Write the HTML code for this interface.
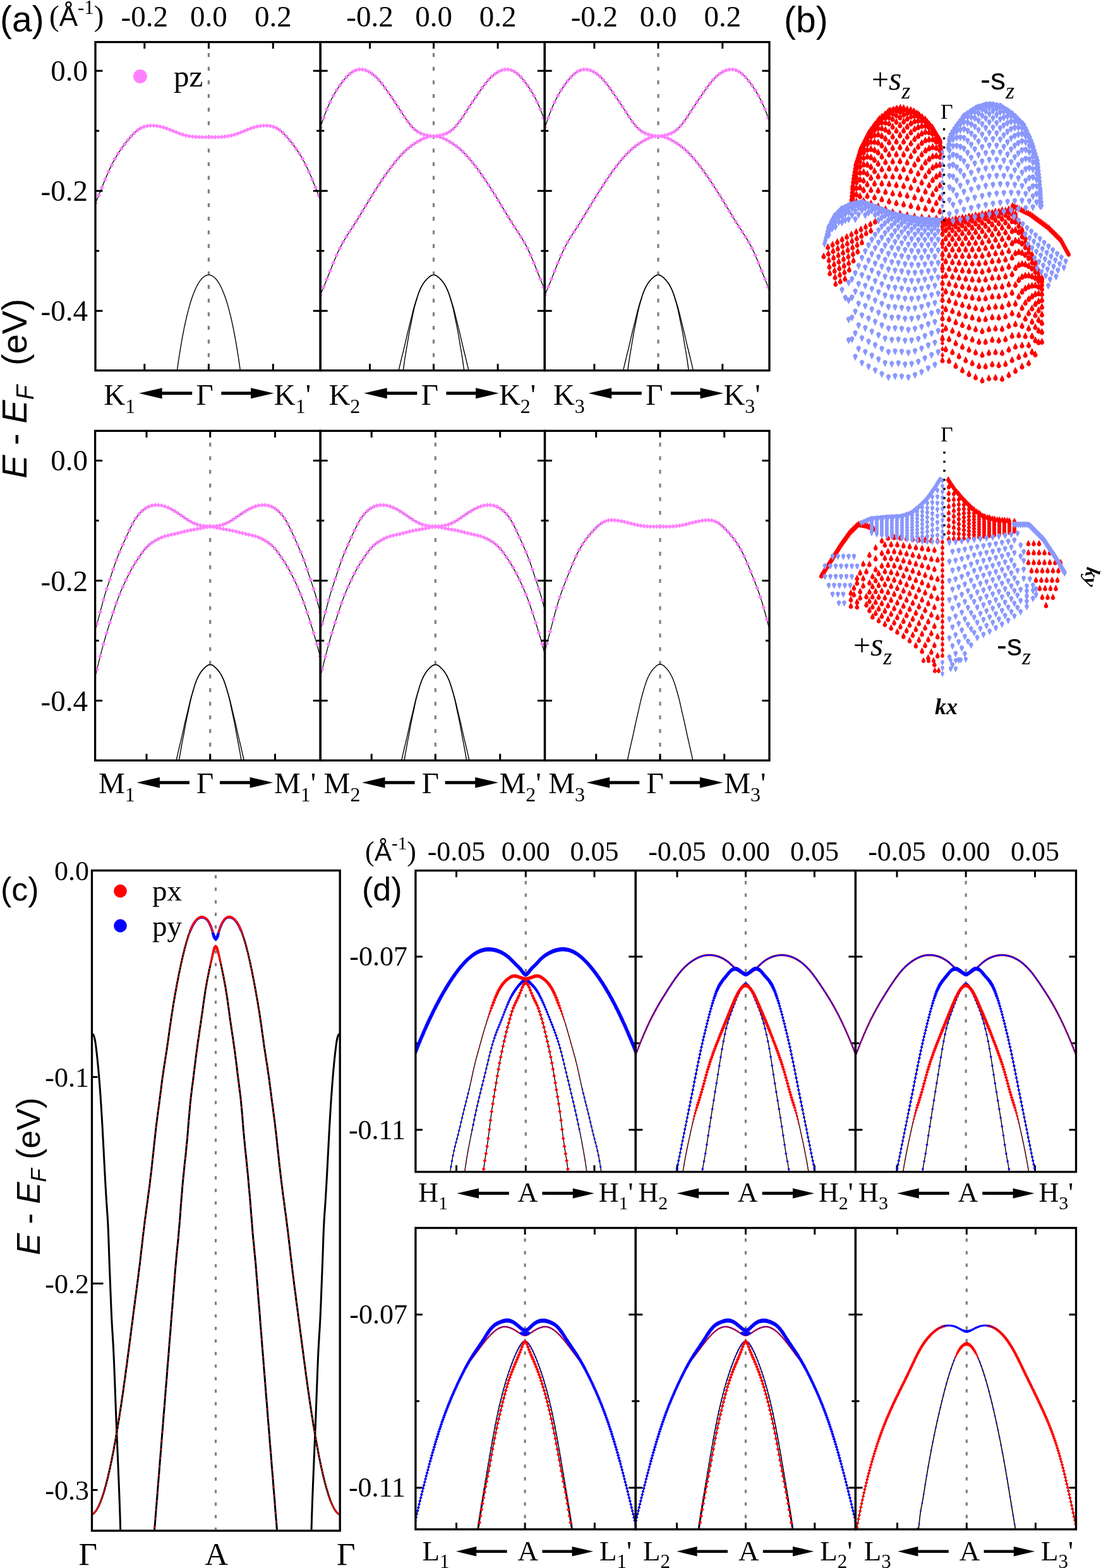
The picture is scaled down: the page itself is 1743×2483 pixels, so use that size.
<!DOCTYPE html><html><head><meta charset="utf-8"><title>Band structure figure</title><style>html,body{margin:0;padding:0;background:#fff;}svg{display:block;}</style></head><body><svg xmlns="http://www.w3.org/2000/svg" width="1743" height="2483" viewBox="0 0 1743 2483"><defs><clipPath id="aT0"><rect x="151" y="66.6" width="356.2" height="520.1"/></clipPath><clipPath id="aT1"><rect x="507.2" y="66.6" width="355.1" height="520.1"/></clipPath><clipPath id="aT2"><rect x="862.3" y="66.6" width="355.7" height="520.1"/></clipPath><clipPath id="aB0"><rect x="150.6" y="682.3" width="356.6" height="521.9"/></clipPath><clipPath id="aB1"><rect x="507.2" y="682.3" width="355.3" height="521.9"/></clipPath><clipPath id="aB2"><rect x="862.5" y="682.3" width="355.5" height="521.9"/></clipPath><clipPath id="cc"><rect x="145.5" y="1378.5" width="392.7" height="1045.5"/></clipPath><clipPath id="dT0"><rect x="657.9" y="1378.6" width="348.4" height="477.1"/></clipPath><clipPath id="dT1"><rect x="1006.3" y="1378.6" width="348.1" height="477.1"/></clipPath><clipPath id="dT2"><rect x="1354.4" y="1378.6" width="349.1" height="477.1"/></clipPath><clipPath id="dB0"><rect x="657.9" y="1944.5" width="348.4" height="477.3"/></clipPath><clipPath id="dB1"><rect x="1006.3" y="1944.5" width="348.1" height="477.3"/></clipPath><clipPath id="dB2"><rect x="1354.4" y="1944.5" width="349.1" height="477.3"/></clipPath><marker id="m0" markerUnits="userSpaceOnUse" viewBox="-3.6 -3.6 7.2 7.2" markerWidth="7.2" markerHeight="7.2" refX="0" refY="0" overflow="visible"><path d="M0,-3.6L3.6,0L0,3.6L-3.6,0z" fill="#ff80ff"/></marker><marker id="m1" markerUnits="userSpaceOnUse" viewBox="-1.6 -1.6 3.2 3.2" markerWidth="3.2" markerHeight="3.2" refX="0" refY="0" overflow="visible"><path d="M0,-1.6L1.6,0L0,1.6L-1.6,0z" fill="#ff0000"/></marker><marker id="m2" markerUnits="userSpaceOnUse" viewBox="-2.4 -2.4 4.8 4.8" markerWidth="4.8" markerHeight="4.8" refX="0" refY="0" overflow="visible"><path d="M0,-2.4L2.4,0L0,2.4L-2.4,0z" fill="#0000ff"/></marker><marker id="m3" markerUnits="userSpaceOnUse" viewBox="-2.0 -2.0 4.0 4.0" markerWidth="4.0" markerHeight="4.0" refX="0" refY="0" overflow="visible"><path d="M0,-2.0L2.0,0L0,2.0L-2.0,0z" fill="#ff0000"/></marker><marker id="m4" markerUnits="userSpaceOnUse" viewBox="-1.8 -1.8 3.6 3.6" markerWidth="3.6" markerHeight="3.6" refX="0" refY="0" overflow="visible"><path d="M0,-1.8L1.8,0L0,1.8L-1.8,0z" fill="#ff0000"/></marker><marker id="m5" markerUnits="userSpaceOnUse" viewBox="-2.2 -2.2 4.4 4.4" markerWidth="4.4" markerHeight="4.4" refX="0" refY="0" overflow="visible"><path d="M0,-2.2L2.2,0L0,2.2L-2.2,0z" fill="#ff0000"/></marker><marker id="m6" markerUnits="userSpaceOnUse" viewBox="-2.4 -2.4 4.8 4.8" markerWidth="4.8" markerHeight="4.8" refX="0" refY="0" overflow="visible"><path d="M0,-2.4L2.4,0L0,2.4L-2.4,0z" fill="#ff0000"/></marker><marker id="m7" markerUnits="userSpaceOnUse" viewBox="-2.6 -2.6 5.2 5.2" markerWidth="5.2" markerHeight="5.2" refX="0" refY="0" overflow="visible"><path d="M0,-2.6L2.6,0L0,2.6L-2.6,0z" fill="#ff0000"/></marker><marker id="m8" markerUnits="userSpaceOnUse" viewBox="-2.8 -2.8 5.6 5.6" markerWidth="5.6" markerHeight="5.6" refX="0" refY="0" overflow="visible"><path d="M0,-2.8L2.8,0L0,2.8L-2.8,0z" fill="#ff0000"/></marker><marker id="m9" markerUnits="userSpaceOnUse" viewBox="-3.0 -3.0 6.0 6.0" markerWidth="6.0" markerHeight="6.0" refX="0" refY="0" overflow="visible"><path d="M0,-3.0L3.0,0L0,3.0L-3.0,0z" fill="#ff0000"/></marker><marker id="m10" markerUnits="userSpaceOnUse" viewBox="-3.0 -3.0 6.0 6.0" markerWidth="6.0" markerHeight="6.0" refX="0" refY="0" overflow="visible"><path d="M0,-3.0L3.0,0L0,3.0L-3.0,0z" fill="#0000ff"/></marker><marker id="m11" markerUnits="userSpaceOnUse" viewBox="-0.8 -0.8 1.6 1.6" markerWidth="1.6" markerHeight="1.6" refX="0" refY="0" overflow="visible"><path d="M0,-0.8L0.8,0L0,0.8L-0.8,0z" fill="#0000ff"/></marker><marker id="m12" markerUnits="userSpaceOnUse" viewBox="-1.8 -1.8 3.6 3.6" markerWidth="3.6" markerHeight="3.6" refX="0" refY="0" overflow="visible"><path d="M0,-1.8L1.8,0L0,1.8L-1.8,0z" fill="#0000ff"/></marker><marker id="m13" markerUnits="userSpaceOnUse" viewBox="-2.2 -2.2 4.4 4.4" markerWidth="4.4" markerHeight="4.4" refX="0" refY="0" overflow="visible"><path d="M0,-2.2L2.2,0L0,2.2L-2.2,0z" fill="#0000ff"/></marker><marker id="m14" markerUnits="userSpaceOnUse" viewBox="-2.6 -2.6 5.2 5.2" markerWidth="5.2" markerHeight="5.2" refX="0" refY="0" overflow="visible"><path d="M0,-2.6L2.6,0L0,2.6L-2.6,0z" fill="#0000ff"/></marker><marker id="m15" markerUnits="userSpaceOnUse" viewBox="-2.8 -2.8 5.6 5.6" markerWidth="5.6" markerHeight="5.6" refX="0" refY="0" overflow="visible"><path d="M0,-2.8L2.8,0L0,2.8L-2.8,0z" fill="#0000ff"/></marker><marker id="m16" markerUnits="userSpaceOnUse" viewBox="-3.2 -3.2 6.4 6.4" markerWidth="6.4" markerHeight="6.4" refX="0" refY="0" overflow="visible"><path d="M0,-3.2L3.2,0L0,3.2L-3.2,0z" fill="#0000ff"/></marker><marker id="m17" markerUnits="userSpaceOnUse" viewBox="-1.2 -1.2 2.4 2.4" markerWidth="2.4" markerHeight="2.4" refX="0" refY="0" overflow="visible"><path d="M0,-1.2L1.2,0L0,1.2L-1.2,0z" fill="#ff0000"/></marker><marker id="m18" markerUnits="userSpaceOnUse" viewBox="-0.6 -0.6 1.2 1.2" markerWidth="1.2" markerHeight="1.2" refX="0" refY="0" overflow="visible"><path d="M0,-0.6L0.6,0L0,0.6L-0.6,0z" fill="#ff0000"/></marker><marker id="m19" markerUnits="userSpaceOnUse" viewBox="-0.2 -0.2 0.4 0.4" markerWidth="0.4" markerHeight="0.4" refX="0" refY="0" overflow="visible"><path d="M0,-0.2L0.2,0L0,0.2L-0.2,0z" fill="#ff0000"/></marker><marker id="m20" markerUnits="userSpaceOnUse" viewBox="-0.4 -0.4 0.8 0.8" markerWidth="0.8" markerHeight="0.8" refX="0" refY="0" overflow="visible"><path d="M0,-0.4L0.4,0L0,0.4L-0.4,0z" fill="#ff0000"/></marker><marker id="m21" markerUnits="userSpaceOnUse" viewBox="-1.0 -1.0 2.0 2.0" markerWidth="2.0" markerHeight="2.0" refX="0" refY="0" overflow="visible"><path d="M0,-1.0L1.0,0L0,1.0L-1.0,0z" fill="#ff0000"/></marker><marker id="m22" markerUnits="userSpaceOnUse" viewBox="-1.4 -1.4 2.8 2.8" markerWidth="2.8" markerHeight="2.8" refX="0" refY="0" overflow="visible"><path d="M0,-1.4L1.4,0L0,1.4L-1.4,0z" fill="#ff0000"/></marker><marker id="m23" markerUnits="userSpaceOnUse" viewBox="-3.2 -3.2 6.4 6.4" markerWidth="6.4" markerHeight="6.4" refX="0" refY="0" overflow="visible"><path d="M0,-3.2L3.2,0L0,3.2L-3.2,0z" fill="#ff0000"/></marker><marker id="m24" markerUnits="userSpaceOnUse" viewBox="-2.0 -2.0 4.0 4.0" markerWidth="4.0" markerHeight="4.0" refX="0" refY="0" overflow="visible"><path d="M0,-2.0L2.0,0L0,2.0L-2.0,0z" fill="#0000ff"/></marker><marker id="m25" markerUnits="userSpaceOnUse" viewBox="-1.4 -1.4 2.8 2.8" markerWidth="2.8" markerHeight="2.8" refX="0" refY="0" overflow="visible"><path d="M0,-1.4L1.4,0L0,1.4L-1.4,0z" fill="#0000ff"/></marker><marker id="m26" markerUnits="userSpaceOnUse" viewBox="-0.4 -0.4 0.8 0.8" markerWidth="0.8" markerHeight="0.8" refX="0" refY="0" overflow="visible"><path d="M0,-0.4L0.4,0L0,0.4L-0.4,0z" fill="#0000ff"/></marker><marker id="m27" markerUnits="userSpaceOnUse" viewBox="-3.6 -3.6 7.2 7.2" markerWidth="7.2" markerHeight="7.2" refX="0" refY="0" overflow="visible"><path d="M0,-3.6L3.6,0L0,3.6L-3.6,0z" fill="#0000ff"/></marker><marker id="m28" markerUnits="userSpaceOnUse" viewBox="-3.4 -3.4 6.8 6.8" markerWidth="6.8" markerHeight="6.8" refX="0" refY="0" overflow="visible"><path d="M0,-3.4L3.4,0L0,3.4L-3.4,0z" fill="#0000ff"/></marker><marker id="m29" markerUnits="userSpaceOnUse" viewBox="-1.6 -1.6 3.2 3.2" markerWidth="3.2" markerHeight="3.2" refX="0" refY="0" overflow="visible"><path d="M0,-1.6L1.6,0L0,1.6L-1.6,0z" fill="#0000ff"/></marker><marker id="m30" markerUnits="userSpaceOnUse" viewBox="-0.8 -0.8 1.6 1.6" markerWidth="1.6" markerHeight="1.6" refX="0" refY="0" overflow="visible"><path d="M0,-0.8L0.8,0L0,0.8L-0.8,0z" fill="#ff0000"/></marker><marker id="m31" markerUnits="userSpaceOnUse" viewBox="-0.2 -0.2 0.4 0.4" markerWidth="0.4" markerHeight="0.4" refX="0" refY="0" overflow="visible"><path d="M0,-0.2L0.2,0L0,0.2L-0.2,0z" fill="#0000ff"/></marker><marker id="m32" markerUnits="userSpaceOnUse" viewBox="-0.6 -0.6 1.2 1.2" markerWidth="1.2" markerHeight="1.2" refX="0" refY="0" overflow="visible"><path d="M0,-0.6L0.6,0L0,0.6L-0.6,0z" fill="#0000ff"/></marker><marker id="m33" markerUnits="userSpaceOnUse" viewBox="-1.0 -1.0 2.0 2.0" markerWidth="2.0" markerHeight="2.0" refX="0" refY="0" overflow="visible"><path d="M0,-1.0L1.0,0L0,1.0L-1.0,0z" fill="#0000ff"/></marker><marker id="m34" markerUnits="userSpaceOnUse" viewBox="-1.2 -1.2 2.4 2.4" markerWidth="2.4" markerHeight="2.4" refX="0" refY="0" overflow="visible"><path d="M0,-1.2L1.2,0L0,1.2L-1.2,0z" fill="#0000ff"/></marker></defs><rect width="1743" height="2483" fill="#fff"/><line x1="330.4" y1="84.1" x2="330.4" y2="584.7" stroke="#808080" stroke-width="3.2" stroke-dasharray="6.2 15.4"/>
<line x1="686.5" y1="84.1" x2="686.5" y2="584.7" stroke="#808080" stroke-width="3.2" stroke-dasharray="6.2 15.4"/>
<line x1="1042" y1="84.1" x2="1042" y2="584.7" stroke="#808080" stroke-width="3.2" stroke-dasharray="6.2 15.4"/>
<line x1="151" y1="112.2" x2="162.5" y2="112.2" stroke="#000" stroke-width="3" />
<line x1="151" y1="207.2" x2="157" y2="207.2" stroke="#000" stroke-width="3" />
<line x1="151" y1="302.3" x2="162.5" y2="302.3" stroke="#000" stroke-width="3" />
<line x1="151" y1="397.3" x2="157" y2="397.3" stroke="#000" stroke-width="3" />
<line x1="151" y1="492.3" x2="162.5" y2="492.3" stroke="#000" stroke-width="3" />
<line x1="495.7" y1="112.2" x2="518.7" y2="112.2" stroke="#000" stroke-width="3" />
<line x1="501.2" y1="207.2" x2="513.2" y2="207.2" stroke="#000" stroke-width="3" />
<line x1="495.7" y1="302.3" x2="518.7" y2="302.3" stroke="#000" stroke-width="3" />
<line x1="501.2" y1="397.3" x2="513.2" y2="397.3" stroke="#000" stroke-width="3" />
<line x1="495.7" y1="492.3" x2="518.7" y2="492.3" stroke="#000" stroke-width="3" />
<line x1="850.8" y1="112.2" x2="873.8" y2="112.2" stroke="#000" stroke-width="3" />
<line x1="856.3" y1="207.2" x2="868.3" y2="207.2" stroke="#000" stroke-width="3" />
<line x1="850.8" y1="302.3" x2="873.8" y2="302.3" stroke="#000" stroke-width="3" />
<line x1="856.3" y1="397.3" x2="868.3" y2="397.3" stroke="#000" stroke-width="3" />
<line x1="850.8" y1="492.3" x2="873.8" y2="492.3" stroke="#000" stroke-width="3" />
<line x1="1206.5" y1="112.2" x2="1218" y2="112.2" stroke="#000" stroke-width="3" />
<line x1="1212" y1="207.2" x2="1218" y2="207.2" stroke="#000" stroke-width="3" />
<line x1="1206.5" y1="302.3" x2="1218" y2="302.3" stroke="#000" stroke-width="3" />
<line x1="1212" y1="397.3" x2="1218" y2="397.3" stroke="#000" stroke-width="3" />
<line x1="1206.5" y1="492.3" x2="1218" y2="492.3" stroke="#000" stroke-width="3" />
<line x1="228.8" y1="66.6" x2="228.8" y2="77.1" stroke="#000" stroke-width="3" />
<line x1="330.4" y1="66.6" x2="330.4" y2="77.1" stroke="#000" stroke-width="3" />
<line x1="432.3" y1="66.6" x2="432.3" y2="77.1" stroke="#000" stroke-width="3" />
<line x1="228.8" y1="576.2" x2="228.8" y2="586.7" stroke="#000" stroke-width="3" />
<line x1="330.4" y1="576.2" x2="330.4" y2="586.7" stroke="#000" stroke-width="3" />
<line x1="432.3" y1="576.2" x2="432.3" y2="586.7" stroke="#000" stroke-width="3" />
<line x1="585.5" y1="66.6" x2="585.5" y2="77.1" stroke="#000" stroke-width="3" />
<line x1="686.5" y1="66.6" x2="686.5" y2="77.1" stroke="#000" stroke-width="3" />
<line x1="788.1" y1="66.6" x2="788.1" y2="77.1" stroke="#000" stroke-width="3" />
<line x1="585.5" y1="576.2" x2="585.5" y2="586.7" stroke="#000" stroke-width="3" />
<line x1="686.5" y1="576.2" x2="686.5" y2="586.7" stroke="#000" stroke-width="3" />
<line x1="788.1" y1="576.2" x2="788.1" y2="586.7" stroke="#000" stroke-width="3" />
<line x1="940.9" y1="66.6" x2="940.9" y2="77.1" stroke="#000" stroke-width="3" />
<line x1="1042" y1="66.6" x2="1042" y2="77.1" stroke="#000" stroke-width="3" />
<line x1="1143.8" y1="66.6" x2="1143.8" y2="77.1" stroke="#000" stroke-width="3" />
<line x1="940.9" y1="576.2" x2="940.9" y2="586.7" stroke="#000" stroke-width="3" />
<line x1="1042" y1="576.2" x2="1042" y2="586.7" stroke="#000" stroke-width="3" />
<line x1="1143.8" y1="576.2" x2="1143.8" y2="586.7" stroke="#000" stroke-width="3" />
<line x1="332.7" y1="700.9" x2="332.7" y2="1202.2" stroke="#808080" stroke-width="3.2" stroke-dasharray="6.2 15.4"/>
<line x1="689.3" y1="700.9" x2="689.3" y2="1202.2" stroke="#808080" stroke-width="3.2" stroke-dasharray="6.2 15.4"/>
<line x1="1045" y1="700.9" x2="1045" y2="1202.2" stroke="#808080" stroke-width="3.2" stroke-dasharray="6.2 15.4"/>
<line x1="150.6" y1="729.4" x2="162.1" y2="729.4" stroke="#000" stroke-width="3" />
<line x1="150.6" y1="824.4" x2="156.6" y2="824.4" stroke="#000" stroke-width="3" />
<line x1="150.6" y1="919.5" x2="162.1" y2="919.5" stroke="#000" stroke-width="3" />
<line x1="150.6" y1="1014.5" x2="156.6" y2="1014.5" stroke="#000" stroke-width="3" />
<line x1="150.6" y1="1109.5" x2="162.1" y2="1109.5" stroke="#000" stroke-width="3" />
<line x1="495.7" y1="729.4" x2="518.7" y2="729.4" stroke="#000" stroke-width="3" />
<line x1="501.2" y1="824.4" x2="513.2" y2="824.4" stroke="#000" stroke-width="3" />
<line x1="495.7" y1="919.5" x2="518.7" y2="919.5" stroke="#000" stroke-width="3" />
<line x1="501.2" y1="1014.5" x2="513.2" y2="1014.5" stroke="#000" stroke-width="3" />
<line x1="495.7" y1="1109.5" x2="518.7" y2="1109.5" stroke="#000" stroke-width="3" />
<line x1="851" y1="729.4" x2="874" y2="729.4" stroke="#000" stroke-width="3" />
<line x1="856.5" y1="824.4" x2="868.5" y2="824.4" stroke="#000" stroke-width="3" />
<line x1="851" y1="919.5" x2="874" y2="919.5" stroke="#000" stroke-width="3" />
<line x1="856.5" y1="1014.5" x2="868.5" y2="1014.5" stroke="#000" stroke-width="3" />
<line x1="851" y1="1109.5" x2="874" y2="1109.5" stroke="#000" stroke-width="3" />
<line x1="1206.5" y1="729.4" x2="1218" y2="729.4" stroke="#000" stroke-width="3" />
<line x1="1212" y1="824.4" x2="1218" y2="824.4" stroke="#000" stroke-width="3" />
<line x1="1206.5" y1="919.5" x2="1218" y2="919.5" stroke="#000" stroke-width="3" />
<line x1="1212" y1="1014.5" x2="1218" y2="1014.5" stroke="#000" stroke-width="3" />
<line x1="1206.5" y1="1109.5" x2="1218" y2="1109.5" stroke="#000" stroke-width="3" />
<line x1="232" y1="682.3" x2="232" y2="692.8" stroke="#000" stroke-width="3" />
<line x1="332.7" y1="682.3" x2="332.7" y2="692.8" stroke="#000" stroke-width="3" />
<line x1="435.5" y1="682.3" x2="435.5" y2="692.8" stroke="#000" stroke-width="3" />
<line x1="232" y1="1193.7" x2="232" y2="1204.2" stroke="#000" stroke-width="3" />
<line x1="332.7" y1="1193.7" x2="332.7" y2="1204.2" stroke="#000" stroke-width="3" />
<line x1="435.5" y1="1193.7" x2="435.5" y2="1204.2" stroke="#000" stroke-width="3" />
<line x1="588.2" y1="682.3" x2="588.2" y2="692.8" stroke="#000" stroke-width="3" />
<line x1="689.3" y1="682.3" x2="689.3" y2="692.8" stroke="#000" stroke-width="3" />
<line x1="791.7" y1="682.3" x2="791.7" y2="692.8" stroke="#000" stroke-width="3" />
<line x1="588.2" y1="1193.7" x2="588.2" y2="1204.2" stroke="#000" stroke-width="3" />
<line x1="689.3" y1="1193.7" x2="689.3" y2="1204.2" stroke="#000" stroke-width="3" />
<line x1="791.7" y1="1193.7" x2="791.7" y2="1204.2" stroke="#000" stroke-width="3" />
<line x1="943.7" y1="682.3" x2="943.7" y2="692.8" stroke="#000" stroke-width="3" />
<line x1="1045" y1="682.3" x2="1045" y2="692.8" stroke="#000" stroke-width="3" />
<line x1="1146.7" y1="682.3" x2="1146.7" y2="692.8" stroke="#000" stroke-width="3" />
<line x1="943.7" y1="1193.7" x2="943.7" y2="1204.2" stroke="#000" stroke-width="3" />
<line x1="1045" y1="1193.7" x2="1045" y2="1204.2" stroke="#000" stroke-width="3" />
<line x1="1146.7" y1="1193.7" x2="1146.7" y2="1204.2" stroke="#000" stroke-width="3" />
<path d="M149.0,327.6l1.5-4.1 1.5-3.8 1.5-3.7 1.5-3.6 1.5-3.5 1.5-3.7 1.5-3.7 1.5-3.7 1.5-3.7 1.5-3.8 1.5-3.7 1.5-3.6 1.5-3.6 1.5-3.5 1.5-3.4 1.5-3.4 1.5-3.2 1.5-3.1 1.5-3 1.5-2.9 1.5-2.8 1.5-2.6 1.5-2.6 1.5-2.5 1.5-2.5 1.5-2.3 1.5-2.3 1.5-2.3 1.5-2.1 1.5-2.1 1.5-2.1 1.5-2 1.5-1.9 1.5-1.9 1.5-1.9 1.5-1.8 1.5-1.8 1.5-1.7 1.5-1.7 1.5-1.6 1.5-1.6 1.5-1.5 1.5-1.4 1.5-1.4 1.5-1.3 1.5-1.2 1.5-1 1.5-1 1.5-0.9 1.5-0.8 1.5-0.7 1.5-0.6 1.5-0.5 1.5-0.4 1.5-0.4 1.5-0.2 1.5-0.3 1.5-0.1 1.5-0.1 1.5-0.1 1.5,0 1.5,0 1.5,0.1 1.5,0.1 1.5,0.1 1.5,0.2 1.5,0.2 1.5,0.2 1.5,0.3 1.5,0.3 1.5,0.4 1.5,0.4 1.5,0.4 1.5,0.5 1.5,0.5 1.5,0.5 1.5,0.5 1.5,0.6 1.5,0.5 1.5,0.6 1.5,0.6 1.5,0.6 1.5,0.6 1.5,0.7 1.5,0.6 1.5,0.6 1.5,0.6 1.5,0.6 1.5,0.6 1.5,0.6 1.5,0.5 1.5,0.5 1.5,0.5 1.5,0.5 1.5,0.4 1.5,0.4 1.5,0.4 1.5,0.3 1.5,0.3 1.5,0.3 1.5,0.3 1.5,0.2 1.5,0.2 1.5,0.1 1.5,0.2 1.5,0.1 1.5,0.1 1.5,0.1 1.5,0.1 1.5,0.1 1.5,0 1.5,0.1 1.5,0 1.5,0.1 1.5,0 1.5,0 1.5,0 1.5,0 1.5,0 1.5,0 1.5,0 1.5,0 1.5,0 1.5,0 1.5,0 1.5,0 1.5,0 1.5,0 1.5-0.1 1.5,0 1.5-0.1 1.5,0 1.5-0.1 1.5-0.1 1.5-0.1 1.5-0.1 1.5-0.1 1.5-0.2 1.5-0.2 1.5-0.2 1.5-0.2 1.5-0.2 1.5-0.3 1.5-0.3 1.5-0.4 1.5-0.3 1.5-0.4 1.5-0.5 1.5-0.4 1.5-0.5 1.5-0.6 1.5-0.5 1.5-0.6 1.5-0.6 1.5-0.6 1.5-0.6 1.5-0.6 1.5-0.6 1.5-0.6 1.5-0.6 1.5-0.7 1.5-0.6 1.5-0.5 1.5-0.6 1.5-0.6 1.5-0.5 1.5-0.5 1.5-0.5 1.5-0.4 1.5-0.5 1.5-0.4 1.5-0.3 1.5-0.3 1.5-0.3 1.5-0.2 1.5-0.2 1.5-0.2 1.5-0.1 1.5-0.1 1.5-0.1 1.5,0 1.5,0 1.5,0.1 1.5,0.1 1.5,0.2 1.5,0.2 1.5,0.3 1.5,0.3 1.5,0.5 1.5,0.5 1.5,0.6 1.5,0.7 1.5,0.8 1.5,0.9 1.5,1 1.5,1.1 1.5,1.2 1.5,1.3 1.5,1.3 1.5,1.5 1.5,1.5 1.5,1.6 1.5,1.6 1.5,1.7 1.5,1.7 1.5,1.8 1.5,1.8 1.5,1.9 1.5,1.9 1.5,2 1.5,2 1.5,2 1.5,2.2 1.5,2.1 1.5,2.3 1.5,2.3 1.5,2.3 1.5,2.5 1.5,2.5 1.5,2.6 1.5,2.7 1.5,2.8 1.5,2.9 1.5,3 1.5,3.1 1.5,3.3 1.5,3.3 1.5,3.4 1.5,3.5 1.5,3.6 1.5,3.7 1.5,3.7 1.5,3.8 1.5,3.7 1.5,3.7 1.5,3.7 1.5,3.6 1.5,3.6 1.5,3.6 1.5,3.7" fill="none" stroke="#000" stroke-width="1.3" stroke-linejoin="round" clip-path="url(#aT0)"/>
<path d="M146.1,336.3l5.1-14.6 5.1-12.4 5.1-12.6 5.2-12.7 5.1-11.9 5.1-10.9 5.1-9.6 5.1-8.5 5.2-7.7 5.1-7.1 5.1-6.4 5.1-5.9 5.1-5.3 5.2-4.5 5.1-3.3 5.1-2.2 5.1-1.3 5.1-0.5 5.2,0.1 5.1,0.4 5.1,1 5.1,1.3 5.1,1.7 5.2,1.9 5.1,2.1 5.1,2.1 5.1,2 5.1,1.7 5.2,1.4 5.1,1 5.1,0.7 5.1,0.5 5.1,0.2 5.2,0.2 5.1,0 5.1,0 5.1,0 5.1,0 5.2-0.2 5.1-0.2 5.1-0.5 5.1-0.7 5.1-1 5.2-1.4 5.1-1.7 5.1-2 5.1-2.1 5.1-2.1 5.2-1.9 5.1-1.7 5.1-1.3 5.1-1 5.1-0.4 5.2-0.1 5.1,0.5 5.1,1.3 5.1,2.2 5.1,3.3 5.2,4.5 5.1,5.3 5.1,5.9 5.1,6.4 5.1,7.1 5.2,7.7 5.1,8.5 5.1,9.6 5.1,10.9 5.1,11.9 5.2,12.7 5.1,12.6 5.1,12.4" fill="none" stroke="none" marker-start="url(#m0)" marker-mid="url(#m0)" marker-end="url(#m0)" clip-path="url(#aT0)"/>
<path d="M505.2,208.1l1.5-4.7 1.5-4.6 1.5-4.5 1.5-4.3 1.5-4.3 1.5-4.1 1.5-3.9 1.5-3.8 1.5-3.7 1.5-3.4 1.5-3.4 1.5-3.2 1.5-3 1.5-2.9 1.5-2.8 1.5-2.7 1.5-2.5 1.5-2.4 1.5-2.4 1.5-2.2 1.5-2.2 1.5-2.2 1.5-2 1.5-2.1 1.5-1.9 1.5-1.9 1.5-1.9 1.5-1.7 1.5-1.7 1.5-1.6 1.5-1.4 1.5-1.4 1.5-1.2 1.5-1.1 1.5-1 1.5-0.9 1.5-0.8 1.5-0.6 1.5-0.6 1.5-0.5 1.5-0.3 1.5-0.2 1.5-0.2 1.5,0 1.5,0 1.5,0.2 1.5,0.3 1.5,0.3 1.5,0.5 1.5,0.5 1.5,0.7 1.5,0.7 1.5,0.8 1.5,0.9 1.5,1 1.5,1 1.5,1.2 1.5,1.2 1.5,1.3 1.5,1.4 1.5,1.5 1.5,1.6 1.5,1.6 1.5,1.7 1.5,1.8 1.5,1.9 1.5,1.9 1.5,2 1.5,2 1.5,2.1 1.5,2.1 1.5,2.1 1.5,2.2 1.5,2.2 1.5,2.1 1.5,2.2 1.5,2.3 1.5,2.2 1.5,2.2 1.5,2.2 1.5,2.3 1.5,2.2 1.5,2.3 1.5,2.3 1.5,2.3 1.5,2.3 1.5,2.3 1.5,2.3 1.5,2.3 1.5,2.3 1.5,2.2 1.5,2.2 1.5,2.2 1.5,2.1 1.5,1.9 1.5,1.9 1.5,1.8 1.5,1.7 1.5,1.6 1.5,1.4 1.5,1.4 1.5,1.2 1.5,1.1 1.5,1.1 1.5,0.9 1.5,0.8 1.5,0.8 1.5,0.6 1.5,0.6 1.5,0.6 1.5,0.4 1.5,0.4 1.5,0.4 1.5,0.3 1.5,0.4 1.5,0.2 1.5,0.3 1.5,0.2 1.5,0.2 1.5,0.1 1.5,0 1.5,0 1.5-0.2 1.5-0.1 1.5-0.3 1.5-0.2 1.5-0.3 1.5-0.4 1.5-0.3 1.5-0.4 1.5-0.4 1.5-0.5 1.5-0.5 1.5-0.6 1.5-0.7 1.5-0.8 1.5-0.8 1.5-1 1.5-1.1 1.5-1.1 1.5-1.3 1.5-1.4 1.5-1.4 1.5-1.6 1.5-1.7 1.5-1.9 1.5-1.9 1.5-2 1.5-2.1 1.5-2.2 1.5-2.2 1.5-2.2 1.5-2.3 1.5-2.3 1.5-2.3 1.5-2.4 1.5-2.3 1.5-2.2 1.5-2.3 1.5-2.3 1.5-2.2 1.5-2.3 1.5-2.2 1.5-2.2 1.5-2.2 1.5-2.2 1.5-2.2 1.5-2.2 1.5-2.2 1.5-2.2 1.5-2.1 1.5-2.1 1.5-2.1 1.5-2 1.5-1.9 1.5-1.9 1.5-1.9 1.5-1.7 1.5-1.7 1.5-1.7 1.5-1.5 1.5-1.4 1.5-1.4 1.5-1.3 1.5-1.2 1.5-1.2 1.5-1 1.5-1 1.5-0.8 1.5-0.8 1.5-0.7 1.5-0.6 1.5-0.6 1.5-0.4 1.5-0.3 1.5-0.2 1.5-0.2 1.5,0 1.5,0 1.5,0.2 1.5,0.3 1.5,0.4 1.5,0.4 1.5,0.6 1.5,0.7 1.5,0.8 1.5,0.9 1.5,1.1 1.5,1.1 1.5,1.3 1.5,1.4 1.5,1.5 1.5,1.5 1.5,1.7 1.5,1.8 1.5,1.9 1.5,1.9 1.5,2 1.5,2 1.5,2.1 1.5,2.1 1.5,2.3 1.5,2.2 1.5,2.4 1.5,2.5 1.5,2.5 1.5,2.7 1.5,2.8 1.5,3 1.5,3.1 1.5,3.2 1.5,3.4 1.5,3.5 1.5,3.7 1.5,3.8 1.5,4 1.5,4.2 1.5,4.2 1.5,4.4" fill="none" stroke="#000" stroke-width="1.3" stroke-linejoin="round" clip-path="url(#aT1)"/>
<path d="M502.2,217.8l5.1-16.3 5.1-15 5.1-13.5 5.2-11.6 5.1-10 5.1-8.6 5.1-7.6 5.1-6.9 5.2-6.1 5.1-5 5.1-3.7 5.1-2.4 5.1-1.1 5.2,0.1 5.1,1.2 5.1,2.3 5.1,3.3 5.1,4.2 5.2,5.2 5.1,6.1 5.1,6.9 5.1,7.2 5.1,7.5 5.2,7.6 5.1,7.7 5.1,7.9 5.1,7.8 5.1,7.4 5.2,6.6 5.1,5.3 5.1,4 5.1,2.8 5.1,1.9 5.2,1.3 5.1,1 5.1,0.4 5.1-0.4 5.1-1 5.2-1.3 5.1-1.9 5.1-2.8 5.1-4 5.1-5.3 5.2-6.6 5.1-7.4 5.1-7.8 5.1-7.9 5.1-7.7 5.2-7.6 5.1-7.5 5.1-7.2 5.1-6.9 5.1-6.1 5.2-5.2 5.1-4.2 5.1-3.3 5.1-2.3 5.1-1.2 5.2-0.1 5.1,1.1 5.1,2.4 5.1,3.7 5.1,5 5.2,6.1 5.1,6.9 5.1,7.6 5.1,8.6 5.1,10 5.2,11.6 5.1,13.5 5.1,15" fill="none" stroke="none" marker-start="url(#m0)" marker-mid="url(#m0)" marker-end="url(#m0)" clip-path="url(#aT1)"/>
<path d="M505.2,472.0l1.5-3.7 1.5-3.7 1.5-3.6 1.5-3.6 1.5-3.5 1.5-3.6 1.5-3.7 1.5-3.8 1.5-3.7 1.5-3.8 1.5-3.8 1.5-3.8 1.5-3.8 1.5-3.8 1.5-3.7 1.5-3.6 1.5-3.6 1.5-3.5 1.5-3.4 1.5-3.3 1.5-3.1 1.5-3.1 1.5-2.9 1.5-2.9 1.5-2.7 1.5-2.6 1.5-2.5 1.5-2.5 1.5-2.4 1.5-2.4 1.5-2.3 1.5-2.3 1.5-2.3 1.5-2.3 1.5-2.3 1.5-2.3 1.5-2.4 1.5-2.3 1.5-2.4 1.5-2.5 1.5-2.4 1.5-2.5 1.5-2.4 1.5-2.5 1.5-2.5 1.5-2.5 1.5-2.5 1.5-2.4 1.5-2.5 1.5-2.5 1.5-2.5 1.5-2.4 1.5-2.5 1.5-2.4 1.5-2.4 1.5-2.4 1.5-2.5 1.5-2.3 1.5-2.4 1.5-2.4 1.5-2.3 1.5-2.4 1.5-2.3 1.5-2.3 1.5-2.2 1.5-2.3 1.5-2.2 1.5-2.2 1.5-2.2 1.5-2.1 1.5-2.2 1.5-2.1 1.5-2.1 1.5-2 1.5-2 1.5-2 1.5-2 1.5-1.9 1.5-1.9 1.5-1.9 1.5-1.9 1.5-1.8 1.5-1.7 1.5-1.8 1.5-1.6 1.5-1.7 1.5-1.6 1.5-1.6 1.5-1.5 1.5-1.5 1.5-1.4 1.5-1.4 1.5-1.3 1.5-1.3 1.5-1.3 1.5-1.2 1.5-1.1 1.5-1.1 1.5-1.1 1.5-1 1.5-1 1.5-1 1.5-0.9 1.5-0.9 1.5-0.9 1.5-0.8 1.5-0.9 1.5-0.8 1.5-0.7 1.5-0.8 1.5-0.6 1.5-0.7 1.5-0.5 1.5-0.5 1.5-0.4 1.5-0.3 1.5-0.3 1.5-0.2 1.5-0.1 1.5-0.1 1.5,0 1.5,0 1.5,0.1 1.5,0.2 1.5,0.2 1.5,0.2 1.5,0.4 1.5,0.4 1.5,0.5 1.5,0.6 1.5,0.6 1.5,0.7 1.5,0.8 1.5,0.8 1.5,0.8 1.5,0.8 1.5,0.9 1.5,0.8 1.5,1 1.5,0.9 1.5,1 1.5,1 1.5,1 1.5,1.1 1.5,1.1 1.5,1.1 1.5,1.2 1.5,1.3 1.5,1.3 1.5,1.4 1.5,1.4 1.5,1.4 1.5,1.5 1.5,1.5 1.5,1.6 1.5,1.6 1.5,1.7 1.5,1.7 1.5,1.7 1.5,1.8 1.5,1.8 1.5,1.9 1.5,1.9 1.5,1.9 1.5,1.9 1.5,2 1.5,2 1.5,2 1.5,2.1 1.5,2.1 1.5,2.1 1.5,2.1 1.5,2.2 1.5,2.2 1.5,2.2 1.5,2.2 1.5,2.3 1.5,2.3 1.5,2.3 1.5,2.3 1.5,2.3 1.5,2.3 1.5,2.4 1.5,2.4 1.5,2.4 1.5,2.4 1.5,2.4 1.5,2.4 1.5,2.5 1.5,2.4 1.5,2.5 1.5,2.5 1.5,2.4 1.5,2.5 1.5,2.5 1.5,2.5 1.5,2.5 1.5,2.5 1.5,2.4 1.5,2.5 1.5,2.4 1.5,2.5 1.5,2.4 1.5,2.4 1.5,2.4 1.5,2.3 1.5,2.3 1.5,2.3 1.5,2.3 1.5,2.3 1.5,2.3 1.5,2.3 1.5,2.4 1.5,2.4 1.5,2.5 1.5,2.6 1.5,2.6 1.5,2.8 1.5,2.8 1.5,3 1.5,3.1 1.5,3.2 1.5,3.3 1.5,3.5 1.5,3.5 1.5,3.6 1.5,3.6 1.5,3.7 1.5,3.8 1.5,3.8 1.5,3.8 1.5,3.8 1.5,3.8 1.5,3.7 1.5,3.8 1.5,3.6 1.5,3.6 1.5,3.6 1.5,3.6" fill="none" stroke="#000" stroke-width="1.3" stroke-linejoin="round" clip-path="url(#aT1)"/>
<path d="M502.2,480.1l5.1-13.3 5.1-12.3 5.1-12.5 5.2-13 5.1-12.8 5.1-12.1 5.1-10.9 5.1-9.7 5.2-8.5 5.1-8 5.1-7.8 5.1-8.1 5.1-8.3 5.2-8.5 5.1-8.5 5.1-8.4 5.1-8.3 5.1-8.1 5.2-8 5.1-7.7 5.1-7.5 5.1-7.2 5.1-6.9 5.2-6.5 5.1-6.2 5.1-5.7 5.1-5.2 5.1-4.7 5.2-4.1 5.1-3.6 5.1-3.2 5.1-2.9 5.1-2.6 5.2-1.9 5.1-1.1 5.1-0.3 5.1,0.3 5.1,1.1 5.2,1.9 5.1,2.6 5.1,2.9 5.1,3.2 5.1,3.6 5.2,4.1 5.1,4.7 5.1,5.2 5.1,5.7 5.1,6.2 5.2,6.5 5.1,6.9 5.1,7.2 5.1,7.5 5.1,7.7 5.2,8 5.1,8.1 5.1,8.3 5.1,8.4 5.1,8.5 5.2,8.5 5.1,8.3 5.1,8.1 5.1,7.8 5.1,8 5.2,8.5 5.1,9.7 5.1,10.9 5.1,12.1 5.1,12.8 5.2,13 5.1,12.5 5.1,12.3" fill="none" stroke="none" marker-start="url(#m0)" marker-mid="url(#m0)" marker-end="url(#m0)" clip-path="url(#aT1)"/>
<path d="M860.3,209.3l1.5-4.7 1.5-4.6 1.5-4.5 1.5-4.4 1.5-4.2 1.5-4.2 1.5-4 1.5-3.8 1.5-3.7 1.5-3.5 1.5-3.4 1.5-3.2 1.5-3.1 1.5-3 1.5-2.8 1.5-2.7 1.5-2.5 1.5-2.5 1.5-2.4 1.5-2.2 1.5-2.3 1.5-2.1 1.5-2.1 1.5-2 1.5-2 1.5-1.9 1.5-1.9 1.5-1.8 1.5-1.7 1.5-1.5 1.5-1.5 1.5-1.4 1.5-1.3 1.5-1.1 1.5-1.1 1.5-0.9 1.5-0.8 1.5-0.7 1.5-0.6 1.5-0.4 1.5-0.4 1.5-0.3 1.5-0.2 1.5,0 1.5,0 1.5,0.2 1.5,0.2 1.5,0.3 1.5,0.4 1.5,0.6 1.5,0.6 1.5,0.7 1.5,0.8 1.5,0.8 1.5,1 1.5,1 1.5,1.2 1.5,1.2 1.5,1.3 1.5,1.4 1.5,1.4 1.5,1.5 1.5,1.7 1.5,1.7 1.5,1.7 1.5,1.9 1.5,1.9 1.5,1.9 1.5,2 1.5,2.1 1.5,2.1 1.5,2.1 1.5,2.2 1.5,2.2 1.5,2.2 1.5,2.2 1.5,2.2 1.5,2.2 1.5,2.2 1.5,2.2 1.5,2.3 1.5,2.2 1.5,2.3 1.5,2.3 1.5,2.2 1.5,2.3 1.5,2.4 1.5,2.3 1.5,2.3 1.5,2.3 1.5,2.2 1.5,2.2 1.5,2.2 1.5,2.1 1.5,2 1.5,1.9 1.5,1.9 1.5,1.7 1.5,1.6 1.5,1.4 1.5,1.4 1.5,1.3 1.5,1.1 1.5,1.1 1.5,1 1.5,0.8 1.5,0.8 1.5,0.7 1.5,0.6 1.5,0.5 1.5,0.5 1.5,0.4 1.5,0.4 1.5,0.3 1.5,0.4 1.5,0.3 1.5,0.2 1.5,0.3 1.5,0.1 1.5,0.2 1.5,0 1.5,0 1.5-0.1 1.5-0.2 1.5-0.2 1.5-0.3 1.5-0.2 1.5-0.4 1.5-0.3 1.5-0.4 1.5-0.4 1.5-0.4 1.5-0.6 1.5-0.6 1.5-0.6 1.5-0.8 1.5-0.8 1.5-0.9 1.5-1.1 1.5-1.1 1.5-1.2 1.5-1.4 1.5-1.4 1.5-1.6 1.5-1.7 1.5-1.8 1.5-1.9 1.5-1.9 1.5-2.1 1.5-2.2 1.5-2.2 1.5-2.2 1.5-2.3 1.5-2.3 1.5-2.3 1.5-2.3 1.5-2.3 1.5-2.3 1.5-2.3 1.5-2.3 1.5-2.2 1.5-2.3 1.5-2.2 1.5-2.2 1.5-2.2 1.5-2.3 1.5-2.2 1.5-2.1 1.5-2.2 1.5-2.2 1.5-2.1 1.5-2.1 1.5-2.1 1.5-2 1.5-2 1.5-1.9 1.5-1.9 1.5-1.8 1.5-1.7 1.5-1.6 1.5-1.6 1.5-1.5 1.5-1.4 1.5-1.3 1.5-1.2 1.5-1.2 1.5-1 1.5-1 1.5-0.9 1.5-0.8 1.5-0.7 1.5-0.7 1.5-0.5 1.5-0.5 1.5-0.3 1.5-0.3 1.5-0.2 1.5,0 1.5,0 1.5,0.2 1.5,0.2 1.5,0.3 1.5,0.5 1.5,0.6 1.5,0.6 1.5,0.8 1.5,0.9 1.5,1 1.5,1.1 1.5,1.2 1.5,1.4 1.5,1.4 1.5,1.6 1.5,1.7 1.5,1.7 1.5,1.9 1.5,1.9 1.5,1.9 1.5,2.1 1.5,2 1.5,2.2 1.5,2.2 1.5,2.2 1.5,2.4 1.5,2.4 1.5,2.5 1.5,2.7 1.5,2.8 1.5,2.9 1.5,3 1.5,3.2 1.5,3.4 1.5,3.4 1.5,3.7 1.5,3.8 1.5,3.9 1.5,4.1 1.5,4.3 1.5,4.3" fill="none" stroke="#000" stroke-width="1.3" stroke-linejoin="round" clip-path="url(#aT2)"/>
<path d="M857.7,217.8l5.1-16.3 5.1-15 5.1-13.5 5.2-11.6 5.1-10 5.1-8.6 5.1-7.6 5.1-6.9 5.2-6.1 5.1-5 5.1-3.7 5.1-2.4 5.1-1.1 5.2,0.1 5.1,1.2 5.1,2.3 5.1,3.3 5.1,4.2 5.2,5.2 5.1,6.1 5.1,6.9 5.1,7.2 5.1,7.5 5.2,7.6 5.1,7.7 5.1,7.9 5.1,7.8 5.1,7.4 5.2,6.6 5.1,5.3 5.1,4 5.1,2.8 5.1,1.9 5.2,1.3 5.1,1 5.1,0.4 5.1-0.4 5.1-1 5.2-1.3 5.1-1.9 5.1-2.8 5.1-4 5.1-5.3 5.2-6.6 5.1-7.4 5.1-7.8 5.1-7.9 5.1-7.7 5.2-7.6 5.1-7.5 5.1-7.2 5.1-6.9 5.1-6.1 5.2-5.2 5.1-4.2 5.1-3.3 5.1-2.3 5.1-1.2 5.2-0.1 5.1,1.1 5.1,2.4 5.1,3.7 5.1,5 5.2,6.1 5.1,6.9 5.1,7.6 5.1,8.6 5.1,10 5.2,11.6 5.1,13.5 5.1,15" fill="none" stroke="none" marker-start="url(#m0)" marker-mid="url(#m0)" marker-end="url(#m0)" clip-path="url(#aT2)"/>
<path d="M860.3,473.1l1.5-3.8 1.5-3.7 1.5-3.6 1.5-3.6 1.5-3.6 1.5-3.6 1.5-3.6 1.5-3.8 1.5-3.7 1.5-3.8 1.5-3.8 1.5-3.8 1.5-3.8 1.5-3.8 1.5-3.7 1.5-3.6 1.5-3.6 1.5-3.5 1.5-3.5 1.5-3.3 1.5-3.2 1.5-3.1 1.5-3 1.5-2.8 1.5-2.8 1.5-2.6 1.5-2.6 1.5-2.5 1.5-2.4 1.5-2.4 1.5-2.3 1.5-2.3 1.5-2.3 1.5-2.3 1.5-2.3 1.5-2.3 1.5-2.3 1.5-2.4 1.5-2.4 1.5-2.4 1.5-2.5 1.5-2.4 1.5-2.5 1.5-2.4 1.5-2.5 1.5-2.5 1.5-2.5 1.5-2.5 1.5-2.5 1.5-2.4 1.5-2.5 1.5-2.5 1.5-2.4 1.5-2.5 1.5-2.4 1.5-2.4 1.5-2.4 1.5-2.4 1.5-2.4 1.5-2.4 1.5-2.3 1.5-2.3 1.5-2.3 1.5-2.3 1.5-2.3 1.5-2.3 1.5-2.2 1.5-2.2 1.5-2.2 1.5-2.2 1.5-2.1 1.5-2.1 1.5-2.1 1.5-2.1 1.5-2 1.5-2 1.5-2 1.5-1.9 1.5-1.9 1.5-1.9 1.5-1.9 1.5-1.8 1.5-1.8 1.5-1.7 1.5-1.7 1.5-1.7 1.5-1.6 1.5-1.6 1.5-1.5 1.5-1.5 1.5-1.4 1.5-1.4 1.5-1.4 1.5-1.3 1.5-1.3 1.5-1.2 1.5-1.1 1.5-1.1 1.5-1.1 1.5-1 1.5-1 1.5-1 1.5-0.9 1.5-1 1.5-0.8 1.5-0.9 1.5-0.8 1.5-0.8 1.5-0.8 1.5-0.8 1.5-0.7 1.5-0.6 1.5-0.6 1.5-0.5 1.5-0.4 1.5-0.4 1.5-0.2 1.5-0.2 1.5-0.2 1.5-0.1 1.5,0 1.5,0 1.5,0.1 1.5,0.1 1.5,0.2 1.5,0.3 1.5,0.3 1.5,0.4 1.5,0.5 1.5,0.5 1.5,0.7 1.5,0.6 1.5,0.8 1.5,0.7 1.5,0.8 1.5,0.9 1.5,0.8 1.5,0.9 1.5,0.9 1.5,0.9 1.5,1 1.5,1 1.5,1 1.5,1.1 1.5,1.1 1.5,1.1 1.5,1.2 1.5,1.3 1.5,1.3 1.5,1.3 1.5,1.4 1.5,1.4 1.5,1.5 1.5,1.5 1.5,1.6 1.5,1.6 1.5,1.7 1.5,1.6 1.5,1.8 1.5,1.7 1.5,1.8 1.5,1.9 1.5,1.9 1.5,1.9 1.5,1.9 1.5,2 1.5,2 1.5,2 1.5,2 1.5,2.1 1.5,2.1 1.5,2.2 1.5,2.1 1.5,2.2 1.5,2.2 1.5,2.2 1.5,2.3 1.5,2.2 1.5,2.3 1.5,2.3 1.5,2.4 1.5,2.3 1.5,2.4 1.5,2.4 1.5,2.3 1.5,2.5 1.5,2.4 1.5,2.4 1.5,2.4 1.5,2.5 1.5,2.4 1.5,2.5 1.5,2.5 1.5,2.5 1.5,2.4 1.5,2.5 1.5,2.5 1.5,2.5 1.5,2.5 1.5,2.4 1.5,2.5 1.5,2.4 1.5,2.5 1.5,2.4 1.5,2.3 1.5,2.4 1.5,2.3 1.5,2.3 1.5,2.3 1.5,2.3 1.5,2.3 1.5,2.3 1.5,2.4 1.5,2.4 1.5,2.5 1.5,2.5 1.5,2.6 1.5,2.7 1.5,2.9 1.5,2.9 1.5,3.1 1.5,3.1 1.5,3.3 1.5,3.4 1.5,3.5 1.5,3.6 1.5,3.6 1.5,3.7 1.5,3.8 1.5,3.8 1.5,3.8 1.5,3.8 1.5,3.8 1.5,3.7 1.5,3.8 1.5,3.7 1.5,3.6 1.5,3.5 1.5,3.6" fill="none" stroke="#000" stroke-width="1.3" stroke-linejoin="round" clip-path="url(#aT2)"/>
<path d="M857.7,480.1l5.1-13.3 5.1-12.3 5.1-12.5 5.2-13 5.1-12.8 5.1-12.1 5.1-10.9 5.1-9.7 5.2-8.5 5.1-8 5.1-7.8 5.1-8.1 5.1-8.3 5.2-8.5 5.1-8.5 5.1-8.4 5.1-8.3 5.1-8.1 5.2-8 5.1-7.7 5.1-7.5 5.1-7.2 5.1-6.9 5.2-6.5 5.1-6.2 5.1-5.7 5.1-5.2 5.1-4.7 5.2-4.1 5.1-3.6 5.1-3.2 5.1-2.9 5.1-2.6 5.2-1.9 5.1-1.1 5.1-0.3 5.1,0.3 5.1,1.1 5.2,1.9 5.1,2.6 5.1,2.9 5.1,3.2 5.1,3.6 5.2,4.1 5.1,4.7 5.1,5.2 5.1,5.7 5.1,6.2 5.2,6.5 5.1,6.9 5.1,7.2 5.1,7.5 5.1,7.7 5.2,8 5.1,8.1 5.1,8.3 5.1,8.4 5.1,8.5 5.2,8.5 5.1,8.3 5.1,8.1 5.1,7.8 5.1,8 5.2,8.5 5.1,9.7 5.1,10.9 5.1,12.1 5.1,12.8 5.2,13 5.1,12.5 5.1,12.3" fill="none" stroke="none" marker-start="url(#m0)" marker-mid="url(#m0)" marker-end="url(#m0)" clip-path="url(#aT2)"/>
<path d="M276.4,617.7l1-8.1 1-7.9 1-7.6 1-7.4 1-7.1 1-6.9 1-6.7 1-6.5 1-6.2 1-6 1-5.8 1-5.6 1-5.4 1-5.2 1-5.1 1-4.8 1-4.6 1-4.5 1-4.3 1-4.2 1-3.9 1-3.8 1-3.7 1-3.5 1-3.4 1-3.2 1-3 1-3 1-2.7 1-2.7 1-2.5 1-2.4 1-2.3 1-2.2 1-2 1-1.9 1-1.8 1-1.7 1-1.6 1-1.4 1-1.4 1-1.2 1-1.2 1-1 1-0.9 1-0.9 1-0.7 1-0.7 1-0.5 1-0.4 1-0.4 1-0.2 1-0.2 1,0 1,0 1,0.2 1,0.2 1,0.4 1,0.4 1,0.5 1,0.7 1,0.7 1,0.9 1,0.9 1,1 1,1.2 1,1.2 1,1.4 1,1.4 1,1.6 1,1.7 1,1.8 1,1.9 1,2 1,2.2 1,2.3 1,2.4 1,2.5 1,2.7 1,2.7 1,3 1,3 1,3.2 1,3.4 1,3.5 1,3.7 1,3.8 1,3.9 1,4.2 1,4.3 1,4.5 1,4.6 1,4.8 1,5.1 1,5.2 1,5.4 1,5.6 1,5.8 1,6 1,6.2 1,6.5 1,6.7 1,6.9 1,7.1 1,7.4 1,7.6 1,7.9 1,8.1" fill="none" stroke="#000" stroke-width="1.4" stroke-linejoin="round" clip-path="url(#aT0)"/>
<path d="M626.7,606.1l1-4.4 1-4.4 1-4.4 1-4.3 1-4.4 1-4.3 1-4.2 1-4.2 1-4.2 1-4.1 1-4 1-4 1-4.1 1-4.1 1-4.3 1-4.4 1-4.5 1-4.3 1-4.2 1-4.1 1-3.9 1-4 1-4 1-4.1 1-4.1 1-4.2 1-4 1-3.7 1-3.5 1-3.4 1-3.3 1-3.2 1-3.1 1-3.1 1-3 1-2.7 1-2.6 1-2.3 1-2.1 1-2 1-1.9 1-1.7 1-1.7 1-1.5 1-1.4 1-1.3 1-1.2 1-1 1-1.1 1-1 1-0.9 1-0.9 1-0.9 1-0.8 1-0.7 1-0.5 1-0.5 1-0.3 1-0.2 1,0 1,0.1 1,0.2 1,0.4 1,0.4 1,0.7 1,0.7 1,0.8 1,0.9 1,0.9 1,1 1,1 1,1 1,1.1 1,1.3 1,1.3 1,1.4 1,1.6 1,1.6 1,1.8 1,1.9 1,2.1 1,2.2 1,2.4 1,2.6 1,2.8 1,3 1,3.1 1,3.2 1,3.2 1,3.3 1,3.4 1,3.6 1,3.9 1,4 1,4.2 1,4.1 1,4.1 1,4 1,3.9 1,4 1,4.1 1,4.2 1,4.4 1,4.5 1,4.3 1,4.3 1,4.1 1,4 1,4 1,4.1 1,4.1 1,4.2 1,4.2 1,4.3 1,4.3 1,4.3 1,4.4 1,4.4 1,4.4" fill="none" stroke="#000" stroke-width="1.4" stroke-linejoin="round" clip-path="url(#aT1)"/>
<path d="M636.0,606.1l0.5-4.4 0.5-4.4 0.5-4.4 0.6-4.3 0.5-4.4 0.6-4.3 0.6-4.2 0.6-4.2 0.6-4.2 0.7-4.1 0.7-4 0.6-4 0.7-4.1 0.7-4.1 0.7-4.3 0.8-4.4 0.7-4.5 0.7-4.3 0.8-4.2 0.8-4.1 0.8-3.9 0.8-4 0.8-4 0.8-4.1 0.9-4.1 0.8-4.2 0.9-4 0.8-3.7 0.9-3.5 0.9-3.4 0.9-3.3 1-3.2 0.9-3.1 0.9-3.1 1-3 0.9-2.7 1-2.6 0.9-2.3 1-2.1 1-2 1-1.9 0.9-1.7 1-1.7 1-1.5 1-1.4 1-1.3 1-1.2 1-1 1-1.1 1-1 1-0.9 1-0.9 1-0.9 1-0.8 1-0.7 1-0.5 1-0.5 1-0.3 1-0.2 1,0 1,0.1 1,0.2 1,0.4 1,0.4 1,0.7 1,0.7 1,0.8 1,0.9 1,0.9 1,1 1,1 0.9,1 1,1.1 1,1.3 1,1.3 1,1.4 1,1.6 1,1.6 1,1.8 0.9,1.9 1,2.1 1,2.2 0.9,2.4 1,2.6 0.9,2.8 1,3 0.9,3.1 0.9,3.2 1,3.2 0.9,3.3 0.9,3.4 0.9,3.6 0.8,3.9 0.9,4 0.8,4.2 0.8,4.1 0.9,4.1 0.8,4 0.8,3.9 0.8,4 0.8,4.1 0.7,4.2 0.8,4.4 0.7,4.5 0.7,4.3 0.7,4.3 0.7,4.1 0.7,4 0.7,4 0.6,4.1 0.7,4.1 0.6,4.2 0.6,4.2 0.6,4.3 0.6,4.3 0.5,4.3 0.6,4.4 0.5,4.4 0.5,4.4" fill="none" stroke="#000" stroke-width="1.4" stroke-linejoin="round" clip-path="url(#aT1)"/>
<path d="M982.2,606.1l1-4.4 1-4.4 1-4.4 1-4.3 1-4.4 1-4.3 1-4.2 1-4.2 1-4.2 1-4.1 1-4 1-4 1-4.1 1-4.1 1-4.3 1-4.4 1-4.5 1-4.3 1-4.2 1-4.1 1-3.9 1-4 1-4 1-4.1 1-4.1 1-4.2 1-4 1-3.7 1-3.5 1-3.4 1-3.3 1-3.2 1-3.1 1-3.1 1-3 1-2.7 1-2.6 1-2.3 1-2.1 1-2 1-1.9 1-1.7 1-1.7 1-1.5 1-1.4 1-1.3 1-1.2 1-1 1-1.1 1-1 1-0.9 1-0.9 1-0.9 1-0.8 1-0.7 1-0.5 1-0.5 1-0.3 1-0.2 1,0 1,0.1 1,0.2 1,0.4 1,0.4 1,0.7 1,0.7 1,0.8 1,0.9 1,0.9 1,1 1,1 1,1 1,1.1 1,1.3 1,1.3 1,1.4 1,1.6 1,1.6 1,1.8 1,1.9 1,2.1 1,2.2 1,2.4 1,2.6 1,2.8 1,3 1,3.1 1,3.2 1,3.2 1,3.3 1,3.4 1,3.6 1,3.9 1,4 1,4.2 1,4.1 1,4.1 1,4 1,3.9 1,4 1,4.1 1,4.2 1,4.4 1,4.5 1,4.3 1,4.3 1,4.1 1,4 1,4 1,4.1 1,4.1 1,4.2 1,4.2 1,4.3 1,4.3 1,4.3 1,4.4 1,4.4 1,4.4" fill="none" stroke="#000" stroke-width="1.4" stroke-linejoin="round" clip-path="url(#aT2)"/>
<path d="M991.5,606.1l0.5-4.4 0.5-4.4 0.5-4.4 0.6-4.3 0.5-4.4 0.6-4.3 0.6-4.2 0.6-4.2 0.6-4.2 0.7-4.1 0.7-4 0.6-4 0.7-4.1 0.7-4.1 0.7-4.3 0.8-4.4 0.7-4.5 0.7-4.3 0.8-4.2 0.8-4.1 0.8-3.9 0.8-4 0.8-4 0.8-4.1 0.9-4.1 0.8-4.2 0.9-4 0.8-3.7 0.9-3.5 0.9-3.4 0.9-3.3 1-3.2 0.9-3.1 0.9-3.1 1-3 0.9-2.7 1-2.6 0.9-2.3 1-2.1 1-2 1-1.9 0.9-1.7 1-1.7 1-1.5 1-1.4 1-1.3 1-1.2 1-1 1-1.1 1-1 1-0.9 1-0.9 1-0.9 1-0.8 1-0.7 1-0.5 1-0.5 1-0.3 1-0.2 1,0 1,0.1 1,0.2 1,0.4 1,0.4 1,0.7 1,0.7 1,0.8 1,0.9 1,0.9 1,1 1,1 0.9,1 1,1.1 1,1.3 1,1.3 1,1.4 1,1.6 1,1.6 1,1.8 0.9,1.9 1,2.1 1,2.2 0.9,2.4 1,2.6 0.9,2.8 1,3 0.9,3.1 0.9,3.2 1,3.2 0.9,3.3 0.9,3.4 0.9,3.6 0.8,3.9 0.9,4 0.8,4.2 0.8,4.1 0.9,4.1 0.8,4 0.8,3.9 0.8,4 0.8,4.1 0.7,4.2 0.8,4.4 0.7,4.5 0.7,4.3 0.7,4.3 0.7,4.1 0.7,4 0.7,4 0.6,4.1 0.7,4.1 0.6,4.2 0.6,4.2 0.6,4.3 0.6,4.3 0.5,4.3 0.6,4.4 0.5,4.4 0.5,4.4" fill="none" stroke="#000" stroke-width="1.4" stroke-linejoin="round" clip-path="url(#aT2)"/>
<path d="M148.6,1004.8l1.5-5.4 1.5-5.2 1.5-5.1 1.5-5.2 1.5-5.3 1.5-5.4 1.5-5.7 1.5-5.7 1.5-5.7 1.5-5.6 1.5-5.3 1.5-5.1 1.5-4.9 1.5-4.6 1.5-4.6 1.5-4.5 1.5-4.5 1.5-4.6 1.5-4.6 1.5-4.6 1.5-4.5 1.5-4.4 1.5-4.3 1.5-4.1 1.5-3.8 1.5-3.8 1.5-3.6 1.5-3.6 1.5-3.4 1.5-3.5 1.5-3.4 1.5-3.3 1.5-3.3 1.5-3.3 1.5-3.3 1.5-3.3 1.5-3.2 1.5-3.2 1.5-3.1 1.5-2.9 1.5-2.9 1.5-2.7 1.5-2.6 1.5-2.3 1.5-2.2 1.5-2.1 1.5-1.9 1.5-1.7 1.5-1.6 1.5-1.5 1.5-1.4 1.5-1.2 1.5-1.2 1.5-1.1 1.5-0.9 1.5-0.9 1.5-0.8 1.5-0.6 1.5-0.6 1.5-0.5 1.5-0.5 1.5-0.3 1.5-0.3 1.5-0.2 1.5-0.1 1.5-0.1 1.5,0 1.5,0.1 1.5,0.1 1.5,0.2 1.5,0.2 1.5,0.3 1.5,0.4 1.5,0.4 1.5,0.5 1.5,0.5 1.5,0.6 1.5,0.6 1.5,0.6 1.5,0.7 1.5,0.8 1.5,0.8 1.5,0.8 1.5,0.9 1.5,0.9 1.5,0.9 1.5,1 1.5,0.9 1.5,1 1.5,1 1.5,1.1 1.5,1 1.5,1 1.5,1 1.5,1.1 1.5,1 1.5,1 1.5,1 1.5,0.9 1.5,1 1.5,0.9 1.5,0.9 1.5,0.8 1.5,0.8 1.5,0.8 1.5,0.7 1.5,0.6 1.5,0.6 1.5,0.6 1.5,0.5 1.5,0.4 1.5,0.3 1.5,0.3 1.5,0.3 1.5,0.2 1.5,0.2 1.5,0.1 1.5,0.1 1.5,0.2 1.5,0.1 1.5,0.1 1.5,0.2 1.5,0.2 1.5,0.2 1.5,0.2 1.5,0.3 1.5,0.2 1.5,0.3 1.5,0.3 1.5,0.3 1.5,0.4 1.5,0.3 1.5,0.3 1.5,0.3 1.5,0.3 1.5,0.3 1.5,0.3 1.5,0.3 1.5,0.2 1.5,0.3 1.5,0.2 1.5,0.3 1.5,0.3 1.5,0.2 1.5,0.3 1.5,0.3 1.5,0.3 1.5,0.4 1.5,0.3 1.5,0.4 1.5,0.3 1.5,0.4 1.5,0.4 1.5,0.4 1.5,0.4 1.5,0.4 1.5,0.4 1.5,0.4 1.5,0.3 1.5,0.4 1.5,0.3 1.5,0.3 1.5,0.4 1.5,0.3 1.5,0.3 1.5,0.3 1.5,0.4 1.5,0.3 1.5,0.4 1.5,0.4 1.5,0.5 1.5,0.5 1.5,0.5 1.5,0.6 1.5,0.7 1.5,0.6 1.5,0.8 1.5,0.7 1.5,0.8 1.5,0.9 1.5,0.9 1.5,0.9 1.5,1 1.5,1 1.5,1 1.5,1.1 1.5,1.3 1.5,1.3 1.5,1.4 1.5,1.5 1.5,1.7 1.5,1.8 1.5,1.8 1.5,2 1.5,2.1 1.5,2.1 1.5,2.1 1.5,2.2 1.5,2.3 1.5,2.2 1.5,2.3 1.5,2.4 1.5,2.4 1.5,2.5 1.5,2.6 1.5,2.7 1.5,2.7 1.5,2.9 1.5,2.9 1.5,3 1.5,3.1 1.5,3.1 1.5,3.2 1.5,3.3 1.5,3.3 1.5,3.4 1.5,3.5 1.5,3.6 1.5,3.8 1.5,3.9 1.5,4 1.5,4.2 1.5,4.3 1.5,4.5 1.5,4.5 1.5,4.6 1.5,4.7 1.5,4.7 1.5,4.7 1.5,4.8 1.5,4.8 1.5,5 1.5,5 1.5,5.2 1.5,5.3 1.5,5.5 1.5,5.6 1.5,5.7 1.5,5.8 1.5,5.9" fill="none" stroke="#000" stroke-width="1.3" stroke-linejoin="round" clip-path="url(#aB0)"/>
<path d="M148.4,1005.6l5.1-17.9 5.1-18.4 5.1-19.3 5.2-17.2 5.1-15.4 5.1-15.7 5.1-14.7 5.1-12.9 5.2-11.8 5.1-11.4 5.1-11.1 5.1-10.3 5.1-8.7 5.2-6.7 5.1-5.2 5.1-3.8 5.1-2.8 5.1-1.7 5.2-0.8 5.1,0 5.1,0.7 5.1,1.4 5.1,1.9 5.2,2.5 5.1,3 5.1,3.2 5.1,3.5 5.1,3.5 5.2,3.4 5.1,3.1 5.1,2.6 5.1,2.1 5.1,1.4 5.2,0.7 5.1,0.5 5.1,0.5 5.1,0.8 5.1,1 5.2,1.1 5.1,1 5.1,0.9 5.1,0.9 5.1,1 5.2,1.2 5.1,1.3 5.1,1.3 5.1,1.3 5.1,1.1 5.2,1.1 5.1,1.4 5.1,1.8 5.1,2.3 5.1,2.9 5.2,3.2 5.1,4 5.1,5.2 5.1,6.5 5.1,7.3 5.2,7.7 5.1,8.4 5.1,9.3 5.1,10.4 5.1,11 5.2,12.1 5.1,13.5 5.1,15.1 5.1,16 5.1,16.5 5.2,17.7 5.1,19.3 5.1,20.4" fill="none" stroke="none" marker-start="url(#m0)" marker-mid="url(#m0)" marker-end="url(#m0)" clip-path="url(#aB0)"/>
<path d="M148.6,1079.5l1.5-5.9 1.5-6.1 1.5-6 1.5-6.1 1.5-6 1.5-6 1.5-5.8 1.5-5.8 1.5-5.6 1.5-5.5 1.5-5.4 1.5-5.3 1.5-5.1 1.5-5 1.5-4.8 1.5-4.8 1.5-4.8 1.5-4.7 1.5-4.7 1.5-4.6 1.5-4.6 1.5-4.5 1.5-4.4 1.5-4.3 1.5-4.1 1.5-3.9 1.5-3.8 1.5-3.7 1.5-3.6 1.5-3.4 1.5-3.4 1.5-3.3 1.5-3.2 1.5-3.2 1.5-3.1 1.5-3 1.5-3 1.5-2.9 1.5-2.8 1.5-2.7 1.5-2.6 1.5-2.5 1.5-2.5 1.5-2.4 1.5-2.3 1.5-2.3 1.5-2.2 1.5-2.2 1.5-2.2 1.5-2.2 1.5-2 1.5-2 1.5-2 1.5-1.8 1.5-1.7 1.5-1.6 1.5-1.5 1.5-1.4 1.5-1.2 1.5-1.2 1.5-1.1 1.5-1 1.5-1 1.5-0.9 1.5-0.9 1.5-0.9 1.5-0.8 1.5-0.8 1.5-0.7 1.5-0.7 1.5-0.7 1.5-0.6 1.5-0.6 1.5-0.5 1.5-0.5 1.5-0.4 1.5-0.4 1.5-0.4 1.5-0.3 1.5-0.4 1.5-0.3 1.5-0.3 1.5-0.3 1.5-0.3 1.5-0.4 1.5-0.3 1.5-0.4 1.5-0.3 1.5-0.4 1.5-0.4 1.5-0.4 1.5-0.4 1.5-0.4 1.5-0.4 1.5-0.4 1.5-0.3 1.5-0.4 1.5-0.3 1.5-0.3 1.5-0.3 1.5-0.3 1.5-0.3 1.5-0.3 1.5-0.2 1.5-0.3 1.5-0.3 1.5-0.2 1.5-0.3 1.5-0.3 1.5-0.2 1.5-0.3 1.5-0.3 1.5-0.4 1.5-0.3 1.5-0.3 1.5-0.3 1.5-0.3 1.5-0.3 1.5-0.3 1.5-0.3 1.5-0.2 1.5-0.3 1.5-0.1 1.5-0.2 1.5-0.2 1.5-0.1 1.5-0.1 1.5-0.1 1.5-0.2 1.5-0.1 1.5-0.2 1.5-0.3 1.5-0.2 1.5-0.3 1.5-0.4 1.5-0.5 1.5-0.5 1.5-0.6 1.5-0.6 1.5-0.7 1.5-0.7 1.5-0.8 1.5-0.8 1.5-0.9 1.5-0.9 1.5-0.9 1.5-1 1.5-1 1.5-1 1.5-1 1.5-1 1.5-1 1.5-1 1.5-1.1 1.5-1 1.5-1 1.5-1 1.5-1 1.5-0.9 1.5-1 1.5-0.9 1.5-0.9 1.5-0.8 1.5-0.8 1.5-0.8 1.5-0.7 1.5-0.7 1.5-0.7 1.5-0.5 1.5-0.6 1.5-0.5 1.5-0.4 1.5-0.4 1.5-0.3 1.5-0.3 1.5-0.2 1.5-0.2 1.5-0.1 1.5,0 1.5,0 1.5,0.1 1.5,0.2 1.5,0.2 1.5,0.4 1.5,0.3 1.5,0.5 1.5,0.6 1.5,0.6 1.5,0.7 1.5,0.9 1.5,0.9 1.5,1 1.5,1.1 1.5,1.2 1.5,1.3 1.5,1.5 1.5,1.5 1.5,1.7 1.5,1.8 1.5,2 1.5,2.1 1.5,2.3 1.5,2.5 1.5,2.6 1.5,2.8 1.5,2.9 1.5,3.1 1.5,3.1 1.5,3.2 1.5,3.2 1.5,3.3 1.5,3.3 1.5,3.3 1.5,3.4 1.5,3.4 1.5,3.4 1.5,3.4 1.5,3.5 1.5,3.6 1.5,3.7 1.5,3.8 1.5,4 1.5,4.1 1.5,4.4 1.5,4.5 1.5,4.6 1.5,4.6 1.5,4.6 1.5,4.5 1.5,4.5 1.5,4.5 1.5,4.6 1.5,4.8 1.5,4.9 1.5,5.3 1.5,5.5 1.5,5.6 1.5,5.8 1.5,5.6 1.5,5.6" fill="none" stroke="#000" stroke-width="1.3" stroke-linejoin="round" clip-path="url(#aB0)"/>
<path d="M148.4,1080.4l5.1-20.6 5.1-20.4 5.1-19.3 5.2-17.7 5.1-16.5 5.1-16 5.1-15.1 5.1-13.5 5.2-12.1 5.1-11 5.1-10.4 5.1-9.3 5.1-8.4 5.2-7.7 5.1-7.3 5.1-6.5 5.1-5.2 5.1-4 5.2-3.2 5.1-2.9 5.1-2.3 5.1-1.8 5.1-1.4 5.2-1.1 5.1-1.1 5.1-1.3 5.1-1.3 5.1-1.3 5.2-1.2 5.1-1 5.1-0.9 5.1-0.9 5.1-1 5.2-1.1 5.1-1 5.1-0.8 5.1-0.5 5.1-0.5 5.2-0.7 5.1-1.4 5.1-2.1 5.1-2.6 5.1-3.1 5.2-3.4 5.1-3.5 5.1-3.5 5.1-3.2 5.1-3 5.2-2.5 5.1-1.9 5.1-1.4 5.1-0.7 5.1,0 5.2,0.8 5.1,1.7 5.1,2.8 5.1,3.8 5.1,5.2 5.2,6.7 5.1,8.7 5.1,10.3 5.1,11.1 5.1,11.4 5.2,11.8 5.1,12.9 5.1,14.7 5.1,15.7 5.1,15.4 5.2,17.2 5.1,19.3 5.1,18.4" fill="none" stroke="none" marker-start="url(#m0)" marker-mid="url(#m0)" marker-end="url(#m0)" clip-path="url(#aB0)"/>
<path d="M505.2,1004.8l1.5-5.4 1.5-5.2 1.5-5.1 1.5-5.2 1.5-5.3 1.5-5.4 1.5-5.7 1.5-5.7 1.5-5.7 1.5-5.6 1.5-5.3 1.5-5.1 1.5-4.9 1.5-4.6 1.5-4.6 1.5-4.5 1.5-4.5 1.5-4.6 1.5-4.6 1.5-4.6 1.5-4.5 1.5-4.4 1.5-4.3 1.5-4.1 1.5-3.8 1.5-3.8 1.5-3.6 1.5-3.6 1.5-3.4 1.5-3.5 1.5-3.4 1.5-3.3 1.5-3.3 1.5-3.3 1.5-3.3 1.5-3.3 1.5-3.2 1.5-3.2 1.5-3.1 1.5-2.9 1.5-2.9 1.5-2.7 1.5-2.6 1.5-2.3 1.5-2.2 1.5-2.1 1.5-1.9 1.5-1.7 1.5-1.6 1.5-1.5 1.5-1.4 1.5-1.2 1.5-1.2 1.5-1.1 1.5-0.9 1.5-0.9 1.5-0.8 1.5-0.6 1.5-0.6 1.5-0.5 1.5-0.5 1.5-0.3 1.5-0.3 1.5-0.2 1.5-0.1 1.5-0.1 1.5,0 1.5,0.1 1.5,0.1 1.5,0.2 1.5,0.2 1.5,0.3 1.5,0.4 1.5,0.4 1.5,0.5 1.5,0.5 1.5,0.6 1.5,0.6 1.5,0.6 1.5,0.7 1.5,0.8 1.5,0.8 1.5,0.8 1.5,0.9 1.5,0.9 1.5,0.9 1.5,1 1.5,0.9 1.5,1 1.5,1 1.5,1.1 1.5,1 1.5,1 1.5,1 1.5,1.1 1.5,1 1.5,1 1.5,1 1.5,0.9 1.5,1 1.5,0.9 1.5,0.9 1.5,0.8 1.5,0.8 1.5,0.8 1.5,0.7 1.5,0.6 1.5,0.6 1.5,0.6 1.5,0.5 1.5,0.4 1.5,0.3 1.5,0.3 1.5,0.3 1.5,0.2 1.5,0.2 1.5,0.1 1.5,0.1 1.5,0.2 1.5,0.1 1.5,0.1 1.5,0.2 1.5,0.2 1.5,0.2 1.5,0.2 1.5,0.3 1.5,0.2 1.5,0.3 1.5,0.3 1.5,0.3 1.5,0.4 1.5,0.3 1.5,0.3 1.5,0.3 1.5,0.3 1.5,0.3 1.5,0.3 1.5,0.3 1.5,0.2 1.5,0.3 1.5,0.2 1.5,0.3 1.5,0.3 1.5,0.2 1.5,0.3 1.5,0.3 1.5,0.3 1.5,0.4 1.5,0.3 1.5,0.4 1.5,0.3 1.5,0.4 1.5,0.4 1.5,0.4 1.5,0.4 1.5,0.4 1.5,0.4 1.5,0.4 1.5,0.3 1.5,0.4 1.5,0.3 1.5,0.3 1.5,0.4 1.5,0.3 1.5,0.3 1.5,0.3 1.5,0.4 1.5,0.3 1.5,0.4 1.5,0.4 1.5,0.5 1.5,0.5 1.5,0.5 1.5,0.6 1.5,0.7 1.5,0.6 1.5,0.8 1.5,0.7 1.5,0.8 1.5,0.9 1.5,0.9 1.5,0.9 1.5,1 1.5,1 1.5,1 1.5,1.1 1.5,1.3 1.5,1.3 1.5,1.4 1.5,1.5 1.5,1.7 1.5,1.8 1.5,1.8 1.5,2 1.5,2.1 1.5,2.1 1.5,2.1 1.5,2.2 1.5,2.3 1.5,2.2 1.5,2.3 1.5,2.4 1.5,2.4 1.5,2.5 1.5,2.6 1.5,2.7 1.5,2.7 1.5,2.9 1.5,2.9 1.5,3 1.5,3.1 1.5,3.1 1.5,3.2 1.5,3.3 1.5,3.3 1.5,3.4 1.5,3.5 1.5,3.6 1.5,3.8 1.5,3.9 1.5,4 1.5,4.2 1.5,4.3 1.5,4.5 1.5,4.5 1.5,4.6 1.5,4.7 1.5,4.7 1.5,4.7 1.5,4.8 1.5,4.8 1.5,5 1.5,5 1.5,5.2 1.5,5.3 1.5,5.5 1.5,5.6 1.5,5.7 1.5,5.8" fill="none" stroke="#000" stroke-width="1.3" stroke-linejoin="round" clip-path="url(#aB1)"/>
<path d="M505.0,1005.6l5.1-17.9 5.1-18.4 5.1-19.3 5.2-17.2 5.1-15.4 5.1-15.7 5.1-14.7 5.1-12.9 5.2-11.8 5.1-11.4 5.1-11.1 5.1-10.3 5.1-8.7 5.2-6.7 5.1-5.2 5.1-3.8 5.1-2.8 5.1-1.7 5.2-0.8 5.1,0 5.1,0.7 5.1,1.4 5.1,1.9 5.2,2.5 5.1,3 5.1,3.2 5.1,3.5 5.1,3.5 5.2,3.4 5.1,3.1 5.1,2.6 5.1,2.1 5.1,1.4 5.2,0.7 5.1,0.5 5.1,0.5 5.1,0.8 5.1,1 5.2,1.1 5.1,1 5.1,0.9 5.1,0.9 5.1,1 5.2,1.2 5.1,1.3 5.1,1.3 5.1,1.3 5.1,1.1 5.2,1.1 5.1,1.4 5.1,1.8 5.1,2.3 5.1,2.9 5.2,3.2 5.1,4 5.1,5.2 5.1,6.5 5.1,7.3 5.2,7.7 5.1,8.4 5.1,9.3 5.1,10.4 5.1,11 5.2,12.1 5.1,13.5 5.1,15.1 5.1,16 5.1,16.5 5.2,17.7 5.1,19.3" fill="none" stroke="none" marker-start="url(#m0)" marker-mid="url(#m0)" marker-end="url(#m0)" clip-path="url(#aB1)"/>
<path d="M505.2,1079.5l1.5-5.9 1.5-6.1 1.5-6 1.5-6.1 1.5-6 1.5-6 1.5-5.8 1.5-5.8 1.5-5.6 1.5-5.5 1.5-5.4 1.5-5.3 1.5-5.1 1.5-5 1.5-4.8 1.5-4.8 1.5-4.8 1.5-4.7 1.5-4.7 1.5-4.6 1.5-4.6 1.5-4.5 1.5-4.4 1.5-4.3 1.5-4.1 1.5-3.9 1.5-3.8 1.5-3.7 1.5-3.6 1.5-3.4 1.5-3.4 1.5-3.3 1.5-3.2 1.5-3.2 1.5-3.1 1.5-3 1.5-3 1.5-2.9 1.5-2.8 1.5-2.7 1.5-2.6 1.5-2.5 1.5-2.5 1.5-2.4 1.5-2.3 1.5-2.3 1.5-2.2 1.5-2.2 1.5-2.2 1.5-2.2 1.5-2 1.5-2 1.5-2 1.5-1.8 1.5-1.7 1.5-1.6 1.5-1.5 1.5-1.4 1.5-1.2 1.5-1.2 1.5-1.1 1.5-1 1.5-1 1.5-0.9 1.5-0.9 1.5-0.9 1.5-0.8 1.5-0.8 1.5-0.7 1.5-0.7 1.5-0.7 1.5-0.6 1.5-0.6 1.5-0.5 1.5-0.5 1.5-0.4 1.5-0.4 1.5-0.4 1.5-0.3 1.5-0.4 1.5-0.3 1.5-0.3 1.5-0.3 1.5-0.3 1.5-0.4 1.5-0.3 1.5-0.4 1.5-0.3 1.5-0.4 1.5-0.4 1.5-0.4 1.5-0.4 1.5-0.4 1.5-0.4 1.5-0.4 1.5-0.3 1.5-0.4 1.5-0.3 1.5-0.3 1.5-0.3 1.5-0.3 1.5-0.3 1.5-0.3 1.5-0.2 1.5-0.3 1.5-0.3 1.5-0.2 1.5-0.3 1.5-0.3 1.5-0.2 1.5-0.3 1.5-0.3 1.5-0.4 1.5-0.3 1.5-0.3 1.5-0.3 1.5-0.3 1.5-0.3 1.5-0.3 1.5-0.3 1.5-0.2 1.5-0.3 1.5-0.1 1.5-0.2 1.5-0.2 1.5-0.1 1.5-0.1 1.5-0.1 1.5-0.2 1.5-0.1 1.5-0.2 1.5-0.3 1.5-0.2 1.5-0.3 1.5-0.4 1.5-0.5 1.5-0.5 1.5-0.6 1.5-0.6 1.5-0.7 1.5-0.7 1.5-0.8 1.5-0.8 1.5-0.9 1.5-0.9 1.5-0.9 1.5-1 1.5-1 1.5-1 1.5-1 1.5-1 1.5-1 1.5-1 1.5-1.1 1.5-1 1.5-1 1.5-1 1.5-1 1.5-0.9 1.5-1 1.5-0.9 1.5-0.9 1.5-0.8 1.5-0.8 1.5-0.8 1.5-0.7 1.5-0.7 1.5-0.7 1.5-0.5 1.5-0.6 1.5-0.5 1.5-0.4 1.5-0.4 1.5-0.3 1.5-0.3 1.5-0.2 1.5-0.2 1.5-0.1 1.5,0 1.5,0 1.5,0.1 1.5,0.2 1.5,0.2 1.5,0.4 1.5,0.3 1.5,0.5 1.5,0.6 1.5,0.6 1.5,0.7 1.5,0.9 1.5,0.9 1.5,1 1.5,1.1 1.5,1.2 1.5,1.3 1.5,1.5 1.5,1.5 1.5,1.7 1.5,1.8 1.5,2 1.5,2.1 1.5,2.3 1.5,2.5 1.5,2.6 1.5,2.8 1.5,2.9 1.5,3.1 1.5,3.1 1.5,3.2 1.5,3.2 1.5,3.3 1.5,3.3 1.5,3.3 1.5,3.4 1.5,3.4 1.5,3.4 1.5,3.4 1.5,3.5 1.5,3.6 1.5,3.7 1.5,3.8 1.5,4 1.5,4.1 1.5,4.4 1.5,4.5 1.5,4.6 1.5,4.6 1.5,4.6 1.5,4.5 1.5,4.5 1.5,4.5 1.5,4.6 1.5,4.8 1.5,4.9 1.5,5.3 1.5,5.5 1.5,5.6 1.5,5.8 1.5,5.6" fill="none" stroke="#000" stroke-width="1.3" stroke-linejoin="round" clip-path="url(#aB1)"/>
<path d="M505.0,1080.4l5.1-20.6 5.1-20.4 5.1-19.3 5.2-17.7 5.1-16.5 5.1-16 5.1-15.1 5.1-13.5 5.2-12.1 5.1-11 5.1-10.4 5.1-9.3 5.1-8.4 5.2-7.7 5.1-7.3 5.1-6.5 5.1-5.2 5.1-4 5.2-3.2 5.1-2.9 5.1-2.3 5.1-1.8 5.1-1.4 5.2-1.1 5.1-1.1 5.1-1.3 5.1-1.3 5.1-1.3 5.2-1.2 5.1-1 5.1-0.9 5.1-0.9 5.1-1 5.2-1.1 5.1-1 5.1-0.8 5.1-0.5 5.1-0.5 5.2-0.7 5.1-1.4 5.1-2.1 5.1-2.6 5.1-3.1 5.2-3.4 5.1-3.5 5.1-3.5 5.1-3.2 5.1-3 5.2-2.5 5.1-1.9 5.1-1.4 5.1-0.7 5.1,0 5.2,0.8 5.1,1.7 5.1,2.8 5.1,3.8 5.1,5.2 5.2,6.7 5.1,8.7 5.1,10.3 5.1,11.1 5.1,11.4 5.2,11.8 5.1,12.9 5.1,14.7 5.1,15.7 5.1,15.4 5.2,17.2 5.1,19.3" fill="none" stroke="none" marker-start="url(#m0)" marker-mid="url(#m0)" marker-end="url(#m0)" clip-path="url(#aB1)"/>
<path d="M860.5,1039.5l1.5-6 1.5-5.8 1.5-5.7 1.5-5.5 1.5-5.5 1.5-5.5 1.5-5.5 1.5-5.6 1.5-5.7 1.5-5.8 1.5-5.7 1.5-5.7 1.5-5.5 1.5-5.3 1.5-5 1.5-4.8 1.5-4.7 1.5-4.4 1.5-4.3 1.5-4.2 1.5-4 1.5-3.9 1.5-3.9 1.5-3.8 1.5-3.7 1.5-3.8 1.5-3.7 1.5-3.7 1.5-3.7 1.5-3.7 1.5-3.6 1.5-3.5 1.5-3.4 1.5-3.3 1.5-3.2 1.5-3 1.5-2.9 1.5-2.7 1.5-2.6 1.5-2.5 1.5-2.4 1.5-2.3 1.5-2.2 1.5-2.1 1.5-2.1 1.5-1.9 1.5-1.9 1.5-1.9 1.5-1.7 1.5-1.8 1.5-1.6 1.5-1.7 1.5-1.6 1.5-1.6 1.5-1.5 1.5-1.5 1.5-1.4 1.5-1.4 1.5-1.2 1.5-1.2 1.5-1.1 1.5-0.9 1.5-0.8 1.5-0.8 1.5-0.6 1.5-0.5 1.5-0.4 1.5-0.4 1.5-0.2 1.5-0.2 1.5-0.1 1.5-0.1 1.5,0 1.5,0.1 1.5,0.1 1.5,0.1 1.5,0.1 1.5,0.2 1.5,0.3 1.5,0.2 1.5,0.3 1.5,0.3 1.5,0.3 1.5,0.3 1.5,0.4 1.5,0.3 1.5,0.4 1.5,0.4 1.5,0.3 1.5,0.4 1.5,0.4 1.5,0.4 1.5,0.4 1.5,0.3 1.5,0.4 1.5,0.4 1.5,0.3 1.5,0.4 1.5,0.3 1.5,0.3 1.5,0.3 1.5,0.3 1.5,0.2 1.5,0.2 1.5,0.3 1.5,0.1 1.5,0.2 1.5,0.1 1.5,0.2 1.5,0 1.5,0.1 1.5,0.1 1.5,0 1.5,0 1.5,0 1.5,0.1 1.5,0 1.5-0.1 1.5,0 1.5,0 1.5,0 1.5,0 1.5,0 1.5,0 1.5,0 1.5,0 1.5,0 1.5,0 1.5,0.1 1.5,0 1.5-0.1 1.5,0 1.5,0 1.5,0 1.5-0.1 1.5-0.1 1.5,0 1.5-0.2 1.5-0.1 1.5-0.2 1.5-0.1 1.5-0.3 1.5-0.2 1.5-0.2 1.5-0.3 1.5-0.3 1.5-0.3 1.5-0.3 1.5-0.4 1.5-0.3 1.5-0.4 1.5-0.4 1.5-0.3 1.5-0.4 1.5-0.4 1.5-0.4 1.5-0.4 1.5-0.3 1.5-0.4 1.5-0.4 1.5-0.3 1.5-0.4 1.5-0.3 1.5-0.3 1.5-0.3 1.5-0.3 1.5-0.2 1.5-0.3 1.5-0.2 1.5-0.1 1.5-0.1 1.5-0.1 1.5-0.1 1.5,0 1.5,0.1 1.5,0.1 1.5,0.2 1.5,0.2 1.5,0.4 1.5,0.4 1.5,0.5 1.5,0.6 1.5,0.8 1.5,0.8 1.5,0.9 1.5,1.1 1.5,1.2 1.5,1.2 1.5,1.4 1.5,1.4 1.5,1.5 1.5,1.5 1.5,1.6 1.5,1.6 1.5,1.7 1.5,1.6 1.5,1.8 1.5,1.7 1.5,1.9 1.5,1.9 1.5,1.9 1.5,2.1 1.5,2.1 1.5,2.2 1.5,2.3 1.5,2.4 1.5,2.5 1.5,2.6 1.5,2.7 1.5,2.9 1.5,3 1.5,3.2 1.5,3.3 1.5,3.4 1.5,3.5 1.5,3.6 1.5,3.7 1.5,3.7 1.5,3.7 1.5,3.7 1.5,3.8 1.5,3.7 1.5,3.8 1.5,3.9 1.5,3.9 1.5,4 1.5,4.2 1.5,4.3 1.5,4.4 1.5,4.7 1.5,4.8 1.5,5 1.5,5.3 1.5,5.5 1.5,5.7 1.5,5.7 1.5,5.8 1.5,5.7 1.5,5.6" fill="none" stroke="#000" stroke-width="1.3" stroke-linejoin="round" clip-path="url(#aB2)"/>
<path d="M860.7,1038.8l5.1-19.7 5.1-18.8 5.1-19.5 5.2-18.9 5.1-16.5 5.1-14.5 5.1-13.2 5.1-12.8 5.2-12.5 5.1-11.6 5.1-10.1 5.1-8.6 5.1-7.4 5.2-6.6 5.1-5.9 5.1-5.4 5.1-4.8 5.1-3.9 5.2-2.6 5.1-1.4 5.1-0.5 5.1,0.2 5.1,0.6 5.2,0.9 5.1,1.1 5.1,1.3 5.1,1.3 5.1,1.3 5.2,1.1 5.1,1 5.1,0.7 5.1,0.5 5.1,0.2 5.2,0.1 5.1-0.1 5.1,0 5.1,0 5.1,0.1 5.2-0.1 5.1-0.2 5.1-0.5 5.1-0.7 5.1-1 5.2-1.1 5.1-1.3 5.1-1.3 5.1-1.3 5.1-1.1 5.2-0.9 5.1-0.6 5.1-0.2 5.1,0.5 5.1,1.4 5.2,2.6 5.1,3.9 5.1,4.8 5.1,5.4 5.1,5.9 5.2,6.6 5.1,7.4 5.1,8.6 5.1,10.1 5.1,11.6 5.2,12.5 5.1,12.8 5.1,13.2 5.1,14.5 5.1,16.5 5.2,18.9 5.1,19.5" fill="none" stroke="none" marker-start="url(#m0)" marker-mid="url(#m0)" marker-end="url(#m0)" clip-path="url(#aB2)"/>
<path d="M274.8,1223.6l1-4.5 1-4.6 1-4.5 1-4.5 1-4.5 1-4.4 1-4.4 1-4.4 1-4.3 1-4.2 1-4.2 1-4.2 1-4.2 1-4.3 1-4.6 1-4.5 1-4.6 1-4.5 1-4.2 1-4.1 1-4.1 1-4.1 1-4.2 1-4.4 1-4.2 1-4.2 1-3.9 1-3.7 1-3.5 1-3.4 1-3.3 1-3.3 1-3.2 1-3 1-2.8 1-2.6 1-2.4 1-2.1 1-2.1 1-1.9 1-1.7 1-1.7 1-1.5 1-1.4 1-1.3 1-1.1 1-1.1 1-1.1 1-1 1-0.9 1-0.9 1-0.9 1-0.7 1-0.6 1-0.5 1-0.4 1-0.1 1-0.1 1,0.1 1,0.2 1,0.4 1,0.5 1,0.6 1,0.8 1,0.9 1,0.9 1,1 1,1 1,1 1,1.1 1,1.2 1,1.3 1,1.4 1,1.6 1,1.7 1,1.7 1,2 1,2 1,2.2 1,2.5 1,2.6 1,2.9 1,3.1 1,3.2 1,3.3 1,3.3 1,3.4 1,3.5 1,3.7 1,4 1,4.2 1,4.3 1,4.3 1,4.2 1,4.1 1,4.1 1,4.1 1,4.3 1,4.5 1,4.6 1,4.6 1,4.4 1,4.4 1,4.2 1,4.1 1,4.2 1,4.3 1,4.3 1,4.3 1,4.5 1,4.4 1,4.5 1,4.5 1,4.6 1,4.5" fill="none" stroke="#000" stroke-width="1.4" stroke-linejoin="round" clip-path="url(#aB0)"/>
<path d="M280.4,1223.6l0.6-4.5 0.7-4.6 0.8-4.5 0.7-4.5 0.7-4.5 0.8-4.4 0.7-4.4 0.8-4.4 0.8-4.3 0.7-4.2 0.8-4.2 0.8-4.2 0.9-4.2 0.8-4.3 0.8-4.6 0.8-4.5 0.9-4.6 0.8-4.5 0.9-4.2 0.8-4.1 0.9-4.1 0.9-4.1 0.9-4.2 0.9-4.4 0.9-4.2 0.9-4.2 0.9-3.9 1-3.7 0.9-3.5 1-3.4 0.9-3.3 1-3.3 0.9-3.2 1-3 1-2.8 0.9-2.6 1-2.4 1-2.1 1-2.1 1-1.9 1-1.7 0.9-1.7 1-1.5 1-1.4 1-1.3 1-1.1 1-1.1 1-1.1 1-1 1-0.9 1-0.9 1-0.9 1-0.7 1-0.6 1-0.5 1-0.4 1-0.1 1-0.1 1,0.1 1,0.2 1,0.4 1,0.5 1,0.6 1,0.8 1,0.9 1,0.9 1,1 1,1 1,1 1,1.1 1,1.2 1,1.3 1,1.4 1,1.6 1,1.7 1,1.7 0.9,2 1,2 1,2.2 1,2.5 1,2.6 0.9,2.9 1,3.1 1,3.2 0.9,3.3 1,3.3 0.9,3.4 0.9,3.5 1,3.7 0.9,4 0.9,4.2 0.9,4.3 0.9,4.3 0.9,4.2 0.9,4.1 0.8,4.1 0.9,4.1 0.9,4.3 0.8,4.5 0.9,4.6 0.8,4.6 0.8,4.4 0.8,4.4 0.8,4.2 0.8,4.1 0.8,4.2 0.8,4.3 0.8,4.3 0.8,4.3 0.7,4.5 0.8,4.4 0.7,4.5 0.7,4.5 0.7,4.6 0.7,4.5" fill="none" stroke="#000" stroke-width="1.4" stroke-linejoin="round" clip-path="url(#aB0)"/>
<path d="M631.4,1223.6l1-4.5 1-4.6 1-4.5 1-4.5 1-4.5 1-4.4 1-4.4 1-4.4 1-4.3 1-4.2 1-4.2 1-4.2 1-4.2 1-4.3 1-4.6 1-4.5 1-4.6 1-4.5 1-4.2 1-4.1 1-4.1 1-4.1 1-4.2 1-4.4 1-4.2 1-4.2 1-3.9 1-3.7 1-3.5 1-3.4 1-3.3 1-3.3 1-3.2 1-3 1-2.8 1-2.6 1-2.4 1-2.1 1-2.1 1-1.9 1-1.7 1-1.7 1-1.5 1-1.4 1-1.3 1-1.1 1-1.1 1-1.1 1-1 1-0.9 1-0.9 1-0.9 1-0.7 1-0.6 1-0.5 1-0.4 1-0.1 1-0.1 1,0.1 1,0.2 1,0.4 1,0.5 1,0.6 1,0.8 1,0.9 1,0.9 1,1 1,1 1,1 1,1.1 1,1.2 1,1.3 1,1.4 1,1.6 1,1.7 1,1.7 1,2 1,2 1,2.2 1,2.5 1,2.6 1,2.9 1,3.1 1,3.2 1,3.3 1,3.3 1,3.4 1,3.5 1,3.7 1,4 1,4.2 1,4.3 1,4.3 1,4.2 1,4.1 1,4.1 1,4.1 1,4.3 1,4.5 1,4.6 1,4.6 1,4.4 1,4.4 1,4.2 1,4.1 1,4.2 1,4.3 1,4.3 1,4.3 1,4.5 1,4.4 1,4.5 1,4.5 1,4.6 1,4.5" fill="none" stroke="#000" stroke-width="1.4" stroke-linejoin="round" clip-path="url(#aB1)"/>
<path d="M637.0,1223.6l0.6-4.5 0.7-4.6 0.8-4.5 0.7-4.5 0.7-4.5 0.8-4.4 0.7-4.4 0.8-4.4 0.8-4.3 0.7-4.2 0.8-4.2 0.8-4.2 0.9-4.2 0.8-4.3 0.8-4.6 0.8-4.5 0.9-4.6 0.8-4.5 0.9-4.2 0.8-4.1 0.9-4.1 0.9-4.1 0.9-4.2 0.9-4.4 0.9-4.2 0.9-4.2 0.9-3.9 1-3.7 0.9-3.5 1-3.4 0.9-3.3 1-3.3 0.9-3.2 1-3 1-2.8 0.9-2.6 1-2.4 1-2.1 1-2.1 1-1.9 1-1.7 0.9-1.7 1-1.5 1-1.4 1-1.3 1-1.1 1-1.1 1-1.1 1-1 1-0.9 1-0.9 1-0.9 1-0.7 1-0.6 1-0.5 1-0.4 1-0.1 1-0.1 1,0.1 1,0.2 1,0.4 1,0.5 1,0.6 1,0.8 1,0.9 1,0.9 1,1 1,1 1,1 1,1.1 1,1.2 1,1.3 1,1.4 1,1.6 1,1.7 1,1.7 0.9,2 1,2 1,2.2 1,2.5 1,2.6 0.9,2.9 1,3.1 1,3.2 0.9,3.3 1,3.3 0.9,3.4 0.9,3.5 1,3.7 0.9,4 0.9,4.2 0.9,4.3 0.9,4.3 0.9,4.2 0.9,4.1 0.8,4.1 0.9,4.1 0.9,4.3 0.8,4.5 0.9,4.6 0.8,4.6 0.8,4.4 0.8,4.4 0.8,4.2 0.8,4.1 0.8,4.2 0.8,4.3 0.8,4.3 0.8,4.3 0.7,4.5 0.8,4.4 0.7,4.5 0.7,4.5 0.7,4.6 0.7,4.5" fill="none" stroke="#000" stroke-width="1.4" stroke-linejoin="round" clip-path="url(#aB1)"/>
<path d="M989.1,1223.7l1-4.7 1-4.7 1-4.7 1-4.7 1-4.7 1-4.6 1-4.6 1-4.5 1-4.4 1-4.4 1-4.3 1-4.4 1-4.4 1-4.6 1-4.7 1-4.8 1-4.7 1-4.5 1-4.3 1-4.2 1-4.3 1-4.3 1-4.5 1-4.5 1-4.3 1-4.2 1-3.8 1-3.6 1-3.5 1-3.5 1-3.4 1-3.3 1-3.1 1-2.9 1-2.6 1-2.4 1-2.3 1-2 1-1.9 1-1.8 1-1.7 1-1.5 1-1.4 1-1.3 1-1.1 1-1.1 1-1.1 1-1 1-1 1-0.9 1-0.8 1-0.6 1-0.5 1-0.4 1-0.2 1-0.1 1,0.1 1,0.2 1,0.4 1,0.5 1,0.7 1,0.8 1,1 1,0.9 1,1 1,1.1 1,1.1 1,1.2 1,1.3 1,1.4 1,1.5 1,1.7 1,1.8 1,1.9 1,2.1 1,2.2 1,2.5 1,2.6 1,2.9 1,3.2 1,3.3 1,3.4 1,3.5 1,3.5 1,3.6 1,3.9 1,4.1 1,4.4 1,4.5 1,4.5 1,4.3 1,4.2 1,4.3 1,4.3 1,4.5 1,4.7 1,4.8 1,4.7 1,4.6 1,4.4 1,4.4 1,4.3 1,4.4 1,4.4 1,4.5 1,4.6 1,4.6 1,4.7 1,4.7 1,4.7 1,4.7" fill="none" stroke="#000" stroke-width="1.4" stroke-linejoin="round" clip-path="url(#aB2)"/>
<rect x="151" y="66.6" width="356.2" height="520.1" fill="none" stroke="#000" stroke-width="3.3"/>
<rect x="150.6" y="682.3" width="356.6" height="521.9" fill="none" stroke="#000" stroke-width="3.3"/>
<rect x="507.2" y="66.6" width="355.1" height="520.1" fill="none" stroke="#000" stroke-width="3.3"/>
<rect x="507.2" y="682.3" width="355.3" height="521.9" fill="none" stroke="#000" stroke-width="3.3"/>
<rect x="862.3" y="66.6" width="355.7" height="520.1" fill="none" stroke="#000" stroke-width="3.3"/>
<rect x="862.5" y="682.3" width="355.5" height="521.9" fill="none" stroke="#000" stroke-width="3.3"/>
<circle cx="221.9" cy="121" r="10.9" fill="#ff80ff"/>
<text x="275" y="137" font-size="49" font-family="'Liberation Serif','Times New Roman',serif" text-anchor="start" >pz</text>
<text x="228.8" y="42.3" font-size="47" font-family="'Liberation Serif','Times New Roman',serif" text-anchor="middle" >-0.2</text>
<text x="330.4" y="42.3" font-size="47" font-family="'Liberation Serif','Times New Roman',serif" text-anchor="middle" >0.0</text>
<text x="432.3" y="42.3" font-size="47" font-family="'Liberation Serif','Times New Roman',serif" text-anchor="middle" >0.2</text>
<text x="585.5" y="42.3" font-size="47" font-family="'Liberation Serif','Times New Roman',serif" text-anchor="middle" >-0.2</text>
<text x="686.5" y="42.3" font-size="47" font-family="'Liberation Serif','Times New Roman',serif" text-anchor="middle" >0.0</text>
<text x="788.1" y="42.3" font-size="47" font-family="'Liberation Serif','Times New Roman',serif" text-anchor="middle" >0.2</text>
<text x="940.9" y="42.3" font-size="47" font-family="'Liberation Serif','Times New Roman',serif" text-anchor="middle" >-0.2</text>
<text x="1042" y="42.3" font-size="47" font-family="'Liberation Serif','Times New Roman',serif" text-anchor="middle" >0.0</text>
<text x="1143.8" y="42.3" font-size="47" font-family="'Liberation Serif','Times New Roman',serif" text-anchor="middle" >0.2</text>
<text x="139" y="128.2" font-size="47" font-family="'Liberation Serif','Times New Roman',serif" text-anchor="end" >0.0</text>
<text x="139" y="318.3" font-size="47" font-family="'Liberation Serif','Times New Roman',serif" text-anchor="end" >-0.2</text>
<text x="139" y="508.3" font-size="47" font-family="'Liberation Serif','Times New Roman',serif" text-anchor="end" >-0.4</text>
<text x="139" y="745.4" font-size="47" font-family="'Liberation Serif','Times New Roman',serif" text-anchor="end" >0.0</text>
<text x="139" y="935.5" font-size="47" font-family="'Liberation Serif','Times New Roman',serif" text-anchor="end" >-0.2</text>
<text x="139" y="1125.5" font-size="47" font-family="'Liberation Serif','Times New Roman',serif" text-anchor="end" >-0.4</text>
<line x1="341.5" y1="1385.7" x2="341.5" y2="2422" stroke="#808080" stroke-width="3.2" stroke-dasharray="5.2 14.67"/>
<path d="M145.5,1637.4l0.5-0.1 0.5,0.1 0.5,0.3 0.5,0.5 0.5,0.7 0.5,1.1 0.5,1.4 0.5,1.7 0.5,2.2 0.5,2.6 0.5,3.1 0.5,3.4 0.5,3.7 0.5,4.1 0.5,4.3 0.5,4.5 0.5,4.7 0.5,4.8 0.5,5.1 0.5,5.3 0.5,5.5 0.5,5.8 0.5,6 0.5,6.2 0.5,6.5 0.5,6.7 0.5,7.1 0.5,7.3 0.5,7.5 0.5,7.9 0.5,8.2 0.5,8.5 0.5,8.8 0.5,9.1 0.5,9.3 0.5,9.5 0.5,9.5 0.5,9.7 0.5,9.6 0.5,9.5 0.5,9.4 0.5,9.3 0.5,9 0.5,8.7 0.5,8.4 0.5,7.9 0.5,7.5 0.5,7.1 0.5,7.1 0.5,7.9 0.5,9.3 0.5,11.3 0.5,13.6 0.5,14.7 0.5,14.4 0.5,13.4 0.5,12.8 0.5,12.6 0.5,12.8 0.5,12.8 0.5,12.4 0.5,11.5 0.5,10 0.5,8.8 0.5,8.1 0.5,7.9 0.5,8.3 0.5,9.1 0.5,10.3 0.5,11.4 0.5,12.3 0.5,13 0.5,13.3 0.5,13.6 0.5,13.5 0.5,13.1 0.5,12.9 0.5,12.4 0.5,12.3 0.5,12 0.5,12 0.5,12 0.5,12 0.5,12.2 0.5,12.4 0.5,12.7 0.5,13 0.5,13.6 0.5,14.7 0.5,16.7 0.5,19.4 0.5,23 0.5,27.4" fill="none" stroke="#000" stroke-width="3.0" stroke-linejoin="round" clip-path="url(#cc)"/>
<path d="M491.2,2519.0l0.5-32.6 0.5-27.4 0.5-23 0.5-19.4 0.5-16.7 0.5-14.7 0.5-13.6 0.5-13 0.5-12.7 0.5-12.4 0.5-12.2 0.5-12 0.5-12 0.5-12 0.5-12 0.5-12.3 0.5-12.4 0.5-12.9 0.5-13.1 0.5-13.5 0.5-13.6 0.5-13.3 0.5-13 0.5-12.3 0.5-11.4 0.5-10.3 0.5-9.1 0.5-8.3 0.5-7.9 0.5-8.1 0.5-8.8 0.5-10 0.5-11.5 0.5-12.4 0.5-12.8 0.5-12.8 0.5-12.6 0.5-12.8 0.5-13.4 0.5-14.4 0.5-14.7 0.5-13.6 0.5-11.3 0.5-9.3 0.5-7.9 0.5-7.1 0.5-7.1 0.5-7.5 0.5-7.9 0.5-8.4 0.5-8.7 0.5-9 0.5-9.3 0.5-9.4 0.5-9.5 0.5-9.6 0.5-9.7 0.5-9.5 0.5-9.5 0.5-9.3 0.5-9.1 0.5-8.8 0.5-8.5 0.5-8.2 0.5-7.9 0.5-7.5 0.5-7.3 0.5-7.1 0.5-6.7 0.5-6.5 0.5-6.2 0.5-6 0.5-5.8 0.5-5.5 0.5-5.3 0.5-5.1 0.5-4.8 0.5-4.7 0.5-4.5 0.5-4.3 0.5-4.1 0.5-3.7 0.5-3.4 0.5-3.1 0.5-2.6 0.5-2.2 0.5-1.7 0.5-1.4 0.5-1.1 0.5-0.7 0.5-0.5 0.5-0.3 0.5-0.1 0.5,0.1" fill="none" stroke="#000" stroke-width="3.0" stroke-linejoin="round" clip-path="url(#cc)"/>
<path d="M141.5,2398.5l0.7,0.2 0.8,0 0.8,0 0.7-0.1 0.7-0.2 0.8-0.3 0.8-0.4 0.7-0.5 0.7-0.6 0.8-0.7 0.8-0.8 0.7-0.8 0.7-1 0.8-1 0.8-1.1 0.7-1.2 0.7-1.3 0.8-1.4 0.8-1.5 0.7-1.5 0.7-1.7 0.8-1.7 0.8-1.8 0.7-1.9 0.7-2 0.8-2 0.8-2.1 0.7-2.3 0.7-2.3 0.8-2.3 0.8-2.5 0.7-2.5 0.7-2.6 0.8-2.7 0.8-2.8 0.7-2.8 0.7-3 0.8-3 0.8-3 0.7-3.2 0.7-3.2 0.8-3.3 0.8-3.4 0.7-3.4 0.7-3.5 0.8-3.6 0.8-3.7 0.7-3.7 0.7-3.8 0.8-3.9 0.8-3.9 0.7-4 0.7-4.1 0.8-4.1 0.8-4.2 0.7-4.3 0.7-4.4 0.8-4.4 0.8-4.4 0.7-4.6 0.7-4.6 0.8-4.6 0.8-4.8 0.7-4.8 0.7-4.8 0.8-4.9 0.8-5 0.7-5 0.7-5.1 0.8-5.2 0.8-5.2 0.7-5.2 0.7-5.4 0.8-5.4 0.8-5.4 0.7-5.5 0.7-5.5 0.8-5.6 0.8-5.6 0.7-5.7 0.7-5.7 0.8-5.7 0.8-5.8 0.7-5.7 0.7-5.8 0.8-5.8 0.8-5.9 0.7-5.8 0.7-5.8 0.8-5.9 0.8-5.8 0.7-5.8 0.7-5.8 0.8-5.8 0.8-5.8 0.7-5.7 0.7-5.8 0.8-5.7 0.8-5.7 0.7-5.7 0.7-5.7 0.8-5.8 0.8-5.8 0.7-5.9 0.7-6 0.8-6.1 0.8-6.2 0.7-6.4 0.7-6.5 0.8-6.6 0.8-6.7 0.7-6.6 0.7-6.5 0.8-6.4 0.8-6.2 0.7-6.1 0.7-5.8 0.8-5.8 0.8-5.7 0.7-5.6 0.7-5.5 0.8-5.6 0.8-5.5 0.7-5.6 0.7-5.7 0.8-5.7 0.8-5.9 0.7-6.1 0.7-6.2 0.8-6.4 0.8-6.5 0.7-6.7 0.7-6.8 0.8-7 0.8-7 0.7-7.1 0.7-7.1 0.8-7 0.8-6.9 0.7-6.7 0.7-6.4 0.8-6.1 0.8-5.9 0.7-5.7 0.7-5.7 0.8-5.6 0.8-5.6 0.7-5.6 0.7-5.8 0.8-5.9 0.8-5.9 0.7-5.9 0.7-5.8 0.8-5.7 0.8-5.5 0.7-5.2 0.7-5 0.8-5 0.8-4.8 0.7-4.7 0.7-4.8 0.8-4.8 0.8-4.9 0.7-5 0.7-5.2 0.8-5.2 0.8-5.4 0.7-5.4 0.7-5.4 0.8-5.3 0.8-5.3 0.7-5.2 0.7-5.1 0.8-5 0.8-4.8 0.7-4.8 0.7-4.6 0.8-4.5 0.8-4.5 0.7-4.3 0.7-4.3 0.8-4.2 0.8-4.1 0.7-4.1 0.7-4 0.8-3.9 0.8-3.9 0.7-3.8 0.7-3.8 0.8-3.7 0.8-3.6 0.7-3.6 0.7-3.5 0.8-3.5 0.8-3.3 0.7-3.4 0.7-3.2 0.8-3.2 0.8-3.1 0.7-3 0.7-2.9 0.8-2.9 0.8-2.8 0.7-2.7 0.7-2.6 0.8-2.5 0.8-2.5 0.7-2.3 0.7-2.3 0.8-2.2 0.8-2 0.7-2 0.7-1.9 0.8-1.8 0.8-1.8 0.7-1.6 0.7-1.5 0.8-1.5 0.8-1.4 0.7-1.3 0.7-1.2 0.8-1.1 0.8-1.1 0.7-1 0.7-0.9 0.8-0.8 0.8-0.8 0.7-0.6 0.7-0.6 0.8-0.6 0.8-0.4 0.7-0.4 0.7-0.4 0.8-0.2 0.8-0.2 0.7-0.1 0.7-0.1 0.8,0 0.8,0.1 0.7,0.1 0.7,0.2 0.8,0.3 0.8,0.3 0.7,0.4 0.7,0.4 0.8,0.5 0.8,0.7 0.7,0.7 0.7,0.8 0.8,1 0.8,1 0.7,1.2 0.7,1.4 0.8,1.5 0.8,1.6 0.7,1.8 0.7,2 0.8,2.1 0.8,2.4 0.7,2.5 0.7,2.5 0.8,2.4 0.8,2.2 0.7,1.9 0.7,1.4 0.8,0.8 0.8,0.2 0.7-0.6 0.7-1.3 0.8-1.7 0.8-2.1 0.7-2.3 0.7-2.5 0.8-2.5 0.8-2.4 0.7-2.2 0.7-2 0.8-1.8 0.8-1.7 0.7-1.5 0.7-1.4 0.8-1.3 0.8-1.1 0.7-1.1 0.7-0.9 0.8-0.9 0.8-0.7 0.7-0.6 0.7-0.6 0.8-0.4 0.8-0.4 0.7-0.2 0.7-0.2 0.8-0.1 0.8-0.1 0.7,0 0.7,0.1 0.8,0.2 0.8,0.2 0.7,0.3 0.7,0.3 0.8,0.4 0.8,0.5 0.7,0.5 0.7,0.6 0.8,0.6 0.8,0.8 0.7,0.8 0.7,0.9 0.8,0.9 0.8,1.1 0.7,1.1 0.7,1.2 0.8,1.2 0.8,1.4 0.7,1.4 0.7,1.5 0.8,1.6 0.8,1.7 0.7,1.8 0.7,1.8 0.8,1.9 0.8,2.1 0.7,2.1 0.7,2.2 0.8,2.3 0.8,2.4 0.7,2.5 0.7,2.6 0.8,2.6 0.8,2.8 0.7,2.8 0.7,2.9 0.8,3 0.8,3 0.7,3.2 0.7,3.2 0.8,3.3 0.8,3.4 0.7,3.4 0.7,3.5 0.8,3.6 0.8,3.6 0.7,3.7 0.7,3.8 0.8,3.9 0.8,3.9 0.7,3.9 0.7,4 0.8,4.1 0.8,4.1 0.7,4.2 0.7,4.3 0.8,4.3 0.8,4.4 0.7,4.4 0.7,4.6 0.8,4.6 0.8,4.8 0.7,4.8 0.7,5 0.8,5.2 0.8,5.2 0.7,5.4 0.7,5.4 0.8,5.4 0.8,5.4 0.7,5.3 0.7,5.3 0.8,5.1 0.8,4.9 0.7,4.8 0.7,4.8 0.8,4.8 0.8,4.8 0.7,4.8 0.7,5 0.8,5.2 0.8,5.4 0.7,5.6 0.7,5.7 0.8,5.9 0.8,5.9 0.7,5.9 0.7,5.8 0.8,5.8 0.8,5.6 0.7,5.6 0.7,5.6 0.8,5.7 0.8,5.8 0.7,6.1 0.7,6.3 0.8,6.6 0.8,6.8 0.7,7 0.7,7.1 0.8,7.1 0.8,7 0.7,6.9 0.7,6.9 0.8,6.7 0.8,6.5 0.7,6.5 0.7,6.2 0.8,6.2 0.8,5.9 0.7,5.9 0.7,5.7 0.8,5.7 0.8,5.7 0.7,5.6 0.7,5.6 0.8,5.6 0.8,5.6 0.7,5.8 0.7,5.8 0.8,5.9 0.8,6.1 0.7,6.2 0.7,6.4 0.8,6.4 0.8,6.5 0.7,6.5 0.7,6.5 0.8,6.4 0.8,6.3 0.7,6.2 0.7,6.2 0.8,6.1 0.8,6 0.7,6 0.7,5.9 0.8,5.8 0.8,5.8 0.7,5.8 0.7,5.8 0.8,5.7 0.8,5.7 0.7,5.7 0.7,5.7 0.8,5.7 0.8,5.7 0.7,5.7 0.7,5.7 0.8,5.8 0.8,5.7 0.7,5.8 0.7,5.7 0.8,5.8 0.8,5.7 0.7,5.8 0.7,5.7 0.8,5.7 0.8,5.6 0.7,5.6 0.7,5.6 0.8,5.6 0.8,5.5 0.7,5.4 0.7,5.4 0.8,5.3 0.8,5.2 0.7,5.2 0.7,5.1 0.8,5.1 0.8,5 0.7,5 0.7,4.9 0.8,4.8 0.8,4.7 0.7,4.7 0.7,4.7 0.8,4.5 0.8,4.5 0.7,4.5 0.7,4.3 0.8,4.3 0.8,4.3 0.7,4.1 0.7,4.1 0.8,4 0.8,4 0.7,3.9 0.7,3.8 0.8,3.8 0.8,3.6 0.7,3.6 0.7,3.6 0.8,3.4 0.8,3.4 0.7,3.3 0.7,3.3 0.8,3.2 0.8,3 0.7,3.1 0.7,2.9 0.8,2.9 0.8,2.8 0.7,2.7 0.7,2.6 0.8,2.5 0.8,2.5 0.7,2.4 0.7,2.3 0.8,2.3 0.8,2.1 0.7,2.1 0.7,2 0.8,1.9 0.8,1.8 0.7,1.8 0.7,1.6 0.8,1.6 0.8,1.5 0.7,1.4 0.7,1.4 0.8,1.2 0.8,1.1 0.7,1.1 0.7,1 0.8,0.9 0.8,0.8 0.7,0.7 0.7,0.6 0.8,0.6 0.8,0.4 0.7,0.4 0.7,0.2 0.8,0.2 0.8,0.1 0.7,0 0.7-0.1" fill="none" stroke="#000" stroke-width="3.0" stroke-linejoin="round" clip-path="url(#cc)"/>
<path d="M141.5,2398.5l1.1,0.2 1.1,0 1.1-0.2 1.1-0.4 1.1-0.6 1.1-0.8 1.1-1 1.1-1.2 1.1-1.4 1.1-1.5 1.1-1.8 1.1-2 1.1-2.1 1.1-2.3 1.1-2.5 1.1-2.7 1.1-2.8 1.1-3.1 1.1-3.2 1.1-3.3 1.1-3.6 1.1-3.7 1.1-3.9 1.1-4.1 1.1-4.2 1.1-4.4 1.1-4.5 1.1-4.7 1.1-4.9 1.1-5 1.1-5.2 1.1-5.3 1.1-5.5 1.1-5.7 1.1-5.7 1.1-6 1.1-6 1.1-6.3 1.1-6.3 1.1-6.5 1.1-6.7 1.1-6.8 1.1-6.9 1.1-7 1.1-7.2 1.1-7.3 1.1-7.5 1.1-7.5 1.1-7.7 1.1-7.9 1.1-7.9 1.1-8.1 1.1-8.1 1.1-8.3 1.1-8.3 1.1-8.4 1.1-8.4 1.1-8.5 1.1-8.6 1.1-8.5 1.1-8.5 1.1-8.6 1.1-8.5 1.1-8.5 1.1-8.5 1.1-8.4 1.1-8.4 1.1-8.4 1.1-8.4 1.1-8.5 1.1-8.6 1.1-8.9 1.1-9.1 1.1-9.4 1.1-9.6 1.1-9.8 1.1-9.6 1.1-9.3 1.1-9 1.1-8.6 1.1-8.3 1.1-8.2 1.1-8.2 1.1-8.1 1.1-8.3 1.1-8.4 1.1-8.7 1.1-9.1 1.1-9.4 1.1-9.8 1.1-10 1.1-10.3 1.1-10.4 1.1-10.4 1.1-10.1 1.1-9.5 1.1-9 1.1-8.5 1.1-8.3 1.1-8.2 1.1-8.3 1.1-8.5 1.1-8.7 1.1-8.6 1.1-8.4 1.1-7.9 1.1-7.5 1.1-7.2 1.1-7 1.1-7 1.1-7.1 1.1-7.4 1.1-7.6 1.1-7.9 1.1-7.9 1.1-7.9 1.1-7.7 1.1-7.5 1.1-7.2 1.1-7 1.1-6.7 1.1-6.6 1.1-6.3 1.1-6.2 1.1-6.1 1.1-5.9 1.1-5.7 1.1-5.7 1.1-5.5 1.1-5.4 1.1-5.3 1.1-5.1 1.1-5 1.1-4.8 1.1-4.7 1.1-4.5 1.1-4.3 1.1-4.2 1.1-4 1.1-3.9 1.1-3.6 1.1-3.4 1.1-3.3 1.1-3 1.1-2.9 1.1-2.7 1.1-2.4 1.1-2.3 1.1-2.2 1.1-1.9 1.1-1.7 1.1-1.6 1.1-1.5 1.1-1.2 1.1-1.1 1.1-0.9 1.1-0.8 1.1-0.6 1.1-0.5 1.1-0.3 1.1-0.2 1.1-0.1 1.1,0.1 1.1,0.2 1.1,0.4 1.1,0.4 1.1,0.7 1.1,0.8 1.1,1 1.1,1.2 1.1,1.5 1.1,1.8 1.1,2 1.1,2.4 1.1,2.8 1.1,3.1 1.1,3.6 1.1,3.6 1.1,3.5 1.1,2.9 1.1,1.9 1.1,0.5 1.1-1.1 1.1-2.2 1.1-3.2 1.1-3.5 1.1-3.7 1.1-3.3 1.1-2.9 1.1-2.6 1.1-2.3 1.1-2 1.1-1.7 1.1-1.5 1.1-1.3 1.1-1 1.1-0.8 1.1-0.7 1.1-0.4 1.1-0.3 1.1-0.1 1.1,0.1 1.1,0.1 1.1,0.3 1.1,0.5 1.1,0.5 1.1,0.8 1.1,0.8 1.1,1 1.1,1.2 1.1,1.3 1.1,1.5 1.1,1.6 1.1,1.9 1.1,1.9 1.1,2.2 1.1,2.3 1.1,2.6 1.1,2.7 1.1,2.9 1.1,3.1 1.1,3.3 1.1,3.5 1.1,3.7 1.1,3.8 1.1,4.1 1.1,4.2 1.1,4.4 1.1,4.6 1.1,4.7 1.1,4.9 1.1,5 1.1,5.2 1.1,5.4 1.1,5.4 1.1,5.7 1.1,5.7 1.1,5.9 1.1,6 1.1,6.1 1.1,6.3 1.1,6.4 1.1,6.5 1.1,6.8 1.1,7 1.1,7.2 1.1,7.5 1.1,7.8 1.1,8 1.1,7.9 1.1,7.8 1.1,7.6 1.1,7.3 1.1,7.1 1.1,7 1.1,7 1.1,7.3 1.1,7.6 1.1,8.1 1.1,8.5 1.1,8.6 1.1,8.7 1.1,8.4 1.1,8.3 1.1,8.2 1.1,8.3 1.1,8.7 1.1,9.2 1.1,9.8 1.1,10.2 1.1,10.4 1.1,10.3 1.1,10.2 1.1,9.9 1.1,9.6 1.1,9.3 1.1,9 1.1,8.6 1.1,8.5 1.1,8.3 1.1,8.2 1.1,8.2 1.1,8.3 1.1,8.5 1.1,8.6 1.1,9 1.1,9.2 1.1,9.5 1.1,9.6 1.1,9.4 1.1,9.4 1.1,9.1 1.1,9 1.1,8.8 1.1,8.7 1.1,8.6 1.1,8.5 1.1,8.4 1.1,8.4 1.1,8.4 1.1,8.3 1.1,8.4 1.1,8.4 1.1,8.4 1.1,8.4 1.1,8.5 1.1,8.4 1.1,8.4 1.1,8.4 1.1,8.3 1.1,8.3 1.1,8.2 1.1,8 1.1,8 1.1,7.8 1.1,7.7 1.1,7.5 1.1,7.4 1.1,7.3 1.1,7.2 1.1,7 1.1,6.9 1.1,6.7 1.1,6.6 1.1,6.5 1.1,6.3 1.1,6.2 1.1,6 1.1,5.9 1.1,5.7 1.1,5.6 1.1,5.4 1.1,5.3 1.1,5.1 1.1,4.9 1.1,4.8 1.1,4.7 1.1,4.5 1.1,4.3 1.1,4.1 1.1,4 1.1,3.8 1.1,3.7 1.1,3.5 1.1,3.3 1.1,3.1 1.1,3 1.1,2.8 1.1,2.6 1.1,2.4 1.1,2.2 1.1,2.1 1.1,1.9 1.1,1.7 1.1,1.5 1.1,1.3 1.1,1.1 1.1,1 1.1,0.7 1.1,0.6 1.1,0.3 1.1,0.2 1.1-0.1" fill="none" stroke="none" marker-start="url(#m1)" marker-mid="url(#m1)" marker-end="url(#m1)" clip-path="url(#cc)"/>
<path d="M141.5,3855.0l0.7-12.4 0.8-12.4 0.8-12.3 0.7-12.3 0.7-12.2 0.8-12.2 0.8-12.2 0.7-12.1 0.7-12.1 0.8-12 0.8-12 0.7-11.9 0.7-12 0.8-11.8 0.8-11.9 0.7-11.8 0.7-11.7 0.8-11.7 0.8-11.7 0.7-11.7 0.7-11.6 0.8-11.6 0.8-11.5 0.7-11.5 0.7-11.5 0.8-11.4 0.8-11.4 0.7-11.4 0.7-11.3 0.8-11.3 0.8-11.3 0.7-11.2 0.7-11.2 0.8-11.2 0.8-11.1 0.7-11.1 0.7-11.1 0.8-11 0.8-11 0.7-11 0.7-10.9 0.8-10.9 0.8-10.9 0.7-10.9 0.7-10.8 0.8-10.8 0.8-10.8 0.7-10.7 0.7-10.7 0.8-10.7 0.8-10.6 0.7-10.6 0.7-10.6 0.8-10.6 0.8-10.6 0.7-10.5 0.7-10.5 0.8-10.4 0.8-10.5 0.7-10.4 0.7-10.4 0.8-10.3 0.8-10.4 0.7-10.3 0.7-10.3 0.8-10.2 0.8-10.3 0.7-10.2 0.7-10.2 0.8-10.2 0.8-10.1 0.7-10.2 0.7-10.1 0.8-10.1 0.8-10 0.7-10.1 0.7-10 0.8-10 0.8-10 0.7-10 0.7-9.9 0.8-10 0.8-9.9 0.7-9.9 0.7-9.9 0.8-9.8 0.8-9.9 0.7-9.8 0.7-9.8 0.8-9.8 0.8-9.8 0.7-9.7 0.7-9.8 0.8-9.7 0.8-9.7 0.7-9.7 0.7-9.7 0.8-9.7 0.8-9.6 0.7-9.7 0.7-9.6 0.8-9.6 0.8-9.6 0.7-9.6 0.7-9.6 0.8-9.5 0.8-9.6 0.7-9.5 0.7-9.6 0.8-9.5 0.8-9.5 0.7-9.5 0.7-9.5 0.8-9.5 0.8-9.5 0.7-9.4 0.7-9.5 0.8-9.4 0.8-9.5 0.7-9.4 0.7-9.4 0.8-9.5 0.8-9.4 0.7-9.4 0.7-9.4 0.8-9.4 0.8-9.4 0.7-9.3 0.7-9.4 0.8-9.4 0.8-9.4 0.7-9.3 0.7-9.4 0.8-9.3 0.8-9.4 0.7-9.3 0.7-9.4 0.8-9.3 0.8-9.4 0.7-9.3 0.7-9.3 0.8-9.4 0.8-9.3 0.7-9.3 0.7-9.4 0.8-9.3 0.8-9.3 0.7-9.4 0.7-9.3 0.8-9.4 0.8-9.3 0.7-9.3 0.7-9.4 0.8-9.3 0.8-9.4 0.7-9.3 0.7-9.4 0.8-9.3 0.8-9.4 0.7-9.3 0.7-9.4 0.8-9.4 0.8-9.4 0.7-9.3 0.7-9.4 0.8-9.4 0.8-9.4 0.7-9.4 0.7-9.4 0.8-9.4 0.8-9.5 0.7-9.4 0.7-9.4 0.8-9.5 0.8-9.5 0.7-9.4 0.7-9.5 0.8-9.5 0.8-9.5 0.7-9.5 0.7-9.3 0.8-9 0.8-8.6 0.7-8.1 0.7-7.6 0.8-7.4 0.8-7.5 0.7-8 0.7-8.6 0.8-9.1 0.8-9.5 0.7-9.7 0.7-9.7 0.8-9.7 0.8-9.5 0.7-9.1 0.7-8.5 0.8-8 0.8-7.6 0.7-7.2 0.7-7.1 0.8-7 0.8-7 0.7-7.3 0.7-7.5 0.8-7.8 0.8-8.2 0.7-8.7 0.7-9.2 0.8-9.3 0.8-9.1 0.7-8.7 0.7-7.8 0.8-7.2 0.8-6.5 0.7-6.2 0.7-5.8 0.8-5.8 0.8-5.8 0.7-6 0.7-6 0.8-6.1 0.8-6.1 0.7-6.1 0.7-5.9 0.8-5.8 0.8-5.6 0.7-5.5 0.7-5.3 0.8-5.3 0.8-5.1 0.7-5.1 0.7-5.1 0.8-5.1 0.8-5.1 0.7-5.1 0.7-5.1 0.8-5.3 0.8-5.3 0.7-5.5 0.7-5.4 0.8-5.4 0.8-5.2 0.7-4.9 0.7-4.8 0.8-4.5 0.8-4.3 0.7-4.2 0.7-4 0.8-3.8 0.8-3.8 0.7-3.6 0.7-3.5 0.8-3.5 0.8-3.5 0.7-3.4 0.7-3.3 0.8-3.4 0.8-3.4 0.7-3.4 0.7-3.3 0.8-3 0.8-2.6 0.7-2.2 0.7-1.6 0.8-0.8 0.8,0 0.7,0.8 0.7,1.5 0.8,2.1 0.8,2.4 0.7,2.7 0.7,2.9 0.8,3.1 0.8,3.2 0.7,3.4 0.7,3.4 0.8,3.5 0.8,3.6 0.7,3.5 0.7,3.6 0.8,3.7 0.8,3.8 0.7,3.8 0.7,4 0.8,4 0.8,4.3 0.7,4.4 0.7,4.6 0.8,4.8 0.8,5 0.7,5.2 0.7,5.3 0.8,5.5 0.8,5.5 0.7,5.6 0.7,5.4 0.8,5.4 0.8,5.2 0.7,5.1 0.7,5 0.8,5 0.8,5 0.7,5 0.7,5.2 0.8,5.3 0.8,5.4 0.7,5.7 0.7,5.8 0.8,6.1 0.8,6.2 0.7,6.2 0.7,6.1 0.8,6.1 0.8,5.9 0.7,5.7 0.7,5.8 0.8,6 0.8,6.4 0.7,6.9 0.7,7.7 0.8,8.4 0.8,9.1 0.7,9.4 0.7,9.2 0.8,8.7 0.8,8.2 0.7,7.6 0.7,7.4 0.8,7.1 0.8,7.2 0.7,7.3 0.7,7.5 0.8,7.7 0.8,7.8 0.7,8.1 0.7,8.4 0.8,8.5 0.8,8.8 0.7,9.1 0.7,9.4 0.8,9.6 0.8,9.7 0.7,9.4 0.7,9.1 0.8,8.3 0.8,7.8 0.7,7.5 0.7,7.5 0.8,7.9 0.8,8.4 0.7,9 0.7,9.2 0.8,9.5 0.8,9.4 0.7,9.5 0.7,9.4 0.8,9.3 0.8,9.4 0.7,9.4 0.7,9.4 0.8,9.4 0.8,9.5 0.7,9.5 0.7,9.4 0.8,9.5 0.8,9.4 0.7,9.5 0.7,9.4 0.8,9.4 0.8,9.4 0.7,9.4 0.7,9.4 0.8,9.3 0.8,9.4 0.7,9.3 0.7,9.4 0.8,9.3 0.8,9.3 0.7,9.4 0.7,9.3 0.8,9.3 0.8,9.3 0.7,9.4 0.7,9.3 0.8,9.3 0.8,9.3 0.7,9.3 0.7,9.4 0.8,9.3 0.8,9.3 0.7,9.4 0.7,9.3 0.8,9.4 0.8,9.3 0.7,9.4 0.7,9.4 0.8,9.4 0.8,9.4 0.7,9.4 0.7,9.4 0.8,9.4 0.8,9.5 0.7,9.4 0.7,9.5 0.8,9.5 0.8,9.5 0.7,9.6 0.7,9.5 0.8,9.6 0.8,9.6 0.7,9.6 0.7,9.6 0.8,9.7 0.8,9.6 0.7,9.7 0.7,9.8 0.8,9.7 0.8,9.8 0.7,9.8 0.7,9.8 0.8,9.9 0.8,9.9 0.7,9.9 0.7,10 0.8,10 0.8,10 0.7,10 0.7,10.1 0.8,10.2 0.8,10.1 0.7,10.2 0.7,10.2 0.8,10.3 0.8,10.3 0.7,10.4 0.7,10.4 0.8,10.4 0.8,10.5 0.7,10.5 0.7,10.6 0.8,10.6 0.8,10.6 0.7,10.7 0.7,10.8 0.8,10.8 0.8,10.8 0.7,10.9 0.7,10.9 0.8,11 0.8,11.1 0.7,11.1 0.7,11.1 0.8,11.2 0.8,11.3 0.7,11.3 0.7,11.4 0.8,11.4 0.8,11.5 0.7,11.5 0.7,11.6 0.8,11.7 0.8,11.7 0.7,11.8 0.7,11.9 0.8,11.9 0.8,12 0.7,12 0.7,12.1 0.8,12.2 0.8,12.2 0.7,12.3 0.7,12.4 0.8,12.5 0.8,12.5 0.7,12.6 0.7,12.7 0.8,12.7 0.8,12.8 0.7,12.9 0.7,13 0.8,13 0.8,13.1 0.7,13.2 0.7,13.3 0.8,13.3 0.8,13.5 0.7,13.5 0.7,13.6 0.8,13.6 0.8,13.8 0.7,13.8 0.7,14 0.8,14 0.8,14.1 0.7,14.2 0.7,14.2 0.8,14.4 0.8,14.5 0.7,14.5 0.7,14.6 0.8,14.8 0.8,14.8 0.7,14.9 0.7,15 0.8,15.1 0.8,15.2 0.7,15.3 0.7,15.4 0.8,15.5 0.8,15.6 0.7,15.7 0.7,15.8 0.8,15.8 0.8,16 0.7,16.1 0.7,16.2 0.8,16.3 0.8,16.5 0.7,16.5 0.7,16.6 0.8,16.7 0.8,16.9 0.7,16.9 0.7,17.1 0.8,17.1 0.8,17.3 0.7,17.4 0.7,17.5 0.8,17.6 0.8,17.8 0.7,17.8 0.7,18" fill="none" stroke="#000" stroke-width="3.0" stroke-linejoin="round" clip-path="url(#cc)"/>
<path d="M141.5,3855.0l1.1-18.2 1.1-18.1 1.1-18 1.1-17.9 1.1-17.8 1.1-17.7 1.1-17.7 1.1-17.6 1.1-17.4 1.1-17.4 1.1-17.3 1.1-17.3 1.1-17.1 1.1-17.1 1.1-17 1.1-16.9 1.1-16.8 1.1-16.8 1.1-16.7 1.1-16.6 1.1-16.5 1.1-16.5 1.1-16.4 1.1-16.3 1.1-16.3 1.1-16.2 1.1-16.1 1.1-16.1 1.1-15.9 1.1-16 1.1-15.8 1.1-15.8 1.1-15.8 1.1-15.7 1.1-15.6 1.1-15.5 1.1-15.5 1.1-15.5 1.1-15.4 1.1-15.3 1.1-15.3 1.1-15.2 1.1-15.2 1.1-15.1 1.1-15 1.1-15.1 1.1-14.9 1.1-14.9 1.1-14.9 1.1-14.8 1.1-14.8 1.1-14.8 1.1-14.7 1.1-14.6 1.1-14.6 1.1-14.6 1.1-14.5 1.1-14.5 1.1-14.5 1.1-14.4 1.1-14.4 1.1-14.3 1.1-14.3 1.1-14.3 1.1-14.2 1.1-14.3 1.1-14.1 1.1-14.2 1.1-14.1 1.1-14.1 1.1-14.1 1.1-14 1.1-14 1.1-14 1.1-14 1.1-14 1.1-13.9 1.1-13.9 1.1-13.9 1.1-13.8 1.1-13.9 1.1-13.8 1.1-13.9 1.1-13.8 1.1-13.7 1.1-13.8 1.1-13.8 1.1-13.7 1.1-13.8 1.1-13.7 1.1-13.7 1.1-13.8 1.1-13.7 1.1-13.7 1.1-13.7 1.1-13.7 1.1-13.7 1.1-13.7 1.1-13.6 1.1-13.7 1.1-13.7 1.1-13.7 1.1-13.7 1.1-13.7 1.1-13.7 1.1-13.7 1.1-13.7 1.1-13.8 1.1-13.7 1.1-13.7 1.1-13.8 1.1-13.7 1.1-13.8 1.1-13.8 1.1-13.8 1.1-13.8 1.1-13.8 1.1-13.9 1.1-13.8 1.1-13.9 1.1-14 1.1-13.9 1.1-13.8 1.1-13.4 1.1-12.6 1.1-11.4 1.1-10.9 1.1-11.3 1.1-12.6 1.1-13.6 1.1-14.2 1.1-14.3 1.1-13.9 1.1-13.1 1.1-11.9 1.1-11 1.1-10.4 1.1-10.3 1.1-10.5 1.1-11 1.1-11.8 1.1-12.8 1.1-13.6 1.1-13.4 1.1-12.2 1.1-10.6 1.1-9.3 1.1-8.7 1.1-8.5 1.1-8.7 1.1-8.9 1.1-8.9 1.1-8.9 1.1-8.5 1.1-8.3 1.1-7.9 1.1-7.7 1.1-7.5 1.1-7.4 1.1-7.5 1.1-7.5 1.1-7.6 1.1-7.8 1.1-8 1.1-7.9 1.1-7.5 1.1-7 1.1-6.6 1.1-6.2 1.1-5.9 1.1-5.5 1.1-5.3 1.1-5.2 1.1-5 1.1-5 1.1-5 1.1-5 1.1-4.8 1.1-4.3 1.1-3.3 1.1-2.1 1.1-0.4 1.1,1.4 1.1,2.8 1.1,3.6 1.1,4.1 1.1,4.5 1.1,4.9 1.1,5 1.1,5.2 1.1,5.2 1.1,5.3 1.1,5.5 1.1,5.7 1.1,5.9 1.1,6.3 1.1,6.7 1.1,7 1.1,7.6 1.1,7.9 1.1,8 1.1,8.1 1.1,8 1.1,7.6 1.1,7.4 1.1,7.4 1.1,7.3 1.1,7.5 1.1,7.8 1.1,8.3 1.1,8.7 1.1,9 1.1,9 1.1,9 1.1,8.6 1.1,8.5 1.1,8.8 1.1,9.7 1.1,11.2 1.1,12.8 1.1,13.7 1.1,13.3 1.1,12.1 1.1,11.1 1.1,10.5 1.1,10.6 1.1,10.9 1.1,11.3 1.1,11.7 1.1,12.3 1.1,12.8 1.1,13.3 1.1,13.9 1.1,14.2 1.1,13.6 1.1,12.4 1.1,11.2 1.1,11 1.1,11.8 1.1,13 1.1,13.6 1.1,13.9 1.1,13.8 1.1,13.8 1.1,13.7 1.1,13.8 1.1,13.8 1.1,13.9 1.1,13.9 1.1,13.9 1.1,13.8 1.1,13.8 1.1,13.8 1.1,13.8 1.1,13.7 1.1,13.7 1.1,13.7 1.1,13.7 1.1,13.7 1.1,13.7 1.1,13.7 1.1,13.6 1.1,13.7 1.1,13.7 1.1,13.7 1.1,13.6 1.1,13.7 1.1,13.7 1.1,13.8 1.1,13.7 1.1,13.8 1.1,13.7 1.1,13.8 1.1,13.9 1.1,13.8 1.1,13.9 1.1,14 1.1,13.9 1.1,14 1.1,14.1 1.1,14.1 1.1,14.1 1.1,14.2 1.1,14.2 1.1,14.3 1.1,14.4 1.1,14.4 1.1,14.5 1.1,14.5 1.1,14.6 1.1,14.7 1.1,14.7 1.1,14.9 1.1,14.9 1.1,14.9 1.1,15.1 1.1,15.1 1.1,15.3 1.1,15.3 1.1,15.4 1.1,15.5 1.1,15.6 1.1,15.7 1.1,15.8 1.1,15.9 1.1,16 1.1,16.2 1.1,16.2 1.1,16.4 1.1,16.4 1.1,16.6 1.1,16.7 1.1,16.8 1.1,17 1.1,17.1 1.1,17.2 1.1,17.4 1.1,17.5 1.1,17.6 1.1,17.8 1.1,17.9 1.1,18 1.1,18.2 1.1,18.4 1.1,18.5 1.1,18.7 1.1,18.8 1.1,19 1.1,19.2 1.1,19.3 1.1,19.5 1.1,19.7 1.1,19.8 1.1,20 1.1,20.2 1.1,20.4 1.1,20.5 1.1,20.8 1.1,20.9 1.1,21.1 1.1,21.4 1.1,21.5 1.1,21.7 1.1,21.9 1.1,22.1 1.1,22.3 1.1,22.6 1.1,22.7 1.1,23 1.1,23.1 1.1,23.4 1.1,23.6 1.1,23.9 1.1,24 1.1,24.3 1.1,24.6 1.1,24.7 1.1,25 1.1,25.2 1.1,25.5 1.1,25.7 1.1,26 1.1,26.2" fill="none" stroke="none" marker-start="url(#m1)" marker-mid="url(#m1)" marker-end="url(#m1)" clip-path="url(#cc)"/>
<path d="M301.5,1473.3l0.8-1.9 0.8-1.8 0.8-1.7 0.8-1.6 0.8-1.5 0.8-1.4 0.8-1.4 0.8-1.2 0.8-1.1 0.8-1.1 0.8-0.9 0.8-0.9 0.8-0.8 0.8-0.7 0.8-0.6 0.8-0.6 0.8-0.4 0.8-0.4 0.8-0.3 0.8-0.2 0.8-0.2 0.8-0.1 0.8,0 0.8,0.1 0.8,0.1 0.8,0.2 0.8,0.3 0.8,0.4 0.8,0.4 0.8,0.5 0.8,0.6 0.8,0.7 0.8,0.8 0.8,1 0.8,1.1 0.8,1.2 0.8,1.4 0.8,1.6 0.8,1.7 0.8,1.9 0.8,2.1 0.8,2.3 0.8,2.6 0.8,2.6 0.8,2.7 0.8,2.5 0.8,2.2 0.8,1.8 0.8,1.2 0.8,0.4 0.8-0.4 0.8-1.2 0.8-1.7 0.8-2.2 0.8-2.5 0.8-2.7 0.8-2.6 0.8-2.5 0.8-2.3 0.8-2.1 0.8-1.9 0.8-1.7 0.8-1.6 0.8-1.4 0.8-1.3 0.8-1.1 0.8-1.1 0.8-0.9 0.8-0.8 0.8-0.6 0.8-0.6 0.8-0.5 0.8-0.3 0.8-0.3 0.8-0.2 0.8-0.1 0.8,0 0.8,0.1 0.8,0.1 0.8,0.2 0.8,0.3 0.8,0.3 0.8,0.4 0.8,0.5 0.8,0.6 0.8,0.6 0.8,0.7 0.8,0.8 0.8,0.9 0.8,1 0.8,1 0.8,1.2 0.8,1.2 0.8,1.3 0.8,1.4 0.8,1.5 0.8,1.6 0.8,1.7 0.8,1.8 0.8,1.9" fill="none" stroke="none" marker-start="url(#m2)" marker-mid="url(#m2)" marker-end="url(#m2)" clip-path="url(#cc)"/>
<path d="M301.5,1472.8l0.8-1.9 0.8-1.8 0.8-1.7 0.8-1.6 0.8-1.5 0.8-1.4 0.8-1.4 0.8-1.2 0.8-1.1 0.8-1.1 0.8-0.9 0.8-0.9 0.8-0.8 0.8-0.7 0.8-0.6 0.8-0.6 0.8-0.4 0.8-0.4 0.8-0.3 0.8-0.2 0.8-0.2 0.8-0.1 0.8,0 0.8,0.1 0.8,0.1 0.8,0.2 0.8,0.3 0.8,0.4 0.8,0.4 0.8,0.5 0.8,0.6 0.8,0.7 0.8,0.8 0.8,1 0.8,1.1 0.8,1.2 0.8,1.4 0.8,1.6 0.8,1.7 0.8,1.9 0.8,2.1 0.8,2.3 0.8,2.6 0.8,2.6 0.8,2.7 0.8,2.5 0.8,2.2 0.8,1.8 0.8,1.2 0.8,0.4 0.8-0.4 0.8-1.2 0.8-1.7 0.8-2.2 0.8-2.5 0.8-2.7 0.8-2.6 0.8-2.5 0.8-2.3 0.8-2.1 0.8-1.9 0.8-1.7 0.8-1.6 0.8-1.4 0.8-1.3 0.8-1.1 0.8-1.1 0.8-0.9 0.8-0.8 0.8-0.6 0.8-0.6 0.8-0.5 0.8-0.3 0.8-0.3 0.8-0.2 0.8-0.1 0.8,0 0.8,0.1 0.8,0.1 0.8,0.2 0.8,0.3 0.8,0.3 0.8,0.4 0.8,0.5 0.8,0.6 0.8,0.6 0.8,0.7 0.8,0.8 0.8,0.9 0.8,1 0.8,1 0.8,1.2 0.8,1.2 0.8,1.3 0.8,1.4 0.8,1.5 0.8,1.6 0.8,1.7 0.8,1.8 0.8,1.9" fill="none" stroke="none" marker-start="url(#m3)" marker-mid="url(#m3)" marker-end="url(#m3)" clip-path="url(#cc)"/>
<path d="M333.5,1526.0l0,0" fill="none" stroke="none" marker-start="url(#m4)" marker-mid="url(#m4)" marker-end="url(#m4)" clip-path="url(#cc)"/>
<path d="M334.2,1522.9l0.7-3.2" fill="none" stroke="none" marker-start="url(#m3)" marker-mid="url(#m3)" marker-end="url(#m3)" clip-path="url(#cc)"/>
<path d="M335.6,1516.6l0.7-3.2" fill="none" stroke="none" marker-start="url(#m5)" marker-mid="url(#m5)" marker-end="url(#m5)" clip-path="url(#cc)"/>
<path d="M337.0,1510.3l0.7-2.9" fill="none" stroke="none" marker-start="url(#m6)" marker-mid="url(#m6)" marker-end="url(#m6)" clip-path="url(#cc)"/>
<path d="M338.4,1504.7l0.7-2.2" fill="none" stroke="none" marker-start="url(#m7)" marker-mid="url(#m7)" marker-end="url(#m7)" clip-path="url(#cc)"/>
<path d="M339.8,1500.7l0.7-1.3" fill="none" stroke="none" marker-start="url(#m8)" marker-mid="url(#m8)" marker-end="url(#m8)" clip-path="url(#cc)"/>
<path d="M341.2,1498.9l0.7,0.2" fill="none" stroke="none" marker-start="url(#m9)" marker-mid="url(#m9)" marker-end="url(#m9)" clip-path="url(#cc)"/>
<path d="M342.6,1500.0l0.7,1.4" fill="none" stroke="none" marker-start="url(#m8)" marker-mid="url(#m8)" marker-end="url(#m8)" clip-path="url(#cc)"/>
<path d="M344.0,1503.4l0.7,2.2" fill="none" stroke="none" marker-start="url(#m7)" marker-mid="url(#m7)" marker-end="url(#m7)" clip-path="url(#cc)"/>
<path d="M345.4,1508.1l0.7,2.7" fill="none" stroke="none" marker-start="url(#m6)" marker-mid="url(#m6)" marker-end="url(#m6)" clip-path="url(#cc)"/>
<path d="M346.8,1513.6l0.7,3" fill="none" stroke="none" marker-start="url(#m5)" marker-mid="url(#m5)" marker-end="url(#m5)" clip-path="url(#cc)"/>
<path d="M348.2,1519.7l0,0" fill="none" stroke="none" marker-start="url(#m3)" marker-mid="url(#m3)" marker-end="url(#m3)" clip-path="url(#cc)"/>
<path d="M348.9,1522.9l0,0" fill="none" stroke="none" marker-start="url(#m4)" marker-mid="url(#m4)" marker-end="url(#m4)" clip-path="url(#cc)"/>
<path d="M337.5,1478.8l0.7,2.2 0.7,2 0.7,1.7 0.7,1.3 0.7,0.7 0.7,0.2 0.7-0.5 0.7-1.1 0.7-1.5 0.7-1.9 0.7-2.1" fill="none" stroke="none" marker-start="url(#m10)" marker-mid="url(#m10)" marker-end="url(#m10)" clip-path="url(#cc)"/>
<rect x="145.5" y="1378.5" width="392.7" height="1045.5" fill="none" stroke="#000" stroke-width="3.3"/>
<line x1="145.5" y1="1705.5" x2="154.5" y2="1705.5" stroke="#000" stroke-width="3" />
<line x1="145.5" y1="2032.5" x2="163.5" y2="2032.5" stroke="#000" stroke-width="3" />
<line x1="145.5" y1="2359.5" x2="154.5" y2="2359.5" stroke="#000" stroke-width="3" />
<circle cx="190.5" cy="1411" r="10.4" fill="#ff0000"/>
<circle cx="190.5" cy="1466" r="10.4" fill="#0000ff"/>
<text x="241" y="1426" font-size="47" font-family="'Liberation Serif','Times New Roman',serif" text-anchor="start" >px</text>
<text x="241" y="1482" font-size="47" font-family="'Liberation Serif','Times New Roman',serif" text-anchor="start" >py</text>
<text x="141" y="1393.5" font-size="44" font-family="'Liberation Serif','Times New Roman',serif" text-anchor="end" >0.0</text>
<text x="141" y="1720.5" font-size="44" font-family="'Liberation Serif','Times New Roman',serif" text-anchor="end" >-0.1</text>
<text x="141" y="2047.5" font-size="44" font-family="'Liberation Serif','Times New Roman',serif" text-anchor="end" >-0.2</text>
<text x="141" y="2374.5" font-size="44" font-family="'Liberation Serif','Times New Roman',serif" text-anchor="end" >-0.3</text>
<line x1="832.3" y1="1394.9" x2="832.3" y2="1853.7" stroke="#808080" stroke-width="3.2" stroke-dasharray="5.5 14.4"/>
<line x1="1180.5" y1="1394.9" x2="1180.5" y2="1853.7" stroke="#808080" stroke-width="3.2" stroke-dasharray="5.5 14.4"/>
<line x1="1529.1" y1="1394.9" x2="1529.1" y2="1853.7" stroke="#808080" stroke-width="3.2" stroke-dasharray="5.5 14.4"/>
<line x1="657.9" y1="1514.9" x2="668.9" y2="1514.9" stroke="#000" stroke-width="3" />
<line x1="657.9" y1="1652" x2="663.9" y2="1652" stroke="#000" stroke-width="3" />
<line x1="657.9" y1="1789.1" x2="668.9" y2="1789.1" stroke="#000" stroke-width="3" />
<line x1="995.3" y1="1514.9" x2="1017.3" y2="1514.9" stroke="#000" stroke-width="3" />
<line x1="1000.3" y1="1652" x2="1012.3" y2="1652" stroke="#000" stroke-width="3" />
<line x1="995.3" y1="1789.1" x2="1017.3" y2="1789.1" stroke="#000" stroke-width="3" />
<line x1="1343.4" y1="1514.9" x2="1365.4" y2="1514.9" stroke="#000" stroke-width="3" />
<line x1="1348.4" y1="1652" x2="1360.4" y2="1652" stroke="#000" stroke-width="3" />
<line x1="1343.4" y1="1789.1" x2="1365.4" y2="1789.1" stroke="#000" stroke-width="3" />
<line x1="1692.5" y1="1514.9" x2="1703.5" y2="1514.9" stroke="#000" stroke-width="3" />
<line x1="1697.5" y1="1652" x2="1703.5" y2="1652" stroke="#000" stroke-width="3" />
<line x1="1692.5" y1="1789.1" x2="1703.5" y2="1789.1" stroke="#000" stroke-width="3" />
<line x1="722.5" y1="1378.6" x2="722.5" y2="1389.1" stroke="#000" stroke-width="3" />
<line x1="832.3" y1="1378.6" x2="832.3" y2="1389.1" stroke="#000" stroke-width="3" />
<line x1="941" y1="1378.6" x2="941" y2="1389.1" stroke="#000" stroke-width="3" />
<line x1="722.5" y1="1845.2" x2="722.5" y2="1855.7" stroke="#000" stroke-width="3" />
<line x1="832.3" y1="1845.2" x2="832.3" y2="1855.7" stroke="#000" stroke-width="3" />
<line x1="941" y1="1845.2" x2="941" y2="1855.7" stroke="#000" stroke-width="3" />
<line x1="1072" y1="1378.6" x2="1072" y2="1389.1" stroke="#000" stroke-width="3" />
<line x1="1180.5" y1="1378.6" x2="1180.5" y2="1389.1" stroke="#000" stroke-width="3" />
<line x1="1289.4" y1="1378.6" x2="1289.4" y2="1389.1" stroke="#000" stroke-width="3" />
<line x1="1072" y1="1845.2" x2="1072" y2="1855.7" stroke="#000" stroke-width="3" />
<line x1="1180.5" y1="1845.2" x2="1180.5" y2="1855.7" stroke="#000" stroke-width="3" />
<line x1="1289.4" y1="1845.2" x2="1289.4" y2="1855.7" stroke="#000" stroke-width="3" />
<line x1="1420" y1="1378.6" x2="1420" y2="1389.1" stroke="#000" stroke-width="3" />
<line x1="1529.1" y1="1378.6" x2="1529.1" y2="1389.1" stroke="#000" stroke-width="3" />
<line x1="1638.5" y1="1378.6" x2="1638.5" y2="1389.1" stroke="#000" stroke-width="3" />
<line x1="1420" y1="1845.2" x2="1420" y2="1855.7" stroke="#000" stroke-width="3" />
<line x1="1529.1" y1="1845.2" x2="1529.1" y2="1855.7" stroke="#000" stroke-width="3" />
<line x1="1638.5" y1="1845.2" x2="1638.5" y2="1855.7" stroke="#000" stroke-width="3" />
<line x1="831.1" y1="1961" x2="831.1" y2="2419.8" stroke="#808080" stroke-width="3.2" stroke-dasharray="5.5 14.4"/>
<line x1="1180.5" y1="1961" x2="1180.5" y2="2419.8" stroke="#808080" stroke-width="3.2" stroke-dasharray="5.5 14.4"/>
<line x1="1530.3" y1="1961" x2="1530.3" y2="2419.8" stroke="#808080" stroke-width="3.2" stroke-dasharray="5.5 14.4"/>
<line x1="657.9" y1="2081.7" x2="668.9" y2="2081.7" stroke="#000" stroke-width="3" />
<line x1="657.9" y1="2218.8" x2="663.9" y2="2218.8" stroke="#000" stroke-width="3" />
<line x1="657.9" y1="2355.9" x2="668.9" y2="2355.9" stroke="#000" stroke-width="3" />
<line x1="995.3" y1="2081.7" x2="1017.3" y2="2081.7" stroke="#000" stroke-width="3" />
<line x1="1000.3" y1="2218.8" x2="1012.3" y2="2218.8" stroke="#000" stroke-width="3" />
<line x1="995.3" y1="2355.9" x2="1017.3" y2="2355.9" stroke="#000" stroke-width="3" />
<line x1="1343.4" y1="2081.7" x2="1365.4" y2="2081.7" stroke="#000" stroke-width="3" />
<line x1="1348.4" y1="2218.8" x2="1360.4" y2="2218.8" stroke="#000" stroke-width="3" />
<line x1="1343.4" y1="2355.9" x2="1365.4" y2="2355.9" stroke="#000" stroke-width="3" />
<line x1="1692.5" y1="2081.7" x2="1703.5" y2="2081.7" stroke="#000" stroke-width="3" />
<line x1="1697.5" y1="2218.8" x2="1703.5" y2="2218.8" stroke="#000" stroke-width="3" />
<line x1="1692.5" y1="2355.9" x2="1703.5" y2="2355.9" stroke="#000" stroke-width="3" />
<line x1="722.5" y1="1944.5" x2="722.5" y2="1955" stroke="#000" stroke-width="3" />
<line x1="831.1" y1="1944.5" x2="831.1" y2="1955" stroke="#000" stroke-width="3" />
<line x1="941.4" y1="1944.5" x2="941.4" y2="1955" stroke="#000" stroke-width="3" />
<line x1="722.5" y1="2411.3" x2="722.5" y2="2421.8" stroke="#000" stroke-width="3" />
<line x1="831.1" y1="2411.3" x2="831.1" y2="2421.8" stroke="#000" stroke-width="3" />
<line x1="941.4" y1="2411.3" x2="941.4" y2="2421.8" stroke="#000" stroke-width="3" />
<line x1="1071.5" y1="1944.5" x2="1071.5" y2="1955" stroke="#000" stroke-width="3" />
<line x1="1180.5" y1="1944.5" x2="1180.5" y2="1955" stroke="#000" stroke-width="3" />
<line x1="1289.8" y1="1944.5" x2="1289.8" y2="1955" stroke="#000" stroke-width="3" />
<line x1="1071.5" y1="2411.3" x2="1071.5" y2="2421.8" stroke="#000" stroke-width="3" />
<line x1="1180.5" y1="2411.3" x2="1180.5" y2="2421.8" stroke="#000" stroke-width="3" />
<line x1="1289.8" y1="2411.3" x2="1289.8" y2="2421.8" stroke="#000" stroke-width="3" />
<line x1="1420.5" y1="1944.5" x2="1420.5" y2="1955" stroke="#000" stroke-width="3" />
<line x1="1530.3" y1="1944.5" x2="1530.3" y2="1955" stroke="#000" stroke-width="3" />
<line x1="1639.4" y1="1944.5" x2="1639.4" y2="1955" stroke="#000" stroke-width="3" />
<line x1="1420.5" y1="2411.3" x2="1420.5" y2="2421.8" stroke="#000" stroke-width="3" />
<line x1="1530.3" y1="2411.3" x2="1530.3" y2="2421.8" stroke="#000" stroke-width="3" />
<line x1="1639.4" y1="2411.3" x2="1639.4" y2="2421.8" stroke="#000" stroke-width="3" />
<path d="M735.4,1857.3l1.5-10.3 1.5-9.8 1.5-9.1 1.5-8.4 1.5-7.9 1.5-7.5 1.5-7.5 1.5-7.4 1.5-7.5 1.5-7.3 1.5-7.2 1.5-6.9 1.5-6.8 1.5-6.5 1.5-6.4 1.5-6.2 1.5-6.1 1.5-6.1 1.5-6 1.5-6 1.5-6 1.5-6.1 1.5-6.2 1.5-6.3 1.5-6.3 1.5-6.2 1.5-6 1.5-5.7 1.5-5.5 1.5-5.1 1.5-4.8 1.5-4.6 1.5-4.2 1.5-4 1.5-3.8 1.5-3.7 1.5-3.6 1.5-3.6 1.5-3.7 1.5-3.9 1.5-3.8 1.5-3.9 1.5-3.9 1.5-3.8 1.5-3.7 1.5-3.5 1.5-3.3 1.5-3.2 1.5-2.9 1.5-2.8 1.5-2.6 1.5-2.4 1.5-2.3 1.5-2.2 1.5-2.1 1.5-1.9 1.5-1.8 1.5-1.7 1.5-1.6 1.5-1.6 1.5-1.5 1.5-1.3 1.5-1.1 1.5-0.7 1.5,0 1.5,0.6 1.5,1.1 1.5,1.4 1.5,1.4 1.5,1.5 1.5,1.5 1.5,1.5 1.5,1.7 1.5,1.8 1.5,2 1.5,2.2 1.5,2.3 1.5,2.6 1.5,2.7 1.5,2.9 1.5,3.1 1.5,3.2 1.5,3.3 1.5,3.4 1.5,3.5 1.5,3.6 1.5,3.6 1.5,3.7 1.5,3.8 1.5,3.7 1.5,3.8 1.5,3.8 1.5,3.8 1.5,3.9 1.5,4 1.5,4.1 1.5,4.3 1.5,4.4 1.5,4.7 1.5,4.9 1.5,5.2 1.5,5.5 1.5,5.9 1.5,6 1.5,6.2 1.5,6.3 1.5,6.2 1.5,6.2 1.5,6.2 1.5,6.2 1.5,6.2 1.5,6.2 1.5,6.3 1.5,6.3 1.5,6.3 1.5,6.5 1.5,6.6 1.5,6.7 1.5,6.8 1.5,7 1.5,7.2 1.5,7.3 1.5,7.6 1.5,7.8 1.5,8.2 1.5,8.5 1.5,9 1.5,9.5 1.5,10" fill="none" stroke="#000" stroke-width="1.4" stroke-linejoin="round" clip-path="url(#dT0)"/>
<path d="M745.9,1796.8l0,0" fill="none" stroke="none" marker-start="url(#m11)" marker-mid="url(#m11)" marker-end="url(#m11)" clip-path="url(#dT0)"/>
<path d="M747.5,1788.9l0,0" fill="none" stroke="none" marker-start="url(#m12)" marker-mid="url(#m12)" marker-end="url(#m12)" clip-path="url(#dT0)"/>
<path d="M749.1,1781.0l1.6-7.8 1.6-7.7 1.6-7.3 1.6-7.1 1.6-6.9 1.6-6.7 1.6-6.6 1.6-6.4 1.6-6.5 1.6-6.4 1.6-6.4 1.6-6.5 1.6-6.6 1.6-6.7 1.6-6.7 1.6-6.6 1.6-6.4 1.6-6 1.6-5.7 1.6-5.3" fill="none" stroke="none" marker-start="url(#m13)" marker-mid="url(#m13)" marker-end="url(#m13)" clip-path="url(#dT0)"/>
<path d="M782.7,1643.7l1.6-4.7 1.6-4.3 1.6-4.1 1.6-4 1.6-3.8 1.6-3.9 1.6-3.9 1.6-4.1 1.6-4.2 1.6-4.1 1.6-4.1 1.6-4" fill="none" stroke="none" marker-start="url(#m2)" marker-mid="url(#m2)" marker-end="url(#m2)" clip-path="url(#dT0)"/>
<path d="M803.5,1590.6l1.6-3.7 1.6-3.4 1.6-3.3 1.6-3" fill="none" stroke="none" marker-start="url(#m14)" marker-mid="url(#m14)" marker-end="url(#m14)" clip-path="url(#dT0)"/>
<path d="M811.5,1574.4l1.6-2.7 1.6-2.4 1.6-2.4 1.6-2.2 1.6-2" fill="none" stroke="none" marker-start="url(#m15)" marker-mid="url(#m15)" marker-end="url(#m15)" clip-path="url(#dT0)"/>
<path d="M821.1,1560.8l1.6-1.8 1.6-1.8 1.6-1.6" fill="none" stroke="none" marker-start="url(#m10)" marker-mid="url(#m10)" marker-end="url(#m10)" clip-path="url(#dT0)"/>
<path d="M827.5,1554.1l1.6-1.4 1.6-0.9 1.6-0.4 1.6,0.5 1.6,1 1.6,1.4" fill="none" stroke="none" marker-start="url(#m16)" marker-mid="url(#m16)" marker-end="url(#m16)" clip-path="url(#dT0)"/>
<path d="M838.7,1555.8l1.6,1.6 1.6,1.6 1.6,1.7" fill="none" stroke="none" marker-start="url(#m10)" marker-mid="url(#m10)" marker-end="url(#m10)" clip-path="url(#dT0)"/>
<path d="M845.1,1562.5l1.6,1.9 1.6,2.2 1.6,2.3 1.6,2.6 1.6,2.8" fill="none" stroke="none" marker-start="url(#m15)" marker-mid="url(#m15)" marker-end="url(#m15)" clip-path="url(#dT0)"/>
<path d="M854.7,1577.4l1.6,3.1 1.6,3.4 1.6,3.5 1.6,3.6" fill="none" stroke="none" marker-start="url(#m14)" marker-mid="url(#m14)" marker-end="url(#m14)" clip-path="url(#dT0)"/>
<path d="M862.7,1594.7l1.6,3.8 1.6,3.9 1.6,4 1.6,4 1.6,4 1.6,4 1.6,4.1 1.6,4.1 1.6,4.2 1.6,4.3 1.6,4.5 1.6,4.6" fill="none" stroke="none" marker-start="url(#m2)" marker-mid="url(#m2)" marker-end="url(#m2)" clip-path="url(#dT0)"/>
<path d="M883.5,1649.2l1.6,5.1 1.6,5.5 1.6,5.9 1.6,6.2 1.6,6.4 1.6,6.6 1.6,6.7 1.6,6.7 1.6,6.6 1.6,6.6 1.6,6.6 1.6,6.6 1.6,6.7 1.6,6.7 1.6,6.7 1.6,6.9 1.6,7 1.6,7.1 1.6,7.3 1.6,7.5" fill="none" stroke="none" marker-start="url(#m13)" marker-mid="url(#m13)" marker-end="url(#m13)" clip-path="url(#dT0)"/>
<path d="M917.1,1788.2l0,0" fill="none" stroke="none" marker-start="url(#m12)" marker-mid="url(#m12)" marker-end="url(#m12)" clip-path="url(#dT0)"/>
<path d="M918.7,1796.1l0,0" fill="none" stroke="none" marker-start="url(#m11)" marker-mid="url(#m11)" marker-end="url(#m11)" clip-path="url(#dT0)"/>
<path d="M734.7,1862.4l1.6-11.4 1.6-10.6 1.6-9.9 1.6-9.1 1.6-8.5" fill="none" stroke="none" marker-start="url(#m17)" marker-mid="url(#m17)" marker-end="url(#m17)" clip-path="url(#dT0)"/>
<path d="M744.3,1804.7l0,0" fill="none" stroke="none" marker-start="url(#m18)" marker-mid="url(#m18)" marker-end="url(#m18)" clip-path="url(#dT0)"/>
<path d="M745.9,1796.8l0,0" fill="none" stroke="none" marker-start="url(#m19)" marker-mid="url(#m19)" marker-end="url(#m19)" clip-path="url(#dT0)"/>
<path d="M918.7,1796.1l0,0" fill="none" stroke="none" marker-start="url(#m19)" marker-mid="url(#m19)" marker-end="url(#m19)" clip-path="url(#dT0)"/>
<path d="M920.3,1804.3l0,0" fill="none" stroke="none" marker-start="url(#m18)" marker-mid="url(#m18)" marker-end="url(#m18)" clip-path="url(#dT0)"/>
<path d="M921.9,1812.7l1.6,8.8 1.6,9.3 1.6,9.9 1.6,10.4 1.6,11.2" fill="none" stroke="none" marker-start="url(#m17)" marker-mid="url(#m17)" marker-end="url(#m17)" clip-path="url(#dT0)"/>
<path d="M765.4,1853.7l1.5-11.6 1.5-9.7 1.5-9.3 1.5-9.8 1.5-10.6 1.5-11.6 1.5-12.2 1.5-11.9 1.5-11 1.5-10 1.5-9.3 1.5-9.2 1.5-9.1 1.5-9.2 1.5-8.9 1.5-8.7 1.5-8.2 1.5-7.8 1.5-7.5 1.5-7.2 1.5-6.8 1.5-6.6 1.5-6.3 1.5-6.1 1.5-5.9 1.5-5.8 1.5-5.7 1.5-5.4 1.5-5.1 1.5-4.9 1.5-4.4 1.5-3.9 1.5-3.5 1.5-3.1 1.5-3 1.5-3 1.5-3.2 1.5-3.3 1.5-3.8 1.5-3.8 1.5-3.8 1.5-3.2 1.5-2.5 1.5-1.5 1.5-0.1 1.5,1.2 1.5,2.3 1.5,3.1 1.5,3.7 1.5,3.8 1.5,3.8 1.5,3.5 1.5,3.2 1.5,3 1.5,3 1.5,3.2 1.5,3.4 1.5,3.8 1.5,4.2 1.5,4.7 1.5,5 1.5,5.4 1.5,5.6 1.5,5.8 1.5,6 1.5,6.2 1.5,6.3 1.5,6.6 1.5,6.8 1.5,7 1.5,7.2 1.5,7.7 1.5,8 1.5,8.6 1.5,9 1.5,9.2 1.5,9.3 1.5,9.1 1.5,9.3 1.5,9.8 1.5,10.7 1.5,11.8 1.5,12.1 1.5,11.8 1.5,10.8 1.5,10 1.5,9.3 1.5,9.5 1.5,11.2" fill="none" stroke="#000" stroke-width="1.4" stroke-linejoin="round" clip-path="url(#dT0)"/>
<path d="M765.7,1851.2l1.8-13.2 1.8-11.2 1.8-11.5 1.8-12.6 1.8-14 1.8-14.6 1.8-13.9 1.8-12.3 1.8-11.2 1.8-11 1.8-11 1.8-10.9 1.8-10.5 1.8-9.9 1.8-9.4 1.8-8.8 1.8-8.4 1.8-8 1.8-7.6 1.8-7.3 1.8-7.1 1.8-6.8 1.8-6.6 1.8-6.2 1.8-5.8 1.8-5.1 1.8-4.4 1.8-3.9 1.8-3.6 1.8-3.6 1.8-3.9 1.8-4.3 1.8-4.6 1.8-4.5 1.8-3.8 1.8-2.6 1.8-1 1.8,1 1.8,2.6 1.8,3.8 1.8,4.5 1.8,4.6 1.8,4.3 1.8,3.9 1.8,3.6 1.8,3.7 1.8,3.9 1.8,4.4 1.8,5 1.8,5.7 1.8,6.1 1.8,6.6 1.8,6.9 1.8,7.2 1.8,7.4 1.8,7.8 1.8,8 1.8,8.3 1.8,8.6 1.8,9.3 1.8,9.8 1.8,10.6 1.8,11 1.8,11.1 1.8,11 1.8,11.2 1.8,12.3 1.8,13.7 1.8,14.6 1.8,14.1 1.8,12.6 1.8,11.6 1.8,11.2 1.8,13.1" fill="none" stroke="none" marker-start="url(#m9)" marker-mid="url(#m9)" marker-end="url(#m9)" clip-path="url(#dT0)"/>
<path d="M711.4,1864.4l1.5-10.2 1.5-9.4 1.5-8.6 1.5-7.9 1.5-6.9 1.5-6.3 1.5-5.9 1.5-5.6 1.5-5.8 1.5-6 1.5-6.2 1.5-6.4 1.5-6.4 1.5-6.3 1.5-6.2 1.5-6.1 1.5-5.9 1.5-5.9 1.5-6 1.5-6.1 1.5-6.2 1.5-6.5 1.5-6.7 1.5-6.9 1.5-6.9 1.5-6.7 1.5-6.3 1.5-5.9 1.5-5.5 1.5-5.4 1.5-5.4 1.5-5.5 1.5-5.4 1.5-5.4 1.5-5.3 1.5-5.2 1.5-5.1 1.5-4.9 1.5-4.9 1.5-4.7 1.5-4.6 1.5-4.5 1.5-4.3 1.5-4.3 1.5-4.2 1.5-4 1.5-4 1.5-3.8 1.5-3.6 1.5-3.4 1.5-3.3 1.5-2.9 1.5-2.8 1.5-2.5 1.5-2.3 1.5-2.1 1.5-1.9 1.5-1.7 1.5-1.6 1.5-1.4 1.5-1.2 1.5-1.2 1.5-1.1 1.5-1 1.5-0.8 1.5-0.7 1.5-0.5 1.5-0.2 1.5-0.1 1.5,0.2 1.5,0.3 1.5,0.4 1.5,0.5 1.5,0.5 1.5,0.6 1.5,0.6 1.5,0.5 1.5,0.5 1.5,0.3 1.5,0.2 1.5,0 1.5-0.1 1.5-0.3 1.5-0.5 1.5-0.5 1.5-0.5 1.5-0.6 1.5-0.6 1.5-0.5 1.5-0.5 1.5-0.3 1.5-0.2 1.5,0 1.5,0.3 1.5,0.4 1.5,0.6 1.5,0.8 1.5,1 1.5,1.1 1.5,1.1 1.5,1.3 1.5,1.4 1.5,1.5 1.5,1.6 1.5,1.9 1.5,2 1.5,2.3 1.5,2.4 1.5,2.7 1.5,3 1.5,3.2 1.5,3.4 1.5,3.7 1.5,3.8 1.5,4 1.5,4 1.5,4.1 1.5,4.1 1.5,4.2 1.5,4.4 1.5,4.6 1.5,4.7 1.5,4.9 1.5,5 1.5,5.1 1.5,5.2 1.5,5.3 1.5,5.4 1.5,5.4 1.5,5.4 1.5,5.3 1.5,5.4 1.5,5.5 1.5,5.9 1.5,6.2 1.5,6.7 1.5,6.9 1.5,6.9 1.5,6.7 1.5,6.5 1.5,6.3 1.5,6.1 1.5,6 1.5,5.9 1.5,6 1.5,6 1.5,6.1 1.5,6.3 1.5,6.4 1.5,6.4 1.5,6.3 1.5,6 1.5,5.8 1.5,5.7 1.5,5.8 1.5,6.1 1.5,6.9 1.5,7.6 1.5,8.5 1.5,9.3 1.5,10" fill="none" stroke="#000" stroke-width="1.4" stroke-linejoin="round" clip-path="url(#dT0)"/>
<path d="M741.1,1731.6l0,0" fill="none" stroke="none" marker-start="url(#m19)" marker-mid="url(#m19)" marker-end="url(#m19)" clip-path="url(#dT0)"/>
<path d="M742.7,1724.9l0,0" fill="none" stroke="none" marker-start="url(#m20)" marker-mid="url(#m20)" marker-end="url(#m20)" clip-path="url(#dT0)"/>
<path d="M744.3,1718.1l0,0" fill="none" stroke="none" marker-start="url(#m18)" marker-mid="url(#m18)" marker-end="url(#m18)" clip-path="url(#dT0)"/>
<path d="M745.9,1710.9l0,0" fill="none" stroke="none" marker-start="url(#m21)" marker-mid="url(#m21)" marker-end="url(#m21)" clip-path="url(#dT0)"/>
<path d="M747.5,1703.6l1.6-7.4 1.6-7.1 1.6-6.6 1.6-6.2 1.6-5.8 1.6-5.7 1.6-5.8 1.6-5.8 1.6-5.8 1.6-5.7 1.6-5.6 1.6-5.4 1.6-5.3 1.6-5.2" fill="none" stroke="none" marker-start="url(#m17)" marker-mid="url(#m17)" marker-end="url(#m17)" clip-path="url(#dT0)"/>
<path d="M771.5,1615.2l0,0" fill="none" stroke="none" marker-start="url(#m22)" marker-mid="url(#m22)" marker-end="url(#m22)" clip-path="url(#dT0)"/>
<path d="M773.1,1610.3l0,0" fill="none" stroke="none" marker-start="url(#m1)" marker-mid="url(#m1)" marker-end="url(#m1)" clip-path="url(#dT0)"/>
<path d="M774.7,1605.5l0,0" fill="none" stroke="none" marker-start="url(#m3)" marker-mid="url(#m3)" marker-end="url(#m3)" clip-path="url(#dT0)"/>
<path d="M776.3,1600.9l0,0" fill="none" stroke="none" marker-start="url(#m5)" marker-mid="url(#m5)" marker-end="url(#m5)" clip-path="url(#dT0)"/>
<path d="M777.9,1596.4l0,0" fill="none" stroke="none" marker-start="url(#m7)" marker-mid="url(#m7)" marker-end="url(#m7)" clip-path="url(#dT0)"/>
<path d="M779.5,1592.0l0,0" fill="none" stroke="none" marker-start="url(#m8)" marker-mid="url(#m8)" marker-end="url(#m8)" clip-path="url(#dT0)"/>
<path d="M781.1,1587.7l0,0" fill="none" stroke="none" marker-start="url(#m9)" marker-mid="url(#m9)" marker-end="url(#m9)" clip-path="url(#dT0)"/>
<path d="M782.7,1583.6l1.6-4 1.6-3.7 1.6-3.5 1.6-3.3 1.6-2.9 1.6-2.8 1.6-2.4 1.6-2.3 1.6-2 1.6-1.7 1.6-1.7 1.6-1.4 1.6-1.3 1.6-1.2 1.6-1.1 1.6-1 1.6-0.8 1.6-0.6 1.6-0.3 1.6-0.1 1.6,0.2 1.6,0.3 1.6,0.4 1.6,0.6 1.6,0.6 1.6,0.6 1.6,0.6 1.6,0.5 1.6,0.5 1.6,0.2 1.6,0.2 1.6-0.2 1.6-0.2 1.6-0.5 1.6-0.5 1.6-0.6 1.6-0.6 1.6-0.6 1.6-0.6 1.6-0.4 1.6-0.3 1.6-0.2 1.6,0.1 1.6,0.3 1.6,0.6 1.6,0.8 1.6,1 1.6,1.1 1.6,1.2 1.6,1.3 1.6,1.5 1.6,1.6 1.6,1.8 1.6,1.9 1.6,2.2 1.6,2.5 1.6,2.7 1.6,3 1.6,3.2 1.6,3.6 1.6,3.8 1.6,4" fill="none" stroke="none" marker-start="url(#m23)" marker-mid="url(#m23)" marker-end="url(#m23)" clip-path="url(#dT0)"/>
<path d="M883.5,1587.9l0,0" fill="none" stroke="none" marker-start="url(#m9)" marker-mid="url(#m9)" marker-end="url(#m9)" clip-path="url(#dT0)"/>
<path d="M885.1,1592.2l0,0" fill="none" stroke="none" marker-start="url(#m8)" marker-mid="url(#m8)" marker-end="url(#m8)" clip-path="url(#dT0)"/>
<path d="M886.7,1596.5l0,0" fill="none" stroke="none" marker-start="url(#m7)" marker-mid="url(#m7)" marker-end="url(#m7)" clip-path="url(#dT0)"/>
<path d="M888.3,1600.9l0,0" fill="none" stroke="none" marker-start="url(#m5)" marker-mid="url(#m5)" marker-end="url(#m5)" clip-path="url(#dT0)"/>
<path d="M889.9,1605.4l0,0" fill="none" stroke="none" marker-start="url(#m3)" marker-mid="url(#m3)" marker-end="url(#m3)" clip-path="url(#dT0)"/>
<path d="M891.5,1610.1l0,0" fill="none" stroke="none" marker-start="url(#m1)" marker-mid="url(#m1)" marker-end="url(#m1)" clip-path="url(#dT0)"/>
<path d="M893.1,1615.0l0,0" fill="none" stroke="none" marker-start="url(#m22)" marker-mid="url(#m22)" marker-end="url(#m22)" clip-path="url(#dT0)"/>
<path d="M894.7,1620.1l1.6,5.2 1.6,5.4 1.6,5.5 1.6,5.6 1.6,5.7 1.6,5.7 1.6,5.8 1.6,5.7 1.6,5.7 1.6,5.9 1.6,6.2 1.6,6.6 1.6,7.1 1.6,7.4" fill="none" stroke="none" marker-start="url(#m17)" marker-mid="url(#m17)" marker-end="url(#m17)" clip-path="url(#dT0)"/>
<path d="M918.7,1710.9l0,0" fill="none" stroke="none" marker-start="url(#m21)" marker-mid="url(#m21)" marker-end="url(#m21)" clip-path="url(#dT0)"/>
<path d="M920.3,1718.1l0,0" fill="none" stroke="none" marker-start="url(#m18)" marker-mid="url(#m18)" marker-end="url(#m18)" clip-path="url(#dT0)"/>
<path d="M921.9,1724.9l0,0" fill="none" stroke="none" marker-start="url(#m20)" marker-mid="url(#m20)" marker-end="url(#m20)" clip-path="url(#dT0)"/>
<path d="M923.5,1731.6l0,0" fill="none" stroke="none" marker-start="url(#m19)" marker-mid="url(#m19)" marker-end="url(#m19)" clip-path="url(#dT0)"/>
<path d="M712.3,1858.2l1.6-10.4 1.6-9.4 1.6-8.6 1.6-7.6 1.6-6.7 1.6-6.3 1.6-6 1.6-6.2 1.6-6.4 1.6-6.7 1.6-6.8 1.6-6.8 1.6-6.7 1.6-6.6 1.6-6.3 1.6-6.3 1.6-6.4" fill="none" stroke="none" marker-start="url(#m24)" marker-mid="url(#m24)" marker-end="url(#m24)" clip-path="url(#dT0)"/>
<path d="M741.1,1731.6l0,0" fill="none" stroke="none" marker-start="url(#m12)" marker-mid="url(#m12)" marker-end="url(#m12)" clip-path="url(#dT0)"/>
<path d="M742.7,1724.9l0,0" fill="none" stroke="none" marker-start="url(#m25)" marker-mid="url(#m25)" marker-end="url(#m25)" clip-path="url(#dT0)"/>
<path d="M744.3,1718.1l0,0" fill="none" stroke="none" marker-start="url(#m11)" marker-mid="url(#m11)" marker-end="url(#m11)" clip-path="url(#dT0)"/>
<path d="M745.9,1710.9l0,0" fill="none" stroke="none" marker-start="url(#m26)" marker-mid="url(#m26)" marker-end="url(#m26)" clip-path="url(#dT0)"/>
<path d="M918.7,1710.9l0,0" fill="none" stroke="none" marker-start="url(#m26)" marker-mid="url(#m26)" marker-end="url(#m26)" clip-path="url(#dT0)"/>
<path d="M920.3,1718.1l0,0" fill="none" stroke="none" marker-start="url(#m11)" marker-mid="url(#m11)" marker-end="url(#m11)" clip-path="url(#dT0)"/>
<path d="M921.9,1724.9l0,0" fill="none" stroke="none" marker-start="url(#m25)" marker-mid="url(#m25)" marker-end="url(#m25)" clip-path="url(#dT0)"/>
<path d="M923.5,1731.6l0,0" fill="none" stroke="none" marker-start="url(#m12)" marker-mid="url(#m12)" marker-end="url(#m12)" clip-path="url(#dT0)"/>
<path d="M925.1,1738.0l1.6,6.4 1.6,6.3 1.6,6.3 1.6,6.6 1.6,6.7 1.6,6.8 1.6,6.8 1.6,6.7 1.6,6.4 1.6,6.2 1.6,6 1.6,6.3 1.6,6.7 1.6,7.6 1.6,8.6 1.6,9.4 1.6,10.4" fill="none" stroke="none" marker-start="url(#m24)" marker-mid="url(#m24)" marker-end="url(#m24)" clip-path="url(#dT0)"/>
<path d="M655.9,1670.8l1.5-3.8 1.5-3.8 1.5-3.8 1.5-3.7 1.5-3.7 1.5-3.6 1.5-3.6 1.5-3.6 1.5-3.5 1.5-3.5 1.5-3.4 1.5-3.4 1.5-3.3 1.5-3.3 1.5-3.3 1.5-3.2 1.5-3.2 1.5-3.1 1.5-3.1 1.5-3 1.5-3.1 1.5-2.9 1.5-3 1.5-2.8 1.5-2.9 1.5-2.8 1.5-2.8 1.5-2.7 1.5-2.7 1.5-2.6 1.5-2.6 1.5-2.6 1.5-2.5 1.5-2.5 1.5-2.5 1.5-2.4 1.5-2.4 1.5-2.3 1.5-2.3 1.5-2.2 1.5-2.2 1.5-2.2 1.5-2.1 1.5-2.1 1.5-2 1.5-2 1.5-1.9 1.5-1.9 1.5-1.8 1.5-1.8 1.5-1.7 1.5-1.7 1.5-1.6 1.5-1.6 1.5-1.5 1.5-1.5 1.5-1.4 1.5-1.3 1.5-1.3 1.5-1.2 1.5-1.2 1.5-1.1 1.5-1 1.5-1 1.5-0.9 1.5-0.9 1.5-0.8 1.5-0.7 1.5-0.7 1.5-0.5 1.5-0.6 1.5-0.4 1.5-0.4 1.5-0.3 1.5-0.3 1.5-0.2 1.5-0.1 1.5-0.1 1.5,0 1.5,0.1 1.5,0.1 1.5,0.1 1.5,0.2 1.5,0.3 1.5,0.4 1.5,0.3 1.5,0.5 1.5,0.5 1.5,0.5 1.5,0.6 1.5,0.7 1.5,0.7 1.5,0.8 1.5,0.9 1.5,0.9 1.5,1 1.5,1 1.5,1.2 1.5,1.2 1.5,1.3 1.5,1.3 1.5,1.5 1.5,1.5 1.5,1.5 1.5,1.6 1.5,1.5 1.5,1.5 1.5,1.5 1.5,1.4 1.5,1.5 1.5,1.5 1.5,1.7 1.5,1.9 1.5,2.1 1.5,2 1.5,1.7 1.5,1 1.5,0.1 1.5-0.9 1.5-1.6 1.5-2 1.5-2.1 1.5-1.9 1.5-1.6 1.5-1.5 1.5-1.5 1.5-1.4 1.5-1.5 1.5-1.5 1.5-1.6 1.5-1.6 1.5-1.7 1.5-1.5 1.5-1.5 1.5-1.4 1.5-1.3 1.5-1.1 1.5-1.1 1.5-1 1.5-0.9 1.5-0.9 1.5-0.8 1.5-0.8 1.5-0.8 1.5-0.6 1.5-0.7 1.5-0.6 1.5-0.5 1.5-0.5 1.5-0.4 1.5-0.4 1.5-0.3 1.5-0.2 1.5-0.2 1.5-0.2 1.5-0.1 1.5,0 1.5,0.1 1.5,0.1 1.5,0.1 1.5,0.3 1.5,0.3 1.5,0.4 1.5,0.4 1.5,0.5 1.5,0.6 1.5,0.6 1.5,0.8 1.5,0.7 1.5,0.9 1.5,0.9 1.5,1 1.5,1.1 1.5,1.1 1.5,1.2 1.5,1.2 1.5,1.3 1.5,1.4 1.5,1.4 1.5,1.4 1.5,1.6 1.5,1.5 1.5,1.7 1.5,1.6 1.5,1.8 1.5,1.7 1.5,1.8 1.5,1.9 1.5,1.9 1.5,2 1.5,1.9 1.5,2.1 1.5,2.1 1.5,2.1 1.5,2.1 1.5,2.2 1.5,2.3 1.5,2.3 1.5,2.3 1.5,2.4 1.5,2.4 1.5,2.5 1.5,2.5 1.5,2.5 1.5,2.6 1.5,2.7 1.5,2.7 1.5,2.7 1.5,2.8 1.5,2.8 1.5,2.8 1.5,2.9 1.5,3 1.5,2.9 1.5,3.1 1.5,3 1.5,3.2 1.5,3.1 1.5,3.2 1.5,3.2 1.5,3.3 1.5,3.3 1.5,3.4 1.5,3.4 1.5,3.4 1.5,3.5 1.5,3.5 1.5,3.5 1.5,3.6 1.5,3.6 1.5,3.7 1.5,3.7 1.5,3.7 1.5,3.8" fill="none" stroke="#000" stroke-width="1.4" stroke-linejoin="round" clip-path="url(#dT0)"/>
<path d="M657.3,1667.2l1.3-3.2 1.2-3.1 1.2-3.1 1.3-3.1 1.3-3.1 1.2-3 1.2-3 1.3-3 1.3-2.9 1.2-2.9 1.2-2.9 1.3-2.9 1.3-2.8 1.2-2.8 1.2-2.7 1.3-2.8 1.3-2.7 1.2-2.7 1.2-2.6 1.3-2.6 1.3-2.6 1.2-2.6 1.2-2.5 1.3-2.6 1.3-2.4 1.2-2.5 1.2-2.4 1.3-2.4 1.3-2.4 1.2-2.3 1.2-2.3 1.3-2.3 1.3-2.3 1.2-2.2 1.2-2.2 1.3-2.2 1.3-2.1 1.2-2.1 1.2-2.1 1.3-2.1 1.3-2 1.2-2 1.2-2 1.3-2 1.3-1.9 1.2-1.9 1.2-1.9 1.3-1.8 1.3-1.8 1.2-1.8 1.2-1.7 1.3-1.7 1.3-1.7 1.2-1.7 1.2-1.6 1.3-1.6 1.3-1.5 1.2-1.5 1.2-1.5 1.3-1.4 1.3-1.4 1.2-1.4 1.2-1.3 1.3-1.3 1.3-1.3 1.2-1.2 1.2-1.2 1.3-1.1 1.3-1.1 1.2-1 1.2-1.1 1.3-0.9 1.3-1 1.2-0.8 1.2-0.9 1.3-0.8 1.3-0.7 1.2-0.7 1.2-0.7 1.3-0.6 1.3-0.6 1.2-0.5 1.2-0.5 1.3-0.4 1.3-0.4 1.2-0.3 1.2-0.3 1.3-0.3 1.3-0.2 1.2-0.2 1.2-0.1 1.3,0 1.3-0.1 1.2,0 1.2,0.1 1.3,0.1 1.3,0.1 1.2,0.2 1.2,0.2 1.3,0.2 1.3,0.3 1.2,0.3 1.2,0.4 1.3,0.4 1.3,0.4 1.2,0.5 1.2,0.5 1.3,0.5 1.3,0.6 1.2,0.7 1.2,0.7 1.3,0.7 1.3,0.8 1.2,0.8 1.2,0.9 1.3,0.9 1.3,1 1.2,1 1.2,1.1 1.3,1.1 1.3,1.2 1.2,1.3 1.2,1.2 1.3,1.3 1.3,1.3 1.2,1.3 1.2,1.3 1.3,1.2 1.3,1.2 1.2,1.2 1.2,1.2 1.3,1.3 1.3,1.4 1.2,1.5 1.2,1.7 1.3,1.7 1.3,1.7 1.2,1.4 1.2,1 1.3,0.3 1.3-0.4 1.2-0.9 1.2-1.5 1.3-1.6 1.3-1.8 1.2-1.6 1.2-1.5 1.3-1.4 1.3-1.2 1.2-1.2 1.2-1.1 1.3-1.3 1.3-1.2 1.2-1.3 1.2-1.4 1.3-1.3 1.3-1.4 1.2-1.3 1.2-1.3 1.3-1.2 1.3-1.1 1.2-1.1 1.2-1 1.3-0.9 1.3-0.9 1.2-0.8 1.2-0.7 1.3-0.8 1.3-0.7 1.2-0.6 1.2-0.7 1.3-0.5 1.3-0.6 1.2-0.5 1.2-0.5 1.3-0.5 1.3-0.4 1.2-0.4 1.2-0.3 1.3-0.3 1.3-0.3 1.2-0.2 1.2-0.2 1.3-0.2 1.3-0.1 1.2-0.1 1.2,0 1.3,0 1.3,0.1 1.2,0.1 1.2,0.2 1.3,0.2 1.3,0.2 1.2,0.3 1.2,0.3 1.3,0.4 1.3,0.5 1.2,0.4 1.2,0.6 1.3,0.6 1.3,0.6 1.2,0.7 1.2,0.7 1.3,0.8 1.3,0.8 1.2,0.8 1.2,1 1.3,0.9 1.3,1 1.2,1 1.2,1.1 1.3,1.1 1.3,1.2 1.2,1.2 1.2,1.2 1.3,1.3 1.3,1.3 1.2,1.3 1.2,1.4 1.3,1.4 1.3,1.4 1.2,1.5 1.2,1.5 1.3,1.6 1.3,1.5 1.2,1.6 1.2,1.7 1.3,1.6 1.3,1.7 1.2,1.7 1.2,1.8 1.3,1.7 1.3,1.9 1.2,1.8 1.2,1.9 1.3,1.9 1.3,1.9 1.2,1.9 1.2,2 1.3,2.1 1.3,2 1.2,2.1 1.2,2.1 1.3,2.1 1.3,2.2 1.2,2.2 1.2,2.2 1.3,2.3 1.3,2.3 1.2,2.3 1.2,2.3 1.3,2.4 1.3,2.4 1.2,2.5 1.2,2.4 1.3,2.5 1.3,2.6 1.2,2.5 1.2,2.6 1.3,2.6 1.3,2.7 1.2,2.7 1.2,2.7 1.3,2.7 1.3,2.7 1.2,2.8 1.2,2.8 1.3,2.9 1.3,2.8 1.2,2.9 1.2,3 1.3,2.9 1.3,3 1.2,3 1.2,3 1.3,3 1.3,3.1 1.2,3.1 1.2,3.1 1.3,3.2" fill="none" stroke="none" marker-start="url(#m27)" marker-mid="url(#m27)" marker-end="url(#m27)" clip-path="url(#dT0)"/>
<path d="M1110.8,1862.7l1.5-11.4 1.5-8.8 1.5-7.8 1.5-8.5 1.5-9.4 1.5-9.9 1.5-9.9 1.5-9.7 1.5-9.7 1.5-9.5 1.5-9.4 1.5-9.4 1.5-9.3 1.5-9.3 1.5-9.3 1.5-9.3 1.5-9.3 1.5-9.4 1.5-9.3 1.5-9.2 1.5-9 1.5-8.7 1.5-8.2 1.5-7.8 1.5-7.1 1.5-6.3 1.5-5.7 1.5-5.1 1.5-4.6 1.5-4.3 1.5-4.1 1.5-4.1 1.5-4 1.5-4 1.5-3.9 1.5-3.9 1.5-3.7 1.5-3.6 1.5-3.4 1.5-3.3 1.5-3 1.5-2.8 1.5-2.4 1.5-2 1.5-1.4 1.5-0.8 1.5,0 1.5,0.7 1.5,1.4 1.5,2 1.5,2.5 1.5,2.9 1.5,3.2 1.5,3.4 1.5,3.6 1.5,3.6 1.5,3.6 1.5,3.6 1.5,3.7 1.5,3.8 1.5,3.9 1.5,4.1 1.5,4.4 1.5,4.7 1.5,5 1.5,5.4 1.5,5.8 1.5,6.3 1.5,6.8 1.5,7.3 1.5,7.8 1.5,8.5 1.5,9.1 1.5,9.5 1.5,9.6 1.5,9.7 1.5,9.5 1.5,9.3 1.5,9.3 1.5,9.2 1.5,9.2 1.5,9.3 1.5,9.3 1.5,9.4 1.5,9.6 1.5,9.7 1.5,10 1.5,10 1.5,9.5 1.5,8.5 1.5,7.8 1.5,8.8 1.5,11.5" fill="none" stroke="#000" stroke-width="1.4" stroke-linejoin="round" clip-path="url(#dT1)"/>
<path d="M1112.3,1851.3l2.2-12.4 2.2-12.1 2.2-14 2.2-14.5 2.2-14.3 2.2-14 2.2-13.8 2.2-13.7 2.2-13.7 2.2-13.6 2.2-13.6 2.2-13.8 2.2-13.5 2.2-13.1 2.2-12.2 2.2-11.2 2.2-9.6 2.2-8.2 2.2-7 2.2-6.2 2.2-6 2.2-6 2.2-5.8 2.2-5.6 2.2-5.4 2.2-5 2.2-4.7 2.2-4.2 2.2-3.3 2.2-2.3 2.2-0.9 2.2,0.8 2.2,2.2 2.2,3.3 2.2,4.3 2.2,4.9 2.2,5.2 2.2,5.4 2.2,5.3 2.2,5.4 2.2,5.7 2.2,6.2 2.2,6.8 2.2,7.6 2.2,8.3 2.2,9.4 2.2,10.5 2.2,11.6 2.2,13 2.2,14 2.2,14.2 2.2,13.9 2.2,13.6 2.2,13.6 2.2,13.5 2.2,13.6 2.2,13.9 2.2,14.3 2.2,14.6 2.2,14.2 2.2,12.1 2.2,12.3" fill="none" stroke="none" marker-start="url(#m13)" marker-mid="url(#m13)" marker-end="url(#m13)" clip-path="url(#dT1)"/>
<path d="M1004.3,1675.3l1.5-3.8 1.5-3.9 1.5-3.8 1.5-3.8 1.5-3.8 1.5-3.7 1.5-3.7 1.5-3.7 1.5-3.6 1.5-3.5 1.5-3.5 1.5-3.4 1.5-3.4 1.5-3.3 1.5-3.2 1.5-3.1 1.5-3.1 1.5-3 1.5-2.9 1.5-2.9 1.5-2.9 1.5-2.8 1.5-2.7 1.5-2.7 1.5-2.6 1.5-2.6 1.5-2.6 1.5-2.5 1.5-2.5 1.5-2.5 1.5-2.4 1.5-2.4 1.5-2.4 1.5-2.3 1.5-2.4 1.5-2.3 1.5-2.3 1.5-2.3 1.5-2.3 1.5-2.2 1.5-2.2 1.5-2.2 1.5-2.2 1.5-2.1 1.5-2 1.5-2 1.5-2 1.5-1.8 1.5-1.8 1.5-1.8 1.5-1.6 1.5-1.6 1.5-1.5 1.5-1.5 1.5-1.4 1.5-1.3 1.5-1.2 1.5-1.2 1.5-1.2 1.5-1.1 1.5-1 1.5-1 1.5-0.9 1.5-0.9 1.5-0.8 1.5-0.8 1.5-0.7 1.5-0.7 1.5-0.7 1.5-0.5 1.5-0.5 1.5-0.5 1.5-0.4 1.5-0.3 1.5-0.3 1.5-0.2 1.5-0.1 1.5-0.1 1.5,0 1.5,0 1.5,0.1 1.5,0.1 1.5,0.2 1.5,0.2 1.5,0.3 1.5,0.3 1.5,0.4 1.5,0.5 1.5,0.5 1.5,0.5 1.5,0.6 1.5,0.7 1.5,0.7 1.5,0.8 1.5,0.9 1.5,1 1.5,1 1.5,1 1.5,1.2 1.5,1.2 1.5,1.3 1.5,1.4 1.5,1.4 1.5,1.4 1.5,1.4 1.5,1.4 1.5,1.3 1.5,1.4 1.5,1.2 1.5,1.2 1.5,1.1 1.5,1 1.5,0.9 1.5,0.7 1.5,0.6 1.5,0.4 1.5,0.2 1.5,0 1.5-0.2 1.5-0.4 1.5-0.6 1.5-0.7 1.5-0.8 1.5-1 1.5-1.1 1.5-1.2 1.5-1.3 1.5-1.4 1.5-1.4 1.5-1.4 1.5-1.4 1.5-1.5 1.5-1.4 1.5-1.3 1.5-1.4 1.5-1.2 1.5-1.1 1.5-1.1 1.5-1 1.5-0.9 1.5-0.9 1.5-0.7 1.5-0.8 1.5-0.6 1.5-0.6 1.5-0.6 1.5-0.5 1.5-0.4 1.5-0.4 1.5-0.3 1.5-0.3 1.5-0.2 1.5-0.2 1.5-0.1 1.5,0 1.5,0 1.5,0 1.5,0.1 1.5,0.2 1.5,0.2 1.5,0.3 1.5,0.3 1.5,0.4 1.5,0.4 1.5,0.5 1.5,0.5 1.5,0.6 1.5,0.6 1.5,0.7 1.5,0.8 1.5,0.8 1.5,0.8 1.5,0.9 1.5,1 1.5,1.1 1.5,1.1 1.5,1.2 1.5,1.2 1.5,1.3 1.5,1.3 1.5,1.5 1.5,1.5 1.5,1.5 1.5,1.7 1.5,1.6 1.5,1.8 1.5,1.9 1.5,1.8 1.5,2 1.5,2 1.5,2.1 1.5,2 1.5,2.2 1.5,2.1 1.5,2.2 1.5,2.3 1.5,2.2 1.5,2.3 1.5,2.3 1.5,2.2 1.5,2.4 1.5,2.3 1.5,2.3 1.5,2.4 1.5,2.4 1.5,2.5 1.5,2.4 1.5,2.6 1.5,2.5 1.5,2.7 1.5,2.6 1.5,2.8 1.5,2.8 1.5,2.8 1.5,2.9 1.5,3 1.5,3 1.5,3 1.5,3.2 1.5,3.1 1.5,3.3 1.5,3.2 1.5,3.4 1.5,3.3 1.5,3.5 1.5,3.4 1.5,3.6 1.5,3.5 1.5,3.7 1.5,3.6 1.5,3.8 1.5,3.7 1.5,3.9 1.5,3.8" fill="none" stroke="#000" stroke-width="1.4" stroke-linejoin="round" clip-path="url(#dT1)"/>
<path d="M1005.5,1672.2l1.3-3.2 1.2-3.2 1.2-3.1 1.3-3.2 1.3-3.1 1.2-3.2 1.2-3.1 1.3-3 1.3-3 1.2-3 1.2-3 1.3-2.9 1.3-2.9 1.2-2.8 1.2-2.8 1.3-2.7 1.3-2.7 1.2-2.6 1.2-2.6 1.3-2.5 1.3-2.5 1.2-2.4 1.2-2.4 1.3-2.4 1.3-2.3 1.2-2.3 1.2-2.3 1.3-2.2 1.3-2.2 1.2-2.2 1.2-2.2 1.3-2.1 1.3-2.1 1.2-2 1.2-2.1 1.3-2 1.3-2 1.2-2 1.2-2 1.3-2 1.3-1.9 1.2-1.9 1.2-2 1.3-1.9 1.3-1.9 1.2-1.9 1.2-1.8 1.3-1.9 1.3-1.8 1.2-1.8 1.2-1.8 1.3-1.7 1.3-1.7 1.2-1.7 1.2-1.6 1.3-1.6 1.3-1.6 1.2-1.5 1.2-1.4 1.3-1.4 1.3-1.4 1.2-1.2 1.2-1.3 1.3-1.2 1.3-1.1 1.2-1.1 1.2-1.1 1.3-1 1.3-1 1.2-0.9 1.2-0.9 1.3-0.9 1.3-0.8 1.2-0.8 1.2-0.8 1.3-0.7 1.3-0.7 1.2-0.7 1.2-0.6 1.3-0.6 1.3-0.5 1.2-0.5 1.2-0.5 1.3-0.4 1.3-0.4 1.2-0.4 1.2-0.3 1.3-0.2 1.3-0.3 1.2-0.1 1.2-0.2 1.3-0.1 1.3,0 1.2,0 1.2,0 1.3,0 1.3,0.1 1.2,0.2 1.2,0.1 1.3,0.3 1.3,0.2 1.2,0.3 1.2,0.3 1.3,0.3 1.3,0.4 1.2,0.4 1.2,0.5 1.3,0.5 1.3,0.6 1.2,0.5 1.2,0.7 1.3,0.7 1.3,0.7 1.2,0.8 1.2,0.8 1.3,0.9 1.3,0.9 1.2,0.9 1.2,1.1 1.3,1.1 1.3,1.1 1.2,1.1 1.2,1.2 1.3,1.1 1.3,1.2 1.2,1.2 1.2,1.1 1.3,1.2 1.3,1.1 1.2,1 1.2,1 1.3,0.9 1.3,0.9 1.2,0.7 1.2,0.7 1.3,0.6 1.3,0.5 1.2,0.3 1.2,0.2 1.3,0.1 1.3,0 1.2-0.2 1.2-0.4 1.3-0.4 1.3-0.6 1.2-0.7 1.2-0.7 1.3-0.9 1.3-0.9 1.2-1 1.2-1 1.3-1.1 1.3-1.2 1.2-1.1 1.2-1.2 1.3-1.2 1.3-1.2 1.2-1.2 1.2-1.2 1.3-1.1 1.3-1.1 1.2-1.1 1.2-0.9 1.3-0.9 1.3-0.9 1.2-0.8 1.2-0.8 1.3-0.7 1.3-0.7 1.2-0.6 1.2-0.6 1.3-0.5 1.3-0.5 1.2-0.5 1.2-0.4 1.3-0.4 1.3-0.3 1.2-0.3 1.2-0.3 1.3-0.2 1.3-0.2 1.2-0.2 1.2-0.1 1.3-0.1 1.3,0 1.2,0 1.2,0 1.3,0.1 1.3,0.1 1.2,0.1 1.2,0.2 1.3,0.2 1.3,0.3 1.2,0.2 1.2,0.4 1.3,0.3 1.3,0.4 1.2,0.5 1.2,0.4 1.3,0.6 1.3,0.5 1.2,0.6 1.2,0.6 1.3,0.7 1.3,0.7 1.2,0.7 1.2,0.8 1.3,0.9 1.3,0.8 1.2,1 1.2,0.9 1.3,1 1.3,1.1 1.2,1.1 1.2,1.1 1.3,1.2 1.3,1.2 1.2,1.3 1.2,1.3 1.3,1.4 1.3,1.4 1.2,1.5 1.2,1.5 1.3,1.5 1.3,1.6 1.2,1.7 1.2,1.6 1.3,1.7 1.3,1.8 1.2,1.7 1.2,1.8 1.3,1.8 1.3,1.9 1.2,1.8 1.2,1.9 1.3,1.9 1.3,1.9 1.2,1.9 1.2,1.9 1.3,1.9 1.3,1.9 1.2,2 1.2,1.9 1.3,2 1.3,2 1.2,2.1 1.2,2 1.3,2.1 1.3,2.1 1.2,2.2 1.2,2.2 1.3,2.2 1.3,2.3 1.2,2.3 1.2,2.3 1.3,2.4 1.3,2.4 1.2,2.5 1.2,2.5 1.3,2.5 1.3,2.6 1.2,2.6 1.2,2.6 1.3,2.7 1.3,2.7 1.2,2.8 1.2,2.8 1.3,2.8 1.3,2.8 1.2,2.9 1.2,3 1.3,2.9 1.3,3 1.2,3.1 1.2,3 1.3,3.1 1.3,3.2 1.2,3.1 1.2,3.2 1.3,3.2" fill="none" stroke="none" marker-start="url(#m3)" marker-mid="url(#m3)" marker-end="url(#m3)" clip-path="url(#dT1)"/>
<path d="M1005.5,1672.2l1.3-3.2 1.2-3.2 1.2-3.1 1.3-3.2 1.3-3.1 1.2-3.2 1.2-3.1 1.3-3 1.3-3 1.2-3 1.2-3 1.3-2.9 1.3-2.9 1.2-2.8 1.2-2.8 1.3-2.7 1.3-2.7 1.2-2.6 1.2-2.6 1.3-2.5 1.3-2.5 1.2-2.4 1.2-2.4 1.3-2.4 1.3-2.3 1.2-2.3 1.2-2.3 1.3-2.2 1.3-2.2 1.2-2.2 1.2-2.2 1.3-2.1 1.3-2.1 1.2-2 1.2-2.1 1.3-2 1.3-2 1.2-2 1.2-2 1.3-2 1.3-1.9 1.2-1.9 1.2-2 1.3-1.9 1.3-1.9 1.2-1.9 1.2-1.8 1.3-1.9 1.3-1.8 1.2-1.8 1.2-1.8 1.3-1.7 1.3-1.7 1.2-1.7 1.2-1.6 1.3-1.6 1.3-1.6 1.2-1.5 1.2-1.4 1.3-1.4 1.3-1.4 1.2-1.2 1.2-1.3 1.3-1.2 1.3-1.1 1.2-1.1 1.2-1.1 1.3-1 1.3-1 1.2-0.9 1.2-0.9 1.3-0.9 1.3-0.8 1.2-0.8 1.2-0.8 1.3-0.7 1.3-0.7 1.2-0.7 1.2-0.6 1.3-0.6 1.3-0.5 1.2-0.5 1.2-0.5 1.3-0.4 1.3-0.4 1.2-0.4 1.2-0.3 1.3-0.2 1.3-0.3 1.2-0.1 1.2-0.2 1.3-0.1 1.3,0 1.2,0 1.2,0 1.3,0 1.3,0.1 1.2,0.2 1.2,0.1 1.3,0.3 1.3,0.2 1.2,0.3 1.2,0.3 1.3,0.3 1.3,0.4 1.2,0.4 1.2,0.5 1.3,0.5 1.3,0.6 1.2,0.5 1.2,0.7 1.3,0.7 1.3,0.7 1.2,0.8 1.2,0.8 1.3,0.9 1.3,0.9 1.2,0.9 1.2,1.1 1.3,1.1 1.3,1.1 1.2,1.1 1.2,1.2 1.3,1.1 1.3,1.2 1.2,1.2 1.2,1.1 1.3,1.2 1.3,1.1 1.2,1 1.2,1 1.3,0.9 1.3,0.9 1.2,0.7 1.2,0.7 1.3,0.6 1.3,0.5 1.2,0.3 1.2,0.2 1.3,0.1 1.3,0 1.2-0.2 1.2-0.4 1.3-0.4 1.3-0.6 1.2-0.7 1.2-0.7 1.3-0.9 1.3-0.9 1.2-1 1.2-1 1.3-1.1 1.3-1.2 1.2-1.1 1.2-1.2 1.3-1.2 1.3-1.2 1.2-1.2 1.2-1.2 1.3-1.1 1.3-1.1 1.2-1.1 1.2-0.9 1.3-0.9 1.3-0.9 1.2-0.8 1.2-0.8 1.3-0.7 1.3-0.7 1.2-0.6 1.2-0.6 1.3-0.5 1.3-0.5 1.2-0.5 1.2-0.4 1.3-0.4 1.3-0.3 1.2-0.3 1.2-0.3 1.3-0.2 1.3-0.2 1.2-0.2 1.2-0.1 1.3-0.1 1.3,0 1.2,0 1.2,0 1.3,0.1 1.3,0.1 1.2,0.1 1.2,0.2 1.3,0.2 1.3,0.3 1.2,0.2 1.2,0.4 1.3,0.3 1.3,0.4 1.2,0.5 1.2,0.4 1.3,0.6 1.3,0.5 1.2,0.6 1.2,0.6 1.3,0.7 1.3,0.7 1.2,0.7 1.2,0.8 1.3,0.9 1.3,0.8 1.2,1 1.2,0.9 1.3,1 1.3,1.1 1.2,1.1 1.2,1.1 1.3,1.2 1.3,1.2 1.2,1.3 1.2,1.3 1.3,1.4 1.3,1.4 1.2,1.5 1.2,1.5 1.3,1.5 1.3,1.6 1.2,1.7 1.2,1.6 1.3,1.7 1.3,1.8 1.2,1.7 1.2,1.8 1.3,1.8 1.3,1.9 1.2,1.8 1.2,1.9 1.3,1.9 1.3,1.9 1.2,1.9 1.2,1.9 1.3,1.9 1.3,1.9 1.2,2 1.2,1.9 1.3,2 1.3,2 1.2,2.1 1.2,2 1.3,2.1 1.3,2.1 1.2,2.2 1.2,2.2 1.3,2.2 1.3,2.3 1.2,2.3 1.2,2.3 1.3,2.4 1.3,2.4 1.2,2.5 1.2,2.5 1.3,2.5 1.3,2.6 1.2,2.6 1.2,2.6 1.3,2.7 1.3,2.7 1.2,2.8 1.2,2.8 1.3,2.8 1.3,2.8 1.2,2.9 1.2,3 1.3,2.9 1.3,3 1.2,3.1 1.2,3 1.3,3.1 1.3,3.2 1.2,3.1 1.2,3.2 1.3,3.2" fill="none" stroke="none" marker-start="url(#m25)" marker-mid="url(#m25)" marker-end="url(#m25)" clip-path="url(#dT1)"/>
<path d="M1080.8,1856.9l1.5-9.1 1.5-8.6 1.5-8.1 1.5-7.7 1.5-7.4 1.5-7.1 1.5-7 1.5-6.8 1.5-6.8 1.5-6.7 1.5-6.4 1.5-6.1 1.5-5.8 1.5-5.3 1.5-5 1.5-4.8 1.5-4.7 1.5-4.8 1.5-5 1.5-5.2 1.5-5.4 1.5-5.5 1.5-5.6 1.5-5.5 1.5-5.3 1.5-5.2 1.5-5 1.5-4.9 1.5-4.6 1.5-4.6 1.5-4.3 1.5-4.3 1.5-4.1 1.5-4 1.5-4 1.5-3.8 1.5-3.9 1.5-3.7 1.5-3.7 1.5-3.7 1.5-3.7 1.5-3.7 1.5-3.6 1.5-3.7 1.5-3.7 1.5-3.7 1.5-3.7 1.5-3.7 1.5-3.7 1.5-3.6 1.5-3.7 1.5-3.6 1.5-3.5 1.5-3.5 1.5-3.4 1.5-3.2 1.5-3.1 1.5-2.9 1.5-2.7 1.5-2.5 1.5-2.1 1.5-1.9 1.5-1.5 1.5-1.2 1.5-0.8 1.5-0.4 1.5,0 1.5,0.5 1.5,0.9 1.5,1.2 1.5,1.6 1.5,2 1.5,2.2 1.5,2.5 1.5,2.7 1.5,2.9 1.5,3.1 1.5,3.3 1.5,3.3 1.5,3.5 1.5,3.5 1.5,3.5 1.5,3.5 1.5,3.6 1.5,3.5 1.5,3.6 1.5,3.6 1.5,3.6 1.5,3.7 1.5,3.7 1.5,3.7 1.5,3.7 1.5,3.8 1.5,3.8 1.5,3.8 1.5,3.9 1.5,3.9 1.5,4 1.5,4.1 1.5,4.1 1.5,4.1 1.5,4.2 1.5,4.3 1.5,4.5 1.5,4.6 1.5,4.7 1.5,5 1.5,5.1 1.5,5.4 1.5,5.5 1.5,5.5 1.5,5.5 1.5,5.4 1.5,5.3 1.5,5 1.5,4.8 1.5,4.8 1.5,4.8 1.5,5 1.5,5.3 1.5,5.8 1.5,6.1 1.5,6.4 1.5,6.6 1.5,6.8 1.5,7 1.5,7 1.5,7.2 1.5,7.5 1.5,7.7 1.5,8.1 1.5,8.4 1.5,8.9" fill="none" stroke="#000" stroke-width="1.4" stroke-linejoin="round" clip-path="url(#dT1)"/>
<path d="M1080.5,1858.8l1.3-7.7 1.2-7.4 1.2-7 1.3-6.6 1.3-6.4 1.2-6.2 1.2-6 1.3-5.9 1.3-5.7 1.2-5.8 1.2-5.6 1.3-5.6" fill="none" stroke="none" marker-start="url(#m17)" marker-mid="url(#m17)" marker-end="url(#m17)" clip-path="url(#dT1)"/>
<path d="M1096.8,1777.5l0,0" fill="none" stroke="none" marker-start="url(#m1)" marker-mid="url(#m1)" marker-end="url(#m1)" clip-path="url(#dT1)"/>
<path d="M1098.0,1772.3l0,0" fill="none" stroke="none" marker-start="url(#m4)" marker-mid="url(#m4)" marker-end="url(#m4)" clip-path="url(#dT1)"/>
<path d="M1099.2,1767.3l0,0" fill="none" stroke="none" marker-start="url(#m3)" marker-mid="url(#m3)" marker-end="url(#m3)" clip-path="url(#dT1)"/>
<path d="M1100.5,1762.6l0,0" fill="none" stroke="none" marker-start="url(#m5)" marker-mid="url(#m5)" marker-end="url(#m5)" clip-path="url(#dT1)"/>
<path d="M1101.8,1758.2l0,0" fill="none" stroke="none" marker-start="url(#m6)" marker-mid="url(#m6)" marker-end="url(#m6)" clip-path="url(#dT1)"/>
<path d="M1103.0,1754.0l0,0" fill="none" stroke="none" marker-start="url(#m7)" marker-mid="url(#m7)" marker-end="url(#m7)" clip-path="url(#dT1)"/>
<path d="M1104.2,1749.9l0,0" fill="none" stroke="none" marker-start="url(#m8)" marker-mid="url(#m8)" marker-end="url(#m8)" clip-path="url(#dT1)"/>
<path d="M1105.5,1746.0l1.3-4 1.2-4 1.2-4.2 1.3-4.3 1.3-4.4 1.2-4.6 1.2-4.6 1.3-4.6 1.3-4.6 1.2-4.5 1.2-4.4 1.3-4.2 1.3-4.1 1.2-4 1.2-3.9 1.3-3.8 1.3-3.6 1.2-3.6 1.2-3.5 1.3-3.5 1.3-3.3 1.2-3.3 1.2-3.2 1.3-3.2 1.3-3.2 1.2-3.1 1.2-3.1 1.3-3.1 1.3-3" fill="none" stroke="none" marker-start="url(#m9)" marker-mid="url(#m9)" marker-end="url(#m9)" clip-path="url(#dT1)"/>
<path d="M1143.0,1632.0l1.2-3.1 1.3-3 1.3-3.1 1.2-3.1 1.2-3.1 1.3-3 1.3-3.1 1.2-3.1 1.2-3 1.3-3.1 1.3-3 1.2-3 1.2-3 1.3-3 1.3-2.9 1.2-2.8 1.2-2.8 1.3-2.6 1.3-2.5 1.2-2.4 1.2-2.2 1.3-2.1 1.3-1.9 1.2-1.6 1.2-1.5 1.3-1.2 1.3-1 1.2-0.7 1.2-0.4 1.3-0.2 1.3,0.2 1.2,0.5 1.2,0.7 1.3,1 1.3,1.3 1.2,1.5 1.2,1.7 1.3,1.9 1.3,2.1 1.2,2.2 1.2,2.4 1.3,2.5 1.3,2.7 1.2,2.7 1.2,2.8 1.3,2.9 1.3,2.9 1.2,2.9 1.2,3 1.3,2.9 1.3,3 1.2,2.9 1.2,3 1.3,3 1.3,3 1.2,3 1.2,3.1 1.3,3 1.3,3.1 1.2,3.1" fill="none" stroke="none" marker-start="url(#m23)" marker-mid="url(#m23)" marker-end="url(#m23)" clip-path="url(#dT1)"/>
<path d="M1219.2,1634.6l1.3,3.2 1.3,3.1 1.2,3.2 1.2,3.3 1.3,3.2 1.3,3.3 1.2,3.4 1.2,3.3 1.3,3.4 1.3,3.5 1.2,3.5 1.2,3.5 1.3,3.6 1.3,3.7 1.2,3.8 1.2,4 1.3,4 1.3,4.2 1.2,4.3 1.2,4.5 1.3,4.5 1.3,4.7 1.2,4.6 1.2,4.6 1.3,4.4 1.3,4.4 1.2,4.2 1.2,4 1.3,4" fill="none" stroke="none" marker-start="url(#m9)" marker-mid="url(#m9)" marker-end="url(#m9)" clip-path="url(#dT1)"/>
<path d="M1256.8,1750.0l0,0" fill="none" stroke="none" marker-start="url(#m8)" marker-mid="url(#m8)" marker-end="url(#m8)" clip-path="url(#dT1)"/>
<path d="M1258.0,1754.0l0,0" fill="none" stroke="none" marker-start="url(#m7)" marker-mid="url(#m7)" marker-end="url(#m7)" clip-path="url(#dT1)"/>
<path d="M1259.2,1758.2l0,0" fill="none" stroke="none" marker-start="url(#m6)" marker-mid="url(#m6)" marker-end="url(#m6)" clip-path="url(#dT1)"/>
<path d="M1260.5,1762.6l0,0" fill="none" stroke="none" marker-start="url(#m5)" marker-mid="url(#m5)" marker-end="url(#m5)" clip-path="url(#dT1)"/>
<path d="M1261.8,1767.3l0,0" fill="none" stroke="none" marker-start="url(#m3)" marker-mid="url(#m3)" marker-end="url(#m3)" clip-path="url(#dT1)"/>
<path d="M1263.0,1772.3l0,0" fill="none" stroke="none" marker-start="url(#m4)" marker-mid="url(#m4)" marker-end="url(#m4)" clip-path="url(#dT1)"/>
<path d="M1264.2,1777.5l0,0" fill="none" stroke="none" marker-start="url(#m1)" marker-mid="url(#m1)" marker-end="url(#m1)" clip-path="url(#dT1)"/>
<path d="M1265.5,1782.8l1.3,5.6 1.2,5.7 1.2,5.7 1.3,5.8 1.3,6 1.2,6 1.2,6.2 1.3,6.5 1.3,6.6 1.2,6.9 1.2,7.1 1.3,7.5" fill="none" stroke="none" marker-start="url(#m17)" marker-mid="url(#m17)" marker-end="url(#m17)" clip-path="url(#dT1)"/>
<path d="M1068.8,1863.3l1.5-7.3 1.5-6 1.5-7.3 1.5-7.5 1.5-7.6 1.5-7.5 1.5-7.4 1.5-7.4 1.5-7.4 1.5-7.4 1.5-7.4 1.5-7.4 1.5-7.4 1.5-7.5 1.5-7.4 1.5-7.5 1.5-7.5 1.5-7.6 1.5-7.6 1.5-7.7 1.5-7.7 1.5-7.6 1.5-7.6 1.5-7.5 1.5-7.3 1.5-7.2 1.5-7 1.5-6.8 1.5-6.6 1.5-6.5 1.5-6.4 1.5-6.2 1.5-6.2 1.5-6 1.5-5.9 1.5-5.8 1.5-5.6 1.5-5.4 1.5-5.3 1.5-4.9 1.5-4.8 1.5-4.4 1.5-4.1 1.5-3.7 1.5-3.4 1.5-3.1 1.5-2.7 1.5-2.5 1.5-2.3 1.5-2.1 1.5-1.9 1.5-1.9 1.5-1.8 1.5-1.8 1.5-1.8 1.5-1.9 1.5-1.8 1.5-1.6 1.5-1.5 1.5-1.1 1.5-0.9 1.5-0.6 1.5-0.2 1.5,0 1.5,0.4 1.5,0.6 1.5,0.8 1.5,1 1.5,1.1 1.5,1.1 1.5,1.2 1.5,1.1 1.5,0.9 1.5,0.6 1.5,0.1 1.5-0.5 1.5-0.8 1.5-1.2 1.5-1.3 1.5-1.3 1.5-1.2 1.5-1.1 1.5-0.8 1.5-0.5 1.5-0.3 1.5,0 1.5,0.3 1.5,0.6 1.5,0.9 1.5,1.3 1.5,1.5 1.5,1.8 1.5,1.8 1.5,1.9 1.5,1.7 1.5,1.7 1.5,1.6 1.5,1.7 1.5,1.9 1.5,2.1 1.5,2.3 1.5,2.6 1.5,2.9 1.5,3.2 1.5,3.5 1.5,3.9 1.5,4.2 1.5,4.4 1.5,4.7 1.5,5 1.5,5.2 1.5,5.4 1.5,5.6 1.5,5.7 1.5,5.9 1.5,6 1.5,6.1 1.5,6.3 1.5,6.3 1.5,6.5 1.5,6.7 1.5,6.9 1.5,7 1.5,7.2 1.5,7.4 1.5,7.5 1.5,7.6 1.5,7.6 1.5,7.7 1.5,7.6 1.5,7.6 1.5,7.5 1.5,7.5 1.5,7.4 1.5,7.4 1.5,7.4 1.5,7.5 1.5,7.5 1.5,7.6 1.5,7.6 1.5,7.6 1.5,7.5 1.5,7.6 1.5,7.3 1.5,7.3 1.5,7.1 1.5,6.8 1.5,6.6 1.5,8" fill="none" stroke="#000" stroke-width="1.4" stroke-linejoin="round" clip-path="url(#dT1)"/>
<path d="M1069.2,1860.3l1.3-5 1.3-5.1 1.2-6 1.2-6.3 1.3-6.3 1.3-6.2 1.2-6.3 1.2-6.2 1.3-6.2 1.3-6.1 1.2-6.2 1.2-6.2 1.3-6.1 1.3-6.2 1.2-6.1 1.2-6.2" fill="none" stroke="none" marker-start="url(#m2)" marker-mid="url(#m2)" marker-end="url(#m2)" clip-path="url(#dT1)"/>
<path d="M1090.5,1757.4l1.3-6.2 1.2-6.3 1.2-6.3 1.3-6.3 1.3-6.3 1.2-6.4 1.2-6.4 1.3-6.4 1.3-6.4 1.2-6.3 1.2-6.2 1.3-6.2 1.3-6.1 1.2-5.9 1.2-5.8 1.3-5.7 1.3-5.6 1.2-5.5 1.2-5.4 1.3-5.2 1.3-5.2 1.2-5.1 1.2-5.1 1.3-5 1.3-4.9 1.2-4.8 1.2-4.6 1.3-4.6 1.3-4.4" fill="none" stroke="none" marker-start="url(#m14)" marker-mid="url(#m14)" marker-end="url(#m14)" clip-path="url(#dT1)"/>
<path d="M1128.0,1588.6l1.2-4.1 1.3-3.9" fill="none" stroke="none" marker-start="url(#m15)" marker-mid="url(#m15)" marker-end="url(#m15)" clip-path="url(#dT1)"/>
<path d="M1131.8,1577.0l1.2-3.5 1.2-3.2" fill="none" stroke="none" marker-start="url(#m10)" marker-mid="url(#m10)" marker-end="url(#m10)" clip-path="url(#dT1)"/>
<path d="M1135.5,1567.3l1.3-2.7 1.2-2.5" fill="none" stroke="none" marker-start="url(#m16)" marker-mid="url(#m16)" marker-end="url(#m16)" clip-path="url(#dT1)"/>
<path d="M1139.2,1559.8l1.3-2.1 1.3-1.9 1.2-1.8 1.2-1.7 1.3-1.6 1.3-1.5 1.2-1.5 1.2-1.5 1.3-1.6 1.3-1.5 1.2-1.5 1.2-1.5 1.3-1.4 1.3-1.3 1.2-1 1.2-0.9" fill="none" stroke="none" marker-start="url(#m28)" marker-mid="url(#m28)" marker-end="url(#m28)" clip-path="url(#dT1)"/>
<path d="M1160.5,1534.8l1.3-0.5 1.2-0.2 1.2,0 1.3,0.2 1.3,0.3 1.2,0.6 1.2,0.7 1.3,0.8 1.3,0.9 1.2,0.9 1.2,1 1.3,0.9 1.3,1 1.2,0.8 1.2,0.5 1.3,0.3 1.3-0.1 1.2-0.5 1.2-0.7 1.3-0.9 1.3-1.1 1.2-1.1 1.2-1.1 1.3-1 1.3-0.9 1.2-0.6 1.2-0.6 1.3-0.3 1.3-0.1 1.2,0 1.2,0.3 1.3,0.5" fill="none" stroke="none" marker-start="url(#m27)" marker-mid="url(#m27)" marker-end="url(#m27)" clip-path="url(#dT1)"/>
<path d="M1201.8,1535.4l1.2,1 1.2,1.1 1.3,1.3 1.3,1.5 1.2,1.6 1.2,1.5 1.3,1.5 1.3,1.4 1.2,1.4 1.2,1.3 1.3,1.4 1.3,1.6 1.2,1.6 1.2,1.9 1.3,2 1.3,2.1" fill="none" stroke="none" marker-start="url(#m28)" marker-mid="url(#m28)" marker-end="url(#m28)" clip-path="url(#dT1)"/>
<path d="M1223.0,1562.0l1.2,2.6 1.3,2.8" fill="none" stroke="none" marker-start="url(#m16)" marker-mid="url(#m16)" marker-end="url(#m16)" clip-path="url(#dT1)"/>
<path d="M1226.8,1570.5l1.2,3.2 1.2,3.5" fill="none" stroke="none" marker-start="url(#m10)" marker-mid="url(#m10)" marker-end="url(#m10)" clip-path="url(#dT1)"/>
<path d="M1230.5,1580.9l1.3,3.9 1.2,4" fill="none" stroke="none" marker-start="url(#m15)" marker-mid="url(#m15)" marker-end="url(#m15)" clip-path="url(#dT1)"/>
<path d="M1234.2,1593.0l1.3,4.4 1.3,4.5 1.2,4.6 1.2,4.8 1.3,4.9 1.3,4.9 1.2,5 1.2,5.1 1.3,5.2 1.3,5.3 1.2,5.3 1.2,5.5 1.3,5.6 1.3,5.7 1.2,5.9 1.2,5.9 1.3,6.1 1.3,6.2 1.2,6.3 1.2,6.3 1.3,6.4 1.3,6.4 1.2,6.4 1.2,6.3 1.3,6.3 1.3,6.3 1.2,6.2 1.2,6.2 1.3,6.2" fill="none" stroke="none" marker-start="url(#m14)" marker-mid="url(#m14)" marker-end="url(#m14)" clip-path="url(#dT1)"/>
<path d="M1271.8,1763.4l1.2,6.1 1.2,6.2 1.3,6.3 1.3,6.3 1.2,6.3 1.2,6.4 1.3,6.3 1.3,6.3 1.2,6.3 1.2,6.1 1.3,6.1 1.3,6 1.2,5.9 1.2,5.7 1.3,5.5 1.3,5.9" fill="none" stroke="none" marker-start="url(#m2)" marker-mid="url(#m2)" marker-end="url(#m2)" clip-path="url(#dT1)"/>
<path d="M1460.4,1854.7l1.5-9.4 1.5-8 1.5-8.1 1.5-9.2 1.5-9.8 1.5-9.9 1.5-9.8 1.5-9.7 1.5-9.5 1.5-9.5 1.5-9.4 1.5-9.3 1.5-9.3 1.5-9.3 1.5-9.3 1.5-9.3 1.5-9.3 1.5-9.4 1.5-9.3 1.5-9 1.5-8.8 1.5-8.4 1.5-8 1.5-7.3 1.5-6.6 1.5-5.9 1.5-5.2 1.5-4.8 1.5-4.4 1.5-4.1 1.5-4.1 1.5-4.1 1.5-4 1.5-3.9 1.5-3.9 1.5-3.7 1.5-3.7 1.5-3.5 1.5-3.3 1.5-3.1 1.5-2.9 1.5-2.6 1.5-2.1 1.5-1.6 1.5-1 1.5-0.3 1.5,0.5 1.5,1.2 1.5,1.8 1.5,2.3 1.5,2.8 1.5,3.1 1.5,3.3 1.5,3.6 1.5,3.6 1.5,3.6 1.5,3.6 1.5,3.7 1.5,3.7 1.5,3.9 1.5,4 1.5,4.3 1.5,4.6 1.5,4.9 1.5,5.3 1.5,5.7 1.5,6.1 1.5,6.6 1.5,7.1 1.5,7.6 1.5,8.3 1.5,8.9 1.5,9.4 1.5,9.6 1.5,9.7 1.5,9.5 1.5,9.4 1.5,9.3 1.5,9.3 1.5,9.2 1.5,9.2 1.5,9.3 1.5,9.3 1.5,9.5 1.5,9.7 1.5,9.9 1.5,10.1 1.5,9.8 1.5,8.8 1.5,7.9 1.5,8.2 1.5,10.5" fill="none" stroke="#000" stroke-width="1.4" stroke-linejoin="round" clip-path="url(#dT2)"/>
<path d="M1460.9,1851.3l2.2-12.4 2.2-12.1 2.2-14 2.2-14.5 2.2-14.3 2.2-14 2.2-13.8 2.2-13.7 2.2-13.7 2.2-13.6 2.2-13.6 2.2-13.8 2.2-13.5 2.2-13.1 2.2-12.2 2.2-11.2 2.2-9.6 2.2-8.2 2.2-7 2.2-6.2 2.2-6 2.2-6 2.2-5.8 2.2-5.6 2.2-5.4 2.2-5 2.2-4.7 2.2-4.2 2.2-3.3 2.2-2.3 2.2-0.9 2.2,0.8 2.2,2.2 2.2,3.3 2.2,4.3 2.2,4.9 2.2,5.2 2.2,5.4 2.2,5.3 2.2,5.4 2.2,5.7 2.2,6.2 2.2,6.8 2.2,7.6 2.2,8.3 2.2,9.4 2.2,10.5 2.2,11.6 2.2,13 2.2,14 2.2,14.2 2.2,13.9 2.2,13.6 2.2,13.6 2.2,13.5 2.2,13.6 2.2,13.9 2.2,14.3 2.2,14.6 2.2,14.2 2.2,12.1 2.2,12.3" fill="none" stroke="none" marker-start="url(#m13)" marker-mid="url(#m13)" marker-end="url(#m13)" clip-path="url(#dT2)"/>
<path d="M1352.4,1676.6l1.5-3.9 1.5-3.8 1.5-3.8 1.5-3.8 1.5-3.8 1.5-3.8 1.5-3.7 1.5-3.6 1.5-3.7 1.5-3.5 1.5-3.6 1.5-3.4 1.5-3.4 1.5-3.3 1.5-3.2 1.5-3.2 1.5-3.1 1.5-3 1.5-3 1.5-2.9 1.5-2.8 1.5-2.8 1.5-2.8 1.5-2.7 1.5-2.7 1.5-2.6 1.5-2.5 1.5-2.6 1.5-2.5 1.5-2.5 1.5-2.4 1.5-2.4 1.5-2.4 1.5-2.4 1.5-2.3 1.5-2.3 1.5-2.3 1.5-2.3 1.5-2.3 1.5-2.3 1.5-2.2 1.5-2.2 1.5-2.2 1.5-2.1 1.5-2 1.5-2.1 1.5-1.9 1.5-1.9 1.5-1.8 1.5-1.8 1.5-1.7 1.5-1.6 1.5-1.6 1.5-1.4 1.5-1.4 1.5-1.4 1.5-1.2 1.5-1.2 1.5-1.2 1.5-1.1 1.5-1 1.5-1 1.5-1 1.5-0.9 1.5-0.8 1.5-0.9 1.5-0.7 1.5-0.7 1.5-0.7 1.5-0.6 1.5-0.5 1.5-0.5 1.5-0.4 1.5-0.3 1.5-0.3 1.5-0.2 1.5-0.2 1.5-0.1 1.5,0 1.5,0 1.5,0 1.5,0.1 1.5,0.2 1.5,0.2 1.5,0.3 1.5,0.3 1.5,0.4 1.5,0.4 1.5,0.5 1.5,0.5 1.5,0.6 1.5,0.7 1.5,0.7 1.5,0.8 1.5,0.8 1.5,0.9 1.5,1 1.5,1.1 1.5,1.1 1.5,1.2 1.5,1.3 1.5,1.3 1.5,1.4 1.5,1.4 1.5,1.4 1.5,1.4 1.5,1.4 1.5,1.3 1.5,1.3 1.5,1.2 1.5,1.2 1.5,1 1.5,0.9 1.5,0.8 1.5,0.6 1.5,0.5 1.5,0.2 1.5,0.1 1.5-0.1 1.5-0.3 1.5-0.6 1.5-0.6 1.5-0.8 1.5-1 1.5-1.1 1.5-1.1 1.5-1.3 1.5-1.3 1.5-1.4 1.5-1.4 1.5-1.4 1.5-1.5 1.5-1.4 1.5-1.4 1.5-1.3 1.5-1.3 1.5-1.2 1.5-1.1 1.5-1 1.5-0.9 1.5-0.9 1.5-0.8 1.5-0.7 1.5-0.7 1.5-0.6 1.5-0.6 1.5-0.5 1.5-0.5 1.5-0.4 1.5-0.3 1.5-0.3 1.5-0.3 1.5-0.1 1.5-0.2 1.5,0 1.5,0 1.5,0 1.5,0.1 1.5,0.1 1.5,0.2 1.5,0.3 1.5,0.3 1.5,0.3 1.5,0.4 1.5,0.5 1.5,0.5 1.5,0.6 1.5,0.6 1.5,0.7 1.5,0.7 1.5,0.8 1.5,0.8 1.5,0.9 1.5,1 1.5,1 1.5,1.1 1.5,1.2 1.5,1.2 1.5,1.2 1.5,1.4 1.5,1.4 1.5,1.5 1.5,1.5 1.5,1.6 1.5,1.7 1.5,1.7 1.5,1.8 1.5,1.9 1.5,1.9 1.5,2 1.5,2.1 1.5,2 1.5,2.2 1.5,2.1 1.5,2.2 1.5,2.2 1.5,2.3 1.5,2.2 1.5,2.3 1.5,2.3 1.5,2.3 1.5,2.3 1.5,2.3 1.5,2.4 1.5,2.4 1.5,2.4 1.5,2.5 1.5,2.5 1.5,2.6 1.5,2.6 1.5,2.6 1.5,2.8 1.5,2.7 1.5,2.8 1.5,2.9 1.5,3 1.5,3 1.5,3 1.5,3.1 1.5,3.2 1.5,3.2 1.5,3.2 1.5,3.3 1.5,3.4 1.5,3.4 1.5,3.5 1.5,3.5 1.5,3.5 1.5,3.7 1.5,3.6 1.5,3.7 1.5,3.8 1.5,3.8 1.5,3.8 1.5,3.9" fill="none" stroke="#000" stroke-width="1.4" stroke-linejoin="round" clip-path="url(#dT2)"/>
<path d="M1354.1,1672.2l1.3-3.2 1.2-3.2 1.2-3.1 1.3-3.2 1.3-3.1 1.2-3.2 1.2-3.1 1.3-3 1.3-3 1.2-3 1.2-3 1.3-2.9 1.3-2.9 1.2-2.8 1.2-2.8 1.3-2.7 1.3-2.7 1.2-2.6 1.2-2.6 1.3-2.5 1.3-2.5 1.2-2.4 1.2-2.4 1.3-2.4 1.3-2.3 1.2-2.3 1.2-2.3 1.3-2.2 1.3-2.2 1.2-2.2 1.2-2.2 1.3-2.1 1.3-2.1 1.2-2 1.2-2.1 1.3-2 1.3-2 1.2-2 1.2-2 1.3-2 1.3-1.9 1.2-1.9 1.2-2 1.3-1.9 1.3-1.9 1.2-1.9 1.2-1.8 1.3-1.9 1.3-1.8 1.2-1.8 1.2-1.8 1.3-1.7 1.3-1.7 1.2-1.7 1.2-1.6 1.3-1.6 1.3-1.6 1.2-1.5 1.2-1.4 1.3-1.4 1.3-1.4 1.2-1.2 1.2-1.3 1.3-1.2 1.3-1.1 1.2-1.1 1.2-1.1 1.3-1 1.3-1 1.2-0.9 1.2-0.9 1.3-0.9 1.3-0.8 1.2-0.8 1.2-0.8 1.3-0.7 1.3-0.7 1.2-0.7 1.2-0.6 1.3-0.6 1.3-0.5 1.2-0.5 1.2-0.5 1.3-0.4 1.3-0.4 1.2-0.4 1.2-0.3 1.3-0.2 1.3-0.3 1.2-0.1 1.2-0.2 1.3-0.1 1.3,0 1.2,0 1.2,0 1.3,0 1.3,0.1 1.2,0.2 1.2,0.1 1.3,0.3 1.3,0.2 1.2,0.3 1.2,0.3 1.3,0.3 1.3,0.4 1.2,0.4 1.2,0.5 1.3,0.5 1.3,0.6 1.2,0.5 1.2,0.7 1.3,0.7 1.3,0.7 1.2,0.8 1.2,0.8 1.3,0.9 1.3,0.9 1.2,0.9 1.2,1.1 1.3,1.1 1.3,1.1 1.2,1.1 1.2,1.2 1.3,1.1 1.3,1.2 1.2,1.2 1.2,1.1 1.3,1.2 1.3,1.1 1.2,1 1.2,1 1.3,0.9 1.3,0.9 1.2,0.7 1.2,0.7 1.3,0.6 1.3,0.5 1.2,0.3 1.2,0.2 1.3,0.1 1.3,0 1.2-0.2 1.2-0.4 1.3-0.4 1.3-0.6 1.2-0.7 1.2-0.7 1.3-0.9 1.3-0.9 1.2-1 1.2-1 1.3-1.1 1.3-1.2 1.2-1.1 1.2-1.2 1.3-1.2 1.3-1.2 1.2-1.2 1.2-1.2 1.3-1.1 1.3-1.1 1.2-1.1 1.2-0.9 1.3-0.9 1.3-0.9 1.2-0.8 1.2-0.8 1.3-0.7 1.3-0.7 1.2-0.6 1.2-0.6 1.3-0.5 1.3-0.5 1.2-0.5 1.2-0.4 1.3-0.4 1.3-0.3 1.2-0.3 1.2-0.3 1.3-0.2 1.3-0.2 1.2-0.2 1.2-0.1 1.3-0.1 1.3,0 1.2,0 1.2,0 1.3,0.1 1.3,0.1 1.2,0.1 1.2,0.2 1.3,0.2 1.3,0.3 1.2,0.2 1.2,0.4 1.3,0.3 1.3,0.4 1.2,0.5 1.2,0.4 1.3,0.6 1.3,0.5 1.2,0.6 1.2,0.6 1.3,0.7 1.3,0.7 1.2,0.7 1.2,0.8 1.3,0.9 1.3,0.8 1.2,1 1.2,0.9 1.3,1 1.3,1.1 1.2,1.1 1.2,1.1 1.3,1.2 1.3,1.2 1.2,1.3 1.2,1.3 1.3,1.4 1.3,1.4 1.2,1.5 1.2,1.5 1.3,1.5 1.3,1.6 1.2,1.7 1.2,1.6 1.3,1.7 1.3,1.8 1.2,1.7 1.2,1.8 1.3,1.8 1.3,1.9 1.2,1.8 1.2,1.9 1.3,1.9 1.3,1.9 1.2,1.9 1.2,1.9 1.3,1.9 1.3,1.9 1.2,2 1.2,1.9 1.3,2 1.3,2 1.2,2.1 1.2,2 1.3,2.1 1.3,2.1 1.2,2.2 1.2,2.2 1.3,2.2 1.3,2.3 1.2,2.3 1.2,2.3 1.3,2.4 1.3,2.4 1.2,2.5 1.2,2.5 1.3,2.5 1.3,2.6 1.2,2.6 1.2,2.6 1.3,2.7 1.3,2.7 1.2,2.8 1.2,2.8 1.3,2.8 1.3,2.8 1.2,2.9 1.2,3 1.3,2.9 1.3,3 1.2,3.1 1.2,3 1.3,3.1 1.3,3.2 1.2,3.1 1.2,3.2 1.3,3.2" fill="none" stroke="none" marker-start="url(#m3)" marker-mid="url(#m3)" marker-end="url(#m3)" clip-path="url(#dT2)"/>
<path d="M1354.1,1672.2l1.3-3.2 1.2-3.2 1.2-3.1 1.3-3.2 1.3-3.1 1.2-3.2 1.2-3.1 1.3-3 1.3-3 1.2-3 1.2-3 1.3-2.9 1.3-2.9 1.2-2.8 1.2-2.8 1.3-2.7 1.3-2.7 1.2-2.6 1.2-2.6 1.3-2.5 1.3-2.5 1.2-2.4 1.2-2.4 1.3-2.4 1.3-2.3 1.2-2.3 1.2-2.3 1.3-2.2 1.3-2.2 1.2-2.2 1.2-2.2 1.3-2.1 1.3-2.1 1.2-2 1.2-2.1 1.3-2 1.3-2 1.2-2 1.2-2 1.3-2 1.3-1.9 1.2-1.9 1.2-2 1.3-1.9 1.3-1.9 1.2-1.9 1.2-1.8 1.3-1.9 1.3-1.8 1.2-1.8 1.2-1.8 1.3-1.7 1.3-1.7 1.2-1.7 1.2-1.6 1.3-1.6 1.3-1.6 1.2-1.5 1.2-1.4 1.3-1.4 1.3-1.4 1.2-1.2 1.2-1.3 1.3-1.2 1.3-1.1 1.2-1.1 1.2-1.1 1.3-1 1.3-1 1.2-0.9 1.2-0.9 1.3-0.9 1.3-0.8 1.2-0.8 1.2-0.8 1.3-0.7 1.3-0.7 1.2-0.7 1.2-0.6 1.3-0.6 1.3-0.5 1.2-0.5 1.2-0.5 1.3-0.4 1.3-0.4 1.2-0.4 1.2-0.3 1.3-0.2 1.3-0.3 1.2-0.1 1.2-0.2 1.3-0.1 1.3,0 1.2,0 1.2,0 1.3,0 1.3,0.1 1.2,0.2 1.2,0.1 1.3,0.3 1.3,0.2 1.2,0.3 1.2,0.3 1.3,0.3 1.3,0.4 1.2,0.4 1.2,0.5 1.3,0.5 1.3,0.6 1.2,0.5 1.2,0.7 1.3,0.7 1.3,0.7 1.2,0.8 1.2,0.8 1.3,0.9 1.3,0.9 1.2,0.9 1.2,1.1 1.3,1.1 1.3,1.1 1.2,1.1 1.2,1.2 1.3,1.1 1.3,1.2 1.2,1.2 1.2,1.1 1.3,1.2 1.3,1.1 1.2,1 1.2,1 1.3,0.9 1.3,0.9 1.2,0.7 1.2,0.7 1.3,0.6 1.3,0.5 1.2,0.3 1.2,0.2 1.3,0.1 1.3,0 1.2-0.2 1.2-0.4 1.3-0.4 1.3-0.6 1.2-0.7 1.2-0.7 1.3-0.9 1.3-0.9 1.2-1 1.2-1 1.3-1.1 1.3-1.2 1.2-1.1 1.2-1.2 1.3-1.2 1.3-1.2 1.2-1.2 1.2-1.2 1.3-1.1 1.3-1.1 1.2-1.1 1.2-0.9 1.3-0.9 1.3-0.9 1.2-0.8 1.2-0.8 1.3-0.7 1.3-0.7 1.2-0.6 1.2-0.6 1.3-0.5 1.3-0.5 1.2-0.5 1.2-0.4 1.3-0.4 1.3-0.3 1.2-0.3 1.2-0.3 1.3-0.2 1.3-0.2 1.2-0.2 1.2-0.1 1.3-0.1 1.3,0 1.2,0 1.2,0 1.3,0.1 1.3,0.1 1.2,0.1 1.2,0.2 1.3,0.2 1.3,0.3 1.2,0.2 1.2,0.4 1.3,0.3 1.3,0.4 1.2,0.5 1.2,0.4 1.3,0.6 1.3,0.5 1.2,0.6 1.2,0.6 1.3,0.7 1.3,0.7 1.2,0.7 1.2,0.8 1.3,0.9 1.3,0.8 1.2,1 1.2,0.9 1.3,1 1.3,1.1 1.2,1.1 1.2,1.1 1.3,1.2 1.3,1.2 1.2,1.3 1.2,1.3 1.3,1.4 1.3,1.4 1.2,1.5 1.2,1.5 1.3,1.5 1.3,1.6 1.2,1.7 1.2,1.6 1.3,1.7 1.3,1.8 1.2,1.7 1.2,1.8 1.3,1.8 1.3,1.9 1.2,1.8 1.2,1.9 1.3,1.9 1.3,1.9 1.2,1.9 1.2,1.9 1.3,1.9 1.3,1.9 1.2,2 1.2,1.9 1.3,2 1.3,2 1.2,2.1 1.2,2 1.3,2.1 1.3,2.1 1.2,2.2 1.2,2.2 1.3,2.2 1.3,2.3 1.2,2.3 1.2,2.3 1.3,2.4 1.3,2.4 1.2,2.5 1.2,2.5 1.3,2.5 1.3,2.6 1.2,2.6 1.2,2.6 1.3,2.7 1.3,2.7 1.2,2.8 1.2,2.8 1.3,2.8 1.3,2.8 1.2,2.9 1.2,3 1.3,2.9 1.3,3 1.2,3.1 1.2,3 1.3,3.1 1.3,3.2 1.2,3.1 1.2,3.2 1.3,3.2" fill="none" stroke="none" marker-start="url(#m25)" marker-mid="url(#m25)" marker-end="url(#m25)" clip-path="url(#dT2)"/>
<path d="M1428.9,1860.1l1.5-9.3 1.5-8.8 1.5-8.2 1.5-7.8 1.5-7.5 1.5-7.2 1.5-7.1 1.5-6.9 1.5-6.8 1.5-6.7 1.5-6.5 1.5-6.2 1.5-5.9 1.5-5.5 1.5-5.1 1.5-4.8 1.5-4.8 1.5-4.7 1.5-4.9 1.5-5.2 1.5-5.3 1.5-5.5 1.5-5.5 1.5-5.5 1.5-5.5 1.5-5.2 1.5-5.1 1.5-4.9 1.5-4.7 1.5-4.6 1.5-4.4 1.5-4.3 1.5-4.1 1.5-4.1 1.5-4 1.5-3.9 1.5-3.8 1.5-3.8 1.5-3.7 1.5-3.7 1.5-3.7 1.5-3.6 1.5-3.7 1.5-3.7 1.5-3.7 1.5-3.7 1.5-3.7 1.5-3.7 1.5-3.6 1.5-3.7 1.5-3.6 1.5-3.7 1.5-3.5 1.5-3.6 1.5-3.4 1.5-3.3 1.5-3.1 1.5-3 1.5-2.7 1.5-2.6 1.5-2.2 1.5-2 1.5-1.7 1.5-1.3 1.5-0.9 1.5-0.6 1.5-0.1 1.5,0.4 1.5,0.7 1.5,1.2 1.5,1.5 1.5,1.8 1.5,2.1 1.5,2.4 1.5,2.7 1.5,2.8 1.5,3.1 1.5,3.2 1.5,3.3 1.5,3.4 1.5,3.5 1.5,3.5 1.5,3.6 1.5,3.5 1.5,3.6 1.5,3.5 1.5,3.6 1.5,3.6 1.5,3.7 1.5,3.6 1.5,3.7 1.5,3.7 1.5,3.8 1.5,3.8 1.5,3.8 1.5,3.9 1.5,3.9 1.5,4 1.5,4 1.5,4.1 1.5,4.1 1.5,4.2 1.5,4.3 1.5,4.4 1.5,4.5 1.5,4.7 1.5,4.9 1.5,5.1 1.5,5.3 1.5,5.4 1.5,5.5 1.5,5.6 1.5,5.4 1.5,5.4 1.5,5 1.5,4.9 1.5,4.8 1.5,4.8 1.5,4.9 1.5,5.2 1.5,5.6 1.5,6 1.5,6.3 1.5,6.6 1.5,6.7 1.5,6.9 1.5,7 1.5,7.2 1.5,7.4 1.5,7.6 1.5,8 1.5,8.3 1.5,8.7 1.5,9.7" fill="none" stroke="#000" stroke-width="1.4" stroke-linejoin="round" clip-path="url(#dT2)"/>
<path d="M1429.1,1858.8l1.3-7.7 1.2-7.4 1.2-7 1.3-6.6 1.3-6.4 1.2-6.2 1.2-6 1.3-5.9 1.3-5.7 1.2-5.8 1.2-5.6 1.3-5.6" fill="none" stroke="none" marker-start="url(#m17)" marker-mid="url(#m17)" marker-end="url(#m17)" clip-path="url(#dT2)"/>
<path d="M1445.3,1777.5l0,0" fill="none" stroke="none" marker-start="url(#m1)" marker-mid="url(#m1)" marker-end="url(#m1)" clip-path="url(#dT2)"/>
<path d="M1446.6,1772.3l0,0" fill="none" stroke="none" marker-start="url(#m4)" marker-mid="url(#m4)" marker-end="url(#m4)" clip-path="url(#dT2)"/>
<path d="M1447.8,1767.3l0,0" fill="none" stroke="none" marker-start="url(#m3)" marker-mid="url(#m3)" marker-end="url(#m3)" clip-path="url(#dT2)"/>
<path d="M1449.1,1762.6l0,0" fill="none" stroke="none" marker-start="url(#m5)" marker-mid="url(#m5)" marker-end="url(#m5)" clip-path="url(#dT2)"/>
<path d="M1450.3,1758.2l0,0" fill="none" stroke="none" marker-start="url(#m6)" marker-mid="url(#m6)" marker-end="url(#m6)" clip-path="url(#dT2)"/>
<path d="M1451.6,1754.0l0,0" fill="none" stroke="none" marker-start="url(#m7)" marker-mid="url(#m7)" marker-end="url(#m7)" clip-path="url(#dT2)"/>
<path d="M1452.8,1749.9l0,0" fill="none" stroke="none" marker-start="url(#m8)" marker-mid="url(#m8)" marker-end="url(#m8)" clip-path="url(#dT2)"/>
<path d="M1454.1,1746.0l1.3-4 1.2-4 1.2-4.2 1.3-4.3 1.3-4.4 1.2-4.6 1.2-4.6 1.3-4.6 1.3-4.6 1.2-4.5 1.2-4.4 1.3-4.2 1.3-4.1 1.2-4 1.2-3.9 1.3-3.8 1.3-3.6 1.2-3.6 1.2-3.5 1.3-3.5 1.3-3.3 1.2-3.3 1.2-3.2 1.3-3.2 1.3-3.2 1.2-3.1 1.2-3.1 1.3-3.1 1.3-3" fill="none" stroke="none" marker-start="url(#m9)" marker-mid="url(#m9)" marker-end="url(#m9)" clip-path="url(#dT2)"/>
<path d="M1491.6,1632.0l1.2-3.1 1.3-3 1.3-3.1 1.2-3.1 1.2-3.1 1.3-3 1.3-3.1 1.2-3.1 1.2-3 1.3-3.1 1.3-3 1.2-3 1.2-3 1.3-3 1.3-2.9 1.2-2.8 1.2-2.8 1.3-2.6 1.3-2.5 1.2-2.4 1.2-2.2 1.3-2.1 1.3-1.9 1.2-1.6 1.2-1.5 1.3-1.2 1.3-1 1.2-0.7 1.2-0.4 1.3-0.2 1.3,0.2 1.2,0.5 1.2,0.7 1.3,1 1.3,1.3 1.2,1.5 1.2,1.7 1.3,1.9 1.3,2.1 1.2,2.2 1.2,2.4 1.3,2.5 1.3,2.7 1.2,2.7 1.2,2.8 1.3,2.9 1.3,2.9 1.2,2.9 1.2,3 1.3,2.9 1.3,3 1.2,2.9 1.2,3 1.3,3 1.3,3 1.2,3 1.2,3.1 1.3,3 1.3,3.1 1.2,3.1" fill="none" stroke="none" marker-start="url(#m23)" marker-mid="url(#m23)" marker-end="url(#m23)" clip-path="url(#dT2)"/>
<path d="M1567.8,1634.6l1.3,3.2 1.3,3.1 1.2,3.2 1.2,3.3 1.3,3.2 1.3,3.3 1.2,3.4 1.2,3.3 1.3,3.4 1.3,3.5 1.2,3.5 1.2,3.5 1.3,3.6 1.3,3.7 1.2,3.8 1.2,4 1.3,4 1.3,4.2 1.2,4.3 1.2,4.5 1.3,4.5 1.3,4.7 1.2,4.6 1.2,4.6 1.3,4.4 1.3,4.4 1.2,4.2 1.2,4 1.3,4" fill="none" stroke="none" marker-start="url(#m9)" marker-mid="url(#m9)" marker-end="url(#m9)" clip-path="url(#dT2)"/>
<path d="M1605.3,1750.0l0,0" fill="none" stroke="none" marker-start="url(#m8)" marker-mid="url(#m8)" marker-end="url(#m8)" clip-path="url(#dT2)"/>
<path d="M1606.6,1754.0l0,0" fill="none" stroke="none" marker-start="url(#m7)" marker-mid="url(#m7)" marker-end="url(#m7)" clip-path="url(#dT2)"/>
<path d="M1607.8,1758.2l0,0" fill="none" stroke="none" marker-start="url(#m6)" marker-mid="url(#m6)" marker-end="url(#m6)" clip-path="url(#dT2)"/>
<path d="M1609.1,1762.6l0,0" fill="none" stroke="none" marker-start="url(#m5)" marker-mid="url(#m5)" marker-end="url(#m5)" clip-path="url(#dT2)"/>
<path d="M1610.3,1767.3l0,0" fill="none" stroke="none" marker-start="url(#m3)" marker-mid="url(#m3)" marker-end="url(#m3)" clip-path="url(#dT2)"/>
<path d="M1611.6,1772.3l0,0" fill="none" stroke="none" marker-start="url(#m4)" marker-mid="url(#m4)" marker-end="url(#m4)" clip-path="url(#dT2)"/>
<path d="M1612.8,1777.5l0,0" fill="none" stroke="none" marker-start="url(#m1)" marker-mid="url(#m1)" marker-end="url(#m1)" clip-path="url(#dT2)"/>
<path d="M1614.1,1782.8l1.3,5.6 1.2,5.7 1.2,5.7 1.3,5.8 1.3,6 1.2,6 1.2,6.2 1.3,6.5 1.3,6.6 1.2,6.9 1.2,7.1 1.3,7.5" fill="none" stroke="none" marker-start="url(#m17)" marker-mid="url(#m17)" marker-end="url(#m17)" clip-path="url(#dT2)"/>
<path d="M1418.4,1857.8l1.5-5.6 1.5-7 1.5-7.5 1.5-7.6 1.5-7.5 1.5-7.4 1.5-7.5 1.5-7.4 1.5-7.4 1.5-7.4 1.5-7.4 1.5-7.4 1.5-7.4 1.5-7.4 1.5-7.5 1.5-7.5 1.5-7.6 1.5-7.6 1.5-7.6 1.5-7.7 1.5-7.7 1.5-7.6 1.5-7.5 1.5-7.4 1.5-7.2 1.5-7.1 1.5-6.8 1.5-6.7 1.5-6.6 1.5-6.4 1.5-6.3 1.5-6.1 1.5-6.1 1.5-6 1.5-5.8 1.5-5.7 1.5-5.5 1.5-5.2 1.5-5.1 1.5-4.8 1.5-4.5 1.5-4.2 1.5-3.9 1.5-3.6 1.5-3.1 1.5-2.9 1.5-2.5 1.5-2.4 1.5-2.1 1.5-2 1.5-1.9 1.5-1.8 1.5-1.8 1.5-1.8 1.5-1.9 1.5-1.8 1.5-1.7 1.5-1.5 1.5-1.3 1.5-1 1.5-0.6 1.5-0.4 1.5,0 1.5,0.2 1.5,0.6 1.5,0.7 1.5,1 1.5,1 1.5,1.1 1.5,1.2 1.5,1.1 1.5,1 1.5,0.8 1.5,0.2 1.5-0.3 1.5-0.7 1.5-1.1 1.5-1.2 1.5-1.4 1.5-1.3 1.5-1.1 1.5-0.8 1.5-0.7 1.5-0.3 1.5-0.1 1.5,0.2 1.5,0.5 1.5,0.8 1.5,1.1 1.5,1.5 1.5,1.7 1.5,1.8 1.5,1.9 1.5,1.8 1.5,1.6 1.5,1.6 1.5,1.7 1.5,1.8 1.5,2.1 1.5,2.2 1.5,2.5 1.5,2.8 1.5,3.1 1.5,3.4 1.5,3.8 1.5,4 1.5,4.4 1.5,4.6 1.5,4.9 1.5,5.1 1.5,5.4 1.5,5.5 1.5,5.7 1.5,5.8 1.5,6 1.5,6.1 1.5,6.2 1.5,6.3 1.5,6.5 1.5,6.6 1.5,6.8 1.5,6.9 1.5,7.2 1.5,7.3 1.5,7.5 1.5,7.5 1.5,7.7 1.5,7.6 1.5,7.7 1.5,7.6 1.5,7.5 1.5,7.5 1.5,7.4 1.5,7.5 1.5,7.4 1.5,7.4 1.5,7.5 1.5,7.5 1.5,7.6 1.5,7.6 1.5,7.6 1.5,7.6 1.5,7.4 1.5,7.3 1.5,7.1 1.5,7 1.5,6.6 1.5,7.1" fill="none" stroke="#000" stroke-width="1.4" stroke-linejoin="round" clip-path="url(#dT2)"/>
<path d="M1417.8,1860.3l1.3-5 1.3-5.1 1.2-6 1.2-6.3 1.3-6.3 1.3-6.2 1.2-6.3 1.2-6.2 1.3-6.2 1.3-6.1 1.2-6.2 1.2-6.2 1.3-6.1 1.3-6.2 1.2-6.1 1.2-6.2" fill="none" stroke="none" marker-start="url(#m2)" marker-mid="url(#m2)" marker-end="url(#m2)" clip-path="url(#dT2)"/>
<path d="M1439.1,1757.4l1.3-6.2 1.2-6.3 1.2-6.3 1.3-6.3 1.3-6.3 1.2-6.4 1.2-6.4 1.3-6.4 1.3-6.4 1.2-6.3 1.2-6.2 1.3-6.2 1.3-6.1 1.2-5.9 1.2-5.8 1.3-5.7 1.3-5.6 1.2-5.5 1.2-5.4 1.3-5.2 1.3-5.2 1.2-5.1 1.2-5.1 1.3-5 1.3-4.9 1.2-4.8 1.2-4.6 1.3-4.6 1.3-4.4" fill="none" stroke="none" marker-start="url(#m14)" marker-mid="url(#m14)" marker-end="url(#m14)" clip-path="url(#dT2)"/>
<path d="M1476.6,1588.6l1.2-4.1 1.3-3.9" fill="none" stroke="none" marker-start="url(#m15)" marker-mid="url(#m15)" marker-end="url(#m15)" clip-path="url(#dT2)"/>
<path d="M1480.3,1577.0l1.2-3.5 1.2-3.2" fill="none" stroke="none" marker-start="url(#m10)" marker-mid="url(#m10)" marker-end="url(#m10)" clip-path="url(#dT2)"/>
<path d="M1484.1,1567.3l1.3-2.7 1.2-2.5" fill="none" stroke="none" marker-start="url(#m16)" marker-mid="url(#m16)" marker-end="url(#m16)" clip-path="url(#dT2)"/>
<path d="M1487.8,1559.8l1.3-2.1 1.3-1.9 1.2-1.8 1.2-1.7 1.3-1.6 1.3-1.5 1.2-1.5 1.2-1.5 1.3-1.6 1.3-1.5 1.2-1.5 1.2-1.5 1.3-1.4 1.3-1.3 1.2-1 1.2-0.9" fill="none" stroke="none" marker-start="url(#m28)" marker-mid="url(#m28)" marker-end="url(#m28)" clip-path="url(#dT2)"/>
<path d="M1509.1,1534.8l1.3-0.5 1.2-0.2 1.2,0 1.3,0.2 1.3,0.3 1.2,0.6 1.2,0.7 1.3,0.8 1.3,0.9 1.2,0.9 1.2,1 1.3,0.9 1.3,1 1.2,0.8 1.2,0.5 1.3,0.3 1.3-0.1 1.2-0.5 1.2-0.7 1.3-0.9 1.3-1.1 1.2-1.1 1.2-1.1 1.3-1 1.3-0.9 1.2-0.6 1.2-0.6 1.3-0.3 1.3-0.1 1.2,0 1.2,0.3 1.3,0.5" fill="none" stroke="none" marker-start="url(#m27)" marker-mid="url(#m27)" marker-end="url(#m27)" clip-path="url(#dT2)"/>
<path d="M1550.3,1535.4l1.2,1 1.2,1.1 1.3,1.3 1.3,1.5 1.2,1.6 1.2,1.5 1.3,1.5 1.3,1.4 1.2,1.4 1.2,1.3 1.3,1.4 1.3,1.6 1.2,1.6 1.2,1.9 1.3,2 1.3,2.1" fill="none" stroke="none" marker-start="url(#m28)" marker-mid="url(#m28)" marker-end="url(#m28)" clip-path="url(#dT2)"/>
<path d="M1571.6,1562.0l1.2,2.6 1.3,2.8" fill="none" stroke="none" marker-start="url(#m16)" marker-mid="url(#m16)" marker-end="url(#m16)" clip-path="url(#dT2)"/>
<path d="M1575.3,1570.5l1.2,3.2 1.2,3.5" fill="none" stroke="none" marker-start="url(#m10)" marker-mid="url(#m10)" marker-end="url(#m10)" clip-path="url(#dT2)"/>
<path d="M1579.1,1580.9l1.3,3.9 1.2,4" fill="none" stroke="none" marker-start="url(#m15)" marker-mid="url(#m15)" marker-end="url(#m15)" clip-path="url(#dT2)"/>
<path d="M1582.8,1593.0l1.3,4.4 1.3,4.5 1.2,4.6 1.2,4.8 1.3,4.9 1.3,4.9 1.2,5 1.2,5.1 1.3,5.2 1.3,5.3 1.2,5.3 1.2,5.5 1.3,5.6 1.3,5.7 1.2,5.9 1.2,5.9 1.3,6.1 1.3,6.2 1.2,6.3 1.2,6.3 1.3,6.4 1.3,6.4 1.2,6.4 1.2,6.3 1.3,6.3 1.3,6.3 1.2,6.2 1.2,6.2 1.3,6.2" fill="none" stroke="none" marker-start="url(#m14)" marker-mid="url(#m14)" marker-end="url(#m14)" clip-path="url(#dT2)"/>
<path d="M1620.3,1763.4l1.2,6.1 1.2,6.2 1.3,6.3 1.3,6.3 1.2,6.3 1.2,6.4 1.3,6.3 1.3,6.3 1.2,6.3 1.2,6.1 1.3,6.1 1.3,6 1.2,5.9 1.2,5.7 1.3,5.5 1.3,5.9" fill="none" stroke="none" marker-start="url(#m2)" marker-mid="url(#m2)" marker-end="url(#m2)" clip-path="url(#dT2)"/>
<path d="M751.1,2457.2l1-7.7 1-7.5 1-7.1 1-7 1-6.8 1-6.6 1-6.5 1-6.3 1-6.2 1-6.1 1-6 1-5.9 1-6 1-5.9 1-5.9 1-5.9 1-5.9 1-6 1-5.9 1-6 1-5.9 1-5.9 1-5.9 1-5.9 1-5.8 1-5.7 1-5.7 1-5.6 1-5.6 1-5.4 1-5.4 1-5.3 1-5.1 1-5 1-4.9 1-4.8 1-4.7 1-4.5 1-4.4 1-4.3 1-4.2 1-4.1 1-4 1-3.9 1-3.8 1-3.7 1-3.6 1-3.5 1-3.5 1-3.3 1-3.3 1-3.1 1-3.1 1-3.1 1-2.9 1-2.9 1-2.9 1-2.7 1-2.7 1-2.7 1-2.6 1-2.5 1-2.4 1-2.4 1-2.3 1-2.2 1-2.1 1-2.1 1-2 1-1.9 1-1.8 1-1.7 1-1.5 1-1.5 1-1.2 1-1.1 1-0.8 1-0.7 1-0.4 1-0.1 1,0.1 1,0.4 1,0.7 1,0.8 1,1.1 1,1.2 1,1.4 1,1.6 1,1.7 1,1.8 1,1.9 1,2 1,2.1 1,2.1 1,2.3 1,2.3 1,2.4 1,2.4 1,2.5 1,2.6 1,2.7 1,2.7 1,2.7 1,2.8 1,2.9 1,3 1,3 1,3.1 1,3.1 1,3.3 1,3.3 1,3.4 1,3.5 1,3.6 1,3.7 1,3.8 1,3.9 1,4 1,4.1 1,4.2 1,4.3 1,4.5 1,4.5 1,4.7 1,4.8 1,4.9 1,5.1 1,5.1 1,5.3 1,5.3 1,5.5 1,5.5 1,5.6 1,5.7 1,5.8 1,5.7 1,5.9 1,5.9 1,5.9 1,5.9 1,5.9 1,6 1,5.9 1,6 1,5.9 1,5.9 1,5.9 1,5.9 1,6 1,6 1,6.1 1,6.2 1,6.4 1,6.4 1,6.6 1,6.8 1,6.9 1,7.2 1,7.4 1,7.7" fill="none" stroke="#000" stroke-width="1.6" stroke-linejoin="round" clip-path="url(#dB0)"/>
<path d="M751.1,2457.2l2.2-16.6 2.2-15.5 2.2-14.5 2.2-13.8 2.2-13.4 2.2-13 2.2-13 2.2-13.1 2.2-13.1 2.2-13 2.2-12.9 2.2-12.7 2.2-12.4 2.2-11.9 2.2-11.5 2.2-10.9 2.2-10.3 2.2-9.7 2.2-9.2 2.2-8.7 2.2-8.2 2.2-7.8 2.2-7.4 2.2-6.9 2.2-6.6 2.2-6.3 2.2-6 2.2-5.7 2.2-5.3 2.2-5 2.2-4.6 2.2-4.2 2.2-3.7 2.2-3.1 2.2-2.1 2.2-1.1 2.2,0.2 2.2,1.3 2.2,2.4 2.2,3.3 2.2,3.9 2.2,4.3 2.2,4.8 2.2,5.1 2.2,5.4 2.2,5.8 2.2,6 2.2,6.4 2.2,6.6 2.2,7.1 2.2,7.4 2.2,7.8 2.2,8.4 2.2,8.8 2.2,9.4 2.2,10 2.2,10.5 2.2,11 2.2,11.7 2.2,12 2.2,12.5 2.2,12.7 2.2,12.9 2.2,13 2.2,13.1 2.2,13.1 2.2,13 2.2,13.1 2.2,13.5 2.2,14 2.2,14.8 2.2,15.7" fill="none" stroke="none" marker-start="url(#m29)" marker-mid="url(#m29)" marker-end="url(#m29)" clip-path="url(#dB0)"/>
<path d="M751.1,2469.4l1-7.9 1-7.7 1-7.6 1-7.4 1-7.2 1-7 1-6.9 1-6.7 1-6.5 1-6.4 1-6.2 1-6.1 1-5.9 1-5.8 1-5.7 1-5.5 1-5.4 1-5.3 1-5.2 1-5.2 1-5.1 1-5.2 1-5.2 1-5.3 1-5.3 1-5.5 1-5.5 1-5.6 1-5.5 1-5.5 1-5.4 1-5.3 1-5.2 1-4.9 1-4.9 1-4.7 1-4.6 1-4.5 1-4.4 1-4.3 1-4.2 1-4.2 1-4.1 1-4 1-4 1-4 1-3.9 1-3.7 1-3.7 1-3.6 1-3.5 1-3.4 1-3.3 1-3.1 1-3.1 1-2.9 1-2.8 1-2.8 1-2.6 1-2.6 1-2.5 1-2.5 1-2.4 1-2.4 1-2.3 1-2.4 1-2.3 1-2.3 1-2.4 1-2.4 1-2.4 1-2.5 1-2.6 1-2.8 1-2.8 1-2.7 1-2.5 1-1.9 1-1.4 1-0.4 1,0.5 1,1.4 1,2 1,2.4 1,2.8 1,2.8 1,2.7 1,2.5 1,2.5 1,2.3 1,2.3 1,2.3 1,2.3 1,2.3 1,2.3 1,2.4 1,2.5 1,2.5 1,2.5 1,2.7 1,2.6 1,2.8 1,2.8 1,2.9 1,3 1,3 1,3.1 1,3.3 1,3.3 1,3.3 1,3.5 1,3.6 1,3.6 1,3.8 1,3.8 1,4 1,4 1,4.1 1,4.3 1,4.3 1,4.4 1,4.5 1,4.7 1,4.7 1,4.8 1,5 1,5 1,5.2 1,5.2 1,5.3 1,5.4 1,5.4 1,5.4 1,5.5 1,5.3 1,5.4 1,5.2 1,5.3 1,5.2 1,5.2 1,5.2 1,5.3 1,5.4 1,5.4 1,5.5 1,5.7 1,5.7 1,5.9 1,6.1 1,6.2 1,6.3 1,6.6 1,6.7 1,6.9 1,7.1 1,7.3 1,7.5 1,7.8 1,7.9 1,8.3" fill="none" stroke="#000" stroke-width="1.4" stroke-linejoin="round" clip-path="url(#dB0)"/>
<path d="M751.1,2469.4l1.6-12.6 1.6-12.1 1.6-11.6 1.6-11.3 1.6-10.8 1.6-10.4 1.6-10 1.6-9.6 1.6-9.2 1.6-8.9 1.6-8.6 1.6-8.3 1.6-8.3 1.6-8.2 1.6-8.5 1.6-8.6 1.6-8.8 1.6-8.9 1.6-8.8 1.6-8.5 1.6-8.2 1.6-7.7 1.6-7.5 1.6-7.1 1.6-7 1.6-6.7 1.6-6.6 1.6-6.4 1.6-6.3 1.6-6.1 1.6-5.9 1.6-5.6 1.6-5.4 1.6-5 1.6-4.7 1.6-4.5 1.6-4.2 1.6-4.1 1.6-4 1.6-3.8 1.6-3.7 1.6-3.8 1.6-3.7 1.6-3.8 1.6-4 1.6-4.3 1.6-4.4 1.6-4.2 1.6-3.1 1.6-1.1 1.6,1.2 1.6,3.1 1.6,4.2 1.6,4.5 1.6,4.1 1.6,3.9 1.6,3.7 1.6,3.6 1.6,3.7 1.6,3.8 1.6,4 1.6,4.1 1.6,4.2 1.6,4.4 1.6,4.6 1.6,4.8 1.6,5 1.6,5.2 1.6,5.4 1.6,5.7 1.6,5.9 1.6,6.1 1.6,6.4 1.6,6.6 1.6,6.9 1.6,7.1 1.6,7.4 1.6,7.6 1.6,8 1.6,8.2 1.6,8.4 1.6,8.6 1.6,8.7 1.6,8.6 1.6,8.6 1.6,8.4 1.6,8.3 1.6,8.4 1.6,8.5 1.6,8.6 1.6,8.9 1.6,9.2 1.6,9.6 1.6,9.9 1.6,10.4 1.6,10.8 1.6,11.3 1.6,11.9 1.6,12.4 1.6,13.1" fill="none" stroke="none" marker-start="url(#m9)" marker-mid="url(#m9)" marker-end="url(#m9)" clip-path="url(#dB0)"/>
<path d="M745.9,2152.9l1.5-1.9 1.5-2 1.5-2 1.5-1.9 1.5-2.1 1.5-2 1.5-2 1.5-2 1.5-2 1.5-2 1.5-2 1.5-2 1.5-1.9 1.5-1.9 1.5-1.9 1.5-1.8 1.5-1.8 1.5-1.7 1.5-1.7 1.5-1.6 1.5-1.6 1.5-1.5 1.5-1.4 1.5-1.3 1.5-1.3 1.5-1.1 1.5-1.1 1.5-0.9 1.5-0.9 1.5-0.7 1.5-0.7 1.5-0.5 1.5-0.3 1.5-0.3 1.5-0.1 1.5,0 1.5,0.1 1.5,0.2 1.5,0.4 1.5,0.4 1.5,0.5 1.5,0.6 1.5,0.7 1.5,0.7 1.5,0.8 1.5,0.9 1.5,0.9 1.5,0.9 1.5,1 1.5,0.9 1.5,1.1 1.5,0.9 1.5,0.9 1.5,0.8 1.5,0.6 1.5,0.4 1.5,0.1 1.5-0.3 1.5-0.4 1.5-0.7 1.5-0.8 1.5-1 1.5-1 1.5-1 1.5-0.9 1.5-1 1.5-0.9 1.5-0.9 1.5-0.8 1.5-0.8 1.5-0.7 1.5-0.6 1.5-0.6 1.5-0.5 1.5-0.4 1.5-0.3 1.5-0.2 1.5,0 1.5,0 1.5,0.2 1.5,0.3 1.5,0.4 1.5,0.6 1.5,0.6 1.5,0.8 1.5,0.9 1.5,1 1.5,1.1 1.5,1.2 1.5,1.3 1.5,1.4 1.5,1.4 1.5,1.5 1.5,1.6 1.5,1.6 1.5,1.7 1.5,1.8 1.5,1.8 1.5,1.9 1.5,1.8 1.5,2 1.5,1.9 1.5,2 1.5,2 1.5,2 1.5,2 1.5,2 1.5,2 1.5,2.1 1.5,2 1.5,1.9 1.5,2 1.5,1.9 1.5,1.9" fill="none" stroke="#000" stroke-width="1.4" stroke-linejoin="round" clip-path="url(#dB0)"/>
<path d="M746.1,2152.6l1.3-1.6 1.2-1.6 1.2-1.6 1.3-1.7 1.3-1.6 1.2-1.7 1.2-1.7 1.3-1.7 1.3-1.7 1.2-1.6 1.2-1.7 1.3-1.7 1.3-1.6 1.2-1.7 1.2-1.6 1.3-1.6 1.3-1.6 1.2-1.5 1.2-1.6 1.3-1.5 1.3-1.4 1.2-1.4 1.2-1.4 1.3-1.4 1.3-1.3 1.2-1.2 1.2-1.2 1.3-1.1 1.3-1.1 1.2-1 1.2-1 1.3-0.9 1.3-0.8 1.2-0.8 1.2-0.6 1.3-0.6 1.3-0.5 1.2-0.5 1.2-0.3 1.3-0.3 1.3-0.2 1.2,0 1.2,0 1.3,0.1 1.3,0.1 1.2,0.3 1.2,0.3 1.3,0.4 1.3,0.4 1.2,0.5 1.2,0.5 1.3,0.6 1.3,0.6 1.2,0.7 1.2,0.7 1.3,0.8 1.3,0.7 1.2,0.8 1.2,0.9 1.3,0.8 1.3,0.8 1.2,0.8 1.2,0.8 1.3,0.7 1.3,0.6 1.2,0.5 1.2,0.3 1.3,0.1 1.3-0.1 1.2-0.3 1.2-0.5 1.3-0.6 1.3-0.7 1.2-0.8 1.2-0.8 1.3-0.8 1.3-0.8 1.2-0.9 1.2-0.8 1.3-0.7 1.3-0.8 1.2-0.7 1.2-0.7 1.3-0.6 1.3-0.6 1.2-0.5 1.2-0.5 1.3-0.4 1.3-0.4 1.2-0.3 1.2-0.3 1.3-0.1 1.3-0.1 1.2,0 1.2,0 1.3,0.2 1.3,0.3 1.2,0.3 1.2,0.5 1.3,0.5 1.3,0.6 1.2,0.6 1.2,0.8 1.3,0.8 1.3,0.9 1.2,1 1.2,1 1.3,1.1 1.3,1.1 1.2,1.2 1.2,1.2 1.3,1.3 1.3,1.4 1.2,1.4 1.2,1.4 1.3,1.4 1.3,1.5 1.2,1.6 1.2,1.5 1.3,1.6 1.3,1.6 1.2,1.6 1.2,1.7 1.3,1.6 1.3,1.7 1.2,1.7 1.2,1.6 1.3,1.7 1.3,1.7 1.2,1.7 1.2,1.7 1.3,1.6 1.3,1.7 1.2,1.6 1.2,1.6 1.3,1.6" fill="none" stroke="none" marker-start="url(#m1)" marker-mid="url(#m1)" marker-end="url(#m1)" clip-path="url(#dB0)"/>
<path d="M746.1,2152.6l1.3-1.6 1.2-1.6 1.2-1.6 1.3-1.7 1.3-1.6 1.2-1.7 1.2-1.7 1.3-1.7 1.3-1.7 1.2-1.6 1.2-1.7 1.3-1.7 1.3-1.6 1.2-1.7 1.2-1.6 1.3-1.6 1.3-1.6 1.2-1.5 1.2-1.6 1.3-1.5 1.3-1.4 1.2-1.4 1.2-1.4 1.3-1.4 1.3-1.3 1.2-1.2 1.2-1.2 1.3-1.1 1.3-1.1 1.2-1 1.2-1 1.3-0.9 1.3-0.8 1.2-0.8 1.2-0.6 1.3-0.6 1.3-0.5 1.2-0.5 1.2-0.3 1.3-0.3 1.3-0.2 1.2,0 1.2,0 1.3,0.1 1.3,0.1 1.2,0.3 1.2,0.3 1.3,0.4 1.3,0.4 1.2,0.5 1.2,0.5 1.3,0.6 1.3,0.6 1.2,0.7 1.2,0.7 1.3,0.8 1.3,0.7 1.2,0.8 1.2,0.9 1.3,0.8 1.3,0.8 1.2,0.8 1.2,0.8 1.3,0.7 1.3,0.6 1.2,0.5 1.2,0.3 1.3,0.1 1.3-0.1 1.2-0.3 1.2-0.5 1.3-0.6 1.3-0.7 1.2-0.8 1.2-0.8 1.3-0.8 1.3-0.8 1.2-0.9 1.2-0.8 1.3-0.7 1.3-0.8 1.2-0.7 1.2-0.7 1.3-0.6 1.3-0.6 1.2-0.5 1.2-0.5 1.3-0.4 1.3-0.4 1.2-0.3 1.2-0.3 1.3-0.1 1.3-0.1 1.2,0 1.2,0 1.3,0.2 1.3,0.3 1.2,0.3 1.2,0.5 1.3,0.5 1.3,0.6 1.2,0.6 1.2,0.8 1.3,0.8 1.3,0.9 1.2,1 1.2,1 1.3,1.1 1.3,1.1 1.2,1.2 1.2,1.2 1.3,1.3 1.3,1.4 1.2,1.4 1.2,1.4 1.3,1.4 1.3,1.5 1.2,1.6 1.2,1.5 1.3,1.6 1.3,1.6 1.2,1.6 1.2,1.7 1.3,1.6 1.3,1.7 1.2,1.7 1.2,1.6 1.3,1.7 1.3,1.7 1.2,1.7 1.2,1.7 1.3,1.6 1.3,1.7 1.2,1.6 1.2,1.6 1.3,1.6" fill="none" stroke="none" marker-start="url(#m11)" marker-mid="url(#m11)" marker-end="url(#m11)" clip-path="url(#dB0)"/>
<path d="M655.9,2414.1l1.5-6.3 1.5-6.3 1.5-6.3 1.5-6.2 1.5-6.2 1.5-6.1 1.5-6.1 1.5-6.1 1.5-5.9 1.5-6 1.5-5.9 1.5-5.8 1.5-5.8 1.5-5.7 1.5-5.6 1.5-5.6 1.5-5.5 1.5-5.5 1.5-5.3 1.5-5.3 1.5-5.2 1.5-5.1 1.5-5 1.5-5 1.5-4.8 1.5-4.8 1.5-4.6 1.5-4.6 1.5-4.4 1.5-4.3 1.5-4.3 1.5-4.1 1.5-4.1 1.5-3.9 1.5-3.9 1.5-3.8 1.5-3.7 1.5-3.7 1.5-3.6 1.5-3.5 1.5-3.4 1.5-3.4 1.5-3.4 1.5-3.3 1.5-3.3 1.5-3.2 1.5-3.2 1.5-3.1 1.5-3.1 1.5-3 1.5-3 1.5-3 1.5-2.9 1.5-2.8 1.5-2.8 1.5-2.7 1.5-2.6 1.5-2.6 1.5-2.5 1.5-2.5 1.5-2.4 1.5-2.3 1.5-2.3 1.5-2.2 1.5-2.2 1.5-2.2 1.5-2.2 1.5-2.2 1.5-2.2 1.5-2.2 1.5-2.2 1.5-2.3 1.5-2.2 1.5-2.4 1.5-2.3 1.5-2.3 1.5-2.3 1.5-2.2 1.5-2.2 1.5-2 1.5-1.9 1.5-1.7 1.5-1.5 1.5-1.3 1.5-1.2 1.5-1 1.5-0.8 1.5-0.8 1.5-0.7 1.5-0.7 1.5-0.6 1.5-0.5 1.5-0.5 1.5-0.4 1.5-0.4 1.5-0.2 1.5-0.2 1.5-0.1 1.5,0.1 1.5,0.1 1.5,0.4 1.5,0.4 1.5,0.6 1.5,0.8 1.5,0.8 1.5,1 1.5,1.1 1.5,1.2 1.5,1.2 1.5,1.3 1.5,1.3 1.5,1.2 1.5,1.3 1.5,1.2 1.5,1.1 1.5,0.8 1.5,0.2 1.5-0.3 1.5-0.8 1.5-1.1 1.5-1.3 1.5-1.4 1.5-1.5 1.5-1.4 1.5-1.4 1.5-1.2 1.5-1.1 1.5-1 1.5-0.9 1.5-0.7 1.5-0.6 1.5-0.5 1.5-0.3 1.5-0.3 1.5-0.1 1.5,0 1.5,0 1.5,0.2 1.5,0.3 1.5,0.3 1.5,0.5 1.5,0.5 1.5,0.5 1.5,0.7 1.5,0.6 1.5,0.8 1.5,0.8 1.5,0.9 1.5,1.1 1.5,1.2 1.5,1.4 1.5,1.6 1.5,1.8 1.5,1.9 1.5,2.1 1.5,2.2 1.5,2.2 1.5,2.3 1.5,2.3 1.5,2.4 1.5,2.3 1.5,2.2 1.5,2.2 1.5,2.2 1.5,2.2 1.5,2.2 1.5,2.1 1.5,2.2 1.5,2.2 1.5,2.3 1.5,2.3 1.5,2.3 1.5,2.4 1.5,2.5 1.5,2.5 1.5,2.6 1.5,2.6 1.5,2.7 1.5,2.7 1.5,2.8 1.5,2.8 1.5,2.9 1.5,2.9 1.5,3 1.5,3.1 1.5,3.1 1.5,3.1 1.5,3.2 1.5,3.2 1.5,3.3 1.5,3.3 1.5,3.4 1.5,3.4 1.5,3.5 1.5,3.6 1.5,3.6 1.5,3.7 1.5,3.7 1.5,3.9 1.5,3.9 1.5,4 1.5,4.1 1.5,4.2 1.5,4.3 1.5,4.3 1.5,4.5 1.5,4.6 1.5,4.7 1.5,4.7 1.5,4.9 1.5,4.9 1.5,5.1 1.5,5.1 1.5,5.2 1.5,5.3 1.5,5.4 1.5,5.4 1.5,5.6 1.5,5.6 1.5,5.7 1.5,5.8 1.5,5.8 1.5,5.9 1.5,5.9 1.5,6 1.5,6.1 1.5,6.1 1.5,6.1 1.5,6.2 1.5,6.2 1.5,6.2 1.5,6.2 1.5,6.3 1.5,6.3" fill="none" stroke="#000" stroke-width="1.4" stroke-linejoin="round" clip-path="url(#dB0)"/>
<path d="M657.4,2408.0l1.2-5.2 1.2-5.3 1.3-5.2 1.3-5.1 1.2-5.2 1.2-5.1 1.3-5.1 1.3-5 1.2-5.1 1.2-4.9 1.3-5 1.3-4.9 1.2-4.9 1.2-4.8 1.3-4.8 1.3-4.7 1.2-4.7 1.2-4.6" fill="none" stroke="none" marker-start="url(#m14)" marker-mid="url(#m14)" marker-end="url(#m14)" clip-path="url(#dB0)"/>
<path d="M681.1,2313.8l1.3-4.6 1.2-4.5 1.2-4.4 1.3-4.4 1.3-4.3 1.2-4.3 1.2-4.2 1.3-4.1 1.3-4.1 1.2-4 1.2-4 1.3-3.9 1.3-3.8 1.2-3.7 1.2-3.7 1.3-3.6 1.3-3.6 1.2-3.4 1.2-3.4 1.3-3.3 1.3-3.3 1.2-3.2 1.2-3.2 1.3-3.1 1.3-3 1.2-3.1 1.2-2.9 1.3-2.9 1.3-2.9 1.2-2.8 1.2-2.9 1.3-2.7 1.3-2.8 1.2-2.7 1.2-2.7 1.3-2.6 1.3-2.7 1.2-2.5 1.2-2.6 1.3-2.5 1.3-2.5 1.2-2.5 1.2-2.4 1.3-2.4" fill="none" stroke="none" marker-start="url(#m15)" marker-mid="url(#m15)" marker-end="url(#m15)" clip-path="url(#dB0)"/>
<path d="M737.4,2165.3l1.2-2.3 1.2-2.3 1.3-2.2 1.3-2.2 1.2-2.1 1.2-2.1 1.3-2 1.3-2" fill="none" stroke="none" marker-start="url(#m10)" marker-mid="url(#m10)" marker-end="url(#m10)" clip-path="url(#dB0)"/>
<path d="M748.6,2146.2l1.2-1.9 1.3-1.9 1.3-1.9 1.2-1.8 1.2-1.9 1.3-1.8 1.3-1.8 1.2-1.8" fill="none" stroke="none" marker-start="url(#m16)" marker-mid="url(#m16)" marker-end="url(#m16)" clip-path="url(#dB0)"/>
<path d="M759.9,2129.6l1.3-1.9 1.3-1.8 1.2-1.9 1.2-1.9 1.3-1.9 1.3-2 1.2-1.9 1.2-2" fill="none" stroke="none" marker-start="url(#m28)" marker-mid="url(#m28)" marker-end="url(#m28)" clip-path="url(#dB0)"/>
<path d="M771.1,2112.4l1.3-1.8 1.2-1.9 1.2-1.7 1.3-1.6 1.3-1.6 1.2-1.4 1.2-1.4 1.3-1.1 1.3-1.1 1.2-0.9 1.2-0.8 1.3-0.8 1.3-0.6 1.2-0.6 1.2-0.6 1.3-0.5 1.3-0.5 1.2-0.5 1.2-0.4 1.3-0.4 1.3-0.3 1.2-0.3 1.2-0.2 1.3-0.2 1.3-0.1 1.2,0 1.2,0.1 1.3,0.2 1.3,0.2 1.2,0.4 1.2,0.5 1.3,0.5 1.3,0.7 1.2,0.8 1.2,0.8 1.3,0.9 1.3,1 1.2,1 1.2,1 1.3,1.1 1.3,1 1.2,1.1 1.2,1 1.3,1.1 1.3,0.9 1.2,0.9 1.2,0.6 1.3,0.3 1.3-0.1 1.2-0.5 1.2-0.8 1.3-0.9 1.3-1.1 1.2-1.2 1.2-1.2 1.3-1.2 1.3-1.2 1.2-1.1 1.2-1.1 1.3-0.9 1.3-0.9 1.2-0.7 1.2-0.7 1.3-0.6 1.3-0.5 1.2-0.4 1.2-0.3 1.3-0.3 1.3-0.1 1.2-0.1 1.2,0 1.3,0 1.3,0.1 1.2,0.2 1.2,0.3 1.3,0.3 1.3,0.4 1.2,0.4 1.2,0.4 1.3,0.5 1.3,0.6 1.2,0.5 1.2,0.6 1.3,0.7 1.3,0.7 1.2,0.9 1.2,0.9 1.3,1.1 1.3,1.2 1.2,1.3 1.2,1.4 1.3,1.6 1.3,1.6 1.2,1.8 1.2,1.8 1.3,1.9" fill="none" stroke="none" marker-start="url(#m27)" marker-mid="url(#m27)" marker-end="url(#m27)" clip-path="url(#dB0)"/>
<path d="M892.4,2114.4l1.2,1.9 1.2,1.9 1.3,2 1.3,1.9 1.2,1.9 1.2,1.8 1.3,1.9 1.3,1.8" fill="none" stroke="none" marker-start="url(#m28)" marker-mid="url(#m28)" marker-end="url(#m28)" clip-path="url(#dB0)"/>
<path d="M903.6,2131.3l1.2,1.8 1.3,1.8 1.3,1.8 1.2,1.8 1.2,1.9 1.3,1.9 1.3,1.9 1.2,1.9" fill="none" stroke="none" marker-start="url(#m16)" marker-mid="url(#m16)" marker-end="url(#m16)" clip-path="url(#dB0)"/>
<path d="M914.9,2148.1l1.3,2.1 1.3,2 1.2,2.1 1.2,2.2 1.3,2.2 1.3,2.2 1.2,2.2 1.2,2.3" fill="none" stroke="none" marker-start="url(#m10)" marker-mid="url(#m10)" marker-end="url(#m10)" clip-path="url(#dB0)"/>
<path d="M926.1,2167.8l1.3,2.3 1.2,2.4 1.2,2.5 1.3,2.4 1.3,2.5 1.2,2.6 1.2,2.6 1.3,2.6 1.3,2.6 1.2,2.7 1.2,2.7 1.3,2.7 1.3,2.8 1.2,2.8 1.2,2.8 1.3,2.9 1.3,3 1.2,2.9 1.2,3.1 1.3,3 1.3,3.1 1.2,3.2 1.2,3.2 1.3,3.3 1.3,3.4 1.2,3.4 1.2,3.4 1.3,3.6 1.3,3.6 1.2,3.6 1.2,3.8 1.3,3.8 1.3,3.8 1.2,4 1.2,4 1.3,4 1.3,4.2 1.2,4.2 1.2,4.2 1.3,4.3 1.3,4.4 1.2,4.4 1.2,4.5 1.3,4.5" fill="none" stroke="none" marker-start="url(#m15)" marker-mid="url(#m15)" marker-end="url(#m15)" clip-path="url(#dB0)"/>
<path d="M982.4,2318.2l1.2,4.7 1.2,4.7 1.3,4.8 1.3,4.8 1.2,4.8 1.2,4.9 1.3,4.9 1.3,5 1.2,5 1.2,5.1 1.3,5 1.3,5.1 1.2,5.2 1.2,5.1 1.3,5.2 1.3,5.2 1.2,5.2 1.2,5.2 1.3,5.2 1.3,5.2" fill="none" stroke="none" marker-start="url(#m14)" marker-mid="url(#m14)" marker-end="url(#m14)" clip-path="url(#dB0)"/>
<path d="M825.1,2111.1l1,0.5 1,0.3 1,0.4 1,0.2 1,0.1 1,0.1 1-0.1 1-0.1 1-0.2 1-0.4 1-0.3 1-0.5" fill="none" stroke="none" marker-start="url(#m15)" marker-mid="url(#m15)" marker-end="url(#m15)" clip-path="url(#dB0)"/>
<path d="M1100.5,2457.2l1-7.7 1-7.5 1-7.1 1-7 1-6.8 1-6.6 1-6.5 1-6.3 1-6.2 1-6.1 1-6 1-5.9 1-6 1-5.9 1-5.9 1-5.9 1-5.9 1-6 1-5.9 1-6 1-5.9 1-5.9 1-5.9 1-5.9 1-5.8 1-5.7 1-5.7 1-5.6 1-5.6 1-5.4 1-5.4 1-5.3 1-5.1 1-5 1-4.9 1-4.8 1-4.7 1-4.5 1-4.4 1-4.3 1-4.2 1-4.1 1-4 1-3.9 1-3.8 1-3.7 1-3.6 1-3.5 1-3.5 1-3.3 1-3.3 1-3.1 1-3.1 1-3.1 1-2.9 1-2.9 1-2.9 1-2.7 1-2.7 1-2.7 1-2.6 1-2.5 1-2.4 1-2.4 1-2.3 1-2.2 1-2.1 1-2.1 1-2 1-1.9 1-1.8 1-1.7 1-1.5 1-1.5 1-1.2 1-1.1 1-0.8 1-0.7 1-0.4 1-0.1 1,0.1 1,0.4 1,0.7 1,0.8 1,1.1 1,1.2 1,1.4 1,1.6 1,1.7 1,1.8 1,1.9 1,2 1,2.1 1,2.1 1,2.3 1,2.3 1,2.4 1,2.4 1,2.5 1,2.6 1,2.7 1,2.7 1,2.7 1,2.8 1,2.9 1,3 1,3 1,3.1 1,3.1 1,3.3 1,3.3 1,3.4 1,3.5 1,3.6 1,3.7 1,3.8 1,3.9 1,4 1,4.1 1,4.2 1,4.3 1,4.5 1,4.5 1,4.7 1,4.8 1,4.9 1,5.1 1,5.1 1,5.3 1,5.3 1,5.5 1,5.5 1,5.6 1,5.7 1,5.8 1,5.7 1,5.9 1,5.9 1,5.9 1,5.9 1,5.9 1,6 1,5.9 1,6 1,5.9 1,5.9 1,5.9 1,5.9 1,6 1,6 1,6.1 1,6.2 1,6.4 1,6.4 1,6.6 1,6.8 1,6.9 1,7.2 1,7.4 1,7.7" fill="none" stroke="#000" stroke-width="1.6" stroke-linejoin="round" clip-path="url(#dB1)"/>
<path d="M1100.5,2457.2l2.2-16.6 2.2-15.5 2.2-14.5 2.2-13.8 2.2-13.4 2.2-13 2.2-13 2.2-13.1 2.2-13.1 2.2-13 2.2-12.9 2.2-12.7 2.2-12.4 2.2-11.9 2.2-11.5 2.2-10.9 2.2-10.3 2.2-9.7 2.2-9.2 2.2-8.7 2.2-8.2 2.2-7.8 2.2-7.4 2.2-6.9 2.2-6.6 2.2-6.3 2.2-6 2.2-5.7 2.2-5.3 2.2-5 2.2-4.6 2.2-4.2 2.2-3.7 2.2-3.1 2.2-2.1 2.2-1.1 2.2,0.2 2.2,1.3 2.2,2.4 2.2,3.3 2.2,3.9 2.2,4.3 2.2,4.8 2.2,5.1 2.2,5.4 2.2,5.8 2.2,6 2.2,6.4 2.2,6.6 2.2,7.1 2.2,7.4 2.2,7.8 2.2,8.4 2.2,8.8 2.2,9.4 2.2,10 2.2,10.5 2.2,11 2.2,11.7 2.2,12 2.2,12.5 2.2,12.7 2.2,12.9 2.2,13 2.2,13.1 2.2,13.1 2.2,13 2.2,13.1 2.2,13.5 2.2,14 2.2,14.8 2.2,15.7" fill="none" stroke="none" marker-start="url(#m29)" marker-mid="url(#m29)" marker-end="url(#m29)" clip-path="url(#dB1)"/>
<path d="M1100.5,2469.4l1-7.9 1-7.7 1-7.6 1-7.4 1-7.2 1-7 1-6.9 1-6.7 1-6.5 1-6.4 1-6.2 1-6.1 1-5.9 1-5.8 1-5.7 1-5.5 1-5.4 1-5.3 1-5.2 1-5.2 1-5.1 1-5.2 1-5.2 1-5.3 1-5.3 1-5.5 1-5.5 1-5.6 1-5.5 1-5.5 1-5.4 1-5.3 1-5.2 1-4.9 1-4.9 1-4.7 1-4.6 1-4.5 1-4.4 1-4.3 1-4.2 1-4.2 1-4.1 1-4 1-4 1-4 1-3.9 1-3.7 1-3.7 1-3.6 1-3.5 1-3.4 1-3.3 1-3.1 1-3.1 1-2.9 1-2.8 1-2.8 1-2.6 1-2.6 1-2.5 1-2.5 1-2.4 1-2.4 1-2.3 1-2.4 1-2.3 1-2.3 1-2.4 1-2.4 1-2.4 1-2.5 1-2.6 1-2.8 1-2.8 1-2.7 1-2.5 1-1.9 1-1.4 1-0.4 1,0.5 1,1.4 1,2 1,2.4 1,2.8 1,2.8 1,2.7 1,2.5 1,2.5 1,2.3 1,2.3 1,2.3 1,2.3 1,2.3 1,2.3 1,2.4 1,2.5 1,2.5 1,2.5 1,2.7 1,2.6 1,2.8 1,2.8 1,2.9 1,3 1,3 1,3.1 1,3.3 1,3.3 1,3.3 1,3.5 1,3.6 1,3.6 1,3.8 1,3.8 1,4 1,4 1,4.1 1,4.3 1,4.3 1,4.4 1,4.5 1,4.7 1,4.7 1,4.8 1,5 1,5 1,5.2 1,5.2 1,5.3 1,5.4 1,5.4 1,5.4 1,5.5 1,5.3 1,5.4 1,5.2 1,5.3 1,5.2 1,5.2 1,5.2 1,5.3 1,5.4 1,5.4 1,5.5 1,5.7 1,5.7 1,5.9 1,6.1 1,6.2 1,6.3 1,6.6 1,6.7 1,6.9 1,7.1 1,7.3 1,7.5 1,7.8 1,7.9 1,8.3" fill="none" stroke="#000" stroke-width="1.4" stroke-linejoin="round" clip-path="url(#dB1)"/>
<path d="M1100.5,2469.4l1.6-12.6 1.6-12.1 1.6-11.6 1.6-11.3 1.6-10.8 1.6-10.4 1.6-10 1.6-9.6 1.6-9.2 1.6-8.9 1.6-8.6 1.6-8.3 1.6-8.3 1.6-8.2 1.6-8.5 1.6-8.6 1.6-8.8 1.6-8.9 1.6-8.8 1.6-8.5 1.6-8.2 1.6-7.7 1.6-7.5 1.6-7.1 1.6-7 1.6-6.7 1.6-6.6 1.6-6.4 1.6-6.3 1.6-6.1 1.6-5.9 1.6-5.6 1.6-5.4 1.6-5 1.6-4.7 1.6-4.5 1.6-4.2 1.6-4.1 1.6-4 1.6-3.8 1.6-3.7 1.6-3.8 1.6-3.7 1.6-3.8 1.6-4 1.6-4.3 1.6-4.4 1.6-4.2 1.6-3.1 1.6-1.1 1.6,1.2 1.6,3.1 1.6,4.2 1.6,4.5 1.6,4.1 1.6,3.9 1.6,3.7 1.6,3.6 1.6,3.7 1.6,3.8 1.6,4 1.6,4.1 1.6,4.2 1.6,4.4 1.6,4.6 1.6,4.8 1.6,5 1.6,5.2 1.6,5.4 1.6,5.7 1.6,5.9 1.6,6.1 1.6,6.4 1.6,6.6 1.6,6.9 1.6,7.1 1.6,7.4 1.6,7.6 1.6,8 1.6,8.2 1.6,8.4 1.6,8.6 1.6,8.7 1.6,8.6 1.6,8.6 1.6,8.4 1.6,8.3 1.6,8.4 1.6,8.5 1.6,8.6 1.6,8.9 1.6,9.2 1.6,9.6 1.6,9.9 1.6,10.4 1.6,10.8 1.6,11.3 1.6,11.9 1.6,12.4 1.6,13.1" fill="none" stroke="none" marker-start="url(#m9)" marker-mid="url(#m9)" marker-end="url(#m9)" clip-path="url(#dB1)"/>
<path d="M1095.8,2152.2l1.5-1.9 1.5-1.9 1.5-2 1.5-2 1.5-2 1.5-2 1.5-2.1 1.5-2 1.5-2 1.5-2 1.5-2 1.5-1.9 1.5-1.9 1.5-1.9 1.5-1.9 1.5-1.8 1.5-1.8 1.5-1.7 1.5-1.7 1.5-1.6 1.5-1.5 1.5-1.5 1.5-1.3 1.5-1.4 1.5-1.2 1.5-1.1 1.5-1 1.5-0.9 1.5-0.9 1.5-0.7 1.5-0.5 1.5-0.5 1.5-0.3 1.5-0.3 1.5,0 1.5,0 1.5,0.2 1.5,0.2 1.5,0.4 1.5,0.5 1.5,0.5 1.5,0.6 1.5,0.7 1.5,0.8 1.5,0.8 1.5,0.9 1.5,0.9 1.5,0.9 1.5,1 1.5,1 1.5,1 1.5,0.9 1.5,0.9 1.5,0.7 1.5,0.5 1.5,0.3 1.5,0 1.5-0.3 1.5-0.5 1.5-0.8 1.5-0.8 1.5-1 1.5-1 1.5-1 1.5-1 1.5-0.9 1.5-0.9 1.5-0.9 1.5-0.8 1.5-0.7 1.5-0.7 1.5-0.6 1.5-0.6 1.5-0.4 1.5-0.4 1.5-0.2 1.5-0.2 1.5,0 1.5,0.1 1.5,0.2 1.5,0.3 1.5,0.5 1.5,0.6 1.5,0.7 1.5,0.8 1.5,1 1.5,1 1.5,1.1 1.5,1.2 1.5,1.3 1.5,1.4 1.5,1.5 1.5,1.5 1.5,1.6 1.5,1.7 1.5,1.7 1.5,1.8 1.5,1.8 1.5,1.9 1.5,1.9 1.5,1.9 1.5,2 1.5,2 1.5,1.9 1.5,2.1 1.5,2 1.5,2 1.5,2 1.5,2 1.5,2 1.5,2 1.5,1.9 1.5,2" fill="none" stroke="#000" stroke-width="1.4" stroke-linejoin="round" clip-path="url(#dB1)"/>
<path d="M1095.5,2152.6l1.3-1.6 1.2-1.6 1.2-1.6 1.3-1.7 1.3-1.6 1.2-1.7 1.2-1.7 1.3-1.7 1.3-1.7 1.2-1.6 1.2-1.7 1.3-1.7 1.3-1.6 1.2-1.7 1.2-1.6 1.3-1.6 1.3-1.6 1.2-1.5 1.2-1.6 1.3-1.5 1.3-1.4 1.2-1.4 1.2-1.4 1.3-1.4 1.3-1.3 1.2-1.2 1.2-1.2 1.3-1.1 1.3-1.1 1.2-1 1.2-1 1.3-0.9 1.3-0.8 1.2-0.8 1.2-0.6 1.3-0.6 1.3-0.5 1.2-0.5 1.2-0.3 1.3-0.3 1.3-0.2 1.2,0 1.2,0 1.3,0.1 1.3,0.1 1.2,0.3 1.2,0.3 1.3,0.4 1.3,0.4 1.2,0.5 1.2,0.5 1.3,0.6 1.3,0.6 1.2,0.7 1.2,0.7 1.3,0.8 1.3,0.7 1.2,0.8 1.2,0.9 1.3,0.8 1.3,0.8 1.2,0.8 1.2,0.8 1.3,0.7 1.3,0.6 1.2,0.5 1.2,0.3 1.3,0.1 1.3-0.1 1.2-0.3 1.2-0.5 1.3-0.6 1.3-0.7 1.2-0.8 1.2-0.8 1.3-0.8 1.3-0.8 1.2-0.9 1.2-0.8 1.3-0.7 1.3-0.8 1.2-0.7 1.2-0.7 1.3-0.6 1.3-0.6 1.2-0.5 1.2-0.5 1.3-0.4 1.3-0.4 1.2-0.3 1.2-0.3 1.3-0.1 1.3-0.1 1.2,0 1.2,0 1.3,0.2 1.3,0.3 1.2,0.3 1.2,0.5 1.3,0.5 1.3,0.6 1.2,0.6 1.2,0.8 1.3,0.8 1.3,0.9 1.2,1 1.2,1 1.3,1.1 1.3,1.1 1.2,1.2 1.2,1.2 1.3,1.3 1.3,1.4 1.2,1.4 1.2,1.4 1.3,1.4 1.3,1.5 1.2,1.6 1.2,1.5 1.3,1.6 1.3,1.6 1.2,1.6 1.2,1.7 1.3,1.6 1.3,1.7 1.2,1.7 1.2,1.6 1.3,1.7 1.3,1.7 1.2,1.7 1.2,1.7 1.3,1.6 1.3,1.7 1.2,1.6 1.2,1.6 1.3,1.6" fill="none" stroke="none" marker-start="url(#m1)" marker-mid="url(#m1)" marker-end="url(#m1)" clip-path="url(#dB1)"/>
<path d="M1095.5,2152.6l1.3-1.6 1.2-1.6 1.2-1.6 1.3-1.7 1.3-1.6 1.2-1.7 1.2-1.7 1.3-1.7 1.3-1.7 1.2-1.6 1.2-1.7 1.3-1.7 1.3-1.6 1.2-1.7 1.2-1.6 1.3-1.6 1.3-1.6 1.2-1.5 1.2-1.6 1.3-1.5 1.3-1.4 1.2-1.4 1.2-1.4 1.3-1.4 1.3-1.3 1.2-1.2 1.2-1.2 1.3-1.1 1.3-1.1 1.2-1 1.2-1 1.3-0.9 1.3-0.8 1.2-0.8 1.2-0.6 1.3-0.6 1.3-0.5 1.2-0.5 1.2-0.3 1.3-0.3 1.3-0.2 1.2,0 1.2,0 1.3,0.1 1.3,0.1 1.2,0.3 1.2,0.3 1.3,0.4 1.3,0.4 1.2,0.5 1.2,0.5 1.3,0.6 1.3,0.6 1.2,0.7 1.2,0.7 1.3,0.8 1.3,0.7 1.2,0.8 1.2,0.9 1.3,0.8 1.3,0.8 1.2,0.8 1.2,0.8 1.3,0.7 1.3,0.6 1.2,0.5 1.2,0.3 1.3,0.1 1.3-0.1 1.2-0.3 1.2-0.5 1.3-0.6 1.3-0.7 1.2-0.8 1.2-0.8 1.3-0.8 1.3-0.8 1.2-0.9 1.2-0.8 1.3-0.7 1.3-0.8 1.2-0.7 1.2-0.7 1.3-0.6 1.3-0.6 1.2-0.5 1.2-0.5 1.3-0.4 1.3-0.4 1.2-0.3 1.2-0.3 1.3-0.1 1.3-0.1 1.2,0 1.2,0 1.3,0.2 1.3,0.3 1.2,0.3 1.2,0.5 1.3,0.5 1.3,0.6 1.2,0.6 1.2,0.8 1.3,0.8 1.3,0.9 1.2,1 1.2,1 1.3,1.1 1.3,1.1 1.2,1.2 1.2,1.2 1.3,1.3 1.3,1.4 1.2,1.4 1.2,1.4 1.3,1.4 1.3,1.5 1.2,1.6 1.2,1.5 1.3,1.6 1.3,1.6 1.2,1.6 1.2,1.7 1.3,1.6 1.3,1.7 1.2,1.7 1.2,1.6 1.3,1.7 1.3,1.7 1.2,1.7 1.2,1.7 1.3,1.6 1.3,1.7 1.2,1.6 1.2,1.6 1.3,1.6" fill="none" stroke="none" marker-start="url(#m11)" marker-mid="url(#m11)" marker-end="url(#m11)" clip-path="url(#dB1)"/>
<path d="M1004.3,2418.3l1.5-6.3 1.5-6.3 1.5-6.3 1.5-6.2 1.5-6.2 1.5-6.2 1.5-6.1 1.5-6.1 1.5-6.1 1.5-5.9 1.5-6 1.5-5.8 1.5-5.9 1.5-5.7 1.5-5.7 1.5-5.6 1.5-5.6 1.5-5.4 1.5-5.5 1.5-5.3 1.5-5.2 1.5-5.2 1.5-5.1 1.5-5 1.5-4.9 1.5-4.8 1.5-4.7 1.5-4.6 1.5-4.6 1.5-4.4 1.5-4.3 1.5-4.2 1.5-4.1 1.5-4 1.5-3.9 1.5-3.9 1.5-3.8 1.5-3.7 1.5-3.6 1.5-3.5 1.5-3.5 1.5-3.5 1.5-3.3 1.5-3.4 1.5-3.3 1.5-3.2 1.5-3.2 1.5-3.2 1.5-3.1 1.5-3.1 1.5-3 1.5-3 1.5-2.9 1.5-2.9 1.5-2.8 1.5-2.8 1.5-2.7 1.5-2.6 1.5-2.6 1.5-2.4 1.5-2.5 1.5-2.3 1.5-2.4 1.5-2.2 1.5-2.3 1.5-2.2 1.5-2.2 1.5-2.1 1.5-2.2 1.5-2.2 1.5-2.2 1.5-2.2 1.5-2.3 1.5-2.3 1.5-2.4 1.5-2.3 1.5-2.3 1.5-2.3 1.5-2.2 1.5-2.1 1.5-1.9 1.5-1.9 1.5-1.6 1.5-1.5 1.5-1.2 1.5-1.1 1.5-1 1.5-0.8 1.5-0.8 1.5-0.6 1.5-0.7 1.5-0.5 1.5-0.6 1.5-0.5 1.5-0.4 1.5-0.3 1.5-0.2 1.5-0.2 1.5,0 1.5,0.1 1.5,0.2 1.5,0.4 1.5,0.5 1.5,0.6 1.5,0.8 1.5,1 1.5,1 1.5,1.1 1.5,1.2 1.5,1.3 1.5,1.2 1.5,1.3 1.5,1.3 1.5,1.2 1.5,1.2 1.5,1 1.5,0.6 1.5,0.1 1.5-0.5 1.5-0.9 1.5-1.2 1.5-1.3 1.5-1.5 1.5-1.4 1.5-1.5 1.5-1.3 1.5-1.2 1.5-1.1 1.5-0.9 1.5-0.8 1.5-0.7 1.5-0.6 1.5-0.4 1.5-0.3 1.5-0.2 1.5-0.1 1.5,0 1.5,0.1 1.5,0.2 1.5,0.3 1.5,0.4 1.5,0.4 1.5,0.6 1.5,0.5 1.5,0.7 1.5,0.7 1.5,0.7 1.5,0.9 1.5,0.9 1.5,1.2 1.5,1.2 1.5,1.5 1.5,1.7 1.5,1.8 1.5,2 1.5,2.1 1.5,2.2 1.5,2.3 1.5,2.3 1.5,2.3 1.5,2.3 1.5,2.3 1.5,2.3 1.5,2.2 1.5,2.2 1.5,2.1 1.5,2.2 1.5,2.2 1.5,2.2 1.5,2.2 1.5,2.2 1.5,2.3 1.5,2.4 1.5,2.4 1.5,2.5 1.5,2.5 1.5,2.6 1.5,2.7 1.5,2.7 1.5,2.7 1.5,2.8 1.5,2.9 1.5,2.9 1.5,2.9 1.5,3 1.5,3.1 1.5,3.1 1.5,3.1 1.5,3.2 1.5,3.3 1.5,3.3 1.5,3.3 1.5,3.4 1.5,3.5 1.5,3.5 1.5,3.6 1.5,3.6 1.5,3.7 1.5,3.8 1.5,3.9 1.5,3.9 1.5,4.1 1.5,4.1 1.5,4.2 1.5,4.3 1.5,4.4 1.5,4.5 1.5,4.6 1.5,4.7 1.5,4.8 1.5,4.9 1.5,5 1.5,5.1 1.5,5.1 1.5,5.3 1.5,5.3 1.5,5.4 1.5,5.5 1.5,5.5 1.5,5.7 1.5,5.7 1.5,5.8 1.5,5.8 1.5,6 1.5,5.9 1.5,6 1.5,6.1 1.5,6.1 1.5,6.1 1.5,6.2 1.5,6.2 1.5,6.3 1.5,6.2 1.5,6.3" fill="none" stroke="#000" stroke-width="1.4" stroke-linejoin="round" clip-path="url(#dB1)"/>
<path d="M1005.5,2413.3l1.3-5.3 1.2-5.2 1.2-5.3 1.3-5.2 1.3-5.1 1.2-5.2 1.2-5.1 1.3-5.1 1.3-5 1.2-5.1 1.2-4.9 1.3-5 1.3-4.9 1.2-4.9 1.2-4.8 1.3-4.8 1.3-4.7 1.2-4.7 1.2-4.6" fill="none" stroke="none" marker-start="url(#m14)" marker-mid="url(#m14)" marker-end="url(#m14)" clip-path="url(#dB1)"/>
<path d="M1030.5,2313.8l1.3-4.6 1.2-4.5 1.2-4.4 1.3-4.4 1.3-4.3 1.2-4.3 1.2-4.2 1.3-4.1 1.3-4.1 1.2-4 1.2-4 1.3-3.9 1.3-3.8 1.2-3.7 1.2-3.7 1.3-3.6 1.3-3.6 1.2-3.4 1.2-3.4 1.3-3.3 1.3-3.3 1.2-3.2 1.2-3.2 1.3-3.1 1.3-3 1.2-3.1 1.2-2.9 1.3-2.9 1.3-2.9 1.2-2.8 1.2-2.9 1.3-2.7 1.3-2.8 1.2-2.7 1.2-2.7 1.3-2.6 1.3-2.7 1.2-2.5 1.2-2.6 1.3-2.5 1.3-2.5 1.2-2.5 1.2-2.4 1.3-2.4" fill="none" stroke="none" marker-start="url(#m15)" marker-mid="url(#m15)" marker-end="url(#m15)" clip-path="url(#dB1)"/>
<path d="M1086.8,2165.3l1.2-2.3 1.2-2.3 1.3-2.2 1.3-2.2 1.2-2.1 1.2-2.1 1.3-2 1.3-2" fill="none" stroke="none" marker-start="url(#m10)" marker-mid="url(#m10)" marker-end="url(#m10)" clip-path="url(#dB1)"/>
<path d="M1098.0,2146.2l1.2-1.9 1.3-1.9 1.3-1.9 1.2-1.8 1.2-1.9 1.3-1.8 1.3-1.8 1.2-1.8" fill="none" stroke="none" marker-start="url(#m16)" marker-mid="url(#m16)" marker-end="url(#m16)" clip-path="url(#dB1)"/>
<path d="M1109.2,2129.6l1.3-1.9 1.3-1.8 1.2-1.9 1.2-1.9 1.3-1.9 1.3-2 1.2-1.9 1.2-2" fill="none" stroke="none" marker-start="url(#m28)" marker-mid="url(#m28)" marker-end="url(#m28)" clip-path="url(#dB1)"/>
<path d="M1120.5,2112.4l1.3-1.8 1.2-1.9 1.2-1.7 1.3-1.6 1.3-1.6 1.2-1.4 1.2-1.4 1.3-1.1 1.3-1.1 1.2-0.9 1.2-0.8 1.3-0.8 1.3-0.6 1.2-0.6 1.2-0.6 1.3-0.5 1.3-0.5 1.2-0.5 1.2-0.4 1.3-0.4 1.3-0.3 1.2-0.3 1.2-0.2 1.3-0.2 1.3-0.1 1.2,0 1.2,0.1 1.3,0.2 1.3,0.2 1.2,0.4 1.2,0.5 1.3,0.5 1.3,0.7 1.2,0.8 1.2,0.8 1.3,0.9 1.3,1 1.2,1 1.2,1 1.3,1.1 1.3,1 1.2,1.1 1.2,1 1.3,1.1 1.3,0.9 1.2,0.9 1.2,0.6 1.3,0.3 1.3-0.1 1.2-0.5 1.2-0.8 1.3-0.9 1.3-1.1 1.2-1.2 1.2-1.2 1.3-1.2 1.3-1.2 1.2-1.1 1.2-1.1 1.3-0.9 1.3-0.9 1.2-0.7 1.2-0.7 1.3-0.6 1.3-0.5 1.2-0.4 1.2-0.3 1.3-0.3 1.3-0.1 1.2-0.1 1.2,0 1.3,0 1.3,0.1 1.2,0.2 1.2,0.3 1.3,0.3 1.3,0.4 1.2,0.4 1.2,0.4 1.3,0.5 1.3,0.6 1.2,0.5 1.2,0.6 1.3,0.7 1.3,0.7 1.2,0.9 1.2,0.9 1.3,1.1 1.3,1.2 1.2,1.3 1.2,1.4 1.3,1.6 1.3,1.6 1.2,1.8 1.2,1.8 1.3,1.9" fill="none" stroke="none" marker-start="url(#m27)" marker-mid="url(#m27)" marker-end="url(#m27)" clip-path="url(#dB1)"/>
<path d="M1241.8,2114.4l1.2,1.9 1.2,1.9 1.3,2 1.3,1.9 1.2,1.9 1.2,1.8 1.3,1.9 1.3,1.8" fill="none" stroke="none" marker-start="url(#m28)" marker-mid="url(#m28)" marker-end="url(#m28)" clip-path="url(#dB1)"/>
<path d="M1253.0,2131.3l1.2,1.8 1.3,1.8 1.3,1.8 1.2,1.8 1.2,1.9 1.3,1.9 1.3,1.9 1.2,1.9" fill="none" stroke="none" marker-start="url(#m16)" marker-mid="url(#m16)" marker-end="url(#m16)" clip-path="url(#dB1)"/>
<path d="M1264.2,2148.1l1.3,2.1 1.3,2 1.2,2.1 1.2,2.2 1.3,2.2 1.3,2.2 1.2,2.2 1.2,2.3" fill="none" stroke="none" marker-start="url(#m10)" marker-mid="url(#m10)" marker-end="url(#m10)" clip-path="url(#dB1)"/>
<path d="M1275.5,2167.8l1.3,2.3 1.2,2.4 1.2,2.5 1.3,2.4 1.3,2.5 1.2,2.6 1.2,2.6 1.3,2.6 1.3,2.6 1.2,2.7 1.2,2.7 1.3,2.7 1.3,2.8 1.2,2.8 1.2,2.8 1.3,2.9 1.3,3 1.2,2.9 1.2,3.1 1.3,3 1.3,3.1 1.2,3.2 1.2,3.2 1.3,3.3 1.3,3.4 1.2,3.4 1.2,3.4 1.3,3.6 1.3,3.6 1.2,3.6 1.2,3.8 1.3,3.8 1.3,3.8 1.2,4 1.2,4 1.3,4 1.3,4.2 1.2,4.2 1.2,4.2 1.3,4.3 1.3,4.4 1.2,4.4 1.2,4.5 1.3,4.5" fill="none" stroke="none" marker-start="url(#m15)" marker-mid="url(#m15)" marker-end="url(#m15)" clip-path="url(#dB1)"/>
<path d="M1331.8,2318.2l1.2,4.7 1.2,4.7 1.3,4.8 1.3,4.8 1.2,4.8 1.2,4.9 1.3,4.9 1.3,5 1.2,5 1.2,5.1 1.3,5 1.3,5.1 1.2,5.2 1.2,5.1 1.3,5.2 1.3,5.2 1.2,5.2 1.2,5.2 1.3,5.2" fill="none" stroke="none" marker-start="url(#m14)" marker-mid="url(#m14)" marker-end="url(#m14)" clip-path="url(#dB1)"/>
<path d="M1174.5,2111.1l1,0.5 1,0.3 1,0.4 1,0.2 1,0.1 1,0.1 1-0.1 1-0.1 1-0.2 1-0.4 1-0.3 1-0.5" fill="none" stroke="none" marker-start="url(#m15)" marker-mid="url(#m15)" marker-end="url(#m15)" clip-path="url(#dB1)"/>
<path d="M1450.3,3418.7l1-762.4 1-224.4 1-9.4 1-2.4 1-8.9 1-9.7 1-7.4 1-5.7 1-5 1-5.2 1-5.7 1-6.2 1-6.3 1-6.3 1-6.3 1-6.1 1-6 1-5.9 1-5.8 1-5.7 1-5.6 1-5.4 1-5.4 1-5.3 1-5.2 1-5.1 1-5 1-4.9 1-4.8 1-4.8 1-4.7 1-4.6 1-4.6 1-4.5 1-4.4 1-4.4 1-4.4 1-4.2 1-4.3 1-4.1 1-4.1 1-4.1 1-3.9 1-3.9 1-3.9 1-3.8 1-3.7 1-3.6 1-3.5 1-3.5 1-3.4 1-3.3 1-3.2 1-3.1 1-3 1-3 1-2.8 1-2.8 1-2.6 1-2.6 1-2.4 1-2.4 1-2.2 1-2.1 1-2 1-1.9 1-1.8 1-1.6 1-1.6 1-1.4 1-1.3 1-1.1 1-1.1 1-0.8 1-0.8 1-0.6 1-0.5 1-0.3 1-0.2 1-0.1 1,0.1 1,0.2 1,0.4 1,0.6 1,0.6 1,0.8 1,0.9 1,1.1 1,1.2 1,1.3 1,1.5 1,1.5 1,1.7 1,1.8 1,1.9 1,2 1,2.1 1,2.2 1,2.4 1,2.4 1,2.5 1,2.7 1,2.7 1,2.8 1,2.9 1,2.9 1,3.1 1,3.2 1,3.2 1,3.3 1,3.4 1,3.4 1,3.6 1,3.6 1,3.7 1,3.8 1,3.9 1,3.9 1,4 1,4.1 1,4.1 1,4.2 1,4.3 1,4.4 1,4.5 1,4.5 1,4.5 1,4.7 1,4.7 1,4.8 1,4.8 1,5 1,5 1,5 1,5.2 1,5.2 1,5.3 1,5.4 1,5.5 1,5.6 1,5.7 1,5.7 1,5.9 1,5.9 1,6 1,6.1 1,6 1,6.1 1,6.1 1,6.2 1,6.1 1,6 1,6.1 1,5.9 1,5.9 1,5.8 1,5.7 1,12.5 1,98.1 1,305.2" fill="none" stroke="#000" stroke-width="1.6" stroke-linejoin="round" clip-path="url(#dB2)"/>
<path d="M1450.3,3418.7l2.4-998.6 2.4-6.9 2.4-20.4 2.4-12.5 2.4-14 2.4-15.2 2.4-14.6 2.4-14.1 2.4-13.4 2.4-12.8 2.4-12.3 2.4-11.8 2.4-11.3 2.4-11 2.4-10.6 2.4-10.3 2.4-10 2.4-9.6 2.4-9.3 2.4-8.8 2.4-8.4 2.4-7.9 2.4-7.3 2.4-6.9 2.4-6.3" fill="none" stroke="none" marker-start="url(#m29)" marker-mid="url(#m29)" marker-end="url(#m29)" clip-path="url(#dB2)"/>
<path d="M1512.7,2148.7l0,0" fill="none" stroke="none" marker-start="url(#m25)" marker-mid="url(#m25)" marker-end="url(#m25)" clip-path="url(#dB2)"/>
<path d="M1548.7,2151.1l2.4,5.8 2.4,6.4 2.4,6.9 2.4,7.5 2.4,7.8 2.4,8.4 2.4,8.8 2.4,9.2 2.4,9.7 2.4,10.1 2.4,10.5 2.4,10.9 2.4,11.3 2.4,11.7 2.4,12.1 2.4,12.5 2.4,13.1 2.4,13.6 2.4,14.1 2.4,14.5 2.4,14.6 2.4,14.7 2.4,14.5 2.4,14 2.4,40.4" fill="none" stroke="none" marker-start="url(#m29)" marker-mid="url(#m29)" marker-end="url(#m29)" clip-path="url(#dB2)"/>
<path d="M1511.3,2152.0l0,0" fill="none" stroke="none" marker-start="url(#m18)" marker-mid="url(#m18)" marker-end="url(#m18)" clip-path="url(#dB2)"/>
<path d="M1512.3,2149.6l0,0" fill="none" stroke="none" marker-start="url(#m17)" marker-mid="url(#m17)" marker-end="url(#m17)" clip-path="url(#dB2)"/>
<path d="M1513.3,2147.4l0,0" fill="none" stroke="none" marker-start="url(#m22)" marker-mid="url(#m22)" marker-end="url(#m22)" clip-path="url(#dB2)"/>
<path d="M1514.3,2145.3l0,0" fill="none" stroke="none" marker-start="url(#m1)" marker-mid="url(#m1)" marker-end="url(#m1)" clip-path="url(#dB2)"/>
<path d="M1515.3,2143.3l0,0" fill="none" stroke="none" marker-start="url(#m3)" marker-mid="url(#m3)" marker-end="url(#m3)" clip-path="url(#dB2)"/>
<path d="M1516.3,2141.4l0,0" fill="none" stroke="none" marker-start="url(#m5)" marker-mid="url(#m5)" marker-end="url(#m5)" clip-path="url(#dB2)"/>
<path d="M1517.3,2139.6l0,0" fill="none" stroke="none" marker-start="url(#m6)" marker-mid="url(#m6)" marker-end="url(#m6)" clip-path="url(#dB2)"/>
<path d="M1518.3,2138.0l1-1.6" fill="none" stroke="none" marker-start="url(#m7)" marker-mid="url(#m7)" marker-end="url(#m7)" clip-path="url(#dB2)"/>
<path d="M1520.3,2135.0l1-1.3 1-1.1 1-1.1" fill="none" stroke="none" marker-start="url(#m8)" marker-mid="url(#m8)" marker-end="url(#m8)" clip-path="url(#dB2)"/>
<path d="M1524.3,2130.7l1-0.8 1-0.6 1-0.5" fill="none" stroke="none" marker-start="url(#m9)" marker-mid="url(#m9)" marker-end="url(#m9)" clip-path="url(#dB2)"/>
<path d="M1528.3,2128.5l1-0.2 1-0.1 1,0.1 1,0.2" fill="none" stroke="none" marker-start="url(#m23)" marker-mid="url(#m23)" marker-end="url(#m23)" clip-path="url(#dB2)"/>
<path d="M1533.3,2128.9l1,0.6 1,0.6 1,0.8" fill="none" stroke="none" marker-start="url(#m9)" marker-mid="url(#m9)" marker-end="url(#m9)" clip-path="url(#dB2)"/>
<path d="M1537.3,2131.8l1,1.1 1,1.2 1,1.3" fill="none" stroke="none" marker-start="url(#m8)" marker-mid="url(#m8)" marker-end="url(#m8)" clip-path="url(#dB2)"/>
<path d="M1541.3,2136.9l1,1.5" fill="none" stroke="none" marker-start="url(#m7)" marker-mid="url(#m7)" marker-end="url(#m7)" clip-path="url(#dB2)"/>
<path d="M1543.3,2140.1l0,0" fill="none" stroke="none" marker-start="url(#m6)" marker-mid="url(#m6)" marker-end="url(#m6)" clip-path="url(#dB2)"/>
<path d="M1544.3,2141.9l0,0" fill="none" stroke="none" marker-start="url(#m5)" marker-mid="url(#m5)" marker-end="url(#m5)" clip-path="url(#dB2)"/>
<path d="M1545.3,2143.8l0,0" fill="none" stroke="none" marker-start="url(#m3)" marker-mid="url(#m3)" marker-end="url(#m3)" clip-path="url(#dB2)"/>
<path d="M1546.3,2145.8l0,0" fill="none" stroke="none" marker-start="url(#m1)" marker-mid="url(#m1)" marker-end="url(#m1)" clip-path="url(#dB2)"/>
<path d="M1547.3,2147.9l0,0" fill="none" stroke="none" marker-start="url(#m22)" marker-mid="url(#m22)" marker-end="url(#m22)" clip-path="url(#dB2)"/>
<path d="M1548.3,2150.1l0,0" fill="none" stroke="none" marker-start="url(#m17)" marker-mid="url(#m17)" marker-end="url(#m17)" clip-path="url(#dB2)"/>
<path d="M1549.3,2152.5l0,0" fill="none" stroke="none" marker-start="url(#m18)" marker-mid="url(#m18)" marker-end="url(#m18)" clip-path="url(#dB2)"/>
<path d="M1355.4,2424.8l1.5-8.1 1.5-7.8 1.5-7.7 1.5-7.5 1.5-7.3 1.5-7.1 1.5-6.9 1.5-6.7 1.5-6.6 1.5-6.3 1.5-6.2 1.5-6.1 1.5-5.8 1.5-5.8 1.5-5.5 1.5-5.4 1.5-5.3 1.5-5.2 1.5-5 1.5-4.8 1.5-4.8 1.5-4.6 1.5-4.5 1.5-4.4 1.5-4.3 1.5-4.2 1.5-4.1 1.5-4 1.5-3.9 1.5-3.8 1.5-3.8 1.5-3.6 1.5-3.6 1.5-3.5 1.5-3.5 1.5-3.4 1.5-3.3 1.5-3.3 1.5-3.2 1.5-3.2 1.5-3.2 1.5-3.1 1.5-3.1 1.5-3.1 1.5-3.1 1.5-3 1.5-3 1.5-3 1.5-3.1 1.5-3 1.5-3 1.5-3.1 1.5-3 1.5-3.1 1.5-3.1 1.5-3.1 1.5-3.2 1.5-3.2 1.5-3.2 1.5-3.2 1.5-3.2 1.5-3.1 1.5-3.1 1.5-3 1.5-3 1.5-2.8 1.5-2.8 1.5-2.6 1.5-2.5 1.5-2.4 1.5-2.3 1.5-2.1 1.5-2.1 1.5-2 1.5-1.9 1.5-1.8 1.5-1.7 1.5-1.7 1.5-1.5 1.5-1.5 1.5-1.4 1.5-1.3 1.5-1.2 1.5-1.2 1.5-1.1 1.5-0.9 1.5-1 1.5-0.8 1.5-0.7 1.5-0.7 1.5-0.6 1.5-0.5 1.5-0.4 1.5-0.3 1.5-0.3 1.5-0.2 1.5-0.1 1.5,0 1.5,0.1 1.5,0.1 1.5,0.2 1.5,0.3 1.5,0.4 1.5,0.5 1.5,0.5 1.5,0.7 1.5,0.7 1.5,0.8 1.5,0.8 1.5,0.8 1.5,0.8 1.5,0.7 1.5,0.7 1.5,0.6 1.5,0.4 1.5,0.2 1.5,0.1 1.5-0.2 1.5-0.3 1.5-0.5 1.5-0.6 1.5-0.7 1.5-0.8 1.5-0.8 1.5-0.8 1.5-0.8 1.5-0.7 1.5-0.7 1.5-0.6 1.5-0.5 1.5-0.4 1.5-0.4 1.5-0.3 1.5-0.2 1.5-0.1 1.5,0 1.5,0 1.5,0.1 1.5,0.2 1.5,0.3 1.5,0.4 1.5,0.4 1.5,0.6 1.5,0.6 1.5,0.7 1.5,0.8 1.5,0.9 1.5,1 1.5,1 1.5,1.2 1.5,1.2 1.5,1.3 1.5,1.4 1.5,1.5 1.5,1.6 1.5,1.7 1.5,1.8 1.5,1.9 1.5,1.9 1.5,2 1.5,2.2 1.5,2.2 1.5,2.3 1.5,2.5 1.5,2.5 1.5,2.6 1.5,2.7 1.5,2.8 1.5,2.8 1.5,3 1.5,3 1.5,3 1.5,3.1 1.5,3.1 1.5,3.1 1.5,3.1 1.5,3.2 1.5,3.1 1.5,3.1 1.5,3.1 1.5,3 1.5,3.1 1.5,3.1 1.5,3.1 1.5,3 1.5,3.1 1.5,3.1 1.5,3.1 1.5,3.1 1.5,3.1 1.5,3.1 1.5,3.2 1.5,3.1 1.5,3.2 1.5,3.2 1.5,3.3 1.5,3.2 1.5,3.3 1.5,3.4 1.5,3.4 1.5,3.4 1.5,3.6 1.5,3.6 1.5,3.7 1.5,3.8 1.5,3.8 1.5,4 1.5,4.2 1.5,4.2 1.5,4.4 1.5,4.5 1.5,4.7 1.5,4.8 1.5,5.1 1.5,5.2 1.5,5.3 1.5,5.6 1.5,5.7 1.5,5.9 1.5,6.1 1.5,6.2 1.5,6.3 1.5,6.5 1.5,6.6 1.5,6.7 1.5,6.8 1.5,6.8 1.5,7 1.5,7 1.5,7.1 1.5,7.2 1.5,7.2 1.5,7.2" fill="none" stroke="#000" stroke-width="1.4" stroke-linejoin="round" clip-path="url(#dB2)"/>
<path d="M1355.3,2425.4l1.3-6.8 1.2-6.6 1.2-6.5 1.3-6.3 1.3-6.2 1.2-6.1 1.2-5.9 1.3-5.8 1.3-5.7 1.2-5.6 1.2-5.4 1.3-5.3 1.3-5.2 1.2-5.1 1.2-4.9 1.3-4.9 1.3-4.7 1.2-4.7 1.2-4.5 1.3-4.4 1.3-4.4 1.2-4.2 1.2-4.2 1.3-4 1.3-4 1.2-3.9 1.2-3.8 1.3-3.7 1.3-3.7 1.2-3.5 1.2-3.5 1.3-3.5 1.3-3.3 1.2-3.3 1.2-3.3 1.3-3.2 1.3-3.1 1.2-3.1 1.2-3 1.3-2.9 1.3-3 1.2-2.8 1.2-2.9 1.3-2.8 1.3-2.7 1.2-2.8 1.2-2.7 1.3-2.6 1.3-2.7 1.2-2.6 1.2-2.6 1.3-2.5 1.3-2.6 1.2-2.6 1.2-2.5 1.3-2.5 1.3-2.5 1.2-2.6 1.2-2.5 1.3-2.5 1.3-2.5 1.2-2.5 1.2-2.6 1.3-2.5 1.3-2.6 1.2-2.6 1.2-2.6 1.3-2.6 1.3-2.7 1.2-2.6 1.2-2.7 1.3-2.7 1.3-2.6 1.2-2.7 1.2-2.6 1.3-2.5 1.3-2.5 1.2-2.5 1.2-2.4 1.3-2.3 1.3-2.2 1.2-2.2 1.2-2 1.3-2 1.3-1.9 1.2-1.9 1.2-1.8 1.3-1.7 1.3-1.6 1.2-1.6 1.2-1.5 1.3-1.4 1.3-1.4 1.2-1.4 1.2-1.3" fill="none" stroke="none" marker-start="url(#m8)" marker-mid="url(#m8)" marker-end="url(#m8)" clip-path="url(#dB2)"/>
<path d="M1475.3,2111.8l1.3-1.2 1.2-1.1 1.2-1 1.3-1.1 1.3-0.9 1.2-0.9 1.2-0.8" fill="none" stroke="none" marker-start="url(#m7)" marker-mid="url(#m7)" marker-end="url(#m7)" clip-path="url(#dB2)"/>
<path d="M1485.3,2104.0l1.3-0.7 1.2-0.7 1.2-0.6 1.3-0.5 1.3-0.5 1.2-0.5 1.2-0.4 1.3-0.3" fill="none" stroke="none" marker-start="url(#m6)" marker-mid="url(#m6)" marker-end="url(#m6)" clip-path="url(#dB2)"/>
<path d="M1496.5,2099.5l0,0" fill="none" stroke="none" marker-start="url(#m3)" marker-mid="url(#m3)" marker-end="url(#m3)" clip-path="url(#dB2)"/>
<path d="M1497.8,2099.3l0,0" fill="none" stroke="none" marker-start="url(#m4)" marker-mid="url(#m4)" marker-end="url(#m4)" clip-path="url(#dB2)"/>
<path d="M1499.0,2099.2l0,0" fill="none" stroke="none" marker-start="url(#m1)" marker-mid="url(#m1)" marker-end="url(#m1)" clip-path="url(#dB2)"/>
<path d="M1500.3,2099.1l0,0" fill="none" stroke="none" marker-start="url(#m22)" marker-mid="url(#m22)" marker-end="url(#m22)" clip-path="url(#dB2)"/>
<path d="M1501.5,2099.0l0,0" fill="none" stroke="none" marker-start="url(#m17)" marker-mid="url(#m17)" marker-end="url(#m17)" clip-path="url(#dB2)"/>
<path d="M1502.8,2099.0l0,0" fill="none" stroke="none" marker-start="url(#m21)" marker-mid="url(#m21)" marker-end="url(#m21)" clip-path="url(#dB2)"/>
<path d="M1504.0,2099.1l0,0" fill="none" stroke="none" marker-start="url(#m30)" marker-mid="url(#m30)" marker-end="url(#m30)" clip-path="url(#dB2)"/>
<path d="M1505.3,2099.2l0,0" fill="none" stroke="none" marker-start="url(#m18)" marker-mid="url(#m18)" marker-end="url(#m18)" clip-path="url(#dB2)"/>
<path d="M1506.5,2099.4l0,0" fill="none" stroke="none" marker-start="url(#m20)" marker-mid="url(#m20)" marker-end="url(#m20)" clip-path="url(#dB2)"/>
<path d="M1554.0,2099.5l0,0" fill="none" stroke="none" marker-start="url(#m20)" marker-mid="url(#m20)" marker-end="url(#m20)" clip-path="url(#dB2)"/>
<path d="M1555.3,2099.3l0,0" fill="none" stroke="none" marker-start="url(#m18)" marker-mid="url(#m18)" marker-end="url(#m18)" clip-path="url(#dB2)"/>
<path d="M1556.5,2099.1l0,0" fill="none" stroke="none" marker-start="url(#m30)" marker-mid="url(#m30)" marker-end="url(#m30)" clip-path="url(#dB2)"/>
<path d="M1557.8,2099.0l0,0" fill="none" stroke="none" marker-start="url(#m21)" marker-mid="url(#m21)" marker-end="url(#m21)" clip-path="url(#dB2)"/>
<path d="M1559.0,2099.0l0,0" fill="none" stroke="none" marker-start="url(#m17)" marker-mid="url(#m17)" marker-end="url(#m17)" clip-path="url(#dB2)"/>
<path d="M1560.3,2099.0l0,0" fill="none" stroke="none" marker-start="url(#m22)" marker-mid="url(#m22)" marker-end="url(#m22)" clip-path="url(#dB2)"/>
<path d="M1561.5,2099.0l0,0" fill="none" stroke="none" marker-start="url(#m1)" marker-mid="url(#m1)" marker-end="url(#m1)" clip-path="url(#dB2)"/>
<path d="M1562.8,2099.2l0,0" fill="none" stroke="none" marker-start="url(#m4)" marker-mid="url(#m4)" marker-end="url(#m4)" clip-path="url(#dB2)"/>
<path d="M1564.0,2099.4l0,0" fill="none" stroke="none" marker-start="url(#m3)" marker-mid="url(#m3)" marker-end="url(#m3)" clip-path="url(#dB2)"/>
<path d="M1565.3,2099.6l1.3,0.3 1.2,0.3 1.2,0.5 1.3,0.4 1.3,0.6 1.2,0.6 1.2,0.6 1.3,0.7" fill="none" stroke="none" marker-start="url(#m6)" marker-mid="url(#m6)" marker-end="url(#m6)" clip-path="url(#dB2)"/>
<path d="M1576.5,2104.4l1.2,0.8 1.2,0.9 1.3,1 1.3,1 1.2,1.1 1.2,1.1 1.3,1.2" fill="none" stroke="none" marker-start="url(#m7)" marker-mid="url(#m7)" marker-end="url(#m7)" clip-path="url(#dB2)"/>
<path d="M1586.5,2112.8l1.2,1.3 1.2,1.4 1.3,1.5 1.3,1.5 1.2,1.6 1.2,1.6 1.3,1.7 1.3,1.8 1.2,1.8 1.2,1.9 1.3,2 1.3,2 1.2,2.1 1.2,2.2 1.3,2.2 1.3,2.3 1.2,2.3 1.2,2.4 1.3,2.5 1.3,2.5 1.2,2.5 1.2,2.5 1.3,2.6 1.3,2.6 1.2,2.6 1.2,2.6 1.3,2.6 1.3,2.6 1.2,2.6 1.2,2.6 1.3,2.6 1.3,2.5 1.2,2.6 1.2,2.5 1.3,2.6 1.3,2.6 1.2,2.5 1.2,2.6 1.3,2.6 1.3,2.5 1.2,2.6 1.2,2.6 1.3,2.6 1.3,2.6 1.2,2.6 1.2,2.7 1.3,2.6 1.3,2.7 1.2,2.6 1.2,2.7 1.3,2.7 1.3,2.8 1.2,2.7 1.2,2.8 1.3,2.9 1.3,2.8 1.2,2.9 1.2,3 1.3,3 1.3,3.1 1.2,3.2 1.2,3.2 1.3,3.3 1.3,3.4 1.2,3.5 1.2,3.5 1.3,3.7 1.3,3.8 1.2,3.8 1.2,4 1.3,4.1 1.3,4.2 1.2,4.3 1.2,4.5 1.3,4.5 1.3,4.7 1.2,4.9 1.2,4.9 1.3,5.1 1.3,5.1 1.2,5.3 1.2,5.3 1.3,5.4 1.3,5.5 1.2,5.6 1.2,5.7 1.3,5.7 1.3,5.7 1.2,5.9 1.2,5.8 1.3,6 1.3,5.9 1.2,6 1.2,6" fill="none" stroke="none" marker-start="url(#m8)" marker-mid="url(#m8)" marker-end="url(#m8)" clip-path="url(#dB2)"/>
<path d="M1474.0,2113.0l1.3-1.2 1.3-1.2" fill="none" stroke="none" marker-start="url(#m31)" marker-mid="url(#m31)" marker-end="url(#m31)" clip-path="url(#dB2)"/>
<path d="M1477.8,2109.5l1.2-1 1.3-1.1 1.3-0.9 1.2-0.9" fill="none" stroke="none" marker-start="url(#m26)" marker-mid="url(#m26)" marker-end="url(#m26)" clip-path="url(#dB2)"/>
<path d="M1484.0,2104.8l1.3-0.8 1.3-0.7" fill="none" stroke="none" marker-start="url(#m32)" marker-mid="url(#m32)" marker-end="url(#m32)" clip-path="url(#dB2)"/>
<path d="M1487.8,2102.6l1.2-0.6 1.3-0.5" fill="none" stroke="none" marker-start="url(#m11)" marker-mid="url(#m11)" marker-end="url(#m11)" clip-path="url(#dB2)"/>
<path d="M1491.5,2101.0l1.2-0.5" fill="none" stroke="none" marker-start="url(#m33)" marker-mid="url(#m33)" marker-end="url(#m33)" clip-path="url(#dB2)"/>
<path d="M1494.0,2100.1l1.3-0.3" fill="none" stroke="none" marker-start="url(#m34)" marker-mid="url(#m34)" marker-end="url(#m34)" clip-path="url(#dB2)"/>
<path d="M1496.5,2099.5l0,0" fill="none" stroke="none" marker-start="url(#m25)" marker-mid="url(#m25)" marker-end="url(#m25)" clip-path="url(#dB2)"/>
<path d="M1497.8,2099.3l1.2-0.1" fill="none" stroke="none" marker-start="url(#m29)" marker-mid="url(#m29)" marker-end="url(#m29)" clip-path="url(#dB2)"/>
<path d="M1500.3,2099.1l1.3-0.1 1.2,0 1.2,0.1 1.3,0.1 1.3,0.2 1.2,0.2 1.2,0.3" fill="none" stroke="none" marker-start="url(#m12)" marker-mid="url(#m12)" marker-end="url(#m12)" clip-path="url(#dB2)"/>
<path d="M1510.3,2100.2l1.3,0.4 1.2,0.5 1.2,0.5 1.3,0.6 1.3,0.6 1.2,0.7 1.2,0.6 1.3,0.7 1.3,0.7" fill="none" stroke="none" marker-start="url(#m24)" marker-mid="url(#m24)" marker-end="url(#m24)" clip-path="url(#dB2)"/>
<path d="M1522.8,2106.1l1.2,0.6" fill="none" stroke="none" marker-start="url(#m13)" marker-mid="url(#m13)" marker-end="url(#m13)" clip-path="url(#dB2)"/>
<path d="M1525.3,2107.3l1.3,0.4 1.2,0.4" fill="none" stroke="none" marker-start="url(#m2)" marker-mid="url(#m2)" marker-end="url(#m2)" clip-path="url(#dB2)"/>
<path d="M1529.0,2108.3l1.3,0.1 1.3-0.1" fill="none" stroke="none" marker-start="url(#m14)" marker-mid="url(#m14)" marker-end="url(#m14)" clip-path="url(#dB2)"/>
<path d="M1532.8,2108.1l1.2-0.3 1.3-0.4" fill="none" stroke="none" marker-start="url(#m2)" marker-mid="url(#m2)" marker-end="url(#m2)" clip-path="url(#dB2)"/>
<path d="M1536.5,2106.9l1.2-0.5" fill="none" stroke="none" marker-start="url(#m13)" marker-mid="url(#m13)" marker-end="url(#m13)" clip-path="url(#dB2)"/>
<path d="M1539.0,2105.7l1.3-0.6 1.3-0.7 1.2-0.7 1.2-0.6 1.3-0.6 1.3-0.6 1.2-0.5 1.2-0.5 1.3-0.4" fill="none" stroke="none" marker-start="url(#m24)" marker-mid="url(#m24)" marker-end="url(#m24)" clip-path="url(#dB2)"/>
<path d="M1551.5,2100.1l1.2-0.3 1.2-0.3 1.3-0.2 1.3-0.2 1.2-0.1 1.2,0 1.3,0" fill="none" stroke="none" marker-start="url(#m12)" marker-mid="url(#m12)" marker-end="url(#m12)" clip-path="url(#dB2)"/>
<path d="M1561.5,2099.0l1.2,0.2" fill="none" stroke="none" marker-start="url(#m29)" marker-mid="url(#m29)" marker-end="url(#m29)" clip-path="url(#dB2)"/>
<path d="M1564.0,2099.4l0,0" fill="none" stroke="none" marker-start="url(#m25)" marker-mid="url(#m25)" marker-end="url(#m25)" clip-path="url(#dB2)"/>
<path d="M1565.3,2099.6l1.3,0.3" fill="none" stroke="none" marker-start="url(#m34)" marker-mid="url(#m34)" marker-end="url(#m34)" clip-path="url(#dB2)"/>
<path d="M1567.8,2100.2l1.2,0.5" fill="none" stroke="none" marker-start="url(#m33)" marker-mid="url(#m33)" marker-end="url(#m33)" clip-path="url(#dB2)"/>
<path d="M1570.3,2101.1l1.3,0.6 1.2,0.6" fill="none" stroke="none" marker-start="url(#m11)" marker-mid="url(#m11)" marker-end="url(#m11)" clip-path="url(#dB2)"/>
<path d="M1574.0,2102.9l1.3,0.7 1.3,0.8" fill="none" stroke="none" marker-start="url(#m32)" marker-mid="url(#m32)" marker-end="url(#m32)" clip-path="url(#dB2)"/>
<path d="M1577.8,2105.2l1.2,0.9 1.3,1 1.3,1 1.2,1.1" fill="none" stroke="none" marker-start="url(#m26)" marker-mid="url(#m26)" marker-end="url(#m26)" clip-path="url(#dB2)"/>
<path d="M1584.0,2110.3l1.3,1.2 1.3,1.3" fill="none" stroke="none" marker-start="url(#m31)" marker-mid="url(#m31)" marker-end="url(#m31)" clip-path="url(#dB2)"/>
<rect x="657.9" y="1378.6" width="348.4" height="477.1" fill="none" stroke="#000" stroke-width="3.3"/>
<rect x="657.9" y="1944.5" width="348.4" height="477.3" fill="none" stroke="#000" stroke-width="3.3"/>
<rect x="1006.3" y="1378.6" width="348.1" height="477.1" fill="none" stroke="#000" stroke-width="3.3"/>
<rect x="1006.3" y="1944.5" width="348.1" height="477.3" fill="none" stroke="#000" stroke-width="3.3"/>
<rect x="1354.4" y="1378.6" width="349.1" height="477.1" fill="none" stroke="#000" stroke-width="3.3"/>
<rect x="1354.4" y="1944.5" width="349.1" height="477.3" fill="none" stroke="#000" stroke-width="3.3"/>
<text x="722.5" y="1363" font-size="44" font-family="'Liberation Serif','Times New Roman',serif" text-anchor="middle" >-0.05</text>
<text x="832.3" y="1363" font-size="44" font-family="'Liberation Serif','Times New Roman',serif" text-anchor="middle" >0.00</text>
<text x="941" y="1363" font-size="44" font-family="'Liberation Serif','Times New Roman',serif" text-anchor="middle" >0.05</text>
<text x="1072" y="1363" font-size="44" font-family="'Liberation Serif','Times New Roman',serif" text-anchor="middle" >-0.05</text>
<text x="1180.5" y="1363" font-size="44" font-family="'Liberation Serif','Times New Roman',serif" text-anchor="middle" >0.00</text>
<text x="1289.4" y="1363" font-size="44" font-family="'Liberation Serif','Times New Roman',serif" text-anchor="middle" >0.05</text>
<text x="1420" y="1363" font-size="44" font-family="'Liberation Serif','Times New Roman',serif" text-anchor="middle" >-0.05</text>
<text x="1529.1" y="1363" font-size="44" font-family="'Liberation Serif','Times New Roman',serif" text-anchor="middle" >0.00</text>
<text x="1638.5" y="1363" font-size="44" font-family="'Liberation Serif','Times New Roman',serif" text-anchor="middle" >0.05</text>
<text x="645" y="1529.4" font-size="44" font-family="'Liberation Serif','Times New Roman',serif" text-anchor="end" >-0.07</text>
<text x="642" y="1803.6" font-size="44" font-family="'Liberation Serif','Times New Roman',serif" text-anchor="end" >-0.11</text>
<text x="645" y="2096.2" font-size="44" font-family="'Liberation Serif','Times New Roman',serif" text-anchor="end" >-0.07</text>
<text x="642" y="2370.4" font-size="44" font-family="'Liberation Serif','Times New Roman',serif" text-anchor="end" >-0.11</text>
<text x="164.3" y="640.5" font-size="47" font-family="'Liberation Serif','Times New Roman',serif">K<tspan font-size="32" dy="13">1</tspan></text>
<path d="M220,622.8L256.6,614.3L256.6,620.3L304.2,620.3L304.2,625.3L256.6,625.3L256.6,631.3Z"/>
<text x="310.6" y="640.5" font-size="47" font-family="'Liberation Serif','Times New Roman',serif">&#915;</text>
<path d="M433.5,622.8L397,614.3L397,620.3L350.3,620.3L350.3,625.3L397,625.3L397,631.3Z"/>
<text x="433.8" y="640.5" font-size="47" font-family="'Liberation Serif','Times New Roman',serif">K<tspan font-size="32" dy="13">1</tspan><tspan dy="-13">'</tspan></text>
<text x="156" y="1256.4" font-size="47" font-family="'Liberation Serif','Times New Roman',serif">M<tspan font-size="32" dy="13">1</tspan></text>
<path d="M216.4,1239.3L252.9,1230.8L252.9,1236.8L300,1236.8L300,1241.8L252.9,1241.8L252.9,1247.8Z"/>
<text x="311.1" y="1256.4" font-size="47" font-family="'Liberation Serif','Times New Roman',serif">&#915;</text>
<path d="M432.3,1239.3L395.6,1230.8L395.6,1236.8L348,1236.8L348,1241.8L395.6,1241.8L395.6,1247.8Z"/>
<text x="433.9" y="1256.4" font-size="47" font-family="'Liberation Serif','Times New Roman',serif">M<tspan font-size="32" dy="13">1</tspan><tspan dy="-13">'</tspan></text>
<text x="662.3" y="1903.3" font-size="44" font-family="'Liberation Serif','Times New Roman',serif">H<tspan font-size="30" dy="12">1</tspan></text>
<path d="M723.2,1889.7L758,1881.7L758,1887.3L805.8,1887.3L805.8,1892.1L758,1892.1L758,1897.7Z"/>
<text x="819.6" y="1903.3" font-size="44" font-family="'Liberation Serif','Times New Roman',serif">A</text>
<path d="M940.8,1889.7L906.8,1881.7L906.8,1887.3L858.4,1887.3L858.4,1892.1L906.8,1892.1L906.8,1897.7Z"/>
<text x="947.7" y="1903.3" font-size="44" font-family="'Liberation Serif','Times New Roman',serif">H<tspan font-size="30" dy="12">1</tspan><tspan dy="-12">'</tspan></text>
<text x="668.6" y="2470.9" font-size="45" font-family="'Liberation Serif','Times New Roman',serif">L<tspan font-size="31" dy="12">1</tspan></text>
<path d="M722,2456.7L754.2,2448.9L754.2,2454.4L802.6,2454.4L802.6,2459L754.2,2459L754.2,2464.5Z"/>
<text x="819.6" y="2470.9" font-size="45" font-family="'Liberation Serif','Times New Roman',serif">A</text>
<path d="M939.1,2456.7L905.6,2448.9L905.6,2454.4L858.4,2454.4L858.4,2459L905.6,2459L905.6,2464.5Z"/>
<text x="948.9" y="2470.9" font-size="45" font-family="'Liberation Serif','Times New Roman',serif">L<tspan font-size="31" dy="12">1</tspan><tspan dy="-12">'</tspan></text>
<text x="520.4" y="640.5" font-size="47" font-family="'Liberation Serif','Times New Roman',serif">K<tspan font-size="32" dy="13">2</tspan></text>
<path d="M576.1,622.8L612.7,614.3L612.7,620.3L660.3,620.3L660.3,625.3L612.7,625.3L612.7,631.3Z"/>
<text x="666.7" y="640.5" font-size="47" font-family="'Liberation Serif','Times New Roman',serif">&#915;</text>
<path d="M789.6,622.8L753.1,614.3L753.1,620.3L706.4,620.3L706.4,625.3L753.1,625.3L753.1,631.3Z"/>
<text x="789.9" y="640.5" font-size="47" font-family="'Liberation Serif','Times New Roman',serif">K<tspan font-size="32" dy="13">2</tspan><tspan dy="-13">'</tspan></text>
<text x="512.6" y="1256.4" font-size="47" font-family="'Liberation Serif','Times New Roman',serif">M<tspan font-size="32" dy="13">2</tspan></text>
<path d="M573,1239.3L609.5,1230.8L609.5,1236.8L656.6,1236.8L656.6,1241.8L609.5,1241.8L609.5,1247.8Z"/>
<text x="667.7" y="1256.4" font-size="47" font-family="'Liberation Serif','Times New Roman',serif">&#915;</text>
<path d="M788.9,1239.3L752.2,1230.8L752.2,1236.8L704.6,1236.8L704.6,1241.8L752.2,1241.8L752.2,1247.8Z"/>
<text x="790.5" y="1256.4" font-size="47" font-family="'Liberation Serif','Times New Roman',serif">M<tspan font-size="32" dy="13">2</tspan><tspan dy="-13">'</tspan></text>
<text x="1010.5" y="1903.3" font-size="44" font-family="'Liberation Serif','Times New Roman',serif">H<tspan font-size="30" dy="12">2</tspan></text>
<path d="M1071.4,1889.7L1106.2,1881.7L1106.2,1887.3L1154,1887.3L1154,1892.1L1106.2,1892.1L1106.2,1897.7Z"/>
<text x="1167.8" y="1903.3" font-size="44" font-family="'Liberation Serif','Times New Roman',serif">A</text>
<path d="M1289,1889.7L1255,1881.7L1255,1887.3L1206.6,1887.3L1206.6,1892.1L1255,1892.1L1255,1897.7Z"/>
<text x="1295.9" y="1903.3" font-size="44" font-family="'Liberation Serif','Times New Roman',serif">H<tspan font-size="30" dy="12">2</tspan><tspan dy="-12">'</tspan></text>
<text x="1018" y="2470.9" font-size="45" font-family="'Liberation Serif','Times New Roman',serif">L<tspan font-size="31" dy="12">2</tspan></text>
<path d="M1071.4,2456.7L1103.6,2448.9L1103.6,2454.4L1152,2454.4L1152,2459L1103.6,2459L1103.6,2464.5Z"/>
<text x="1169" y="2470.9" font-size="45" font-family="'Liberation Serif','Times New Roman',serif">A</text>
<path d="M1288.5,2456.7L1255,2448.9L1255,2454.4L1207.8,2454.4L1207.8,2459L1255,2459L1255,2464.5Z"/>
<text x="1298.3" y="2470.9" font-size="45" font-family="'Liberation Serif','Times New Roman',serif">L<tspan font-size="31" dy="12">2</tspan><tspan dy="-12">'</tspan></text>
<text x="875.9" y="640.5" font-size="47" font-family="'Liberation Serif','Times New Roman',serif">K<tspan font-size="32" dy="13">3</tspan></text>
<path d="M931.6,622.8L968.2,614.3L968.2,620.3L1015.8,620.3L1015.8,625.3L968.2,625.3L968.2,631.3Z"/>
<text x="1022.2" y="640.5" font-size="47" font-family="'Liberation Serif','Times New Roman',serif">&#915;</text>
<path d="M1145.1,622.8L1108.6,614.3L1108.6,620.3L1061.9,620.3L1061.9,625.3L1108.6,625.3L1108.6,631.3Z"/>
<text x="1145.4" y="640.5" font-size="47" font-family="'Liberation Serif','Times New Roman',serif">K<tspan font-size="32" dy="13">3</tspan><tspan dy="-13">'</tspan></text>
<text x="868.3" y="1256.4" font-size="47" font-family="'Liberation Serif','Times New Roman',serif">M<tspan font-size="32" dy="13">3</tspan></text>
<path d="M928.7,1239.3L965.2,1230.8L965.2,1236.8L1012.3,1236.8L1012.3,1241.8L965.2,1241.8L965.2,1247.8Z"/>
<text x="1023.4" y="1256.4" font-size="47" font-family="'Liberation Serif','Times New Roman',serif">&#915;</text>
<path d="M1144.6,1239.3L1107.9,1230.8L1107.9,1236.8L1060.3,1236.8L1060.3,1241.8L1107.9,1241.8L1107.9,1247.8Z"/>
<text x="1146.2" y="1256.4" font-size="47" font-family="'Liberation Serif','Times New Roman',serif">M<tspan font-size="32" dy="13">3</tspan><tspan dy="-13">'</tspan></text>
<text x="1359.1" y="1903.3" font-size="44" font-family="'Liberation Serif','Times New Roman',serif">H<tspan font-size="30" dy="12">3</tspan></text>
<path d="M1420,1889.7L1454.8,1881.7L1454.8,1887.3L1502.6,1887.3L1502.6,1892.1L1454.8,1892.1L1454.8,1897.7Z"/>
<text x="1516.4" y="1903.3" font-size="44" font-family="'Liberation Serif','Times New Roman',serif">A</text>
<path d="M1637.6,1889.7L1603.6,1881.7L1603.6,1887.3L1555.2,1887.3L1555.2,1892.1L1603.6,1892.1L1603.6,1897.7Z"/>
<text x="1644.5" y="1903.3" font-size="44" font-family="'Liberation Serif','Times New Roman',serif">H<tspan font-size="30" dy="12">3</tspan><tspan dy="-12">'</tspan></text>
<text x="1367.8" y="2470.9" font-size="45" font-family="'Liberation Serif','Times New Roman',serif">L<tspan font-size="31" dy="12">3</tspan></text>
<path d="M1421.2,2456.7L1453.4,2448.9L1453.4,2454.4L1501.8,2454.4L1501.8,2459L1453.4,2459L1453.4,2464.5Z"/>
<text x="1518.8" y="2470.9" font-size="45" font-family="'Liberation Serif','Times New Roman',serif">A</text>
<path d="M1638.3,2456.7L1604.8,2448.9L1604.8,2454.4L1557.6,2454.4L1557.6,2459L1604.8,2459L1604.8,2464.5Z"/>
<text x="1648.1" y="2470.9" font-size="45" font-family="'Liberation Serif','Times New Roman',serif">L<tspan font-size="31" dy="12">3</tspan><tspan dy="-12">'</tspan></text>
<text x="139.2" y="2477.5" font-size="51" font-family="'Liberation Serif','Times New Roman',serif" text-anchor="middle" >&#915;</text>
<text x="342.6" y="2477.5" font-size="51" font-family="'Liberation Serif','Times New Roman',serif" text-anchor="middle" >A</text>
<text x="547.8" y="2477.5" font-size="51" font-family="'Liberation Serif','Times New Roman',serif" text-anchor="middle" >&#915;</text>
<text x="0" y="49.5" font-size="57" font-family="'Liberation Sans',Arial,sans-serif" text-anchor="start" >(a)</text>
<text x="1241" y="51" font-size="57" font-family="'Liberation Sans',Arial,sans-serif" text-anchor="start" >(b)</text>
<text x="1" y="1426" font-size="52" font-family="'Liberation Sans',Arial,sans-serif" text-anchor="start" >(c)</text>
<text x="573" y="1426" font-size="52" font-family="'Liberation Sans',Arial,sans-serif" text-anchor="start" >(d)</text>
<text x="78" y="41.3" font-size="47" font-family="'Liberation Serif','Times New Roman',serif">(<tspan font-family="'Liberation Sans',Arial,sans-serif" font-size="44">&#197;</tspan><tspan font-size="31" dy="-19">-1</tspan><tspan dy="19">)</tspan></text>
<text x="578" y="1363" font-size="44" font-family="'Liberation Serif','Times New Roman',serif">(<tspan font-family="'Liberation Sans',Arial,sans-serif" font-size="41">&#197;</tspan><tspan font-size="29" dy="-18">-1</tspan><tspan dy="18">)</tspan></text>
<text transform="translate(42,615.5) rotate(-90)" font-size="56" font-family="'Liberation Sans',Arial,sans-serif" text-anchor="middle" style="white-space:pre"><tspan font-style="italic">E</tspan> - <tspan font-style="italic">E<tspan font-size="38" dy="11">F</tspan></tspan><tspan dy="-11">  (eV)</tspan></text>
<text transform="translate(62.5,1862.7) rotate(-90)" font-size="52" font-family="'Liberation Sans',Arial,sans-serif" text-anchor="middle" style="white-space:pre"><tspan font-style="italic">E</tspan> - <tspan font-style="italic">E<tspan font-size="35" dy="10">F</tspan></tspan><tspan dy="-10"> (eV)</tspan></text>
<path d="M1350.0,288.0l3.0,5.6a3.5,3.5 0 1 1-6.0,0zM1361.5,232.5l3.0,5.6a3.5,3.5 0 1 1-6.0,0zM1373.0,208.6l3.0,5.6a3.5,3.5 0 1 1-6.0,0zM1384.5,191.7l3.0,5.6a3.5,3.5 0 1 1-6.0,0zM1396.0,178.8l3.0,5.6a3.5,3.5 0 1 1-6.0,0zM1407.5,169.5l3.0,5.6a3.5,3.5 0 1 1-6.0,0zM1419.0,166.1l3.0,5.6a3.5,3.5 0 1 1-6.0,0zM1430.5,165.0l3.0,5.6a3.5,3.5 0 1 1-6.0,0zM1442.0,168.2l3.0,5.6a3.5,3.5 0 1 1-6.0,0zM1453.5,174.7l3.0,5.6a3.5,3.5 0 1 1-6.0,0zM1465.0,183.2l3.0,5.6a3.5,3.5 0 1 1-6.0,0zM1476.5,196.5l3.0,5.6a3.5,3.5 0 1 1-6.0,0zM1488.0,215.6l3.0,5.6a3.5,3.5 0 1 1-6.0,0zM1355.8,251.3l3.0,5.6a3.5,3.5 0 1 1-6.0,0zM1367.2,220.2l3.0,5.6a3.5,3.5 0 1 1-6.0,0zM1378.8,199.7l3.0,5.6a3.5,3.5 0 1 1-6.0,0zM1390.2,184.9l3.0,5.6a3.5,3.5 0 1 1-6.0,0zM1401.8,174.9l3.0,5.6a3.5,3.5 0 1 1-6.0,0zM1413.2,168.5l3.0,5.6a3.5,3.5 0 1 1-6.0,0zM1424.8,165.3l3.0,5.6a3.5,3.5 0 1 1-6.0,0zM1436.2,167.4l3.0,5.6a3.5,3.5 0 1 1-6.0,0zM1447.8,171.6l3.0,5.6a3.5,3.5 0 1 1-6.0,0zM1459.2,179.5l3.0,5.6a3.5,3.5 0 1 1-6.0,0zM1470.8,190.6l3.0,5.6a3.5,3.5 0 1 1-6.0,0zM1482.2,206.5l3.0,5.6a3.5,3.5 0 1 1-6.0,0zM1350.0,288.4l3.0,5.6a3.5,3.5 0 1 1-6.0,0zM1361.5,233.8l3.0,5.6a3.5,3.5 0 1 1-6.0,0zM1373.0,210.4l3.0,5.6a3.5,3.5 0 1 1-6.0,0zM1384.5,193.9l3.0,5.6a3.5,3.5 0 1 1-6.0,0zM1396.0,181.3l3.0,5.6a3.5,3.5 0 1 1-6.0,0zM1407.5,172.3l3.0,5.6a3.5,3.5 0 1 1-6.0,0zM1419.0,169.0l3.0,5.6a3.5,3.5 0 1 1-6.0,0zM1430.5,167.9l3.0,5.6a3.5,3.5 0 1 1-6.0,0zM1442.0,171.1l3.0,5.6a3.5,3.5 0 1 1-6.0,0zM1453.5,177.6l3.0,5.6a3.5,3.5 0 1 1-6.0,0zM1465.0,185.9l3.0,5.6a3.5,3.5 0 1 1-6.0,0zM1476.5,199.0l3.0,5.6a3.5,3.5 0 1 1-6.0,0zM1488.0,217.8l3.0,5.6a3.5,3.5 0 1 1-6.0,0zM1355.8,253.2l3.0,5.6a3.5,3.5 0 1 1-6.0,0zM1367.2,223.1l3.0,5.6a3.5,3.5 0 1 1-6.0,0zM1378.8,203.4l3.0,5.6a3.5,3.5 0 1 1-6.0,0zM1390.2,189.2l3.0,5.6a3.5,3.5 0 1 1-6.0,0zM1401.8,179.6l3.0,5.6a3.5,3.5 0 1 1-6.0,0zM1413.2,173.5l3.0,5.6a3.5,3.5 0 1 1-6.0,0zM1424.8,170.6l3.0,5.6a3.5,3.5 0 1 1-6.0,0zM1436.2,172.6l3.0,5.6a3.5,3.5 0 1 1-6.0,0zM1447.8,176.7l3.0,5.6a3.5,3.5 0 1 1-6.0,0zM1459.2,184.5l3.0,5.6a3.5,3.5 0 1 1-6.0,0zM1470.8,195.2l3.0,5.6a3.5,3.5 0 1 1-6.0,0zM1482.2,210.7l3.0,5.6a3.5,3.5 0 1 1-6.0,0zM1350.0,289.5l3.0,5.6a3.5,3.5 0 1 1-6.0,0zM1361.5,237.3l3.0,5.6a3.5,3.5 0 1 1-6.0,0zM1373.0,214.9l3.0,5.6a3.5,3.5 0 1 1-6.0,0zM1384.5,199.4l3.0,5.6a3.5,3.5 0 1 1-6.0,0zM1396.0,187.5l3.0,5.6a3.5,3.5 0 1 1-6.0,0zM1407.5,179.1l3.0,5.6a3.5,3.5 0 1 1-6.0,0zM1419.0,176.1l3.0,5.6a3.5,3.5 0 1 1-6.0,0zM1430.5,175.2l3.0,5.6a3.5,3.5 0 1 1-6.0,0zM1442.0,178.3l3.0,5.6a3.5,3.5 0 1 1-6.0,0zM1453.5,184.6l3.0,5.6a3.5,3.5 0 1 1-6.0,0zM1465.0,192.6l3.0,5.6a3.5,3.5 0 1 1-6.0,0zM1476.5,205.2l3.0,5.6a3.5,3.5 0 1 1-6.0,0zM1488.0,223.1l3.0,5.6a3.5,3.5 0 1 1-6.0,0zM1355.8,256.6l3.0,5.6a3.5,3.5 0 1 1-6.0,0zM1367.2,228.1l3.0,5.6a3.5,3.5 0 1 1-6.0,0zM1378.8,209.7l3.0,5.6a3.5,3.5 0 1 1-6.0,0zM1390.2,196.6l3.0,5.6a3.5,3.5 0 1 1-6.0,0zM1401.8,187.8l3.0,5.6a3.5,3.5 0 1 1-6.0,0zM1413.2,182.3l3.0,5.6a3.5,3.5 0 1 1-6.0,0zM1424.8,179.7l3.0,5.6a3.5,3.5 0 1 1-6.0,0zM1436.2,181.8l3.0,5.6a3.5,3.5 0 1 1-6.0,0zM1447.8,185.7l3.0,5.6a3.5,3.5 0 1 1-6.0,0zM1459.2,193.1l3.0,5.6a3.5,3.5 0 1 1-6.0,0zM1470.8,203.3l3.0,5.6a3.5,3.5 0 1 1-6.0,0zM1482.2,217.9l3.0,5.6a3.5,3.5 0 1 1-6.0,0zM1350.0,291.2l3.0,5.6a3.5,3.5 0 1 1-6.0,0zM1361.5,242.4l3.0,5.6a3.5,3.5 0 1 1-6.0,0zM1373.0,221.8l3.0,5.6a3.5,3.5 0 1 1-6.0,0zM1384.5,207.6l3.0,5.6a3.5,3.5 0 1 1-6.0,0zM1396.0,196.9l3.0,5.6a3.5,3.5 0 1 1-6.0,0zM1407.5,189.3l3.0,5.6a3.5,3.5 0 1 1-6.0,0zM1419.0,186.8l3.0,5.6a3.5,3.5 0 1 1-6.0,0zM1430.5,186.1l3.0,5.6a3.5,3.5 0 1 1-6.0,0zM1442.0,189.2l3.0,5.6a3.5,3.5 0 1 1-6.0,0zM1453.5,195.2l3.0,5.6a3.5,3.5 0 1 1-6.0,0zM1465.0,202.7l3.0,5.6a3.5,3.5 0 1 1-6.0,0zM1476.5,214.5l3.0,5.6a3.5,3.5 0 1 1-6.0,0zM1488.0,231.2l3.0,5.6a3.5,3.5 0 1 1-6.0,0zM1355.8,261.2l3.0,5.6a3.5,3.5 0 1 1-6.0,0zM1367.2,235.0l3.0,5.6a3.5,3.5 0 1 1-6.0,0zM1378.8,218.5l3.0,5.6a3.5,3.5 0 1 1-6.0,0zM1390.2,206.8l3.0,5.6a3.5,3.5 0 1 1-6.0,0zM1401.8,199.2l3.0,5.6a3.5,3.5 0 1 1-6.0,0zM1413.2,194.5l3.0,5.6a3.5,3.5 0 1 1-6.0,0zM1424.8,192.3l3.0,5.6a3.5,3.5 0 1 1-6.0,0zM1436.2,194.4l3.0,5.6a3.5,3.5 0 1 1-6.0,0zM1447.8,198.2l3.0,5.6a3.5,3.5 0 1 1-6.0,0zM1459.2,205.1l3.0,5.6a3.5,3.5 0 1 1-6.0,0zM1470.8,214.6l3.0,5.6a3.5,3.5 0 1 1-6.0,0zM1482.2,228.0l3.0,5.6a3.5,3.5 0 1 1-6.0,0zM1350.0,293.4l3.0,5.6a3.5,3.5 0 1 1-6.0,0zM1361.5,249.2l3.0,5.6a3.5,3.5 0 1 1-6.0,0zM1373.0,230.8l3.0,5.6a3.5,3.5 0 1 1-6.0,0zM1384.5,218.4l3.0,5.6a3.5,3.5 0 1 1-6.0,0zM1396.0,209.1l3.0,5.6a3.5,3.5 0 1 1-6.0,0zM1407.5,202.8l3.0,5.6a3.5,3.5 0 1 1-6.0,0zM1419.0,200.8l3.0,5.6a3.5,3.5 0 1 1-6.0,0zM1430.5,200.5l3.0,5.6a3.5,3.5 0 1 1-6.0,0zM1442.0,203.4l3.0,5.6a3.5,3.5 0 1 1-6.0,0zM1453.5,209.1l3.0,5.6a3.5,3.5 0 1 1-6.0,0zM1465.0,215.9l3.0,5.6a3.5,3.5 0 1 1-6.0,0zM1476.5,226.6l3.0,5.6a3.5,3.5 0 1 1-6.0,0zM1488.0,241.9l3.0,5.6a3.5,3.5 0 1 1-6.0,0zM1355.8,267.1l3.0,5.6a3.5,3.5 0 1 1-6.0,0zM1367.2,243.7l3.0,5.6a3.5,3.5 0 1 1-6.0,0zM1378.8,229.6l3.0,5.6a3.5,3.5 0 1 1-6.0,0zM1390.2,219.7l3.0,5.6a3.5,3.5 0 1 1-6.0,0zM1401.8,213.5l3.0,5.6a3.5,3.5 0 1 1-6.0,0zM1413.2,209.9l3.0,5.6a3.5,3.5 0 1 1-6.0,0zM1424.8,208.1l3.0,5.6a3.5,3.5 0 1 1-6.0,0zM1436.2,210.3l3.0,5.6a3.5,3.5 0 1 1-6.0,0zM1447.8,213.9l3.0,5.6a3.5,3.5 0 1 1-6.0,0zM1459.2,220.2l3.0,5.6a3.5,3.5 0 1 1-6.0,0zM1470.8,228.7l3.0,5.6a3.5,3.5 0 1 1-6.0,0zM1482.2,240.7l3.0,5.6a3.5,3.5 0 1 1-6.0,0zM1350.0,296.1l3.0,5.6a3.5,3.5 0 1 1-6.0,0zM1361.5,257.4l3.0,5.6a3.5,3.5 0 1 1-6.0,0zM1373.0,241.7l3.0,5.6a3.5,3.5 0 1 1-6.0,0zM1384.5,231.5l3.0,5.6a3.5,3.5 0 1 1-6.0,0zM1396.0,224.1l3.0,5.6a3.5,3.5 0 1 1-6.0,0zM1407.5,219.2l3.0,5.6a3.5,3.5 0 1 1-6.0,0zM1419.0,218.0l3.0,5.6a3.5,3.5 0 1 1-6.0,0zM1430.5,218.0l3.0,5.6a3.5,3.5 0 1 1-6.0,0zM1442.0,220.9l3.0,5.6a3.5,3.5 0 1 1-6.0,0zM1453.5,226.1l3.0,5.6a3.5,3.5 0 1 1-6.0,0zM1465.0,232.1l3.0,5.6a3.5,3.5 0 1 1-6.0,0zM1476.5,241.5l3.0,5.6a3.5,3.5 0 1 1-6.0,0zM1488.0,254.8l3.0,5.6a3.5,3.5 0 1 1-6.0,0zM1355.8,274.1l3.0,5.6a3.5,3.5 0 1 1-6.0,0zM1367.2,254.1l3.0,5.6a3.5,3.5 0 1 1-6.0,0zM1378.8,242.9l3.0,5.6a3.5,3.5 0 1 1-6.0,0zM1390.2,235.2l3.0,5.6a3.5,3.5 0 1 1-6.0,0zM1401.8,230.6l3.0,5.6a3.5,3.5 0 1 1-6.0,0zM1413.2,228.2l3.0,5.6a3.5,3.5 0 1 1-6.0,0zM1424.8,227.1l3.0,5.6a3.5,3.5 0 1 1-6.0,0zM1436.2,229.3l3.0,5.6a3.5,3.5 0 1 1-6.0,0zM1447.8,232.7l3.0,5.6a3.5,3.5 0 1 1-6.0,0zM1459.2,238.3l3.0,5.6a3.5,3.5 0 1 1-6.0,0zM1470.8,245.6l3.0,5.6a3.5,3.5 0 1 1-6.0,0zM1482.2,255.9l3.0,5.6a3.5,3.5 0 1 1-6.0,0zM1350.0,299.3l3.0,5.6a3.5,3.5 0 1 1-6.0,0zM1361.5,267.1l3.0,5.6a3.5,3.5 0 1 1-6.0,0zM1373.0,254.6l3.0,5.6a3.5,3.5 0 1 1-6.0,0zM1384.5,247.0l3.0,5.6a3.5,3.5 0 1 1-6.0,0zM1396.0,241.7l3.0,5.6a3.5,3.5 0 1 1-6.0,0zM1407.5,238.5l3.0,5.6a3.5,3.5 0 1 1-6.0,0zM1419.0,238.1l3.0,5.6a3.5,3.5 0 1 1-6.0,0zM1430.5,238.5l3.0,5.6a3.5,3.5 0 1 1-6.0,0zM1442.0,241.3l3.0,5.6a3.5,3.5 0 1 1-6.0,0zM1453.5,246.0l3.0,5.6a3.5,3.5 0 1 1-6.0,0zM1465.0,251.1l3.0,5.6a3.5,3.5 0 1 1-6.0,0zM1476.5,259.0l3.0,5.6a3.5,3.5 0 1 1-6.0,0zM1488.0,270.1l3.0,5.6a3.5,3.5 0 1 1-6.0,0zM1355.8,282.2l3.0,5.6a3.5,3.5 0 1 1-6.0,0zM1367.2,266.2l3.0,5.6a3.5,3.5 0 1 1-6.0,0zM1378.8,258.2l3.0,5.6a3.5,3.5 0 1 1-6.0,0zM1390.2,253.0l3.0,5.6a3.5,3.5 0 1 1-6.0,0zM1401.8,250.4l3.0,5.6a3.5,3.5 0 1 1-6.0,0zM1413.2,249.5l3.0,5.6a3.5,3.5 0 1 1-6.0,0zM1424.8,249.1l3.0,5.6a3.5,3.5 0 1 1-6.0,0zM1436.2,251.3l3.0,5.6a3.5,3.5 0 1 1-6.0,0zM1447.8,254.5l3.0,5.6a3.5,3.5 0 1 1-6.0,0zM1459.2,259.2l3.0,5.6a3.5,3.5 0 1 1-6.0,0zM1470.8,265.1l3.0,5.6a3.5,3.5 0 1 1-6.0,0zM1482.2,273.5l3.0,5.6a3.5,3.5 0 1 1-6.0,0zM1350.0,302.9l3.0,5.6a3.5,3.5 0 1 1-6.0,0zM1361.5,278.2l3.0,5.6a3.5,3.5 0 1 1-6.0,0zM1373.0,269.3l3.0,5.6a3.5,3.5 0 1 1-6.0,0zM1384.5,264.7l3.0,5.6a3.5,3.5 0 1 1-6.0,0zM1396.0,261.9l3.0,5.6a3.5,3.5 0 1 1-6.0,0zM1407.5,260.6l3.0,5.6a3.5,3.5 0 1 1-6.0,0zM1419.0,261.2l3.0,5.6a3.5,3.5 0 1 1-6.0,0zM1430.5,262.0l3.0,5.6a3.5,3.5 0 1 1-6.0,0zM1442.0,264.7l3.0,5.6a3.5,3.5 0 1 1-6.0,0zM1453.5,268.8l3.0,5.6a3.5,3.5 0 1 1-6.0,0zM1465.0,272.8l3.0,5.6a3.5,3.5 0 1 1-6.0,0zM1476.5,278.9l3.0,5.6a3.5,3.5 0 1 1-6.0,0zM1488.0,287.5l3.0,5.6a3.5,3.5 0 1 1-6.0,0zM1355.8,291.4l3.0,5.6a3.5,3.5 0 1 1-6.0,0zM1367.2,279.8l3.0,5.6a3.5,3.5 0 1 1-6.0,0zM1378.8,275.5l3.0,5.6a3.5,3.5 0 1 1-6.0,0zM1390.2,273.2l3.0,5.6a3.5,3.5 0 1 1-6.0,0zM1401.8,272.7l3.0,5.6a3.5,3.5 0 1 1-6.0,0zM1413.2,273.5l3.0,5.6a3.5,3.5 0 1 1-6.0,0zM1424.8,273.9l3.0,5.6a3.5,3.5 0 1 1-6.0,0zM1436.2,276.2l3.0,5.6a3.5,3.5 0 1 1-6.0,0zM1447.8,279.1l3.0,5.6a3.5,3.5 0 1 1-6.0,0zM1459.2,282.9l3.0,5.6a3.5,3.5 0 1 1-6.0,0zM1470.8,287.3l3.0,5.6a3.5,3.5 0 1 1-6.0,0zM1482.2,293.3l3.0,5.6a3.5,3.5 0 1 1-6.0,0zM1350.0,307.0l3.0,5.6a3.5,3.5 0 1 1-6.0,0zM1361.5,290.6l3.0,5.6a3.5,3.5 0 1 1-6.0,0zM1373.0,285.8l3.0,5.6a3.5,3.5 0 1 1-6.0,0zM1384.5,284.5l3.0,5.6a3.5,3.5 0 1 1-6.0,0zM1396.0,284.4l3.0,5.6a3.5,3.5 0 1 1-6.0,0zM1407.5,285.3l3.0,5.6a3.5,3.5 0 1 1-6.0,0zM1419.0,287.0l3.0,5.6a3.5,3.5 0 1 1-6.0,0zM1430.5,288.4l3.0,5.6a3.5,3.5 0 1 1-6.0,0zM1442.0,290.9l3.0,5.6a3.5,3.5 0 1 1-6.0,0zM1453.5,294.3l3.0,5.6a3.5,3.5 0 1 1-6.0,0zM1465.0,297.2l3.0,5.6a3.5,3.5 0 1 1-6.0,0zM1476.5,301.3l3.0,5.6a3.5,3.5 0 1 1-6.0,0zM1488.0,307.0l3.0,5.6a3.5,3.5 0 1 1-6.0,0zM1355.8,301.6l3.0,5.6a3.5,3.5 0 1 1-6.0,0zM1367.2,295.0l3.0,5.6a3.5,3.5 0 1 1-6.0,0zM1378.8,294.8l3.0,5.6a3.5,3.5 0 1 1-6.0,0zM1390.2,295.7l3.0,5.6a3.5,3.5 0 1 1-6.0,0zM1401.8,297.7l3.0,5.6a3.5,3.5 0 1 1-6.0,0zM1413.2,300.3l3.0,5.6a3.5,3.5 0 1 1-6.0,0zM1424.8,301.6l3.0,5.6a3.5,3.5 0 1 1-6.0,0zM1436.2,303.8l3.0,5.6a3.5,3.5 0 1 1-6.0,0zM1447.8,306.5l3.0,5.6a3.5,3.5 0 1 1-6.0,0zM1459.2,309.2l3.0,5.6a3.5,3.5 0 1 1-6.0,0zM1470.8,311.9l3.0,5.6a3.5,3.5 0 1 1-6.0,0zM1482.2,315.4l3.0,5.6a3.5,3.5 0 1 1-6.0,0zM1350.0,311.5l3.0,5.6a3.5,3.5 0 1 1-6.0,0zM1361.5,304.4l3.0,5.6a3.5,3.5 0 1 1-6.0,0zM1373.0,304.1l3.0,5.6a3.5,3.5 0 1 1-6.0,0zM1384.5,306.4l3.0,5.6a3.5,3.5 0 1 1-6.0,0zM1396.0,309.4l3.0,5.6a3.5,3.5 0 1 1-6.0,0zM1407.5,312.7l3.0,5.6a3.5,3.5 0 1 1-6.0,0zM1419.0,315.5l3.0,5.6a3.5,3.5 0 1 1-6.0,0zM1430.5,317.5l3.0,5.6a3.5,3.5 0 1 1-6.0,0zM1442.0,319.9l3.0,5.6a3.5,3.5 0 1 1-6.0,0zM1453.5,322.6l3.0,5.6a3.5,3.5 0 1 1-6.0,0zM1465.0,324.1l3.0,5.6a3.5,3.5 0 1 1-6.0,0zM1476.5,326.1l3.0,5.6a3.5,3.5 0 1 1-6.0,0zM1488.0,328.6l3.0,5.6a3.5,3.5 0 1 1-6.0,0zM1355.8,312.8l3.0,5.6a3.5,3.5 0 1 1-6.0,0zM1367.2,311.7l3.0,5.6a3.5,3.5 0 1 1-6.0,0zM1378.8,316.0l3.0,5.6a3.5,3.5 0 1 1-6.0,0zM1390.2,320.4l3.0,5.6a3.5,3.5 0 1 1-6.0,0zM1401.8,325.0l3.0,5.6a3.5,3.5 0 1 1-6.0,0zM1413.2,329.6l3.0,5.6a3.5,3.5 0 1 1-6.0,0zM1424.8,332.0l3.0,5.6a3.5,3.5 0 1 1-6.0,0zM1436.2,334.3l3.0,5.6a3.5,3.5 0 1 1-6.0,0zM1447.8,336.6l3.0,5.6a3.5,3.5 0 1 1-6.0,0zM1459.2,338.1l3.0,5.6a3.5,3.5 0 1 1-6.0,0zM1470.8,338.9l3.0,5.6a3.5,3.5 0 1 1-6.0,0zM1482.2,339.7l3.0,5.6a3.5,3.5 0 1 1-6.0,0zM1347.6,314.6l2.9,5.4a3.4,3.4 0 1 1-5.8,0zM1348.1,309.2l2.9,5.4a3.4,3.4 0 1 1-5.8,0zM1348.6,303.7l2.9,5.4a3.4,3.4 0 1 1-5.8,0zM1349.1,298.2l2.9,5.4a3.4,3.4 0 1 1-5.8,0zM1349.6,292.7l2.9,5.4a3.4,3.4 0 1 1-5.8,0zM1350.1,287.3l2.9,5.4a3.4,3.4 0 1 1-5.8,0zM1350.6,281.8l2.9,5.4a3.4,3.4 0 1 1-5.8,0zM1351.3,276.3l2.9,5.4a3.4,3.4 0 1 1-5.8,0zM1352.2,270.9l2.9,5.4a3.4,3.4 0 1 1-5.8,0zM1353.0,265.5l2.9,5.4a3.4,3.4 0 1 1-5.8,0zM1353.9,260.0l2.9,5.4a3.4,3.4 0 1 1-5.8,0zM1354.7,254.6l2.9,5.4a3.4,3.4 0 1 1-5.8,0zM1356.3,249.3l2.9,5.4a3.4,3.4 0 1 1-5.8,0zM1358.0,244.1l2.9,5.4a3.4,3.4 0 1 1-5.8,0zM1359.6,238.8l2.9,5.4a3.4,3.4 0 1 1-5.8,0zM1361.2,233.6l2.9,5.4a3.4,3.4 0 1 1-5.8,0zM1362.9,228.4l2.9,5.4a3.4,3.4 0 1 1-5.8,0zM1365.4,223.5l2.9,5.4a3.4,3.4 0 1 1-5.8,0zM1368.0,218.6l2.9,5.4a3.4,3.4 0 1 1-5.8,0zM1370.5,213.7l2.9,5.4a3.4,3.4 0 1 1-5.8,0zM1373.0,208.8l2.9,5.4a3.4,3.4 0 1 1-5.8,0zM1375.5,203.9l2.9,5.4a3.4,3.4 0 1 1-5.8,0zM1378.7,199.4l2.9,5.4a3.4,3.4 0 1 1-5.8,0zM1382.1,195.1l2.9,5.4a3.4,3.4 0 1 1-5.8,0zM1385.4,190.7l2.9,5.4a3.4,3.4 0 1 1-5.8,0zM1388.8,186.4l2.9,5.4a3.4,3.4 0 1 1-5.8,0zM1392.2,182.1l2.9,5.4a3.4,3.4 0 1 1-5.8,0zM1396.5,178.6l2.9,5.4a3.4,3.4 0 1 1-5.8,0zM1400.8,175.2l2.9,5.4a3.4,3.4 0 1 1-5.8,0zM1405.0,171.7l2.9,5.4a3.4,3.4 0 1 1-5.8,0zM1409.6,168.9l2.9,5.4a3.4,3.4 0 1 1-5.8,0zM1414.9,167.4l2.9,5.4a3.4,3.4 0 1 1-5.8,0zM1420.2,166.0l2.9,5.4a3.4,3.4 0 1 1-5.8,0zM1425.5,164.5l2.9,5.4a3.4,3.4 0 1 1-5.8,0zM1430.8,165.3l2.9,5.4a3.4,3.4 0 1 1-5.8,0zM1436.2,166.8l2.9,5.4a3.4,3.4 0 1 1-5.8,0zM1441.5,168.2l2.9,5.4a3.4,3.4 0 1 1-5.8,0zM1446.6,170.1l2.9,5.4a3.4,3.4 0 1 1-5.8,0zM1451.1,173.3l2.9,5.4a3.4,3.4 0 1 1-5.8,0zM1455.6,176.4l2.9,5.4a3.4,3.4 0 1 1-5.8,0zM1460.1,179.5l2.9,5.4a3.4,3.4 0 1 1-5.8,0zM1464.5,182.8l2.9,5.4a3.4,3.4 0 1 1-5.8,0zM1468.1,187.0l2.9,5.4a3.4,3.4 0 1 1-5.8,0zM1471.7,191.2l2.9,5.4a3.4,3.4 0 1 1-5.8,0zM1475.3,195.3l2.9,5.4a3.4,3.4 0 1 1-5.8,0zM1478.5,199.7l2.9,5.4a3.4,3.4 0 1 1-5.8,0zM1481.3,204.5l2.9,5.4a3.4,3.4 0 1 1-5.8,0zM1484.1,209.2l2.9,5.4a3.4,3.4 0 1 1-5.8,0zM1486.9,213.9l2.9,5.4a3.4,3.4 0 1 1-5.8,0zM1488.4,219.1l2.9,5.4a3.4,3.4 0 1 1-5.8,0zM1489.1,224.6l2.9,5.4a3.4,3.4 0 1 1-5.8,0zM1489.8,230.0l2.9,5.4a3.4,3.4 0 1 1-5.8,0zM1490.6,235.5l2.9,5.4a3.4,3.4 0 1 1-5.8,0zM1310.6,385.3l2.9,5.4a3.4,3.4 0 1 1-5.8,0zM1318.1,381.2l2.9,5.4a3.4,3.4 0 1 1-5.8,0zM1325.6,377.2l2.9,5.4a3.4,3.4 0 1 1-5.8,0zM1333.1,373.2l2.9,5.4a3.4,3.4 0 1 1-5.8,0zM1340.5,369.1l2.9,5.4a3.4,3.4 0 1 1-5.8,0zM1348.0,365.1l2.9,5.4a3.4,3.4 0 1 1-5.8,0zM1355.5,361.0l2.9,5.4a3.4,3.4 0 1 1-5.8,0zM1363.0,357.0l2.9,5.4a3.4,3.4 0 1 1-5.8,0zM1370.4,353.0l2.9,5.4a3.4,3.4 0 1 1-5.8,0zM1377.9,348.9l2.9,5.4a3.4,3.4 0 1 1-5.8,0zM1385.4,344.9l2.9,5.4a3.4,3.4 0 1 1-5.8,0zM1303.9,399.7l2.9,5.4a3.4,3.4 0 1 1-5.8,0zM1311.4,395.7l2.9,5.4a3.4,3.4 0 1 1-5.8,0zM1318.9,391.6l2.9,5.4a3.4,3.4 0 1 1-5.8,0zM1326.3,387.6l2.9,5.4a3.4,3.4 0 1 1-5.8,0zM1333.8,383.5l2.9,5.4a3.4,3.4 0 1 1-5.8,0zM1341.3,379.5l2.9,5.4a3.4,3.4 0 1 1-5.8,0zM1348.8,375.5l2.9,5.4a3.4,3.4 0 1 1-5.8,0zM1356.3,371.4l2.9,5.4a3.4,3.4 0 1 1-5.8,0zM1363.7,367.4l2.9,5.4a3.4,3.4 0 1 1-5.8,0zM1371.2,363.3l2.9,5.4a3.4,3.4 0 1 1-5.8,0zM1378.7,359.3l2.9,5.4a3.4,3.4 0 1 1-5.8,0zM1312.2,406.0l2.9,5.4a3.4,3.4 0 1 1-5.8,0zM1319.6,402.0l2.9,5.4a3.4,3.4 0 1 1-5.8,0zM1327.1,398.0l2.9,5.4a3.4,3.4 0 1 1-5.8,0zM1334.6,393.9l2.9,5.4a3.4,3.4 0 1 1-5.8,0zM1342.1,389.9l2.9,5.4a3.4,3.4 0 1 1-5.8,0zM1349.6,385.8l2.9,5.4a3.4,3.4 0 1 1-5.8,0zM1357.0,381.8l2.9,5.4a3.4,3.4 0 1 1-5.8,0zM1364.5,377.8l2.9,5.4a3.4,3.4 0 1 1-5.8,0zM1312.9,416.4l2.9,5.4a3.4,3.4 0 1 1-5.8,0zM1320.4,412.4l2.9,5.4a3.4,3.4 0 1 1-5.8,0zM1327.9,408.3l2.9,5.4a3.4,3.4 0 1 1-5.8,0zM1335.4,404.3l2.9,5.4a3.4,3.4 0 1 1-5.8,0zM1342.9,400.3l2.9,5.4a3.4,3.4 0 1 1-5.8,0zM1350.3,396.2l2.9,5.4a3.4,3.4 0 1 1-5.8,0zM1357.8,392.2l2.9,5.4a3.4,3.4 0 1 1-5.8,0zM1313.7,426.8l2.9,5.4a3.4,3.4 0 1 1-5.8,0zM1321.2,422.8l2.9,5.4a3.4,3.4 0 1 1-5.8,0zM1328.7,418.7l2.9,5.4a3.4,3.4 0 1 1-5.8,0zM1336.2,414.7l2.9,5.4a3.4,3.4 0 1 1-5.8,0zM1343.6,410.6l2.9,5.4a3.4,3.4 0 1 1-5.8,0zM1351.1,406.6l2.9,5.4a3.4,3.4 0 1 1-5.8,0zM1322.0,433.1l2.9,5.4a3.4,3.4 0 1 1-5.8,0zM1329.5,429.1l2.9,5.4a3.4,3.4 0 1 1-5.8,0zM1336.9,425.1l2.9,5.4a3.4,3.4 0 1 1-5.8,0zM1344.4,421.0l2.9,5.4a3.4,3.4 0 1 1-5.8,0zM1322.8,443.5l2.9,5.4a3.4,3.4 0 1 1-5.8,0zM1330.2,439.5l2.9,5.4a3.4,3.4 0 1 1-5.8,0zM1337.7,435.4l2.9,5.4a3.4,3.4 0 1 1-5.8,0zM1492.0,340.5l3.0,5.6a3.5,3.5 0 1 1-6.0,0zM1502.5,342.2l3.0,5.6a3.5,3.5 0 1 1-6.0,0zM1513.0,340.3l3.0,5.6a3.5,3.5 0 1 1-6.0,0zM1523.5,338.4l3.0,5.6a3.5,3.5 0 1 1-6.0,0zM1534.0,336.5l3.0,5.6a3.5,3.5 0 1 1-6.0,0zM1544.5,334.7l3.0,5.6a3.5,3.5 0 1 1-6.0,0zM1555.0,332.7l3.0,5.6a3.5,3.5 0 1 1-6.0,0zM1565.5,330.7l3.0,5.6a3.5,3.5 0 1 1-6.0,0zM1576.0,328.7l3.0,5.6a3.5,3.5 0 1 1-6.0,0zM1586.5,326.8l3.0,5.6a3.5,3.5 0 1 1-6.0,0zM1597.0,325.3l3.0,5.6a3.5,3.5 0 1 1-6.0,0zM1607.5,332.3l3.0,5.6a3.5,3.5 0 1 1-6.0,0zM1618.0,357.2l3.0,5.6a3.5,3.5 0 1 1-6.0,0zM1628.5,383.3l3.0,5.6a3.5,3.5 0 1 1-6.0,0zM1639.0,409.1l3.0,5.6a3.5,3.5 0 1 1-6.0,0zM1649.5,433.9l3.0,5.6a3.5,3.5 0 1 1-6.0,0zM1497.2,342.4l3.0,5.6a3.5,3.5 0 1 1-6.0,0zM1507.8,342.3l3.0,5.6a3.5,3.5 0 1 1-6.0,0zM1518.2,340.4l3.0,5.6a3.5,3.5 0 1 1-6.0,0zM1528.8,338.6l3.0,5.6a3.5,3.5 0 1 1-6.0,0zM1539.2,336.7l3.0,5.6a3.5,3.5 0 1 1-6.0,0zM1549.8,334.9l3.0,5.6a3.5,3.5 0 1 1-6.0,0zM1560.2,332.9l3.0,5.6a3.5,3.5 0 1 1-6.0,0zM1570.8,330.8l3.0,5.6a3.5,3.5 0 1 1-6.0,0zM1581.2,328.8l3.0,5.6a3.5,3.5 0 1 1-6.0,0zM1591.8,327.2l3.0,5.6a3.5,3.5 0 1 1-6.0,0zM1602.2,325.7l3.0,5.6a3.5,3.5 0 1 1-6.0,0zM1612.8,345.3l3.0,5.6a3.5,3.5 0 1 1-6.0,0zM1623.2,371.2l3.0,5.6a3.5,3.5 0 1 1-6.0,0zM1633.8,397.1l3.0,5.6a3.5,3.5 0 1 1-6.0,0zM1644.2,422.3l3.0,5.6a3.5,3.5 0 1 1-6.0,0zM1492.0,343.9l3.0,5.6a3.5,3.5 0 1 1-6.0,0zM1502.5,345.6l3.0,5.6a3.5,3.5 0 1 1-6.0,0zM1513.0,343.8l3.0,5.6a3.5,3.5 0 1 1-6.0,0zM1523.5,342.1l3.0,5.6a3.5,3.5 0 1 1-6.0,0zM1534.0,340.3l3.0,5.6a3.5,3.5 0 1 1-6.0,0zM1544.5,338.5l3.0,5.6a3.5,3.5 0 1 1-6.0,0zM1555.0,336.7l3.0,5.6a3.5,3.5 0 1 1-6.0,0zM1565.5,334.6l3.0,5.6a3.5,3.5 0 1 1-6.0,0zM1576.0,332.6l3.0,5.6a3.5,3.5 0 1 1-6.0,0zM1586.5,330.8l3.0,5.6a3.5,3.5 0 1 1-6.0,0zM1597.0,329.2l3.0,5.6a3.5,3.5 0 1 1-6.0,0zM1607.5,336.0l3.0,5.6a3.5,3.5 0 1 1-6.0,0zM1618.0,360.4l3.0,5.6a3.5,3.5 0 1 1-6.0,0zM1628.5,386.1l3.0,5.6a3.5,3.5 0 1 1-6.0,0zM1639.0,411.3l3.0,5.6a3.5,3.5 0 1 1-6.0,0zM1649.5,435.4l3.0,5.6a3.5,3.5 0 1 1-6.0,0zM1497.2,348.3l3.0,5.6a3.5,3.5 0 1 1-6.0,0zM1507.8,348.2l3.0,5.6a3.5,3.5 0 1 1-6.0,0zM1518.2,346.6l3.0,5.6a3.5,3.5 0 1 1-6.0,0zM1528.8,345.0l3.0,5.6a3.5,3.5 0 1 1-6.0,0zM1539.2,343.3l3.0,5.6a3.5,3.5 0 1 1-6.0,0zM1549.8,341.7l3.0,5.6a3.5,3.5 0 1 1-6.0,0zM1560.2,339.7l3.0,5.6a3.5,3.5 0 1 1-6.0,0zM1570.8,337.7l3.0,5.6a3.5,3.5 0 1 1-6.0,0zM1581.2,335.8l3.0,5.6a3.5,3.5 0 1 1-6.0,0zM1591.8,334.2l3.0,5.6a3.5,3.5 0 1 1-6.0,0zM1602.2,332.5l3.0,5.6a3.5,3.5 0 1 1-6.0,0zM1612.8,351.4l3.0,5.6a3.5,3.5 0 1 1-6.0,0zM1623.2,376.4l3.0,5.6a3.5,3.5 0 1 1-6.0,0zM1633.8,401.5l3.0,5.6a3.5,3.5 0 1 1-6.0,0zM1644.2,425.5l3.0,5.6a3.5,3.5 0 1 1-6.0,0zM1492.0,351.8l3.0,5.6a3.5,3.5 0 1 1-6.0,0zM1502.5,353.5l3.0,5.6a3.5,3.5 0 1 1-6.0,0zM1513.0,352.1l3.0,5.6a3.5,3.5 0 1 1-6.0,0zM1523.5,350.7l3.0,5.6a3.5,3.5 0 1 1-6.0,0zM1534.0,349.2l3.0,5.6a3.5,3.5 0 1 1-6.0,0zM1544.5,347.6l3.0,5.6a3.5,3.5 0 1 1-6.0,0zM1555.0,346.1l3.0,5.6a3.5,3.5 0 1 1-6.0,0zM1565.5,344.0l3.0,5.6a3.5,3.5 0 1 1-6.0,0zM1576.0,342.0l3.0,5.6a3.5,3.5 0 1 1-6.0,0zM1586.5,340.3l3.0,5.6a3.5,3.5 0 1 1-6.0,0zM1597.0,338.6l3.0,5.6a3.5,3.5 0 1 1-6.0,0zM1607.5,344.9l3.0,5.6a3.5,3.5 0 1 1-6.0,0zM1618.0,368.2l3.0,5.6a3.5,3.5 0 1 1-6.0,0zM1628.5,392.7l3.0,5.6a3.5,3.5 0 1 1-6.0,0zM1639.0,416.5l3.0,5.6a3.5,3.5 0 1 1-6.0,0zM1649.5,439.0l3.0,5.6a3.5,3.5 0 1 1-6.0,0zM1497.2,358.1l3.0,5.6a3.5,3.5 0 1 1-6.0,0zM1507.8,358.3l3.0,5.6a3.5,3.5 0 1 1-6.0,0zM1518.2,357.1l3.0,5.6a3.5,3.5 0 1 1-6.0,0zM1528.8,355.9l3.0,5.6a3.5,3.5 0 1 1-6.0,0zM1539.2,354.5l3.0,5.6a3.5,3.5 0 1 1-6.0,0zM1549.8,353.2l3.0,5.6a3.5,3.5 0 1 1-6.0,0zM1560.2,351.4l3.0,5.6a3.5,3.5 0 1 1-6.0,0zM1570.8,349.2l3.0,5.6a3.5,3.5 0 1 1-6.0,0zM1581.2,347.5l3.0,5.6a3.5,3.5 0 1 1-6.0,0zM1591.8,345.9l3.0,5.6a3.5,3.5 0 1 1-6.0,0zM1602.2,344.0l3.0,5.6a3.5,3.5 0 1 1-6.0,0zM1612.8,361.7l3.0,5.6a3.5,3.5 0 1 1-6.0,0zM1623.2,385.3l3.0,5.6a3.5,3.5 0 1 1-6.0,0zM1633.8,408.9l3.0,5.6a3.5,3.5 0 1 1-6.0,0zM1644.2,431.0l3.0,5.6a3.5,3.5 0 1 1-6.0,0zM1492.0,363.5l3.0,5.6a3.5,3.5 0 1 1-6.0,0zM1502.5,365.2l3.0,5.6a3.5,3.5 0 1 1-6.0,0zM1513.0,364.3l3.0,5.6a3.5,3.5 0 1 1-6.0,0zM1523.5,363.3l3.0,5.6a3.5,3.5 0 1 1-6.0,0zM1534.0,362.2l3.0,5.6a3.5,3.5 0 1 1-6.0,0zM1544.5,361.1l3.0,5.6a3.5,3.5 0 1 1-6.0,0zM1555.0,359.8l3.0,5.6a3.5,3.5 0 1 1-6.0,0zM1565.5,357.7l3.0,5.6a3.5,3.5 0 1 1-6.0,0zM1576.0,355.8l3.0,5.6a3.5,3.5 0 1 1-6.0,0zM1586.5,354.3l3.0,5.6a3.5,3.5 0 1 1-6.0,0zM1597.0,352.3l3.0,5.6a3.5,3.5 0 1 1-6.0,0zM1607.5,357.9l3.0,5.6a3.5,3.5 0 1 1-6.0,0zM1618.0,379.5l3.0,5.6a3.5,3.5 0 1 1-6.0,0zM1628.5,402.4l3.0,5.6a3.5,3.5 0 1 1-6.0,0zM1639.0,424.1l3.0,5.6a3.5,3.5 0 1 1-6.0,0zM1649.5,444.3l3.0,5.6a3.5,3.5 0 1 1-6.0,0zM1497.2,371.5l3.0,5.6a3.5,3.5 0 1 1-6.0,0zM1507.8,372.0l3.0,5.6a3.5,3.5 0 1 1-6.0,0zM1518.2,371.3l3.0,5.6a3.5,3.5 0 1 1-6.0,0zM1528.8,370.6l3.0,5.6a3.5,3.5 0 1 1-6.0,0zM1539.2,369.7l3.0,5.6a3.5,3.5 0 1 1-6.0,0zM1549.8,368.8l3.0,5.6a3.5,3.5 0 1 1-6.0,0zM1560.2,367.1l3.0,5.6a3.5,3.5 0 1 1-6.0,0zM1570.8,364.9l3.0,5.6a3.5,3.5 0 1 1-6.0,0zM1581.2,363.4l3.0,5.6a3.5,3.5 0 1 1-6.0,0zM1591.8,361.7l3.0,5.6a3.5,3.5 0 1 1-6.0,0zM1602.2,359.6l3.0,5.6a3.5,3.5 0 1 1-6.0,0zM1612.8,375.6l3.0,5.6a3.5,3.5 0 1 1-6.0,0zM1623.2,397.4l3.0,5.6a3.5,3.5 0 1 1-6.0,0zM1633.8,419.0l3.0,5.6a3.5,3.5 0 1 1-6.0,0zM1644.2,438.4l3.0,5.6a3.5,3.5 0 1 1-6.0,0zM1492.0,378.6l3.0,5.6a3.5,3.5 0 1 1-6.0,0zM1502.5,380.2l3.0,5.6a3.5,3.5 0 1 1-6.0,0zM1513.0,380.0l3.0,5.6a3.5,3.5 0 1 1-6.0,0zM1523.5,379.6l3.0,5.6a3.5,3.5 0 1 1-6.0,0zM1534.0,379.0l3.0,5.6a3.5,3.5 0 1 1-6.0,0zM1544.5,378.4l3.0,5.6a3.5,3.5 0 1 1-6.0,0zM1555.0,377.6l3.0,5.6a3.5,3.5 0 1 1-6.0,0zM1565.5,375.3l3.0,5.6a3.5,3.5 0 1 1-6.0,0zM1576.0,373.5l3.0,5.6a3.5,3.5 0 1 1-6.0,0zM1586.5,372.3l3.0,5.6a3.5,3.5 0 1 1-6.0,0zM1597.0,370.0l3.0,5.6a3.5,3.5 0 1 1-6.0,0zM1607.5,374.6l3.0,5.6a3.5,3.5 0 1 1-6.0,0zM1618.0,394.1l3.0,5.6a3.5,3.5 0 1 1-6.0,0zM1628.5,414.9l3.0,5.6a3.5,3.5 0 1 1-6.0,0zM1639.0,434.0l3.0,5.6a3.5,3.5 0 1 1-6.0,0zM1649.5,451.1l3.0,5.6a3.5,3.5 0 1 1-6.0,0zM1497.2,388.1l3.0,5.6a3.5,3.5 0 1 1-6.0,0zM1507.8,389.0l3.0,5.6a3.5,3.5 0 1 1-6.0,0zM1518.2,389.0l3.0,5.6a3.5,3.5 0 1 1-6.0,0zM1528.8,389.0l3.0,5.6a3.5,3.5 0 1 1-6.0,0zM1539.2,388.6l3.0,5.6a3.5,3.5 0 1 1-6.0,0zM1549.8,388.2l3.0,5.6a3.5,3.5 0 1 1-6.0,0zM1560.2,386.7l3.0,5.6a3.5,3.5 0 1 1-6.0,0zM1570.8,384.4l3.0,5.6a3.5,3.5 0 1 1-6.0,0zM1581.2,383.1l3.0,5.6a3.5,3.5 0 1 1-6.0,0zM1591.8,381.5l3.0,5.6a3.5,3.5 0 1 1-6.0,0zM1602.2,378.9l3.0,5.6a3.5,3.5 0 1 1-6.0,0zM1612.8,393.0l3.0,5.6a3.5,3.5 0 1 1-6.0,0zM1623.2,412.4l3.0,5.6a3.5,3.5 0 1 1-6.0,0zM1633.8,431.5l3.0,5.6a3.5,3.5 0 1 1-6.0,0zM1644.2,447.6l3.0,5.6a3.5,3.5 0 1 1-6.0,0zM1492.0,396.8l3.0,5.6a3.5,3.5 0 1 1-6.0,0zM1502.5,398.3l3.0,5.6a3.5,3.5 0 1 1-6.0,0zM1513.0,398.9l3.0,5.6a3.5,3.5 0 1 1-6.0,0zM1523.5,399.2l3.0,5.6a3.5,3.5 0 1 1-6.0,0zM1534.0,399.3l3.0,5.6a3.5,3.5 0 1 1-6.0,0zM1544.5,399.2l3.0,5.6a3.5,3.5 0 1 1-6.0,0zM1555.0,399.0l3.0,5.6a3.5,3.5 0 1 1-6.0,0zM1565.5,396.6l3.0,5.6a3.5,3.5 0 1 1-6.0,0zM1576.0,394.9l3.0,5.6a3.5,3.5 0 1 1-6.0,0zM1586.5,394.0l3.0,5.6a3.5,3.5 0 1 1-6.0,0zM1597.0,391.3l3.0,5.6a3.5,3.5 0 1 1-6.0,0zM1607.5,394.8l3.0,5.6a3.5,3.5 0 1 1-6.0,0zM1618.0,411.8l3.0,5.6a3.5,3.5 0 1 1-6.0,0zM1628.5,430.0l3.0,5.6a3.5,3.5 0 1 1-6.0,0zM1639.0,445.8l3.0,5.6a3.5,3.5 0 1 1-6.0,0zM1649.5,459.3l3.0,5.6a3.5,3.5 0 1 1-6.0,0zM1497.2,407.7l3.0,5.6a3.5,3.5 0 1 1-6.0,0zM1507.8,409.0l3.0,5.6a3.5,3.5 0 1 1-6.0,0zM1518.2,409.9l3.0,5.6a3.5,3.5 0 1 1-6.0,0zM1528.8,410.6l3.0,5.6a3.5,3.5 0 1 1-6.0,0zM1539.2,410.9l3.0,5.6a3.5,3.5 0 1 1-6.0,0zM1549.8,411.1l3.0,5.6a3.5,3.5 0 1 1-6.0,0zM1560.2,409.9l3.0,5.6a3.5,3.5 0 1 1-6.0,0zM1570.8,407.4l3.0,5.6a3.5,3.5 0 1 1-6.0,0zM1581.2,406.5l3.0,5.6a3.5,3.5 0 1 1-6.0,0zM1591.8,404.8l3.0,5.6a3.5,3.5 0 1 1-6.0,0zM1602.2,401.8l3.0,5.6a3.5,3.5 0 1 1-6.0,0zM1612.8,413.5l3.0,5.6a3.5,3.5 0 1 1-6.0,0zM1623.2,430.1l3.0,5.6a3.5,3.5 0 1 1-6.0,0zM1633.8,446.3l3.0,5.6a3.5,3.5 0 1 1-6.0,0zM1644.2,458.5l3.0,5.6a3.5,3.5 0 1 1-6.0,0zM1492.0,418.0l3.0,5.6a3.5,3.5 0 1 1-6.0,0zM1502.5,419.4l3.0,5.6a3.5,3.5 0 1 1-6.0,0zM1513.0,420.9l3.0,5.6a3.5,3.5 0 1 1-6.0,0zM1523.5,422.1l3.0,5.6a3.5,3.5 0 1 1-6.0,0zM1534.0,422.9l3.0,5.6a3.5,3.5 0 1 1-6.0,0zM1544.5,423.5l3.0,5.6a3.5,3.5 0 1 1-6.0,0zM1555.0,424.0l3.0,5.6a3.5,3.5 0 1 1-6.0,0zM1565.5,421.4l3.0,5.6a3.5,3.5 0 1 1-6.0,0zM1576.0,419.8l3.0,5.6a3.5,3.5 0 1 1-6.0,0zM1586.5,419.2l3.0,5.6a3.5,3.5 0 1 1-6.0,0zM1597.0,416.1l3.0,5.6a3.5,3.5 0 1 1-6.0,0zM1607.5,418.3l3.0,5.6a3.5,3.5 0 1 1-6.0,0zM1618.0,432.3l3.0,5.6a3.5,3.5 0 1 1-6.0,0zM1628.5,447.6l3.0,5.6a3.5,3.5 0 1 1-6.0,0zM1639.0,459.6l3.0,5.6a3.5,3.5 0 1 1-6.0,0zM1649.5,468.9l3.0,5.6a3.5,3.5 0 1 1-6.0,0zM1497.2,430.2l3.0,5.6a3.5,3.5 0 1 1-6.0,0zM1507.8,432.0l3.0,5.6a3.5,3.5 0 1 1-6.0,0zM1518.2,433.8l3.0,5.6a3.5,3.5 0 1 1-6.0,0zM1528.8,435.5l3.0,5.6a3.5,3.5 0 1 1-6.0,0zM1539.2,436.4l3.0,5.6a3.5,3.5 0 1 1-6.0,0zM1549.8,437.3l3.0,5.6a3.5,3.5 0 1 1-6.0,0zM1560.2,436.4l3.0,5.6a3.5,3.5 0 1 1-6.0,0zM1570.8,433.8l3.0,5.6a3.5,3.5 0 1 1-6.0,0zM1581.2,433.3l3.0,5.6a3.5,3.5 0 1 1-6.0,0zM1591.8,431.5l3.0,5.6a3.5,3.5 0 1 1-6.0,0zM1602.2,428.0l3.0,5.6a3.5,3.5 0 1 1-6.0,0zM1612.8,437.1l3.0,5.6a3.5,3.5 0 1 1-6.0,0zM1623.2,450.4l3.0,5.6a3.5,3.5 0 1 1-6.0,0zM1633.8,463.2l3.0,5.6a3.5,3.5 0 1 1-6.0,0zM1644.2,471.0l3.0,5.6a3.5,3.5 0 1 1-6.0,0zM1492.0,442.0l3.0,5.6a3.5,3.5 0 1 1-6.0,0zM1502.5,443.3l3.0,5.6a3.5,3.5 0 1 1-6.0,0zM1513.0,445.8l3.0,5.6a3.5,3.5 0 1 1-6.0,0zM1523.5,448.0l3.0,5.6a3.5,3.5 0 1 1-6.0,0zM1534.0,449.7l3.0,5.6a3.5,3.5 0 1 1-6.0,0zM1544.5,451.0l3.0,5.6a3.5,3.5 0 1 1-6.0,0zM1555.0,452.2l3.0,5.6a3.5,3.5 0 1 1-6.0,0zM1565.5,449.5l3.0,5.6a3.5,3.5 0 1 1-6.0,0zM1576.0,448.1l3.0,5.6a3.5,3.5 0 1 1-6.0,0zM1586.5,447.8l3.0,5.6a3.5,3.5 0 1 1-6.0,0zM1597.0,444.3l3.0,5.6a3.5,3.5 0 1 1-6.0,0zM1607.5,445.0l3.0,5.6a3.5,3.5 0 1 1-6.0,0zM1618.0,455.6l3.0,5.6a3.5,3.5 0 1 1-6.0,0zM1628.5,467.5l3.0,5.6a3.5,3.5 0 1 1-6.0,0zM1639.0,475.3l3.0,5.6a3.5,3.5 0 1 1-6.0,0zM1649.5,479.7l3.0,5.6a3.5,3.5 0 1 1-6.0,0zM1497.2,455.5l3.0,5.6a3.5,3.5 0 1 1-6.0,0zM1507.8,457.9l3.0,5.6a3.5,3.5 0 1 1-6.0,0zM1518.2,460.7l3.0,5.6a3.5,3.5 0 1 1-6.0,0zM1528.8,463.3l3.0,5.6a3.5,3.5 0 1 1-6.0,0zM1539.2,465.1l3.0,5.6a3.5,3.5 0 1 1-6.0,0zM1549.8,466.8l3.0,5.6a3.5,3.5 0 1 1-6.0,0zM1560.2,466.2l3.0,5.6a3.5,3.5 0 1 1-6.0,0zM1570.8,463.4l3.0,5.6a3.5,3.5 0 1 1-6.0,0zM1581.2,463.3l3.0,5.6a3.5,3.5 0 1 1-6.0,0zM1591.8,461.5l3.0,5.6a3.5,3.5 0 1 1-6.0,0zM1602.2,457.5l3.0,5.6a3.5,3.5 0 1 1-6.0,0zM1612.8,463.5l3.0,5.6a3.5,3.5 0 1 1-6.0,0zM1623.2,473.2l3.0,5.6a3.5,3.5 0 1 1-6.0,0zM1633.8,482.2l3.0,5.6a3.5,3.5 0 1 1-6.0,0zM1644.2,485.1l3.0,5.6a3.5,3.5 0 1 1-6.0,0zM1492.0,468.7l3.0,5.6a3.5,3.5 0 1 1-6.0,0zM1502.5,469.9l3.0,5.6a3.5,3.5 0 1 1-6.0,0zM1513.0,473.6l3.0,5.6a3.5,3.5 0 1 1-6.0,0zM1523.5,476.8l3.0,5.6a3.5,3.5 0 1 1-6.0,0zM1534.0,479.5l3.0,5.6a3.5,3.5 0 1 1-6.0,0zM1544.5,481.7l3.0,5.6a3.5,3.5 0 1 1-6.0,0zM1555.0,483.7l3.0,5.6a3.5,3.5 0 1 1-6.0,0zM1565.5,480.8l3.0,5.6a3.5,3.5 0 1 1-6.0,0zM1576.0,479.5l3.0,5.6a3.5,3.5 0 1 1-6.0,0zM1586.5,479.7l3.0,5.6a3.5,3.5 0 1 1-6.0,0zM1597.0,475.6l3.0,5.6a3.5,3.5 0 1 1-6.0,0zM1607.5,474.6l3.0,5.6a3.5,3.5 0 1 1-6.0,0zM1618.0,481.5l3.0,5.6a3.5,3.5 0 1 1-6.0,0zM1628.5,489.6l3.0,5.6a3.5,3.5 0 1 1-6.0,0zM1639.0,492.7l3.0,5.6a3.5,3.5 0 1 1-6.0,0zM1649.5,491.8l3.0,5.6a3.5,3.5 0 1 1-6.0,0zM1497.2,483.4l3.0,5.6a3.5,3.5 0 1 1-6.0,0zM1507.8,486.4l3.0,5.6a3.5,3.5 0 1 1-6.0,0zM1518.2,490.4l3.0,5.6a3.5,3.5 0 1 1-6.0,0zM1528.8,494.1l3.0,5.6a3.5,3.5 0 1 1-6.0,0zM1539.2,496.8l3.0,5.6a3.5,3.5 0 1 1-6.0,0zM1549.8,499.4l3.0,5.6a3.5,3.5 0 1 1-6.0,0zM1560.2,499.1l3.0,5.6a3.5,3.5 0 1 1-6.0,0zM1570.8,496.2l3.0,5.6a3.5,3.5 0 1 1-6.0,0zM1581.2,496.6l3.0,5.6a3.5,3.5 0 1 1-6.0,0zM1591.8,494.7l3.0,5.6a3.5,3.5 0 1 1-6.0,0zM1602.2,490.0l3.0,5.6a3.5,3.5 0 1 1-6.0,0zM1612.8,492.7l3.0,5.6a3.5,3.5 0 1 1-6.0,0zM1623.2,498.4l3.0,5.6a3.5,3.5 0 1 1-6.0,0zM1633.8,503.3l3.0,5.6a3.5,3.5 0 1 1-6.0,0zM1644.2,500.6l3.0,5.6a3.5,3.5 0 1 1-6.0,0zM1492.0,498.0l3.0,5.6a3.5,3.5 0 1 1-6.0,0zM1502.5,499.2l3.0,5.6a3.5,3.5 0 1 1-6.0,0zM1513.0,504.1l3.0,5.6a3.5,3.5 0 1 1-6.0,0zM1523.5,508.5l3.0,5.6a3.5,3.5 0 1 1-6.0,0zM1534.0,512.2l3.0,5.6a3.5,3.5 0 1 1-6.0,0zM1544.5,515.3l3.0,5.6a3.5,3.5 0 1 1-6.0,0zM1555.0,518.2l3.0,5.6a3.5,3.5 0 1 1-6.0,0zM1565.5,515.2l3.0,5.6a3.5,3.5 0 1 1-6.0,0zM1576.0,514.0l3.0,5.6a3.5,3.5 0 1 1-6.0,0zM1586.5,514.7l3.0,5.6a3.5,3.5 0 1 1-6.0,0zM1597.0,510.0l3.0,5.6a3.5,3.5 0 1 1-6.0,0zM1607.5,507.2l3.0,5.6a3.5,3.5 0 1 1-6.0,0zM1618.0,509.9l3.0,5.6a3.5,3.5 0 1 1-6.0,0zM1628.5,513.9l3.0,5.6a3.5,3.5 0 1 1-6.0,0zM1639.0,511.8l3.0,5.6a3.5,3.5 0 1 1-6.0,0zM1649.5,505.1l3.0,5.6a3.5,3.5 0 1 1-6.0,0zM1497.2,513.9l3.0,5.6a3.5,3.5 0 1 1-6.0,0zM1507.8,517.6l3.0,5.6a3.5,3.5 0 1 1-6.0,0zM1518.2,522.9l3.0,5.6a3.5,3.5 0 1 1-6.0,0zM1528.8,527.8l3.0,5.6a3.5,3.5 0 1 1-6.0,0zM1539.2,531.4l3.0,5.6a3.5,3.5 0 1 1-6.0,0zM1549.8,535.1l3.0,5.6a3.5,3.5 0 1 1-6.0,0zM1560.2,535.1l3.0,5.6a3.5,3.5 0 1 1-6.0,0zM1570.8,531.9l3.0,5.6a3.5,3.5 0 1 1-6.0,0zM1581.2,532.9l3.0,5.6a3.5,3.5 0 1 1-6.0,0zM1591.8,530.9l3.0,5.6a3.5,3.5 0 1 1-6.0,0zM1602.2,525.6l3.0,5.6a3.5,3.5 0 1 1-6.0,0zM1612.8,524.6l3.0,5.6a3.5,3.5 0 1 1-6.0,0zM1623.2,526.0l3.0,5.6a3.5,3.5 0 1 1-6.0,0zM1633.8,526.2l3.0,5.6a3.5,3.5 0 1 1-6.0,0zM1644.2,517.5l3.0,5.6a3.5,3.5 0 1 1-6.0,0zM1492.0,529.9l3.0,5.6a3.5,3.5 0 1 1-6.0,0zM1502.5,531.0l3.0,5.6a3.5,3.5 0 1 1-6.0,0zM1513.0,537.3l3.0,5.6a3.5,3.5 0 1 1-6.0,0zM1523.5,543.0l3.0,5.6a3.5,3.5 0 1 1-6.0,0zM1534.0,547.8l3.0,5.6a3.5,3.5 0 1 1-6.0,0zM1544.5,551.9l3.0,5.6a3.5,3.5 0 1 1-6.0,0zM1555.0,555.8l3.0,5.6a3.5,3.5 0 1 1-6.0,0zM1565.5,552.6l3.0,5.6a3.5,3.5 0 1 1-6.0,0zM1576.0,551.5l3.0,5.6a3.5,3.5 0 1 1-6.0,0zM1586.5,552.7l3.0,5.6a3.5,3.5 0 1 1-6.0,0zM1597.0,547.4l3.0,5.6a3.5,3.5 0 1 1-6.0,0zM1607.5,542.7l3.0,5.6a3.5,3.5 0 1 1-6.0,0zM1618.0,540.8l3.0,5.6a3.5,3.5 0 1 1-6.0,0zM1628.5,540.4l3.0,5.6a3.5,3.5 0 1 1-6.0,0zM1639.0,532.6l3.0,5.6a3.5,3.5 0 1 1-6.0,0zM1649.5,519.5l3.0,5.6a3.5,3.5 0 1 1-6.0,0zM1497.2,546.9l3.0,5.6a3.5,3.5 0 1 1-6.0,0zM1507.8,551.4l3.0,5.6a3.5,3.5 0 1 1-6.0,0zM1518.2,558.0l3.0,5.6a3.5,3.5 0 1 1-6.0,0zM1528.8,564.2l3.0,5.6a3.5,3.5 0 1 1-6.0,0zM1539.2,568.9l3.0,5.6a3.5,3.5 0 1 1-6.0,0zM1549.8,573.6l3.0,5.6a3.5,3.5 0 1 1-6.0,0zM1560.2,574.0l3.0,5.6a3.5,3.5 0 1 1-6.0,0zM1570.8,570.7l3.0,5.6a3.5,3.5 0 1 1-6.0,0zM1581.2,572.1l3.0,5.6a3.5,3.5 0 1 1-6.0,0zM1591.8,570.1l3.0,5.6a3.5,3.5 0 1 1-6.0,0zM1602.2,564.0l3.0,5.6a3.5,3.5 0 1 1-6.0,0zM1612.8,559.1l3.0,5.6a3.5,3.5 0 1 1-6.0,0zM1623.2,555.8l3.0,5.6a3.5,3.5 0 1 1-6.0,0zM1633.8,551.1l3.0,5.6a3.5,3.5 0 1 1-6.0,0zM1644.2,535.8l3.0,5.6a3.5,3.5 0 1 1-6.0,0zM1492.0,564.3l3.0,5.6a3.5,3.5 0 1 1-6.0,0zM1502.5,565.2l3.0,5.6a3.5,3.5 0 1 1-6.0,0zM1513.0,573.1l3.0,5.6a3.5,3.5 0 1 1-6.0,0zM1523.5,580.1l3.0,5.6a3.5,3.5 0 1 1-6.0,0zM1534.0,586.1l3.0,5.6a3.5,3.5 0 1 1-6.0,0zM1544.5,591.3l3.0,5.6a3.5,3.5 0 1 1-6.0,0zM1555.0,596.3l3.0,5.6a3.5,3.5 0 1 1-6.0,0zM1565.5,592.8l3.0,5.6a3.5,3.5 0 1 1-6.0,0zM1576.0,592.0l3.0,5.6a3.5,3.5 0 1 1-6.0,0zM1586.5,593.7l3.0,5.6a3.5,3.5 0 1 1-6.0,0zM1597.0,587.7l3.0,5.6a3.5,3.5 0 1 1-6.0,0zM1607.5,580.9l3.0,5.6a3.5,3.5 0 1 1-6.0,0zM1618.0,574.1l3.0,5.6a3.5,3.5 0 1 1-6.0,0zM1628.5,568.9l3.0,5.6a3.5,3.5 0 1 1-6.0,0zM1639.0,555.0l3.0,5.6a3.5,3.5 0 1 1-6.0,0zM1649.5,535.0l3.0,5.6a3.5,3.5 0 1 1-6.0,0zM1603.0,319.7l2.8,5.3a3.3,3.3 0 1 1-5.6,0zM1606.6,321.5l2.8,5.3a3.3,3.3 0 1 1-5.6,0zM1610.2,323.2l2.8,5.3a3.3,3.3 0 1 1-5.6,0zM1613.8,324.9l2.8,5.3a3.3,3.3 0 1 1-5.6,0zM1617.4,326.7l2.8,5.3a3.3,3.3 0 1 1-5.6,0zM1621.0,328.4l2.8,5.3a3.3,3.3 0 1 1-5.6,0zM1624.6,330.2l2.8,5.3a3.3,3.3 0 1 1-5.6,0zM1628.2,331.9l2.8,5.3a3.3,3.3 0 1 1-5.6,0zM1631.6,333.9l2.8,5.3a3.3,3.3 0 1 1-5.6,0zM1634.9,336.3l2.8,5.3a3.3,3.3 0 1 1-5.6,0zM1638.1,338.7l2.8,5.3a3.3,3.3 0 1 1-5.6,0zM1641.3,341.0l2.8,5.3a3.3,3.3 0 1 1-5.6,0zM1644.5,343.4l2.8,5.3a3.3,3.3 0 1 1-5.6,0zM1647.8,345.8l2.8,5.3a3.3,3.3 0 1 1-5.6,0zM1651.0,348.1l2.8,5.3a3.3,3.3 0 1 1-5.6,0zM1654.2,350.5l2.8,5.3a3.3,3.3 0 1 1-5.6,0zM1657.4,352.9l2.8,5.3a3.3,3.3 0 1 1-5.6,0zM1660.6,355.3l2.8,5.3a3.3,3.3 0 1 1-5.6,0zM1663.4,358.2l2.8,5.3a3.3,3.3 0 1 1-5.6,0zM1666.2,361.0l2.8,5.3a3.3,3.3 0 1 1-5.6,0zM1669.1,363.8l2.8,5.3a3.3,3.3 0 1 1-5.6,0zM1671.9,366.6l2.8,5.3a3.3,3.3 0 1 1-5.6,0zM1674.7,369.5l2.8,5.3a3.3,3.3 0 1 1-5.6,0zM1677.6,372.3l2.8,5.3a3.3,3.3 0 1 1-5.6,0zM1680.3,375.2l2.8,5.3a3.3,3.3 0 1 1-5.6,0zM1682.2,378.7l2.8,5.3a3.3,3.3 0 1 1-5.6,0zM1684.1,382.2l2.8,5.3a3.3,3.3 0 1 1-5.6,0zM1686.0,385.8l2.8,5.3a3.3,3.3 0 1 1-5.6,0zM1687.9,389.3l2.8,5.3a3.3,3.3 0 1 1-5.6,0zM1689.8,392.8l2.8,5.3a3.3,3.3 0 1 1-5.6,0zM1691.8,396.3l2.8,5.3a3.3,3.3 0 1 1-5.6,0zM1492.0,348.3l2.2,4.2a2.6,2.6 0 1 1-4.4,0zM1492.0,357.8l2.2,4.2a2.6,2.6 0 1 1-4.4,0zM1492.0,367.3l2.2,4.2a2.6,2.6 0 1 1-4.4,0zM1492.0,376.8l2.2,4.2a2.6,2.6 0 1 1-4.4,0zM1492.0,386.3l2.2,4.2a2.6,2.6 0 1 1-4.4,0zM1492.0,395.8l2.2,4.2a2.6,2.6 0 1 1-4.4,0zM1492.0,405.3l2.2,4.2a2.6,2.6 0 1 1-4.4,0zM1492.0,414.8l2.2,4.2a2.6,2.6 0 1 1-4.4,0zM1492.0,424.3l2.2,4.2a2.6,2.6 0 1 1-4.4,0zM1492.0,433.8l2.2,4.2a2.6,2.6 0 1 1-4.4,0zM1492.0,443.3l2.2,4.2a2.6,2.6 0 1 1-4.4,0zM1492.0,452.8l2.2,4.2a2.6,2.6 0 1 1-4.4,0zM1492.0,462.3l2.2,4.2a2.6,2.6 0 1 1-4.4,0zM1492.0,471.8l2.2,4.2a2.6,2.6 0 1 1-4.4,0zM1492.0,481.3l2.2,4.2a2.6,2.6 0 1 1-4.4,0zM1492.0,490.8l2.2,4.2a2.6,2.6 0 1 1-4.4,0zM1492.0,500.3l2.2,4.2a2.6,2.6 0 1 1-4.4,0zM1492.0,509.8l2.2,4.2a2.6,2.6 0 1 1-4.4,0zM1492.0,519.3l2.2,4.2a2.6,2.6 0 1 1-4.4,0zM1492.0,528.8l2.2,4.2a2.6,2.6 0 1 1-4.4,0zM1492.0,538.3l2.2,4.2a2.6,2.6 0 1 1-4.4,0zM1492.0,547.8l2.2,4.2a2.6,2.6 0 1 1-4.4,0zM1492.0,557.3l2.2,4.2a2.6,2.6 0 1 1-4.4,0zM1502.0,755.3l2.5,4.8a3.0,3.0 0 1 1-5.1,0zM1510.0,767.2l2.5,4.8a3.0,3.0 0 1 1-5.1,0zM1518.0,777.2l2.5,4.8a3.0,3.0 0 1 1-5.1,0zM1526.0,786.4l2.5,4.8a3.0,3.0 0 1 1-5.1,0zM1534.0,794.5l2.5,4.8a3.0,3.0 0 1 1-5.1,0zM1542.0,801.7l2.5,4.8a3.0,3.0 0 1 1-5.1,0zM1550.0,807.4l2.5,4.8a3.0,3.0 0 1 1-5.1,0zM1558.0,812.6l2.5,4.8a3.0,3.0 0 1 1-5.1,0zM1566.0,814.6l2.5,4.8a3.0,3.0 0 1 1-5.1,0zM1574.0,816.6l2.5,4.8a3.0,3.0 0 1 1-5.1,0zM1582.0,817.8l2.5,4.8a3.0,3.0 0 1 1-5.1,0zM1590.0,818.4l2.5,4.8a3.0,3.0 0 1 1-5.1,0zM1598.0,819.1l2.5,4.8a3.0,3.0 0 1 1-5.1,0zM1606.0,819.8l2.5,4.8a3.0,3.0 0 1 1-5.1,0zM1502.0,765.5l2.5,4.8a3.0,3.0 0 1 1-5.1,0zM1510.0,776.2l2.5,4.8a3.0,3.0 0 1 1-5.1,0zM1518.0,785.0l2.5,4.8a3.0,3.0 0 1 1-5.1,0zM1526.0,793.1l2.5,4.8a3.0,3.0 0 1 1-5.1,0zM1534.0,800.2l2.5,4.8a3.0,3.0 0 1 1-5.1,0zM1542.0,806.6l2.5,4.8a3.0,3.0 0 1 1-5.1,0zM1550.0,811.6l2.5,4.8a3.0,3.0 0 1 1-5.1,0zM1558.0,816.1l2.5,4.8a3.0,3.0 0 1 1-5.1,0zM1566.0,817.8l2.5,4.8a3.0,3.0 0 1 1-5.1,0zM1574.0,819.4l2.5,4.8a3.0,3.0 0 1 1-5.1,0zM1582.0,820.4l2.5,4.8a3.0,3.0 0 1 1-5.1,0zM1590.0,820.7l2.5,4.8a3.0,3.0 0 1 1-5.1,0zM1598.0,821.1l2.5,4.8a3.0,3.0 0 1 1-5.1,0zM1606.0,821.6l2.5,4.8a3.0,3.0 0 1 1-5.1,0zM1502.0,775.8l2.5,4.8a3.0,3.0 0 1 1-5.1,0zM1510.0,785.1l2.5,4.8a3.0,3.0 0 1 1-5.1,0zM1518.0,792.7l2.5,4.8a3.0,3.0 0 1 1-5.1,0zM1526.0,799.8l2.5,4.8a3.0,3.0 0 1 1-5.1,0zM1534.0,805.9l2.5,4.8a3.0,3.0 0 1 1-5.1,0zM1542.0,811.5l2.5,4.8a3.0,3.0 0 1 1-5.1,0zM1550.0,815.7l2.5,4.8a3.0,3.0 0 1 1-5.1,0zM1558.0,819.5l2.5,4.8a3.0,3.0 0 1 1-5.1,0zM1566.0,820.9l2.5,4.8a3.0,3.0 0 1 1-5.1,0zM1574.0,822.2l2.5,4.8a3.0,3.0 0 1 1-5.1,0zM1582.0,822.9l2.5,4.8a3.0,3.0 0 1 1-5.1,0zM1590.0,823.0l2.5,4.8a3.0,3.0 0 1 1-5.1,0zM1598.0,823.1l2.5,4.8a3.0,3.0 0 1 1-5.1,0zM1606.0,823.3l2.5,4.8a3.0,3.0 0 1 1-5.1,0zM1502.0,786.1l2.5,4.8a3.0,3.0 0 1 1-5.1,0zM1510.0,794.0l2.5,4.8a3.0,3.0 0 1 1-5.1,0zM1518.0,800.5l2.5,4.8a3.0,3.0 0 1 1-5.1,0zM1526.0,806.5l2.5,4.8a3.0,3.0 0 1 1-5.1,0zM1534.0,811.7l2.5,4.8a3.0,3.0 0 1 1-5.1,0zM1542.0,816.3l2.5,4.8a3.0,3.0 0 1 1-5.1,0zM1550.0,819.9l2.5,4.8a3.0,3.0 0 1 1-5.1,0zM1558.0,823.0l2.5,4.8a3.0,3.0 0 1 1-5.1,0zM1566.0,824.0l2.5,4.8a3.0,3.0 0 1 1-5.1,0zM1574.0,824.9l2.5,4.8a3.0,3.0 0 1 1-5.1,0zM1582.0,825.4l2.5,4.8a3.0,3.0 0 1 1-5.1,0zM1590.0,825.2l2.5,4.8a3.0,3.0 0 1 1-5.1,0zM1598.0,825.1l2.5,4.8a3.0,3.0 0 1 1-5.1,0zM1606.0,825.1l2.5,4.8a3.0,3.0 0 1 1-5.1,0zM1502.0,796.4l2.5,4.8a3.0,3.0 0 1 1-5.1,0zM1510.0,802.9l2.5,4.8a3.0,3.0 0 1 1-5.1,0zM1518.0,808.2l2.5,4.8a3.0,3.0 0 1 1-5.1,0zM1526.0,813.1l2.5,4.8a3.0,3.0 0 1 1-5.1,0zM1534.0,817.4l2.5,4.8a3.0,3.0 0 1 1-5.1,0zM1542.0,821.2l2.5,4.8a3.0,3.0 0 1 1-5.1,0zM1550.0,824.0l2.5,4.8a3.0,3.0 0 1 1-5.1,0zM1558.0,826.4l2.5,4.8a3.0,3.0 0 1 1-5.1,0zM1566.0,827.1l2.5,4.8a3.0,3.0 0 1 1-5.1,0zM1574.0,827.7l2.5,4.8a3.0,3.0 0 1 1-5.1,0zM1582.0,827.9l2.5,4.8a3.0,3.0 0 1 1-5.1,0zM1590.0,827.5l2.5,4.8a3.0,3.0 0 1 1-5.1,0zM1598.0,827.2l2.5,4.8a3.0,3.0 0 1 1-5.1,0zM1606.0,826.9l2.5,4.8a3.0,3.0 0 1 1-5.1,0zM1502.0,806.7l2.5,4.8a3.0,3.0 0 1 1-5.1,0zM1510.0,811.8l2.5,4.8a3.0,3.0 0 1 1-5.1,0zM1518.0,816.0l2.5,4.8a3.0,3.0 0 1 1-5.1,0zM1526.0,819.8l2.5,4.8a3.0,3.0 0 1 1-5.1,0zM1534.0,823.1l2.5,4.8a3.0,3.0 0 1 1-5.1,0zM1542.0,826.1l2.5,4.8a3.0,3.0 0 1 1-5.1,0zM1550.0,828.1l2.5,4.8a3.0,3.0 0 1 1-5.1,0zM1558.0,829.9l2.5,4.8a3.0,3.0 0 1 1-5.1,0zM1566.0,830.2l2.5,4.8a3.0,3.0 0 1 1-5.1,0zM1574.0,830.5l2.5,4.8a3.0,3.0 0 1 1-5.1,0zM1582.0,830.4l2.5,4.8a3.0,3.0 0 1 1-5.1,0zM1590.0,829.8l2.5,4.8a3.0,3.0 0 1 1-5.1,0zM1598.0,829.2l2.5,4.8a3.0,3.0 0 1 1-5.1,0zM1606.0,828.6l2.5,4.8a3.0,3.0 0 1 1-5.1,0zM1502.0,817.0l2.5,4.8a3.0,3.0 0 1 1-5.1,0zM1510.0,820.7l2.5,4.8a3.0,3.0 0 1 1-5.1,0zM1518.0,823.8l2.5,4.8a3.0,3.0 0 1 1-5.1,0zM1526.0,826.5l2.5,4.8a3.0,3.0 0 1 1-5.1,0zM1534.0,828.9l2.5,4.8a3.0,3.0 0 1 1-5.1,0zM1542.0,831.0l2.5,4.8a3.0,3.0 0 1 1-5.1,0zM1550.0,832.3l2.5,4.8a3.0,3.0 0 1 1-5.1,0zM1558.0,833.3l2.5,4.8a3.0,3.0 0 1 1-5.1,0zM1566.0,833.3l2.5,4.8a3.0,3.0 0 1 1-5.1,0zM1574.0,833.2l2.5,4.8a3.0,3.0 0 1 1-5.1,0zM1582.0,832.9l2.5,4.8a3.0,3.0 0 1 1-5.1,0zM1590.0,832.1l2.5,4.8a3.0,3.0 0 1 1-5.1,0zM1598.0,831.2l2.5,4.8a3.0,3.0 0 1 1-5.1,0zM1606.0,830.4l2.5,4.8a3.0,3.0 0 1 1-5.1,0zM1502.0,827.3l2.5,4.8a3.0,3.0 0 1 1-5.1,0zM1510.0,829.7l2.5,4.8a3.0,3.0 0 1 1-5.1,0zM1518.0,831.5l2.5,4.8a3.0,3.0 0 1 1-5.1,0zM1526.0,833.2l2.5,4.8a3.0,3.0 0 1 1-5.1,0zM1534.0,834.6l2.5,4.8a3.0,3.0 0 1 1-5.1,0zM1542.0,835.9l2.5,4.8a3.0,3.0 0 1 1-5.1,0zM1550.0,836.4l2.5,4.8a3.0,3.0 0 1 1-5.1,0zM1558.0,836.8l2.5,4.8a3.0,3.0 0 1 1-5.1,0zM1566.0,836.4l2.5,4.8a3.0,3.0 0 1 1-5.1,0zM1574.0,836.0l2.5,4.8a3.0,3.0 0 1 1-5.1,0zM1582.0,835.4l2.5,4.8a3.0,3.0 0 1 1-5.1,0zM1590.0,834.3l2.5,4.8a3.0,3.0 0 1 1-5.1,0zM1598.0,833.2l2.5,4.8a3.0,3.0 0 1 1-5.1,0zM1606.0,832.2l2.5,4.8a3.0,3.0 0 1 1-5.1,0zM1502.0,837.6l2.5,4.8a3.0,3.0 0 1 1-5.1,0zM1510.0,838.6l2.5,4.8a3.0,3.0 0 1 1-5.1,0zM1518.0,839.3l2.5,4.8a3.0,3.0 0 1 1-5.1,0zM1526.0,839.9l2.5,4.8a3.0,3.0 0 1 1-5.1,0zM1534.0,840.4l2.5,4.8a3.0,3.0 0 1 1-5.1,0zM1542.0,840.8l2.5,4.8a3.0,3.0 0 1 1-5.1,0zM1550.0,840.6l2.5,4.8a3.0,3.0 0 1 1-5.1,0zM1558.0,840.2l2.5,4.8a3.0,3.0 0 1 1-5.1,0zM1566.0,839.5l2.5,4.8a3.0,3.0 0 1 1-5.1,0zM1574.0,838.8l2.5,4.8a3.0,3.0 0 1 1-5.1,0zM1582.0,838.0l2.5,4.8a3.0,3.0 0 1 1-5.1,0zM1590.0,836.6l2.5,4.8a3.0,3.0 0 1 1-5.1,0zM1598.0,835.3l2.5,4.8a3.0,3.0 0 1 1-5.1,0zM1606.0,833.9l2.5,4.8a3.0,3.0 0 1 1-5.1,0zM1502.0,847.9l2.5,4.8a3.0,3.0 0 1 1-5.1,0zM1510.0,847.5l2.5,4.8a3.0,3.0 0 1 1-5.1,0zM1518.0,847.0l2.5,4.8a3.0,3.0 0 1 1-5.1,0zM1526.0,846.6l2.5,4.8a3.0,3.0 0 1 1-5.1,0zM1534.0,846.1l2.5,4.8a3.0,3.0 0 1 1-5.1,0zM1542.0,845.6l2.5,4.8a3.0,3.0 0 1 1-5.1,0zM1550.0,844.7l2.5,4.8a3.0,3.0 0 1 1-5.1,0zM1558.0,843.7l2.5,4.8a3.0,3.0 0 1 1-5.1,0zM1566.0,842.6l2.5,4.8a3.0,3.0 0 1 1-5.1,0zM1574.0,841.5l2.5,4.8a3.0,3.0 0 1 1-5.1,0zM1582.0,840.5l2.5,4.8a3.0,3.0 0 1 1-5.1,0zM1590.0,838.9l2.5,4.8a3.0,3.0 0 1 1-5.1,0zM1598.0,837.3l2.5,4.8a3.0,3.0 0 1 1-5.1,0zM1606.0,835.7l2.5,4.8a3.0,3.0 0 1 1-5.1,0zM1347.0,933.3l2.8,5.3a3.3,3.3 0 1 1-5.6,0zM1356.8,909.7l2.8,5.3a3.3,3.3 0 1 1-5.6,0zM1366.6,887.2l2.8,5.3a3.3,3.3 0 1 1-5.6,0zM1376.4,873.1l2.8,5.3a3.3,3.3 0 1 1-5.6,0zM1386.2,861.4l2.8,5.3a3.3,3.3 0 1 1-5.6,0zM1396.0,850.4l2.8,5.3a3.3,3.3 0 1 1-5.6,0zM1405.8,846.0l2.8,5.3a3.3,3.3 0 1 1-5.6,0zM1415.6,844.9l2.8,5.3a3.3,3.3 0 1 1-5.6,0zM1425.4,845.6l2.8,5.3a3.3,3.3 0 1 1-5.6,0zM1435.2,846.7l2.8,5.3a3.3,3.3 0 1 1-5.6,0zM1445.0,847.7l2.8,5.3a3.3,3.3 0 1 1-5.6,0zM1454.8,848.7l2.8,5.3a3.3,3.3 0 1 1-5.6,0zM1464.6,849.3l2.8,5.3a3.3,3.3 0 1 1-5.6,0zM1474.4,849.9l2.8,5.3a3.3,3.3 0 1 1-5.6,0zM1484.2,850.5l2.8,5.3a3.3,3.3 0 1 1-5.6,0zM1351.9,925.1l2.8,5.3a3.3,3.3 0 1 1-5.6,0zM1361.7,901.3l2.8,5.3a3.3,3.3 0 1 1-5.6,0zM1400.9,857.0l2.8,5.3a3.3,3.3 0 1 1-5.6,0zM1410.7,856.5l2.8,5.3a3.3,3.3 0 1 1-5.6,0zM1420.5,856.6l2.8,5.3a3.3,3.3 0 1 1-5.6,0zM1430.3,858.1l2.8,5.3a3.3,3.3 0 1 1-5.6,0zM1440.1,859.6l2.8,5.3a3.3,3.3 0 1 1-5.6,0zM1449.9,861.2l2.8,5.3a3.3,3.3 0 1 1-5.6,0zM1459.7,862.6l2.8,5.3a3.3,3.3 0 1 1-5.6,0zM1469.5,863.9l2.8,5.3a3.3,3.3 0 1 1-5.6,0zM1479.3,865.3l2.8,5.3a3.3,3.3 0 1 1-5.6,0zM1356.8,917.3l2.8,5.3a3.3,3.3 0 1 1-5.6,0zM1376.4,887.7l2.8,5.3a3.3,3.3 0 1 1-5.6,0zM1386.2,878.7l2.8,5.3a3.3,3.3 0 1 1-5.6,0zM1396.0,870.3l2.8,5.3a3.3,3.3 0 1 1-5.6,0zM1405.8,867.5l2.8,5.3a3.3,3.3 0 1 1-5.6,0zM1415.6,867.4l2.8,5.3a3.3,3.3 0 1 1-5.6,0zM1425.4,869.1l2.8,5.3a3.3,3.3 0 1 1-5.6,0zM1435.2,871.0l2.8,5.3a3.3,3.3 0 1 1-5.6,0zM1445.0,873.0l2.8,5.3a3.3,3.3 0 1 1-5.6,0zM1454.8,875.2l2.8,5.3a3.3,3.3 0 1 1-5.6,0zM1464.6,877.1l2.8,5.3a3.3,3.3 0 1 1-5.6,0zM1474.4,879.4l2.8,5.3a3.3,3.3 0 1 1-5.6,0zM1484.2,880.8l2.8,5.3a3.3,3.3 0 1 1-5.6,0zM1371.5,899.2l2.8,5.3a3.3,3.3 0 1 1-5.6,0zM1400.9,878.0l2.8,5.3a3.3,3.3 0 1 1-5.6,0zM1410.7,878.5l2.8,5.3a3.3,3.3 0 1 1-5.6,0zM1420.5,879.6l2.8,5.3a3.3,3.3 0 1 1-5.6,0zM1430.3,882.0l2.8,5.3a3.3,3.3 0 1 1-5.6,0zM1440.1,884.4l2.8,5.3a3.3,3.3 0 1 1-5.6,0zM1449.9,887.1l2.8,5.3a3.3,3.3 0 1 1-5.6,0zM1459.7,889.7l2.8,5.3a3.3,3.3 0 1 1-5.6,0zM1469.5,892.5l2.8,5.3a3.3,3.3 0 1 1-5.6,0zM1479.3,895.4l2.8,5.3a3.3,3.3 0 1 1-5.6,0zM1366.6,910.2l2.8,5.3a3.3,3.3 0 1 1-5.6,0zM1386.2,896.0l2.8,5.3a3.3,3.3 0 1 1-5.6,0zM1396.0,890.2l2.8,5.3a3.3,3.3 0 1 1-5.6,0zM1405.8,888.9l2.8,5.3a3.3,3.3 0 1 1-5.6,0zM1415.6,890.0l2.8,5.3a3.3,3.3 0 1 1-5.6,0zM1425.4,892.5l2.8,5.3a3.3,3.3 0 1 1-5.6,0zM1435.2,895.4l2.8,5.3a3.3,3.3 0 1 1-5.6,0zM1445.0,898.3l2.8,5.3a3.3,3.3 0 1 1-5.6,0zM1454.8,901.7l2.8,5.3a3.3,3.3 0 1 1-5.6,0zM1464.6,904.9l2.8,5.3a3.3,3.3 0 1 1-5.6,0zM1474.4,908.8l2.8,5.3a3.3,3.3 0 1 1-5.6,0zM1484.2,911.1l2.8,5.3a3.3,3.3 0 1 1-5.6,0zM1351.9,935.7l2.8,5.3a3.3,3.3 0 1 1-5.6,0zM1381.3,907.0l2.8,5.3a3.3,3.3 0 1 1-5.6,0zM1391.1,902.3l2.8,5.3a3.3,3.3 0 1 1-5.6,0zM1400.9,898.9l2.8,5.3a3.3,3.3 0 1 1-5.6,0zM1410.7,900.4l2.8,5.3a3.3,3.3 0 1 1-5.6,0zM1420.5,902.6l2.8,5.3a3.3,3.3 0 1 1-5.6,0zM1430.3,905.9l2.8,5.3a3.3,3.3 0 1 1-5.6,0zM1440.1,909.2l2.8,5.3a3.3,3.3 0 1 1-5.6,0zM1449.9,912.9l2.8,5.3a3.3,3.3 0 1 1-5.6,0zM1459.7,916.8l2.8,5.3a3.3,3.3 0 1 1-5.6,0zM1469.5,921.2l2.8,5.3a3.3,3.3 0 1 1-5.6,0zM1479.3,925.5l2.8,5.3a3.3,3.3 0 1 1-5.6,0zM1347.0,943.5l2.8,5.3a3.3,3.3 0 1 1-5.6,0zM1366.6,921.8l2.8,5.3a3.3,3.3 0 1 1-5.6,0zM1376.4,916.9l2.8,5.3a3.3,3.3 0 1 1-5.6,0zM1386.2,913.3l2.8,5.3a3.3,3.3 0 1 1-5.6,0zM1396.0,910.0l2.8,5.3a3.3,3.3 0 1 1-5.6,0zM1405.8,910.4l2.8,5.3a3.3,3.3 0 1 1-5.6,0zM1415.6,912.5l2.8,5.3a3.3,3.3 0 1 1-5.6,0zM1425.4,916.0l2.8,5.3a3.3,3.3 0 1 1-5.6,0zM1435.2,919.7l2.8,5.3a3.3,3.3 0 1 1-5.6,0zM1445.0,923.6l2.8,5.3a3.3,3.3 0 1 1-5.6,0zM1454.8,928.2l2.8,5.3a3.3,3.3 0 1 1-5.6,0zM1464.6,932.7l2.8,5.3a3.3,3.3 0 1 1-5.6,0zM1474.4,938.3l2.8,5.3a3.3,3.3 0 1 1-5.6,0zM1484.2,941.5l2.8,5.3a3.3,3.3 0 1 1-5.6,0zM1361.7,930.8l2.8,5.3a3.3,3.3 0 1 1-5.6,0zM1381.3,922.9l2.8,5.3a3.3,3.3 0 1 1-5.6,0zM1391.1,920.9l2.8,5.3a3.3,3.3 0 1 1-5.6,0zM1400.9,919.8l2.8,5.3a3.3,3.3 0 1 1-5.6,0zM1410.7,922.4l2.8,5.3a3.3,3.3 0 1 1-5.6,0zM1420.5,925.6l2.8,5.3a3.3,3.3 0 1 1-5.6,0zM1430.3,929.8l2.8,5.3a3.3,3.3 0 1 1-5.6,0zM1440.1,934.0l2.8,5.3a3.3,3.3 0 1 1-5.6,0zM1449.9,938.8l2.8,5.3a3.3,3.3 0 1 1-5.6,0zM1459.7,943.9l2.8,5.3a3.3,3.3 0 1 1-5.6,0zM1469.5,949.8l2.8,5.3a3.3,3.3 0 1 1-5.6,0zM1479.3,955.7l2.8,5.3a3.3,3.3 0 1 1-5.6,0zM1376.4,931.4l2.8,5.3a3.3,3.3 0 1 1-5.6,0zM1386.2,930.6l2.8,5.3a3.3,3.3 0 1 1-5.6,0zM1396.0,929.9l2.8,5.3a3.3,3.3 0 1 1-5.6,0zM1405.8,931.9l2.8,5.3a3.3,3.3 0 1 1-5.6,0zM1415.6,935.0l2.8,5.3a3.3,3.3 0 1 1-5.6,0zM1425.4,939.4l2.8,5.3a3.3,3.3 0 1 1-5.6,0zM1435.2,944.1l2.8,5.3a3.3,3.3 0 1 1-5.6,0zM1445.0,949.0l2.8,5.3a3.3,3.3 0 1 1-5.6,0zM1454.8,954.6l2.8,5.3a3.3,3.3 0 1 1-5.6,0zM1464.6,960.5l2.8,5.3a3.3,3.3 0 1 1-5.6,0zM1474.4,967.7l2.8,5.3a3.3,3.3 0 1 1-5.6,0zM1484.2,971.8l2.8,5.3a3.3,3.3 0 1 1-5.6,0zM1361.7,940.7l2.8,5.3a3.3,3.3 0 1 1-5.6,0zM1371.5,938.7l2.8,5.3a3.3,3.3 0 1 1-5.6,0zM1381.3,938.9l2.8,5.3a3.3,3.3 0 1 1-5.6,0zM1391.1,939.5l2.8,5.3a3.3,3.3 0 1 1-5.6,0zM1400.9,940.7l2.8,5.3a3.3,3.3 0 1 1-5.6,0zM1410.7,944.4l2.8,5.3a3.3,3.3 0 1 1-5.6,0zM1420.5,948.6l2.8,5.3a3.3,3.3 0 1 1-5.6,0zM1430.3,953.7l2.8,5.3a3.3,3.3 0 1 1-5.6,0zM1440.1,958.8l2.8,5.3a3.3,3.3 0 1 1-5.6,0zM1449.9,964.7l2.8,5.3a3.3,3.3 0 1 1-5.6,0zM1459.7,970.9l2.8,5.3a3.3,3.3 0 1 1-5.6,0zM1469.5,978.4l2.8,5.3a3.3,3.3 0 1 1-5.6,0zM1479.3,985.8l2.8,5.3a3.3,3.3 0 1 1-5.6,0zM1356.8,947.4l2.8,5.3a3.3,3.3 0 1 1-5.6,0zM1376.4,946.0l2.8,5.3a3.3,3.3 0 1 1-5.6,0zM1386.2,947.8l2.8,5.3a3.3,3.3 0 1 1-5.6,0zM1396.0,949.8l2.8,5.3a3.3,3.3 0 1 1-5.6,0zM1405.8,953.3l2.8,5.3a3.3,3.3 0 1 1-5.6,0zM1415.6,957.6l2.8,5.3a3.3,3.3 0 1 1-5.6,0zM1425.4,962.9l2.8,5.3a3.3,3.3 0 1 1-5.6,0zM1435.2,968.4l2.8,5.3a3.3,3.3 0 1 1-5.6,0zM1445.0,974.3l2.8,5.3a3.3,3.3 0 1 1-5.6,0zM1454.8,981.1l2.8,5.3a3.3,3.3 0 1 1-5.6,0zM1464.6,988.2l2.8,5.3a3.3,3.3 0 1 1-5.6,0zM1474.4,997.1l2.8,5.3a3.3,3.3 0 1 1-5.6,0zM1484.2,1002.1l2.8,5.3a3.3,3.3 0 1 1-5.6,0zM1371.5,951.8l2.8,5.3a3.3,3.3 0 1 1-5.6,0zM1381.3,954.9l2.8,5.3a3.3,3.3 0 1 1-5.6,0zM1391.1,958.1l2.8,5.3a3.3,3.3 0 1 1-5.6,0zM1400.9,961.6l2.8,5.3a3.3,3.3 0 1 1-5.6,0zM1410.7,966.4l2.8,5.3a3.3,3.3 0 1 1-5.6,0zM1420.5,971.6l2.8,5.3a3.3,3.3 0 1 1-5.6,0zM1430.3,977.6l2.8,5.3a3.3,3.3 0 1 1-5.6,0zM1440.1,983.6l2.8,5.3a3.3,3.3 0 1 1-5.6,0zM1449.9,990.6l2.8,5.3a3.3,3.3 0 1 1-5.6,0zM1459.7,998.0l2.8,5.3a3.3,3.3 0 1 1-5.6,0zM1469.5,1007.0l2.8,5.3a3.3,3.3 0 1 1-5.6,0zM1479.3,1015.9l2.8,5.3a3.3,3.3 0 1 1-5.6,0zM1347.0,953.7l2.8,5.3a3.3,3.3 0 1 1-5.6,0zM1356.8,954.9l2.8,5.3a3.3,3.3 0 1 1-5.6,0zM1376.4,960.6l2.8,5.3a3.3,3.3 0 1 1-5.6,0zM1386.2,965.1l2.8,5.3a3.3,3.3 0 1 1-5.6,0zM1396.0,969.7l2.8,5.3a3.3,3.3 0 1 1-5.6,0zM1405.8,974.8l2.8,5.3a3.3,3.3 0 1 1-5.6,0zM1415.6,980.1l2.8,5.3a3.3,3.3 0 1 1-5.6,0zM1425.4,986.4l2.8,5.3a3.3,3.3 0 1 1-5.6,0zM1435.2,992.8l2.8,5.3a3.3,3.3 0 1 1-5.6,0zM1445.0,999.6l2.8,5.3a3.3,3.3 0 1 1-5.6,0zM1454.8,1007.6l2.8,5.3a3.3,3.3 0 1 1-5.6,0zM1464.6,1016.0l2.8,5.3a3.3,3.3 0 1 1-5.6,0zM1474.4,1026.6l2.8,5.3a3.3,3.3 0 1 1-5.6,0zM1484.2,1032.4l2.8,5.3a3.3,3.3 0 1 1-5.6,0zM1381.3,970.8l2.8,5.3a3.3,3.3 0 1 1-5.6,0zM1391.1,976.7l2.8,5.3a3.3,3.3 0 1 1-5.6,0zM1400.9,982.6l2.8,5.3a3.3,3.3 0 1 1-5.6,0zM1410.7,988.4l2.8,5.3a3.3,3.3 0 1 1-5.6,0zM1420.5,994.7l2.8,5.3a3.3,3.3 0 1 1-5.6,0zM1430.3,1001.5l2.8,5.3a3.3,3.3 0 1 1-5.6,0zM1440.1,1008.4l2.8,5.3a3.3,3.3 0 1 1-5.6,0zM1449.9,1016.5l2.8,5.3a3.3,3.3 0 1 1-5.6,0zM1459.7,1025.1l2.8,5.3a3.3,3.3 0 1 1-5.6,0zM1469.5,1035.6l2.8,5.3a3.3,3.3 0 1 1-5.6,0zM1479.3,1046.1l2.8,5.3a3.3,3.3 0 1 1-5.6,0zM1462.0,1040.4l2.5,4.8a3.0,3.0 0 1 1-5.1,0zM1470.0,1040.4l2.5,4.8a3.0,3.0 0 1 1-5.1,0zM1478.0,1040.4l2.5,4.8a3.0,3.0 0 1 1-5.1,0zM1480.0,1056.4l2.5,4.8a3.0,3.0 0 1 1-5.1,0zM1486.0,1056.4l2.5,4.8a3.0,3.0 0 1 1-5.1,0zM1628.0,855.0l2.7,5.1a3.2,3.2 0 1 1-5.4,0zM1636.5,855.0l2.7,5.1a3.2,3.2 0 1 1-5.4,0zM1645.0,855.0l2.7,5.1a3.2,3.2 0 1 1-5.4,0zM1628.0,869.5l2.7,5.1a3.2,3.2 0 1 1-5.4,0zM1636.5,869.5l2.7,5.1a3.2,3.2 0 1 1-5.4,0zM1645.0,869.5l2.7,5.1a3.2,3.2 0 1 1-5.4,0zM1653.5,869.5l2.7,5.1a3.2,3.2 0 1 1-5.4,0zM1662.0,869.5l2.7,5.1a3.2,3.2 0 1 1-5.4,0zM1628.0,885.0l2.7,5.1a3.2,3.2 0 1 1-5.4,0zM1636.5,885.0l2.7,5.1a3.2,3.2 0 1 1-5.4,0zM1645.0,885.0l2.7,5.1a3.2,3.2 0 1 1-5.4,0zM1653.5,885.0l2.7,5.1a3.2,3.2 0 1 1-5.4,0zM1662.0,885.0l2.7,5.1a3.2,3.2 0 1 1-5.4,0zM1670.5,885.0l2.7,5.1a3.2,3.2 0 1 1-5.4,0zM1679.0,885.0l2.7,5.1a3.2,3.2 0 1 1-5.4,0zM1633.0,898.0l2.7,5.1a3.2,3.2 0 1 1-5.4,0zM1641.5,898.0l2.7,5.1a3.2,3.2 0 1 1-5.4,0zM1650.0,898.0l2.7,5.1a3.2,3.2 0 1 1-5.4,0zM1658.5,898.0l2.7,5.1a3.2,3.2 0 1 1-5.4,0zM1667.0,898.0l2.7,5.1a3.2,3.2 0 1 1-5.4,0zM1675.5,898.0l2.7,5.1a3.2,3.2 0 1 1-5.4,0zM1684.0,898.0l2.7,5.1a3.2,3.2 0 1 1-5.4,0zM1640.0,913.0l2.7,5.1a3.2,3.2 0 1 1-5.4,0zM1648.5,913.0l2.7,5.1a3.2,3.2 0 1 1-5.4,0zM1657.0,913.0l2.7,5.1a3.2,3.2 0 1 1-5.4,0zM1665.5,913.0l2.7,5.1a3.2,3.2 0 1 1-5.4,0zM1674.0,913.0l2.7,5.1a3.2,3.2 0 1 1-5.4,0zM1646.0,926.0l2.7,5.1a3.2,3.2 0 1 1-5.4,0zM1654.5,926.0l2.7,5.1a3.2,3.2 0 1 1-5.4,0zM1663.0,926.0l2.7,5.1a3.2,3.2 0 1 1-5.4,0zM1671.5,926.0l2.7,5.1a3.2,3.2 0 1 1-5.4,0zM1650.0,940.0l2.7,5.1a3.2,3.2 0 1 1-5.4,0zM1658.5,940.0l2.7,5.1a3.2,3.2 0 1 1-5.4,0zM1667.0,940.0l2.7,5.1a3.2,3.2 0 1 1-5.4,0zM1656.0,953.0l2.7,5.1a3.2,3.2 0 1 1-5.4,0zM1300.2,905.6l2.9,5.4a3.4,3.4 0 1 1-5.8,0zM1302.1,902.7l2.9,5.4a3.4,3.4 0 1 1-5.8,0zM1304.0,899.7l2.9,5.4a3.4,3.4 0 1 1-5.8,0zM1305.9,896.8l2.9,5.4a3.4,3.4 0 1 1-5.8,0zM1307.8,893.8l2.9,5.4a3.4,3.4 0 1 1-5.8,0zM1309.6,890.9l2.9,5.4a3.4,3.4 0 1 1-5.8,0zM1311.5,887.9l2.9,5.4a3.4,3.4 0 1 1-5.8,0zM1313.4,885.0l2.9,5.4a3.4,3.4 0 1 1-5.8,0zM1315.3,882.0l2.9,5.4a3.4,3.4 0 1 1-5.8,0zM1317.2,879.1l2.9,5.4a3.4,3.4 0 1 1-5.8,0zM1319.0,876.1l2.9,5.4a3.4,3.4 0 1 1-5.8,0zM1320.9,873.1l2.9,5.4a3.4,3.4 0 1 1-5.8,0zM1322.7,870.2l2.9,5.4a3.4,3.4 0 1 1-5.8,0zM1324.6,867.2l2.9,5.4a3.4,3.4 0 1 1-5.8,0zM1326.4,864.2l2.9,5.4a3.4,3.4 0 1 1-5.8,0zM1328.3,861.3l2.9,5.4a3.4,3.4 0 1 1-5.8,0zM1330.2,858.3l2.9,5.4a3.4,3.4 0 1 1-5.8,0zM1332.2,855.5l2.9,5.4a3.4,3.4 0 1 1-5.8,0zM1334.2,852.6l2.9,5.4a3.4,3.4 0 1 1-5.8,0zM1336.3,849.8l2.9,5.4a3.4,3.4 0 1 1-5.8,0zM1338.3,846.9l2.9,5.4a3.4,3.4 0 1 1-5.8,0zM1340.3,844.1l2.9,5.4a3.4,3.4 0 1 1-5.8,0zM1342.4,841.2l2.9,5.4a3.4,3.4 0 1 1-5.8,0zM1344.4,838.4l2.9,5.4a3.4,3.4 0 1 1-5.8,0zM1346.8,835.8l2.9,5.4a3.4,3.4 0 1 1-5.8,0zM1349.3,833.4l2.9,5.4a3.4,3.4 0 1 1-5.8,0zM1351.8,830.9l2.9,5.4a3.4,3.4 0 1 1-5.8,0zM1354.3,828.5l2.9,5.4a3.4,3.4 0 1 1-5.8,0zM1356.8,826.1l2.9,5.4a3.4,3.4 0 1 1-5.8,0zM1359.6,824.4l2.9,5.4a3.4,3.4 0 1 1-5.8,0zM1363.0,825.0l2.9,5.4a3.4,3.4 0 1 1-5.8,0zM1366.4,825.6l2.9,5.4a3.4,3.4 0 1 1-5.8,0zM1369.9,826.2l2.9,5.4a3.4,3.4 0 1 1-5.8,0zM1373.2,827.1l2.9,5.4a3.4,3.4 0 1 1-5.8,0zM1376.4,828.5l2.9,5.4a3.4,3.4 0 1 1-5.8,0zM1379.6,829.9l2.9,5.4a3.4,3.4 0 1 1-5.8,0zM1382.8,831.4l2.9,5.4a3.4,3.4 0 1 1-5.8,0zM1501.1,753.9l2.5,4.8a3.0,3.0 0 1 1-5.1,0zM1503.3,757.2l2.5,4.8a3.0,3.0 0 1 1-5.1,0zM1505.5,760.6l2.5,4.8a3.0,3.0 0 1 1-5.1,0zM1507.8,763.9l2.5,4.8a3.0,3.0 0 1 1-5.1,0zM1510.0,767.2l2.5,4.8a3.0,3.0 0 1 1-5.1,0zM1512.3,770.4l2.5,4.8a3.0,3.0 0 1 1-5.1,0zM1514.9,773.5l2.5,4.8a3.0,3.0 0 1 1-5.1,0zM1517.5,776.6l2.5,4.8a3.0,3.0 0 1 1-5.1,0zM1520.0,779.6l2.5,4.8a3.0,3.0 0 1 1-5.1,0zM1522.6,782.7l2.5,4.8a3.0,3.0 0 1 1-5.1,0zM1525.3,785.7l2.5,4.8a3.0,3.0 0 1 1-5.1,0zM1528.1,788.5l2.5,4.8a3.0,3.0 0 1 1-5.1,0zM1530.9,791.4l2.5,4.8a3.0,3.0 0 1 1-5.1,0zM1533.7,794.2l2.5,4.8a3.0,3.0 0 1 1-5.1,0zM1536.5,797.0l2.5,4.8a3.0,3.0 0 1 1-5.1,0zM1539.4,799.8l2.5,4.8a3.0,3.0 0 1 1-5.1,0zM1542.6,802.2l2.5,4.8a3.0,3.0 0 1 1-5.1,0zM1545.9,804.5l2.5,4.8a3.0,3.0 0 1 1-5.1,0zM1549.2,806.8l2.5,4.8a3.0,3.0 0 1 1-5.1,0zM1552.4,809.1l2.5,4.8a3.0,3.0 0 1 1-5.1,0zM1555.7,811.5l2.5,4.8a3.0,3.0 0 1 1-5.1,0zM1559.3,813.0l2.5,4.8a3.0,3.0 0 1 1-5.1,0zM1563.2,813.9l2.5,4.8a3.0,3.0 0 1 1-5.1,0zM1567.1,814.9l2.5,4.8a3.0,3.0 0 1 1-5.1,0zM1570.9,815.9l2.5,4.8a3.0,3.0 0 1 1-5.1,0zM1574.8,816.9l2.5,4.8a3.0,3.0 0 1 1-5.1,0zM1578.7,817.6l2.5,4.8a3.0,3.0 0 1 1-5.1,0zM1582.7,817.9l2.5,4.8a3.0,3.0 0 1 1-5.1,0zM1586.7,818.2l2.5,4.8a3.0,3.0 0 1 1-5.1,0zM1590.7,818.5l2.5,4.8a3.0,3.0 0 1 1-5.1,0zM1594.7,818.8l2.5,4.8a3.0,3.0 0 1 1-5.1,0zM1492.0,852.8l2.4,4.5a2.8,2.8 0 1 1-4.8,0zM1492.0,861.8l2.4,4.5a2.8,2.8 0 1 1-4.8,0zM1492.0,870.8l2.4,4.5a2.8,2.8 0 1 1-4.8,0zM1492.0,879.8l2.4,4.5a2.8,2.8 0 1 1-4.8,0zM1492.0,888.8l2.4,4.5a2.8,2.8 0 1 1-4.8,0zM1492.0,897.8l2.4,4.5a2.8,2.8 0 1 1-4.8,0zM1492.0,906.8l2.4,4.5a2.8,2.8 0 1 1-4.8,0zM1492.0,915.8l2.4,4.5a2.8,2.8 0 1 1-4.8,0zM1492.0,924.8l2.4,4.5a2.8,2.8 0 1 1-4.8,0zM1492.0,933.8l2.4,4.5a2.8,2.8 0 1 1-4.8,0zM1492.0,942.8l2.4,4.5a2.8,2.8 0 1 1-4.8,0zM1492.0,951.8l2.4,4.5a2.8,2.8 0 1 1-4.8,0zM1492.0,960.8l2.4,4.5a2.8,2.8 0 1 1-4.8,0zM1492.0,969.8l2.4,4.5a2.8,2.8 0 1 1-4.8,0zM1492.0,978.8l2.4,4.5a2.8,2.8 0 1 1-4.8,0zM1492.0,987.8l2.4,4.5a2.8,2.8 0 1 1-4.8,0zM1492.0,996.8l2.4,4.5a2.8,2.8 0 1 1-4.8,0zM1492.0,1005.8l2.4,4.5a2.8,2.8 0 1 1-4.8,0zM1492.0,1014.8l2.4,4.5a2.8,2.8 0 1 1-4.8,0zM1492.0,1023.8l2.4,4.5a2.8,2.8 0 1 1-4.8,0zM1492.0,1032.8l2.4,4.5a2.8,2.8 0 1 1-4.8,0z" fill="#ff0000"/>
<path d="M1503.0,228.3l3.0-5.6a3.5,3.5 0 1 0-6.0,0zM1514.5,205.8l3.0-5.6a3.5,3.5 0 1 0-6.0,0zM1526.0,190.3l3.0-5.6a3.5,3.5 0 1 0-6.0,0zM1537.5,182.1l3.0-5.6a3.5,3.5 0 1 0-6.0,0zM1549.0,175.6l3.0-5.6a3.5,3.5 0 1 0-6.0,0zM1560.5,172.0l3.0-5.6a3.5,3.5 0 1 0-6.0,0zM1572.0,171.9l3.0-5.6a3.5,3.5 0 1 0-6.0,0zM1583.5,173.8l3.0-5.6a3.5,3.5 0 1 0-6.0,0zM1595.0,181.3l3.0-5.6a3.5,3.5 0 1 0-6.0,0zM1606.5,190.2l3.0-5.6a3.5,3.5 0 1 0-6.0,0zM1618.0,201.5l3.0-5.6a3.5,3.5 0 1 0-6.0,0zM1629.5,223.7l3.0-5.6a3.5,3.5 0 1 0-6.0,0zM1641.0,257.2l3.0-5.6a3.5,3.5 0 1 0-6.0,0zM1508.8,214.9l3.0-5.6a3.5,3.5 0 1 0-6.0,0zM1520.2,198.8l3.0-5.6a3.5,3.5 0 1 0-6.0,0zM1531.8,186.7l3.0-5.6a3.5,3.5 0 1 0-6.0,0zM1543.2,179.1l3.0-5.6a3.5,3.5 0 1 0-6.0,0zM1554.8,174.6l3.0-5.6a3.5,3.5 0 1 0-6.0,0zM1566.2,171.8l3.0-5.6a3.5,3.5 0 1 0-6.0,0zM1577.8,173.6l3.0-5.6a3.5,3.5 0 1 0-6.0,0zM1589.2,178.4l3.0-5.6a3.5,3.5 0 1 0-6.0,0zM1600.8,185.8l3.0-5.6a3.5,3.5 0 1 0-6.0,0zM1612.2,196.6l3.0-5.6a3.5,3.5 0 1 0-6.0,0zM1623.8,211.7l3.0-5.6a3.5,3.5 0 1 0-6.0,0zM1635.2,239.0l3.0-5.6a3.5,3.5 0 1 0-6.0,0zM1646.8,308.2l3.0-5.6a3.5,3.5 0 1 0-6.0,0zM1503.0,230.6l3.0-5.6a3.5,3.5 0 1 0-6.0,0zM1514.5,208.4l3.0-5.6a3.5,3.5 0 1 0-6.0,0zM1526.0,193.2l3.0-5.6a3.5,3.5 0 1 0-6.0,0zM1537.5,185.0l3.0-5.6a3.5,3.5 0 1 0-6.0,0zM1549.0,178.6l3.0-5.6a3.5,3.5 0 1 0-6.0,0zM1560.5,175.0l3.0-5.6a3.5,3.5 0 1 0-6.0,0zM1572.0,174.9l3.0-5.6a3.5,3.5 0 1 0-6.0,0zM1583.5,176.8l3.0-5.6a3.5,3.5 0 1 0-6.0,0zM1595.0,184.1l3.0-5.6a3.5,3.5 0 1 0-6.0,0zM1606.5,192.8l3.0-5.6a3.5,3.5 0 1 0-6.0,0zM1618.0,203.9l3.0-5.6a3.5,3.5 0 1 0-6.0,0zM1629.5,225.6l3.0-5.6a3.5,3.5 0 1 0-6.0,0zM1641.0,258.5l3.0-5.6a3.5,3.5 0 1 0-6.0,0zM1508.8,219.3l3.0-5.6a3.5,3.5 0 1 0-6.0,0zM1520.2,203.7l3.0-5.6a3.5,3.5 0 1 0-6.0,0zM1531.8,191.8l3.0-5.6a3.5,3.5 0 1 0-6.0,0zM1543.2,184.5l3.0-5.6a3.5,3.5 0 1 0-6.0,0zM1554.8,180.1l3.0-5.6a3.5,3.5 0 1 0-6.0,0zM1566.2,177.3l3.0-5.6a3.5,3.5 0 1 0-6.0,0zM1577.8,179.0l3.0-5.6a3.5,3.5 0 1 0-6.0,0zM1589.2,183.5l3.0-5.6a3.5,3.5 0 1 0-6.0,0zM1600.8,190.6l3.0-5.6a3.5,3.5 0 1 0-6.0,0zM1612.2,201.0l3.0-5.6a3.5,3.5 0 1 0-6.0,0zM1623.8,215.5l3.0-5.6a3.5,3.5 0 1 0-6.0,0zM1635.2,242.0l3.0-5.6a3.5,3.5 0 1 0-6.0,0zM1646.8,309.0l3.0-5.6a3.5,3.5 0 1 0-6.0,0zM1503.0,236.1l3.0-5.6a3.5,3.5 0 1 0-6.0,0zM1514.5,214.9l3.0-5.6a3.5,3.5 0 1 0-6.0,0zM1526.0,200.2l3.0-5.6a3.5,3.5 0 1 0-6.0,0zM1537.5,192.3l3.0-5.6a3.5,3.5 0 1 0-6.0,0zM1549.0,186.1l3.0-5.6a3.5,3.5 0 1 0-6.0,0zM1560.5,182.6l3.0-5.6a3.5,3.5 0 1 0-6.0,0zM1572.0,182.3l3.0-5.6a3.5,3.5 0 1 0-6.0,0zM1583.5,184.1l3.0-5.6a3.5,3.5 0 1 0-6.0,0zM1595.0,190.9l3.0-5.6a3.5,3.5 0 1 0-6.0,0zM1606.5,199.2l3.0-5.6a3.5,3.5 0 1 0-6.0,0zM1618.0,209.7l3.0-5.6a3.5,3.5 0 1 0-6.0,0zM1629.5,230.4l3.0-5.6a3.5,3.5 0 1 0-6.0,0zM1641.0,261.8l3.0-5.6a3.5,3.5 0 1 0-6.0,0zM1508.8,227.1l3.0-5.6a3.5,3.5 0 1 0-6.0,0zM1520.2,212.2l3.0-5.6a3.5,3.5 0 1 0-6.0,0zM1531.8,200.9l3.0-5.6a3.5,3.5 0 1 0-6.0,0zM1543.2,193.8l3.0-5.6a3.5,3.5 0 1 0-6.0,0zM1554.8,189.5l3.0-5.6a3.5,3.5 0 1 0-6.0,0zM1566.2,186.8l3.0-5.6a3.5,3.5 0 1 0-6.0,0zM1577.8,188.2l3.0-5.6a3.5,3.5 0 1 0-6.0,0zM1589.2,192.4l3.0-5.6a3.5,3.5 0 1 0-6.0,0zM1600.8,199.0l3.0-5.6a3.5,3.5 0 1 0-6.0,0zM1612.2,208.7l3.0-5.6a3.5,3.5 0 1 0-6.0,0zM1623.8,222.3l3.0-5.6a3.5,3.5 0 1 0-6.0,0zM1635.2,247.2l3.0-5.6a3.5,3.5 0 1 0-6.0,0zM1646.8,310.3l3.0-5.6a3.5,3.5 0 1 0-6.0,0zM1503.0,244.5l3.0-5.6a3.5,3.5 0 1 0-6.0,0zM1514.5,224.6l3.0-5.6a3.5,3.5 0 1 0-6.0,0zM1526.0,210.8l3.0-5.6a3.5,3.5 0 1 0-6.0,0zM1537.5,203.3l3.0-5.6a3.5,3.5 0 1 0-6.0,0zM1549.0,197.4l3.0-5.6a3.5,3.5 0 1 0-6.0,0zM1560.5,193.9l3.0-5.6a3.5,3.5 0 1 0-6.0,0zM1572.0,193.6l3.0-5.6a3.5,3.5 0 1 0-6.0,0zM1583.5,195.0l3.0-5.6a3.5,3.5 0 1 0-6.0,0zM1595.0,201.3l3.0-5.6a3.5,3.5 0 1 0-6.0,0zM1606.5,208.8l3.0-5.6a3.5,3.5 0 1 0-6.0,0zM1618.0,218.5l3.0-5.6a3.5,3.5 0 1 0-6.0,0zM1629.5,237.7l3.0-5.6a3.5,3.5 0 1 0-6.0,0zM1641.0,266.8l3.0-5.6a3.5,3.5 0 1 0-6.0,0zM1508.8,237.8l3.0-5.6a3.5,3.5 0 1 0-6.0,0zM1520.2,224.0l3.0-5.6a3.5,3.5 0 1 0-6.0,0zM1531.8,213.4l3.0-5.6a3.5,3.5 0 1 0-6.0,0zM1543.2,206.8l3.0-5.6a3.5,3.5 0 1 0-6.0,0zM1554.8,202.7l3.0-5.6a3.5,3.5 0 1 0-6.0,0zM1566.2,200.0l3.0-5.6a3.5,3.5 0 1 0-6.0,0zM1577.8,201.1l3.0-5.6a3.5,3.5 0 1 0-6.0,0zM1589.2,204.7l3.0-5.6a3.5,3.5 0 1 0-6.0,0zM1600.8,210.6l3.0-5.6a3.5,3.5 0 1 0-6.0,0zM1612.2,219.4l3.0-5.6a3.5,3.5 0 1 0-6.0,0zM1623.8,231.7l3.0-5.6a3.5,3.5 0 1 0-6.0,0zM1635.2,254.5l3.0-5.6a3.5,3.5 0 1 0-6.0,0zM1646.8,312.2l3.0-5.6a3.5,3.5 0 1 0-6.0,0zM1503.0,255.5l3.0-5.6a3.5,3.5 0 1 0-6.0,0zM1514.5,237.3l3.0-5.6a3.5,3.5 0 1 0-6.0,0zM1526.0,224.7l3.0-5.6a3.5,3.5 0 1 0-6.0,0zM1537.5,217.7l3.0-5.6a3.5,3.5 0 1 0-6.0,0zM1549.0,212.2l3.0-5.6a3.5,3.5 0 1 0-6.0,0zM1560.5,208.9l3.0-5.6a3.5,3.5 0 1 0-6.0,0zM1572.0,208.3l3.0-5.6a3.5,3.5 0 1 0-6.0,0zM1583.5,209.4l3.0-5.6a3.5,3.5 0 1 0-6.0,0zM1595.0,214.8l3.0-5.6a3.5,3.5 0 1 0-6.0,0zM1606.5,221.5l3.0-5.6a3.5,3.5 0 1 0-6.0,0zM1618.0,230.0l3.0-5.6a3.5,3.5 0 1 0-6.0,0zM1629.5,247.2l3.0-5.6a3.5,3.5 0 1 0-6.0,0zM1641.0,273.3l3.0-5.6a3.5,3.5 0 1 0-6.0,0zM1508.8,251.2l3.0-5.6a3.5,3.5 0 1 0-6.0,0zM1520.2,238.8l3.0-5.6a3.5,3.5 0 1 0-6.0,0zM1531.8,229.2l3.0-5.6a3.5,3.5 0 1 0-6.0,0zM1543.2,223.1l3.0-5.6a3.5,3.5 0 1 0-6.0,0zM1554.8,219.2l3.0-5.6a3.5,3.5 0 1 0-6.0,0zM1566.2,216.6l3.0-5.6a3.5,3.5 0 1 0-6.0,0zM1577.8,217.3l3.0-5.6a3.5,3.5 0 1 0-6.0,0zM1589.2,220.3l3.0-5.6a3.5,3.5 0 1 0-6.0,0zM1600.8,225.2l3.0-5.6a3.5,3.5 0 1 0-6.0,0zM1612.2,232.8l3.0-5.6a3.5,3.5 0 1 0-6.0,0zM1623.8,243.6l3.0-5.6a3.5,3.5 0 1 0-6.0,0zM1635.2,263.5l3.0-5.6a3.5,3.5 0 1 0-6.0,0zM1646.8,314.6l3.0-5.6a3.5,3.5 0 1 0-6.0,0zM1503.0,269.0l3.0-5.6a3.5,3.5 0 1 0-6.0,0zM1514.5,252.9l3.0-5.6a3.5,3.5 0 1 0-6.0,0zM1526.0,241.6l3.0-5.6a3.5,3.5 0 1 0-6.0,0zM1537.5,235.3l3.0-5.6a3.5,3.5 0 1 0-6.0,0zM1549.0,230.3l3.0-5.6a3.5,3.5 0 1 0-6.0,0zM1560.5,227.1l3.0-5.6a3.5,3.5 0 1 0-6.0,0zM1572.0,226.4l3.0-5.6a3.5,3.5 0 1 0-6.0,0zM1583.5,227.0l3.0-5.6a3.5,3.5 0 1 0-6.0,0zM1595.0,231.4l3.0-5.6a3.5,3.5 0 1 0-6.0,0zM1606.5,236.9l3.0-5.6a3.5,3.5 0 1 0-6.0,0zM1618.0,244.1l3.0-5.6a3.5,3.5 0 1 0-6.0,0zM1629.5,258.8l3.0-5.6a3.5,3.5 0 1 0-6.0,0zM1641.0,281.3l3.0-5.6a3.5,3.5 0 1 0-6.0,0zM1508.8,267.4l3.0-5.6a3.5,3.5 0 1 0-6.0,0zM1520.2,256.5l3.0-5.6a3.5,3.5 0 1 0-6.0,0zM1531.8,248.1l3.0-5.6a3.5,3.5 0 1 0-6.0,0zM1543.2,242.6l3.0-5.6a3.5,3.5 0 1 0-6.0,0zM1554.8,239.0l3.0-5.6a3.5,3.5 0 1 0-6.0,0zM1566.2,236.4l3.0-5.6a3.5,3.5 0 1 0-6.0,0zM1577.8,236.7l3.0-5.6a3.5,3.5 0 1 0-6.0,0zM1589.2,238.9l3.0-5.6a3.5,3.5 0 1 0-6.0,0zM1600.8,242.7l3.0-5.6a3.5,3.5 0 1 0-6.0,0zM1612.2,248.8l3.0-5.6a3.5,3.5 0 1 0-6.0,0zM1623.8,257.7l3.0-5.6a3.5,3.5 0 1 0-6.0,0zM1635.2,274.4l3.0-5.6a3.5,3.5 0 1 0-6.0,0zM1646.8,317.4l3.0-5.6a3.5,3.5 0 1 0-6.0,0zM1503.0,284.7l3.0-5.6a3.5,3.5 0 1 0-6.0,0zM1514.5,271.2l3.0-5.6a3.5,3.5 0 1 0-6.0,0zM1526.0,261.6l3.0-5.6a3.5,3.5 0 1 0-6.0,0zM1537.5,256.0l3.0-5.6a3.5,3.5 0 1 0-6.0,0zM1549.0,251.5l3.0-5.6a3.5,3.5 0 1 0-6.0,0zM1560.5,248.5l3.0-5.6a3.5,3.5 0 1 0-6.0,0zM1572.0,247.5l3.0-5.6a3.5,3.5 0 1 0-6.0,0zM1583.5,247.6l3.0-5.6a3.5,3.5 0 1 0-6.0,0zM1595.0,250.9l3.0-5.6a3.5,3.5 0 1 0-6.0,0zM1606.5,255.0l3.0-5.6a3.5,3.5 0 1 0-6.0,0zM1618.0,260.6l3.0-5.6a3.5,3.5 0 1 0-6.0,0zM1629.5,272.4l3.0-5.6a3.5,3.5 0 1 0-6.0,0zM1641.0,290.7l3.0-5.6a3.5,3.5 0 1 0-6.0,0zM1508.8,286.0l3.0-5.6a3.5,3.5 0 1 0-6.0,0zM1520.2,277.0l3.0-5.6a3.5,3.5 0 1 0-6.0,0zM1531.8,269.9l3.0-5.6a3.5,3.5 0 1 0-6.0,0zM1543.2,265.1l3.0-5.6a3.5,3.5 0 1 0-6.0,0zM1554.8,261.9l3.0-5.6a3.5,3.5 0 1 0-6.0,0zM1566.2,259.3l3.0-5.6a3.5,3.5 0 1 0-6.0,0zM1577.8,259.1l3.0-5.6a3.5,3.5 0 1 0-6.0,0zM1589.2,260.4l3.0-5.6a3.5,3.5 0 1 0-6.0,0zM1600.8,263.0l3.0-5.6a3.5,3.5 0 1 0-6.0,0zM1612.2,267.4l3.0-5.6a3.5,3.5 0 1 0-6.0,0zM1623.8,274.1l3.0-5.6a3.5,3.5 0 1 0-6.0,0zM1635.2,287.0l3.0-5.6a3.5,3.5 0 1 0-6.0,0zM1646.8,320.6l3.0-5.6a3.5,3.5 0 1 0-6.0,0zM1503.0,302.8l3.0-5.6a3.5,3.5 0 1 0-6.0,0zM1514.5,292.1l3.0-5.6a3.5,3.5 0 1 0-6.0,0zM1526.0,284.4l3.0-5.6a3.5,3.5 0 1 0-6.0,0zM1537.5,279.7l3.0-5.6a3.5,3.5 0 1 0-6.0,0zM1549.0,275.8l3.0-5.6a3.5,3.5 0 1 0-6.0,0zM1560.5,273.0l3.0-5.6a3.5,3.5 0 1 0-6.0,0zM1572.0,271.7l3.0-5.6a3.5,3.5 0 1 0-6.0,0zM1583.5,271.2l3.0-5.6a3.5,3.5 0 1 0-6.0,0zM1595.0,273.2l3.0-5.6a3.5,3.5 0 1 0-6.0,0zM1606.5,275.7l3.0-5.6a3.5,3.5 0 1 0-6.0,0zM1618.0,279.5l3.0-5.6a3.5,3.5 0 1 0-6.0,0zM1629.5,288.0l3.0-5.6a3.5,3.5 0 1 0-6.0,0zM1641.0,301.3l3.0-5.6a3.5,3.5 0 1 0-6.0,0zM1508.8,307.1l3.0-5.6a3.5,3.5 0 1 0-6.0,0zM1520.2,300.2l3.0-5.6a3.5,3.5 0 1 0-6.0,0zM1531.8,294.6l3.0-5.6a3.5,3.5 0 1 0-6.0,0zM1543.2,290.6l3.0-5.6a3.5,3.5 0 1 0-6.0,0zM1554.8,287.7l3.0-5.6a3.5,3.5 0 1 0-6.0,0zM1566.2,285.3l3.0-5.6a3.5,3.5 0 1 0-6.0,0zM1577.8,284.5l3.0-5.6a3.5,3.5 0 1 0-6.0,0zM1589.2,284.7l3.0-5.6a3.5,3.5 0 1 0-6.0,0zM1600.8,285.9l3.0-5.6a3.5,3.5 0 1 0-6.0,0zM1612.2,288.4l3.0-5.6a3.5,3.5 0 1 0-6.0,0zM1623.8,292.6l3.0-5.6a3.5,3.5 0 1 0-6.0,0zM1635.2,301.2l3.0-5.6a3.5,3.5 0 1 0-6.0,0zM1646.8,324.3l3.0-5.6a3.5,3.5 0 1 0-6.0,0zM1503.0,323.0l3.0-5.6a3.5,3.5 0 1 0-6.0,0zM1514.5,315.5l3.0-5.6a3.5,3.5 0 1 0-6.0,0zM1526.0,309.9l3.0-5.6a3.5,3.5 0 1 0-6.0,0zM1537.5,306.2l3.0-5.6a3.5,3.5 0 1 0-6.0,0zM1549.0,303.0l3.0-5.6a3.5,3.5 0 1 0-6.0,0zM1560.5,300.5l3.0-5.6a3.5,3.5 0 1 0-6.0,0zM1572.0,298.8l3.0-5.6a3.5,3.5 0 1 0-6.0,0zM1583.5,297.7l3.0-5.6a3.5,3.5 0 1 0-6.0,0zM1595.0,298.1l3.0-5.6a3.5,3.5 0 1 0-6.0,0zM1606.5,298.9l3.0-5.6a3.5,3.5 0 1 0-6.0,0zM1618.0,300.7l3.0-5.6a3.5,3.5 0 1 0-6.0,0zM1629.5,305.5l3.0-5.6a3.5,3.5 0 1 0-6.0,0zM1641.0,313.3l3.0-5.6a3.5,3.5 0 1 0-6.0,0zM1508.8,330.5l3.0-5.6a3.5,3.5 0 1 0-6.0,0zM1520.2,326.0l3.0-5.6a3.5,3.5 0 1 0-6.0,0zM1531.8,322.1l3.0-5.6a3.5,3.5 0 1 0-6.0,0zM1543.2,319.0l3.0-5.6a3.5,3.5 0 1 0-6.0,0zM1554.8,316.5l3.0-5.6a3.5,3.5 0 1 0-6.0,0zM1566.2,314.2l3.0-5.6a3.5,3.5 0 1 0-6.0,0zM1577.8,312.7l3.0-5.6a3.5,3.5 0 1 0-6.0,0zM1589.2,311.8l3.0-5.6a3.5,3.5 0 1 0-6.0,0zM1600.8,311.4l3.0-5.6a3.5,3.5 0 1 0-6.0,0zM1612.2,311.7l3.0-5.6a3.5,3.5 0 1 0-6.0,0zM1623.8,313.3l3.0-5.6a3.5,3.5 0 1 0-6.0,0zM1635.2,317.0l3.0-5.6a3.5,3.5 0 1 0-6.0,0zM1646.8,328.4l3.0-5.6a3.5,3.5 0 1 0-6.0,0zM1503.0,345.4l3.0-5.6a3.5,3.5 0 1 0-6.0,0zM1514.5,341.5l3.0-5.6a3.5,3.5 0 1 0-6.0,0zM1526.0,338.2l3.0-5.6a3.5,3.5 0 1 0-6.0,0zM1537.5,335.6l3.0-5.6a3.5,3.5 0 1 0-6.0,0zM1549.0,333.1l3.0-5.6a3.5,3.5 0 1 0-6.0,0zM1560.5,330.8l3.0-5.6a3.5,3.5 0 1 0-6.0,0zM1572.0,328.8l3.0-5.6a3.5,3.5 0 1 0-6.0,0zM1583.5,327.0l3.0-5.6a3.5,3.5 0 1 0-6.0,0zM1595.0,325.7l3.0-5.6a3.5,3.5 0 1 0-6.0,0zM1606.5,324.6l3.0-5.6a3.5,3.5 0 1 0-6.0,0zM1618.0,324.1l3.0-5.6a3.5,3.5 0 1 0-6.0,0zM1629.5,324.8l3.0-5.6a3.5,3.5 0 1 0-6.0,0zM1641.0,326.6l3.0-5.6a3.5,3.5 0 1 0-6.0,0zM1508.8,356.3l3.0-5.6a3.5,3.5 0 1 0-6.0,0zM1520.2,354.3l3.0-5.6a3.5,3.5 0 1 0-6.0,0zM1531.8,352.3l3.0-5.6a3.5,3.5 0 1 0-6.0,0zM1543.2,350.2l3.0-5.6a3.5,3.5 0 1 0-6.0,0zM1554.8,348.2l3.0-5.6a3.5,3.5 0 1 0-6.0,0zM1566.2,345.9l3.0-5.6a3.5,3.5 0 1 0-6.0,0zM1577.8,343.7l3.0-5.6a3.5,3.5 0 1 0-6.0,0zM1589.2,341.5l3.0-5.6a3.5,3.5 0 1 0-6.0,0zM1600.8,339.4l3.0-5.6a3.5,3.5 0 1 0-6.0,0zM1612.2,337.4l3.0-5.6a3.5,3.5 0 1 0-6.0,0zM1623.8,335.9l3.0-5.6a3.5,3.5 0 1 0-6.0,0zM1635.2,334.4l3.0-5.6a3.5,3.5 0 1 0-6.0,0zM1646.8,333.0l3.0-5.6a3.5,3.5 0 1 0-6.0,0zM1501.0,241.2l2.9-5.4a3.4,3.4 0 1 0-5.8,0zM1501.8,235.8l2.9-5.4a3.4,3.4 0 1 0-5.8,0zM1502.7,230.3l2.9-5.4a3.4,3.4 0 1 0-5.8,0zM1503.5,224.9l2.9-5.4a3.4,3.4 0 1 0-5.8,0zM1505.1,219.8l2.9-5.4a3.4,3.4 0 1 0-5.8,0zM1508.1,215.1l2.9-5.4a3.4,3.4 0 1 0-5.8,0zM1511.0,210.4l2.9-5.4a3.4,3.4 0 1 0-5.8,0zM1514.2,206.0l2.9-5.4a3.4,3.4 0 1 0-5.8,0zM1517.5,201.6l2.9-5.4a3.4,3.4 0 1 0-5.8,0zM1520.8,197.2l2.9-5.4a3.4,3.4 0 1 0-5.8,0zM1524.0,192.7l2.9-5.4a3.4,3.4 0 1 0-5.8,0zM1527.4,188.5l2.9-5.4a3.4,3.4 0 1 0-5.8,0zM1532.0,185.4l2.9-5.4a3.4,3.4 0 1 0-5.8,0zM1536.6,182.4l2.9-5.4a3.4,3.4 0 1 0-5.8,0zM1541.2,179.4l2.9-5.4a3.4,3.4 0 1 0-5.8,0zM1545.8,176.4l2.9-5.4a3.4,3.4 0 1 0-5.8,0zM1551.1,174.7l2.9-5.4a3.4,3.4 0 1 0-5.8,0zM1556.3,173.1l2.9-5.4a3.4,3.4 0 1 0-5.8,0zM1561.6,171.4l2.9-5.4a3.4,3.4 0 1 0-5.8,0zM1566.9,170.9l2.9-5.4a3.4,3.4 0 1 0-5.8,0zM1572.3,171.7l2.9-5.4a3.4,3.4 0 1 0-5.8,0zM1577.7,172.6l2.9-5.4a3.4,3.4 0 1 0-5.8,0zM1583.2,173.4l2.9-5.4a3.4,3.4 0 1 0-5.8,0zM1587.8,176.4l2.9-5.4a3.4,3.4 0 1 0-5.8,0zM1592.4,179.4l2.9-5.4a3.4,3.4 0 1 0-5.8,0zM1597.0,182.4l2.9-5.4a3.4,3.4 0 1 0-5.8,0zM1601.6,185.4l2.9-5.4a3.4,3.4 0 1 0-5.8,0zM1605.6,189.2l2.9-5.4a3.4,3.4 0 1 0-5.8,0zM1609.5,193.0l2.9-5.4a3.4,3.4 0 1 0-5.8,0zM1613.5,196.9l2.9-5.4a3.4,3.4 0 1 0-5.8,0zM1617.4,200.7l2.9-5.4a3.4,3.4 0 1 0-5.8,0zM1621.0,204.8l2.9-5.4a3.4,3.4 0 1 0-5.8,0zM1623.3,209.8l2.9-5.4a3.4,3.4 0 1 0-5.8,0zM1625.6,214.8l2.9-5.4a3.4,3.4 0 1 0-5.8,0zM1627.8,219.8l2.9-5.4a3.4,3.4 0 1 0-5.8,0zM1630.1,224.8l2.9-5.4a3.4,3.4 0 1 0-5.8,0zM1632.4,229.8l2.9-5.4a3.4,3.4 0 1 0-5.8,0zM1634.2,235.0l2.9-5.4a3.4,3.4 0 1 0-5.8,0zM1635.8,240.3l2.9-5.4a3.4,3.4 0 1 0-5.8,0zM1637.5,245.5l2.9-5.4a3.4,3.4 0 1 0-5.8,0zM1639.1,250.8l2.9-5.4a3.4,3.4 0 1 0-5.8,0zM1640.7,256.0l2.9-5.4a3.4,3.4 0 1 0-5.8,0zM1642.3,261.3l2.9-5.4a3.4,3.4 0 1 0-5.8,0zM1643.0,266.7l2.9-5.4a3.4,3.4 0 1 0-5.8,0zM1643.5,272.2l2.9-5.4a3.4,3.4 0 1 0-5.8,0zM1644.1,277.7l2.9-5.4a3.4,3.4 0 1 0-5.8,0zM1644.6,283.2l2.9-5.4a3.4,3.4 0 1 0-5.8,0zM1645.1,288.6l2.9-5.4a3.4,3.4 0 1 0-5.8,0zM1645.7,294.1l2.9-5.4a3.4,3.4 0 1 0-5.8,0zM1646.1,299.6l2.9-5.4a3.4,3.4 0 1 0-5.8,0zM1646.5,305.1l2.9-5.4a3.4,3.4 0 1 0-5.8,0zM1647.0,310.6l2.9-5.4a3.4,3.4 0 1 0-5.8,0zM1647.4,316.0l2.9-5.4a3.4,3.4 0 1 0-5.8,0zM1647.8,321.5l2.9-5.4a3.4,3.4 0 1 0-5.8,0zM1648.3,327.0l2.9-5.4a3.4,3.4 0 1 0-5.8,0zM1648.7,332.5l2.9-5.4a3.4,3.4 0 1 0-5.8,0zM1312.0,366.8l3.0-5.6a3.5,3.5 0 1 0-6.0,0zM1322.5,347.1l3.0-5.6a3.5,3.5 0 1 0-6.0,0zM1333.0,336.6l3.0-5.6a3.5,3.5 0 1 0-6.0,0zM1343.5,331.5l3.0-5.6a3.5,3.5 0 1 0-6.0,0zM1354.0,328.5l3.0-5.6a3.5,3.5 0 1 0-6.0,0zM1364.5,326.6l3.0-5.6a3.5,3.5 0 1 0-6.0,0zM1375.0,330.0l3.0-5.6a3.5,3.5 0 1 0-6.0,0zM1385.5,333.9l3.0-5.6a3.5,3.5 0 1 0-6.0,0zM1396.0,338.1l3.0-5.6a3.5,3.5 0 1 0-6.0,0zM1406.5,342.3l3.0-5.6a3.5,3.5 0 1 0-6.0,0zM1417.0,345.8l3.0-5.6a3.5,3.5 0 1 0-6.0,0zM1427.5,347.9l3.0-5.6a3.5,3.5 0 1 0-6.0,0zM1438.0,350.0l3.0-5.6a3.5,3.5 0 1 0-6.0,0zM1448.5,352.1l3.0-5.6a3.5,3.5 0 1 0-6.0,0zM1459.0,353.5l3.0-5.6a3.5,3.5 0 1 0-6.0,0zM1469.5,354.2l3.0-5.6a3.5,3.5 0 1 0-6.0,0zM1480.0,355.0l3.0-5.6a3.5,3.5 0 1 0-6.0,0zM1317.2,356.7l3.0-5.6a3.5,3.5 0 1 0-6.0,0zM1327.8,342.4l3.0-5.6a3.5,3.5 0 1 0-6.0,0zM1338.2,334.6l3.0-5.6a3.5,3.5 0 1 0-6.0,0zM1348.8,330.5l3.0-5.6a3.5,3.5 0 1 0-6.0,0zM1359.2,328.7l3.0-5.6a3.5,3.5 0 1 0-6.0,0zM1369.8,329.2l3.0-5.6a3.5,3.5 0 1 0-6.0,0zM1380.2,333.1l3.0-5.6a3.5,3.5 0 1 0-6.0,0zM1390.8,337.2l3.0-5.6a3.5,3.5 0 1 0-6.0,0zM1401.2,341.4l3.0-5.6a3.5,3.5 0 1 0-6.0,0zM1411.8,345.6l3.0-5.6a3.5,3.5 0 1 0-6.0,0zM1422.2,348.0l3.0-5.6a3.5,3.5 0 1 0-6.0,0zM1432.8,350.1l3.0-5.6a3.5,3.5 0 1 0-6.0,0zM1443.2,352.2l3.0-5.6a3.5,3.5 0 1 0-6.0,0zM1453.8,354.2l3.0-5.6a3.5,3.5 0 1 0-6.0,0zM1464.2,354.9l3.0-5.6a3.5,3.5 0 1 0-6.0,0zM1474.8,355.6l3.0-5.6a3.5,3.5 0 1 0-6.0,0zM1485.2,356.3l3.0-5.6a3.5,3.5 0 1 0-6.0,0zM1312.0,367.9l3.0-5.6a3.5,3.5 0 1 0-6.0,0zM1322.5,348.8l3.0-5.6a3.5,3.5 0 1 0-6.0,0zM1333.0,338.5l3.0-5.6a3.5,3.5 0 1 0-6.0,0zM1343.5,334.8l3.0-5.6a3.5,3.5 0 1 0-6.0,0zM1354.0,332.2l3.0-5.6a3.5,3.5 0 1 0-6.0,0zM1364.5,330.4l3.0-5.6a3.5,3.5 0 1 0-6.0,0zM1375.0,333.9l3.0-5.6a3.5,3.5 0 1 0-6.0,0zM1385.5,337.8l3.0-5.6a3.5,3.5 0 1 0-6.0,0zM1396.0,342.0l3.0-5.6a3.5,3.5 0 1 0-6.0,0zM1406.5,346.3l3.0-5.6a3.5,3.5 0 1 0-6.0,0zM1417.0,349.7l3.0-5.6a3.5,3.5 0 1 0-6.0,0zM1427.5,351.7l3.0-5.6a3.5,3.5 0 1 0-6.0,0zM1438.0,353.8l3.0-5.6a3.5,3.5 0 1 0-6.0,0zM1448.5,355.9l3.0-5.6a3.5,3.5 0 1 0-6.0,0zM1459.0,357.1l3.0-5.6a3.5,3.5 0 1 0-6.0,0zM1469.5,357.8l3.0-5.6a3.5,3.5 0 1 0-6.0,0zM1480.0,358.4l3.0-5.6a3.5,3.5 0 1 0-6.0,0zM1317.2,359.0l3.0-5.6a3.5,3.5 0 1 0-6.0,0zM1327.8,345.5l3.0-5.6a3.5,3.5 0 1 0-6.0,0zM1338.2,338.7l3.0-5.6a3.5,3.5 0 1 0-6.0,0zM1348.8,336.6l3.0-5.6a3.5,3.5 0 1 0-6.0,0zM1359.2,335.2l3.0-5.6a3.5,3.5 0 1 0-6.0,0zM1369.8,335.9l3.0-5.6a3.5,3.5 0 1 0-6.0,0zM1380.2,339.9l3.0-5.6a3.5,3.5 0 1 0-6.0,0zM1390.8,344.0l3.0-5.6a3.5,3.5 0 1 0-6.0,0zM1401.2,348.2l3.0-5.6a3.5,3.5 0 1 0-6.0,0zM1411.8,352.3l3.0-5.6a3.5,3.5 0 1 0-6.0,0zM1422.2,354.7l3.0-5.6a3.5,3.5 0 1 0-6.0,0zM1432.8,356.7l3.0-5.6a3.5,3.5 0 1 0-6.0,0zM1443.2,358.7l3.0-5.6a3.5,3.5 0 1 0-6.0,0zM1453.8,360.6l3.0-5.6a3.5,3.5 0 1 0-6.0,0zM1464.2,361.2l3.0-5.6a3.5,3.5 0 1 0-6.0,0zM1474.8,361.7l3.0-5.6a3.5,3.5 0 1 0-6.0,0zM1485.2,362.2l3.0-5.6a3.5,3.5 0 1 0-6.0,0zM1312.0,370.5l3.0-5.6a3.5,3.5 0 1 0-6.0,0zM1322.5,352.7l3.0-5.6a3.5,3.5 0 1 0-6.0,0zM1333.0,343.1l3.0-5.6a3.5,3.5 0 1 0-6.0,0zM1343.5,342.4l3.0-5.6a3.5,3.5 0 1 0-6.0,0zM1354.0,340.8l3.0-5.6a3.5,3.5 0 1 0-6.0,0zM1364.5,339.4l3.0-5.6a3.5,3.5 0 1 0-6.0,0zM1375.0,343.0l3.0-5.6a3.5,3.5 0 1 0-6.0,0zM1385.5,347.0l3.0-5.6a3.5,3.5 0 1 0-6.0,0zM1396.0,351.3l3.0-5.6a3.5,3.5 0 1 0-6.0,0zM1406.5,355.6l3.0-5.6a3.5,3.5 0 1 0-6.0,0zM1417.0,358.8l3.0-5.6a3.5,3.5 0 1 0-6.0,0zM1427.5,360.8l3.0-5.6a3.5,3.5 0 1 0-6.0,0zM1438.0,362.9l3.0-5.6a3.5,3.5 0 1 0-6.0,0zM1448.5,364.7l3.0-5.6a3.5,3.5 0 1 0-6.0,0zM1459.0,365.7l3.0-5.6a3.5,3.5 0 1 0-6.0,0zM1469.5,366.1l3.0-5.6a3.5,3.5 0 1 0-6.0,0zM1480.0,366.5l3.0-5.6a3.5,3.5 0 1 0-6.0,0zM1317.2,363.1l3.0-5.6a3.5,3.5 0 1 0-6.0,0zM1327.8,350.8l3.0-5.6a3.5,3.5 0 1 0-6.0,0zM1338.2,345.6l3.0-5.6a3.5,3.5 0 1 0-6.0,0zM1348.8,346.9l3.0-5.6a3.5,3.5 0 1 0-6.0,0zM1359.2,346.3l3.0-5.6a3.5,3.5 0 1 0-6.0,0zM1369.8,347.1l3.0-5.6a3.5,3.5 0 1 0-6.0,0zM1390.8,355.4l3.0-5.6a3.5,3.5 0 1 0-6.0,0zM1401.2,359.8l3.0-5.6a3.5,3.5 0 1 0-6.0,0zM1411.8,363.8l3.0-5.6a3.5,3.5 0 1 0-6.0,0zM1422.2,365.9l3.0-5.6a3.5,3.5 0 1 0-6.0,0zM1432.8,368.0l3.0-5.6a3.5,3.5 0 1 0-6.0,0zM1443.2,369.8l3.0-5.6a3.5,3.5 0 1 0-6.0,0zM1453.8,371.5l3.0-5.6a3.5,3.5 0 1 0-6.0,0zM1464.2,371.7l3.0-5.6a3.5,3.5 0 1 0-6.0,0zM1474.8,371.9l3.0-5.6a3.5,3.5 0 1 0-6.0,0zM1485.2,372.3l3.0-5.6a3.5,3.5 0 1 0-6.0,0zM1312.0,374.3l3.0-5.6a3.5,3.5 0 1 0-6.0,0zM1322.5,358.4l3.0-5.6a3.5,3.5 0 1 0-6.0,0zM1333.0,349.8l3.0-5.6a3.5,3.5 0 1 0-6.0,0zM1343.5,353.5l3.0-5.6a3.5,3.5 0 1 0-6.0,0zM1354.0,353.5l3.0-5.6a3.5,3.5 0 1 0-6.0,0zM1396.0,364.9l3.0-5.6a3.5,3.5 0 1 0-6.0,0zM1406.5,369.2l3.0-5.6a3.5,3.5 0 1 0-6.0,0zM1417.0,372.2l3.0-5.6a3.5,3.5 0 1 0-6.0,0zM1427.5,374.1l3.0-5.6a3.5,3.5 0 1 0-6.0,0zM1438.0,376.1l3.0-5.6a3.5,3.5 0 1 0-6.0,0zM1448.5,377.6l3.0-5.6a3.5,3.5 0 1 0-6.0,0zM1459.0,378.4l3.0-5.6a3.5,3.5 0 1 0-6.0,0zM1469.5,378.4l3.0-5.6a3.5,3.5 0 1 0-6.0,0zM1480.0,378.5l3.0-5.6a3.5,3.5 0 1 0-6.0,0zM1317.2,368.6l3.0-5.6a3.5,3.5 0 1 0-6.0,0zM1327.8,357.9l3.0-5.6a3.5,3.5 0 1 0-6.0,0zM1338.2,355.0l3.0-5.6a3.5,3.5 0 1 0-6.0,0zM1390.8,371.0l3.0-5.6a3.5,3.5 0 1 0-6.0,0zM1401.2,375.4l3.0-5.6a3.5,3.5 0 1 0-6.0,0zM1411.8,379.3l3.0-5.6a3.5,3.5 0 1 0-6.0,0zM1422.2,381.2l3.0-5.6a3.5,3.5 0 1 0-6.0,0zM1432.8,383.2l3.0-5.6a3.5,3.5 0 1 0-6.0,0zM1443.2,384.9l3.0-5.6a3.5,3.5 0 1 0-6.0,0zM1453.8,386.2l3.0-5.6a3.5,3.5 0 1 0-6.0,0zM1464.2,386.0l3.0-5.6a3.5,3.5 0 1 0-6.0,0zM1474.8,385.8l3.0-5.6a3.5,3.5 0 1 0-6.0,0zM1485.2,385.8l3.0-5.6a3.5,3.5 0 1 0-6.0,0zM1312.0,379.1l3.0-5.6a3.5,3.5 0 1 0-6.0,0zM1322.5,365.8l3.0-5.6a3.5,3.5 0 1 0-6.0,0zM1333.0,358.5l3.0-5.6a3.5,3.5 0 1 0-6.0,0zM1385.5,378.0l3.0-5.6a3.5,3.5 0 1 0-6.0,0zM1396.0,382.5l3.0-5.6a3.5,3.5 0 1 0-6.0,0zM1406.5,386.8l3.0-5.6a3.5,3.5 0 1 0-6.0,0zM1417.0,389.4l3.0-5.6a3.5,3.5 0 1 0-6.0,0zM1427.5,391.2l3.0-5.6a3.5,3.5 0 1 0-6.0,0zM1438.0,393.2l3.0-5.6a3.5,3.5 0 1 0-6.0,0zM1448.5,394.4l3.0-5.6a3.5,3.5 0 1 0-6.0,0zM1459.0,394.7l3.0-5.6a3.5,3.5 0 1 0-6.0,0zM1469.5,394.2l3.0-5.6a3.5,3.5 0 1 0-6.0,0zM1480.0,393.9l3.0-5.6a3.5,3.5 0 1 0-6.0,0zM1380.2,385.9l3.0-5.6a3.5,3.5 0 1 0-6.0,0zM1390.8,390.3l3.0-5.6a3.5,3.5 0 1 0-6.0,0zM1401.2,394.9l3.0-5.6a3.5,3.5 0 1 0-6.0,0zM1411.8,398.5l3.0-5.6a3.5,3.5 0 1 0-6.0,0zM1422.2,400.1l3.0-5.6a3.5,3.5 0 1 0-6.0,0zM1432.8,402.1l3.0-5.6a3.5,3.5 0 1 0-6.0,0zM1443.2,403.6l3.0-5.6a3.5,3.5 0 1 0-6.0,0zM1453.8,404.4l3.0-5.6a3.5,3.5 0 1 0-6.0,0zM1464.2,403.7l3.0-5.6a3.5,3.5 0 1 0-6.0,0zM1474.8,403.1l3.0-5.6a3.5,3.5 0 1 0-6.0,0zM1485.2,402.7l3.0-5.6a3.5,3.5 0 1 0-6.0,0zM1375.0,394.5l3.0-5.6a3.5,3.5 0 1 0-6.0,0zM1385.5,399.0l3.0-5.6a3.5,3.5 0 1 0-6.0,0zM1396.0,403.6l3.0-5.6a3.5,3.5 0 1 0-6.0,0zM1406.5,408.1l3.0-5.6a3.5,3.5 0 1 0-6.0,0zM1417.0,410.3l3.0-5.6a3.5,3.5 0 1 0-6.0,0zM1427.5,411.9l3.0-5.6a3.5,3.5 0 1 0-6.0,0zM1438.0,413.8l3.0-5.6a3.5,3.5 0 1 0-6.0,0zM1448.5,414.5l3.0-5.6a3.5,3.5 0 1 0-6.0,0zM1459.0,414.3l3.0-5.6a3.5,3.5 0 1 0-6.0,0zM1469.5,413.4l3.0-5.6a3.5,3.5 0 1 0-6.0,0zM1480.0,412.5l3.0-5.6a3.5,3.5 0 1 0-6.0,0zM1369.8,404.0l3.0-5.6a3.5,3.5 0 1 0-6.0,0zM1380.2,408.5l3.0-5.6a3.5,3.5 0 1 0-6.0,0zM1390.8,413.2l3.0-5.6a3.5,3.5 0 1 0-6.0,0zM1401.2,417.9l3.0-5.6a3.5,3.5 0 1 0-6.0,0zM1411.8,421.2l3.0-5.6a3.5,3.5 0 1 0-6.0,0zM1422.2,422.5l3.0-5.6a3.5,3.5 0 1 0-6.0,0zM1432.8,424.5l3.0-5.6a3.5,3.5 0 1 0-6.0,0zM1443.2,425.6l3.0-5.6a3.5,3.5 0 1 0-6.0,0zM1453.8,426.0l3.0-5.6a3.5,3.5 0 1 0-6.0,0zM1464.2,424.7l3.0-5.6a3.5,3.5 0 1 0-6.0,0zM1474.8,423.5l3.0-5.6a3.5,3.5 0 1 0-6.0,0zM1485.2,422.6l3.0-5.6a3.5,3.5 0 1 0-6.0,0zM1364.5,414.6l3.0-5.6a3.5,3.5 0 1 0-6.0,0zM1375.0,418.8l3.0-5.6a3.5,3.5 0 1 0-6.0,0zM1385.5,423.5l3.0-5.6a3.5,3.5 0 1 0-6.0,0zM1396.0,428.3l3.0-5.6a3.5,3.5 0 1 0-6.0,0zM1406.5,432.8l3.0-5.6a3.5,3.5 0 1 0-6.0,0zM1417.0,434.5l3.0-5.6a3.5,3.5 0 1 0-6.0,0zM1427.5,435.9l3.0-5.6a3.5,3.5 0 1 0-6.0,0zM1438.0,437.8l3.0-5.6a3.5,3.5 0 1 0-6.0,0zM1448.5,438.0l3.0-5.6a3.5,3.5 0 1 0-6.0,0zM1459.0,437.2l3.0-5.6a3.5,3.5 0 1 0-6.0,0zM1469.5,435.6l3.0-5.6a3.5,3.5 0 1 0-6.0,0zM1480.0,434.2l3.0-5.6a3.5,3.5 0 1 0-6.0,0zM1359.2,427.3l3.0-5.6a3.5,3.5 0 1 0-6.0,0zM1369.8,429.8l3.0-5.6a3.5,3.5 0 1 0-6.0,0zM1380.2,434.5l3.0-5.6a3.5,3.5 0 1 0-6.0,0zM1390.8,439.4l3.0-5.6a3.5,3.5 0 1 0-6.0,0zM1401.2,444.3l3.0-5.6a3.5,3.5 0 1 0-6.0,0zM1411.8,447.3l3.0-5.6a3.5,3.5 0 1 0-6.0,0zM1422.2,448.2l3.0-5.6a3.5,3.5 0 1 0-6.0,0zM1432.8,450.2l3.0-5.6a3.5,3.5 0 1 0-6.0,0zM1443.2,450.9l3.0-5.6a3.5,3.5 0 1 0-6.0,0zM1453.8,450.8l3.0-5.6a3.5,3.5 0 1 0-6.0,0zM1464.2,448.8l3.0-5.6a3.5,3.5 0 1 0-6.0,0zM1474.8,446.9l3.0-5.6a3.5,3.5 0 1 0-6.0,0zM1485.2,445.5l3.0-5.6a3.5,3.5 0 1 0-6.0,0zM1354.0,438.7l3.0-5.6a3.5,3.5 0 1 0-6.0,0zM1364.5,441.8l3.0-5.6a3.5,3.5 0 1 0-6.0,0zM1375.0,446.3l3.0-5.6a3.5,3.5 0 1 0-6.0,0zM1385.5,451.2l3.0-5.6a3.5,3.5 0 1 0-6.0,0zM1396.0,456.2l3.0-5.6a3.5,3.5 0 1 0-6.0,0zM1406.5,460.8l3.0-5.6a3.5,3.5 0 1 0-6.0,0zM1417.0,461.9l3.0-5.6a3.5,3.5 0 1 0-6.0,0zM1427.5,463.2l3.0-5.6a3.5,3.5 0 1 0-6.0,0zM1438.0,465.0l3.0-5.6a3.5,3.5 0 1 0-6.0,0zM1448.5,464.6l3.0-5.6a3.5,3.5 0 1 0-6.0,0zM1459.0,463.1l3.0-5.6a3.5,3.5 0 1 0-6.0,0zM1469.5,460.8l3.0-5.6a3.5,3.5 0 1 0-6.0,0zM1480.0,458.7l3.0-5.6a3.5,3.5 0 1 0-6.0,0zM1348.8,448.3l3.0-5.6a3.5,3.5 0 1 0-6.0,0zM1359.2,455.7l3.0-5.6a3.5,3.5 0 1 0-6.0,0zM1369.8,458.7l3.0-5.6a3.5,3.5 0 1 0-6.0,0zM1380.2,463.7l3.0-5.6a3.5,3.5 0 1 0-6.0,0zM1390.8,468.8l3.0-5.6a3.5,3.5 0 1 0-6.0,0zM1401.2,473.9l3.0-5.6a3.5,3.5 0 1 0-6.0,0zM1411.8,476.6l3.0-5.6a3.5,3.5 0 1 0-6.0,0zM1422.2,477.1l3.0-5.6a3.5,3.5 0 1 0-6.0,0zM1432.8,479.0l3.0-5.6a3.5,3.5 0 1 0-6.0,0zM1443.2,479.4l3.0-5.6a3.5,3.5 0 1 0-6.0,0zM1453.8,478.6l3.0-5.6a3.5,3.5 0 1 0-6.0,0zM1464.2,475.8l3.0-5.6a3.5,3.5 0 1 0-6.0,0zM1474.8,473.2l3.0-5.6a3.5,3.5 0 1 0-6.0,0zM1485.2,471.1l3.0-5.6a3.5,3.5 0 1 0-6.0,0zM1343.5,453.8l3.0-5.6a3.5,3.5 0 1 0-6.0,0zM1354.0,467.7l3.0-5.6a3.5,3.5 0 1 0-6.0,0zM1364.5,472.1l3.0-5.6a3.5,3.5 0 1 0-6.0,0zM1375.0,476.9l3.0-5.6a3.5,3.5 0 1 0-6.0,0zM1385.5,482.0l3.0-5.6a3.5,3.5 0 1 0-6.0,0zM1396.0,487.2l3.0-5.6a3.5,3.5 0 1 0-6.0,0zM1406.5,492.0l3.0-5.6a3.5,3.5 0 1 0-6.0,0zM1417.0,492.5l3.0-5.6a3.5,3.5 0 1 0-6.0,0zM1427.5,493.6l3.0-5.6a3.5,3.5 0 1 0-6.0,0zM1438.0,495.3l3.0-5.6a3.5,3.5 0 1 0-6.0,0zM1448.5,494.2l3.0-5.6a3.5,3.5 0 1 0-6.0,0zM1459.0,492.0l3.0-5.6a3.5,3.5 0 1 0-6.0,0zM1469.5,488.8l3.0-5.6a3.5,3.5 0 1 0-6.0,0zM1480.0,486.0l3.0-5.6a3.5,3.5 0 1 0-6.0,0zM1348.8,477.4l3.0-5.6a3.5,3.5 0 1 0-6.0,0zM1359.2,487.1l3.0-5.6a3.5,3.5 0 1 0-6.0,0zM1369.8,490.7l3.0-5.6a3.5,3.5 0 1 0-6.0,0zM1380.2,496.0l3.0-5.6a3.5,3.5 0 1 0-6.0,0zM1390.8,501.3l3.0-5.6a3.5,3.5 0 1 0-6.0,0zM1401.2,506.6l3.0-5.6a3.5,3.5 0 1 0-6.0,0zM1411.8,509.0l3.0-5.6a3.5,3.5 0 1 0-6.0,0zM1422.2,508.9l3.0-5.6a3.5,3.5 0 1 0-6.0,0zM1432.8,510.8l3.0-5.6a3.5,3.5 0 1 0-6.0,0zM1443.2,510.8l3.0-5.6a3.5,3.5 0 1 0-6.0,0zM1453.8,509.3l3.0-5.6a3.5,3.5 0 1 0-6.0,0zM1464.2,505.7l3.0-5.6a3.5,3.5 0 1 0-6.0,0zM1474.8,502.2l3.0-5.6a3.5,3.5 0 1 0-6.0,0zM1485.2,499.5l3.0-5.6a3.5,3.5 0 1 0-6.0,0zM1343.5,481.8l3.0-5.6a3.5,3.5 0 1 0-6.0,0zM1354.0,499.5l3.0-5.6a3.5,3.5 0 1 0-6.0,0zM1364.5,505.5l3.0-5.6a3.5,3.5 0 1 0-6.0,0zM1375.0,510.5l3.0-5.6a3.5,3.5 0 1 0-6.0,0zM1385.5,515.9l3.0-5.6a3.5,3.5 0 1 0-6.0,0zM1396.0,521.4l3.0-5.6a3.5,3.5 0 1 0-6.0,0zM1406.5,526.2l3.0-5.6a3.5,3.5 0 1 0-6.0,0zM1417.0,526.1l3.0-5.6a3.5,3.5 0 1 0-6.0,0zM1427.5,526.9l3.0-5.6a3.5,3.5 0 1 0-6.0,0zM1438.0,528.5l3.0-5.6a3.5,3.5 0 1 0-6.0,0zM1448.5,526.7l3.0-5.6a3.5,3.5 0 1 0-6.0,0zM1459.0,523.7l3.0-5.6a3.5,3.5 0 1 0-6.0,0zM1469.5,519.6l3.0-5.6a3.5,3.5 0 1 0-6.0,0zM1480.0,516.1l3.0-5.6a3.5,3.5 0 1 0-6.0,0zM1348.8,509.2l3.0-5.6a3.5,3.5 0 1 0-6.0,0zM1359.2,521.4l3.0-5.6a3.5,3.5 0 1 0-6.0,0zM1369.8,525.7l3.0-5.6a3.5,3.5 0 1 0-6.0,0zM1380.2,531.2l3.0-5.6a3.5,3.5 0 1 0-6.0,0zM1390.8,536.8l3.0-5.6a3.5,3.5 0 1 0-6.0,0zM1401.2,542.3l3.0-5.6a3.5,3.5 0 1 0-6.0,0zM1411.8,544.3l3.0-5.6a3.5,3.5 0 1 0-6.0,0zM1422.2,543.8l3.0-5.6a3.5,3.5 0 1 0-6.0,0zM1432.8,545.6l3.0-5.6a3.5,3.5 0 1 0-6.0,0zM1443.2,545.1l3.0-5.6a3.5,3.5 0 1 0-6.0,0zM1453.8,542.8l3.0-5.6a3.5,3.5 0 1 0-6.0,0zM1464.2,538.3l3.0-5.6a3.5,3.5 0 1 0-6.0,0zM1474.8,534.0l3.0-5.6a3.5,3.5 0 1 0-6.0,0zM1485.2,530.4l3.0-5.6a3.5,3.5 0 1 0-6.0,0zM1343.5,512.2l3.0-5.6a3.5,3.5 0 1 0-6.0,0zM1354.0,534.1l3.0-5.6a3.5,3.5 0 1 0-6.0,0zM1364.5,541.7l3.0-5.6a3.5,3.5 0 1 0-6.0,0zM1375.0,547.1l3.0-5.6a3.5,3.5 0 1 0-6.0,0zM1385.5,552.8l3.0-5.6a3.5,3.5 0 1 0-6.0,0zM1396.0,558.5l3.0-5.6a3.5,3.5 0 1 0-6.0,0zM1406.5,563.5l3.0-5.6a3.5,3.5 0 1 0-6.0,0zM1417.0,562.6l3.0-5.6a3.5,3.5 0 1 0-6.0,0zM1427.5,563.1l3.0-5.6a3.5,3.5 0 1 0-6.0,0zM1438.0,564.6l3.0-5.6a3.5,3.5 0 1 0-6.0,0zM1448.5,562.0l3.0-5.6a3.5,3.5 0 1 0-6.0,0zM1459.0,558.1l3.0-5.6a3.5,3.5 0 1 0-6.0,0zM1469.5,553.1l3.0-5.6a3.5,3.5 0 1 0-6.0,0zM1480.0,548.7l3.0-5.6a3.5,3.5 0 1 0-6.0,0zM1338.2,477.8l3.0-5.6a3.5,3.5 0 1 0-6.0,0zM1348.8,543.6l3.0-5.6a3.5,3.5 0 1 0-6.0,0zM1359.2,558.5l3.0-5.6a3.5,3.5 0 1 0-6.0,0zM1369.8,563.5l3.0-5.6a3.5,3.5 0 1 0-6.0,0zM1380.2,569.4l3.0-5.6a3.5,3.5 0 1 0-6.0,0zM1390.8,575.2l3.0-5.6a3.5,3.5 0 1 0-6.0,0zM1401.2,581.0l3.0-5.6a3.5,3.5 0 1 0-6.0,0zM1411.8,582.6l3.0-5.6a3.5,3.5 0 1 0-6.0,0zM1422.2,581.4l3.0-5.6a3.5,3.5 0 1 0-6.0,0zM1432.8,583.2l3.0-5.6a3.5,3.5 0 1 0-6.0,0zM1443.2,582.3l3.0-5.6a3.5,3.5 0 1 0-6.0,0zM1453.8,579.1l3.0-5.6a3.5,3.5 0 1 0-6.0,0zM1464.2,573.6l3.0-5.6a3.5,3.5 0 1 0-6.0,0zM1474.8,568.3l3.0-5.6a3.5,3.5 0 1 0-6.0,0zM1485.2,563.9l3.0-5.6a3.5,3.5 0 1 0-6.0,0zM1333.0,465.3l3.0-5.6a3.5,3.5 0 1 0-6.0,0zM1343.5,545.0l3.0-5.6a3.5,3.5 0 1 0-6.0,0zM1354.0,571.4l3.0-5.6a3.5,3.5 0 1 0-6.0,0zM1364.5,580.7l3.0-5.6a3.5,3.5 0 1 0-6.0,0zM1375.0,586.5l3.0-5.6a3.5,3.5 0 1 0-6.0,0zM1385.5,592.5l3.0-5.6a3.5,3.5 0 1 0-6.0,0zM1396.0,598.5l3.0-5.6a3.5,3.5 0 1 0-6.0,0zM1406.5,603.6l3.0-5.6a3.5,3.5 0 1 0-6.0,0zM1417.0,601.9l3.0-5.6a3.5,3.5 0 1 0-6.0,0zM1427.5,602.2l3.0-5.6a3.5,3.5 0 1 0-6.0,0zM1438.0,603.6l3.0-5.6a3.5,3.5 0 1 0-6.0,0zM1448.5,600.1l3.0-5.6a3.5,3.5 0 1 0-6.0,0zM1459.0,595.3l3.0-5.6a3.5,3.5 0 1 0-6.0,0zM1469.5,589.2l3.0-5.6a3.5,3.5 0 1 0-6.0,0zM1480.0,583.8l3.0-5.6a3.5,3.5 0 1 0-6.0,0zM1305.3,392.4l2.7-5.1a3.2,3.2 0 1 0-5.4,0zM1306.5,387.6l2.7-5.1a3.2,3.2 0 1 0-5.4,0zM1307.7,382.7l2.7-5.1a3.2,3.2 0 1 0-5.4,0zM1309.0,377.9l2.7-5.1a3.2,3.2 0 1 0-5.4,0zM1310.2,373.0l2.7-5.1a3.2,3.2 0 1 0-5.4,0zM1311.4,368.2l2.7-5.1a3.2,3.2 0 1 0-5.4,0zM1313.3,363.6l2.7-5.1a3.2,3.2 0 1 0-5.4,0zM1315.5,359.1l2.7-5.1a3.2,3.2 0 1 0-5.4,0zM1317.7,354.6l2.7-5.1a3.2,3.2 0 1 0-5.4,0zM1319.9,350.2l2.7-5.1a3.2,3.2 0 1 0-5.4,0zM1322.8,346.1l2.7-5.1a3.2,3.2 0 1 0-5.4,0zM1326.3,342.6l2.7-5.1a3.2,3.2 0 1 0-5.4,0zM1329.9,339.1l2.7-5.1a3.2,3.2 0 1 0-5.4,0zM1333.4,335.5l2.7-5.1a3.2,3.2 0 1 0-5.4,0zM1337.9,333.4l2.7-5.1a3.2,3.2 0 1 0-5.4,0zM1342.5,331.3l2.7-5.1a3.2,3.2 0 1 0-5.4,0zM1347.0,329.3l2.7-5.1a3.2,3.2 0 1 0-5.4,0zM1351.9,328.2l2.7-5.1a3.2,3.2 0 1 0-5.4,0zM1356.8,327.3l2.7-5.1a3.2,3.2 0 1 0-5.4,0zM1361.7,326.4l2.7-5.1a3.2,3.2 0 1 0-5.4,0zM1366.6,326.2l2.7-5.1a3.2,3.2 0 1 0-5.4,0zM1371.3,327.9l2.7-5.1a3.2,3.2 0 1 0-5.4,0zM1376.0,329.7l2.7-5.1a3.2,3.2 0 1 0-5.4,0zM1380.6,331.5l2.7-5.1a3.2,3.2 0 1 0-5.4,0zM1385.3,333.2l2.7-5.1a3.2,3.2 0 1 0-5.4,0zM1390.0,335.1l2.7-5.1a3.2,3.2 0 1 0-5.4,0zM1394.6,336.9l2.7-5.1a3.2,3.2 0 1 0-5.4,0zM1399.3,338.8l2.7-5.1a3.2,3.2 0 1 0-5.4,0zM1403.9,340.6l2.7-5.1a3.2,3.2 0 1 0-5.4,0zM1408.5,342.5l2.7-5.1a3.2,3.2 0 1 0-5.4,0zM1413.2,344.4l2.7-5.1a3.2,3.2 0 1 0-5.4,0zM1418.1,345.4l2.7-5.1a3.2,3.2 0 1 0-5.4,0zM1423.0,346.4l2.7-5.1a3.2,3.2 0 1 0-5.4,0zM1427.9,347.3l2.7-5.1a3.2,3.2 0 1 0-5.4,0zM1432.8,348.3l2.7-5.1a3.2,3.2 0 1 0-5.4,0zM1437.7,349.3l2.7-5.1a3.2,3.2 0 1 0-5.4,0zM1442.6,350.3l2.7-5.1a3.2,3.2 0 1 0-5.4,0zM1447.5,351.3l2.7-5.1a3.2,3.2 0 1 0-5.4,0zM1452.4,352.2l2.7-5.1a3.2,3.2 0 1 0-5.4,0zM1457.4,352.7l2.7-5.1a3.2,3.2 0 1 0-5.4,0zM1462.3,353.1l2.7-5.1a3.2,3.2 0 1 0-5.4,0zM1467.3,353.4l2.7-5.1a3.2,3.2 0 1 0-5.4,0zM1472.3,353.8l2.7-5.1a3.2,3.2 0 1 0-5.4,0zM1477.3,354.1l2.7-5.1a3.2,3.2 0 1 0-5.4,0zM1482.3,354.5l2.7-5.1a3.2,3.2 0 1 0-5.4,0zM1487.3,354.8l2.7-5.1a3.2,3.2 0 1 0-5.4,0zM1605.5,349.2l2.9-5.4a3.4,3.4 0 1 0-5.8,0zM1612.3,355.1l2.9-5.4a3.4,3.4 0 1 0-5.8,0zM1619.1,361.0l2.9-5.4a3.4,3.4 0 1 0-5.8,0zM1625.9,366.9l2.9-5.4a3.4,3.4 0 1 0-5.8,0zM1632.7,372.7l2.9-5.4a3.4,3.4 0 1 0-5.8,0zM1639.5,378.6l2.9-5.4a3.4,3.4 0 1 0-5.8,0zM1646.3,384.5l2.9-5.4a3.4,3.4 0 1 0-5.8,0zM1653.1,390.4l2.9-5.4a3.4,3.4 0 1 0-5.8,0zM1659.9,396.3l2.9-5.4a3.4,3.4 0 1 0-5.8,0zM1666.7,402.2l2.9-5.4a3.4,3.4 0 1 0-5.8,0zM1673.5,408.1l2.9-5.4a3.4,3.4 0 1 0-5.8,0zM1680.3,414.0l2.9-5.4a3.4,3.4 0 1 0-5.8,0zM1687.2,419.9l2.9-5.4a3.4,3.4 0 1 0-5.8,0zM1623.1,377.0l2.9-5.4a3.4,3.4 0 1 0-5.8,0zM1629.9,382.9l2.9-5.4a3.4,3.4 0 1 0-5.8,0zM1636.7,388.8l2.9-5.4a3.4,3.4 0 1 0-5.8,0zM1643.5,394.6l2.9-5.4a3.4,3.4 0 1 0-5.8,0zM1650.3,400.5l2.9-5.4a3.4,3.4 0 1 0-5.8,0zM1657.1,406.4l2.9-5.4a3.4,3.4 0 1 0-5.8,0zM1663.9,412.3l2.9-5.4a3.4,3.4 0 1 0-5.8,0zM1670.7,418.2l2.9-5.4a3.4,3.4 0 1 0-5.8,0zM1677.5,424.1l2.9-5.4a3.4,3.4 0 1 0-5.8,0zM1684.3,430.0l2.9-5.4a3.4,3.4 0 1 0-5.8,0zM1627.1,393.0l2.9-5.4a3.4,3.4 0 1 0-5.8,0zM1633.9,398.9l2.9-5.4a3.4,3.4 0 1 0-5.8,0zM1640.7,404.8l2.9-5.4a3.4,3.4 0 1 0-5.8,0zM1647.5,410.7l2.9-5.4a3.4,3.4 0 1 0-5.8,0zM1654.3,416.6l2.9-5.4a3.4,3.4 0 1 0-5.8,0zM1661.1,422.4l2.9-5.4a3.4,3.4 0 1 0-5.8,0zM1667.9,428.3l2.9-5.4a3.4,3.4 0 1 0-5.8,0zM1674.7,434.2l2.9-5.4a3.4,3.4 0 1 0-5.8,0zM1637.9,414.9l2.9-5.4a3.4,3.4 0 1 0-5.8,0zM1644.7,420.8l2.9-5.4a3.4,3.4 0 1 0-5.8,0zM1651.5,426.7l2.9-5.4a3.4,3.4 0 1 0-5.8,0zM1658.3,432.6l2.9-5.4a3.4,3.4 0 1 0-5.8,0zM1665.1,438.5l2.9-5.4a3.4,3.4 0 1 0-5.8,0zM1671.9,444.3l2.9-5.4a3.4,3.4 0 1 0-5.8,0zM1641.9,430.9l2.9-5.4a3.4,3.4 0 1 0-5.8,0zM1648.7,436.8l2.9-5.4a3.4,3.4 0 1 0-5.8,0zM1655.5,442.7l2.9-5.4a3.4,3.4 0 1 0-5.8,0zM1662.3,448.6l2.9-5.4a3.4,3.4 0 1 0-5.8,0zM1659.5,458.7l2.9-5.4a3.4,3.4 0 1 0-5.8,0zM1492.0,245.7l2.2-4.2a2.6,2.6 0 1 0-4.4,0zM1492.0,255.2l2.2-4.2a2.6,2.6 0 1 0-4.4,0zM1492.0,264.7l2.2-4.2a2.6,2.6 0 1 0-4.4,0zM1492.0,274.2l2.2-4.2a2.6,2.6 0 1 0-4.4,0zM1492.0,283.7l2.2-4.2a2.6,2.6 0 1 0-4.4,0zM1492.0,293.2l2.2-4.2a2.6,2.6 0 1 0-4.4,0zM1492.0,302.7l2.2-4.2a2.6,2.6 0 1 0-4.4,0zM1492.0,312.2l2.2-4.2a2.6,2.6 0 1 0-4.4,0zM1492.0,321.7l2.2-4.2a2.6,2.6 0 1 0-4.4,0zM1492.0,331.2l2.2-4.2a2.6,2.6 0 1 0-4.4,0zM1492.0,340.7l2.2-4.2a2.6,2.6 0 1 0-4.4,0zM1492.0,350.2l2.2-4.2a2.6,2.6 0 1 0-4.4,0zM1380.0,826.8l2.5-4.8a3.0,3.0 0 1 0-5.1,0zM1388.0,826.0l2.5-4.8a3.0,3.0 0 1 0-5.1,0zM1396.0,825.2l2.5-4.8a3.0,3.0 0 1 0-5.1,0zM1404.0,824.3l2.5-4.8a3.0,3.0 0 1 0-5.1,0zM1412.0,823.9l2.5-4.8a3.0,3.0 0 1 0-5.1,0zM1420.0,823.5l2.5-4.8a3.0,3.0 0 1 0-5.1,0zM1428.0,822.9l2.5-4.8a3.0,3.0 0 1 0-5.1,0zM1436.0,820.2l2.5-4.8a3.0,3.0 0 1 0-5.1,0zM1444.0,816.9l2.5-4.8a3.0,3.0 0 1 0-5.1,0zM1452.0,810.5l2.5-4.8a3.0,3.0 0 1 0-5.1,0zM1460.0,803.1l2.5-4.8a3.0,3.0 0 1 0-5.1,0zM1468.0,795.1l2.5-4.8a3.0,3.0 0 1 0-5.1,0zM1476.0,783.9l2.5-4.8a3.0,3.0 0 1 0-5.1,0zM1484.0,771.9l2.5-4.8a3.0,3.0 0 1 0-5.1,0zM1380.0,829.3l2.5-4.8a3.0,3.0 0 1 0-5.1,0zM1388.0,828.8l2.5-4.8a3.0,3.0 0 1 0-5.1,0zM1396.0,828.2l2.5-4.8a3.0,3.0 0 1 0-5.1,0zM1404.0,827.7l2.5-4.8a3.0,3.0 0 1 0-5.1,0zM1412.0,827.4l2.5-4.8a3.0,3.0 0 1 0-5.1,0zM1420.0,827.2l2.5-4.8a3.0,3.0 0 1 0-5.1,0zM1428.0,826.8l2.5-4.8a3.0,3.0 0 1 0-5.1,0zM1436.0,824.5l2.5-4.8a3.0,3.0 0 1 0-5.1,0zM1444.0,821.7l2.5-4.8a3.0,3.0 0 1 0-5.1,0zM1452.0,816.2l2.5-4.8a3.0,3.0 0 1 0-5.1,0zM1460.0,809.7l2.5-4.8a3.0,3.0 0 1 0-5.1,0zM1468.0,802.6l2.5-4.8a3.0,3.0 0 1 0-5.1,0zM1476.0,792.7l2.5-4.8a3.0,3.0 0 1 0-5.1,0zM1484.0,782.0l2.5-4.8a3.0,3.0 0 1 0-5.1,0zM1380.0,831.8l2.5-4.8a3.0,3.0 0 1 0-5.1,0zM1388.0,831.6l2.5-4.8a3.0,3.0 0 1 0-5.1,0zM1396.0,831.3l2.5-4.8a3.0,3.0 0 1 0-5.1,0zM1404.0,831.0l2.5-4.8a3.0,3.0 0 1 0-5.1,0zM1412.0,830.9l2.5-4.8a3.0,3.0 0 1 0-5.1,0zM1420.0,830.8l2.5-4.8a3.0,3.0 0 1 0-5.1,0zM1428.0,830.7l2.5-4.8a3.0,3.0 0 1 0-5.1,0zM1436.0,828.9l2.5-4.8a3.0,3.0 0 1 0-5.1,0zM1444.0,826.6l2.5-4.8a3.0,3.0 0 1 0-5.1,0zM1452.0,821.9l2.5-4.8a3.0,3.0 0 1 0-5.1,0zM1460.0,816.3l2.5-4.8a3.0,3.0 0 1 0-5.1,0zM1468.0,810.2l2.5-4.8a3.0,3.0 0 1 0-5.1,0zM1476.0,801.5l2.5-4.8a3.0,3.0 0 1 0-5.1,0zM1484.0,792.2l2.5-4.8a3.0,3.0 0 1 0-5.1,0zM1380.0,834.3l2.5-4.8a3.0,3.0 0 1 0-5.1,0zM1388.0,834.4l2.5-4.8a3.0,3.0 0 1 0-5.1,0zM1396.0,834.4l2.5-4.8a3.0,3.0 0 1 0-5.1,0zM1404.0,834.3l2.5-4.8a3.0,3.0 0 1 0-5.1,0zM1412.0,834.4l2.5-4.8a3.0,3.0 0 1 0-5.1,0zM1420.0,834.5l2.5-4.8a3.0,3.0 0 1 0-5.1,0zM1428.0,834.5l2.5-4.8a3.0,3.0 0 1 0-5.1,0zM1436.0,833.2l2.5-4.8a3.0,3.0 0 1 0-5.1,0zM1444.0,831.5l2.5-4.8a3.0,3.0 0 1 0-5.1,0zM1452.0,827.6l2.5-4.8a3.0,3.0 0 1 0-5.1,0zM1460.0,823.0l2.5-4.8a3.0,3.0 0 1 0-5.1,0zM1468.0,817.7l2.5-4.8a3.0,3.0 0 1 0-5.1,0zM1476.0,810.4l2.5-4.8a3.0,3.0 0 1 0-5.1,0zM1484.0,802.4l2.5-4.8a3.0,3.0 0 1 0-5.1,0zM1380.0,836.8l2.5-4.8a3.0,3.0 0 1 0-5.1,0zM1388.0,837.3l2.5-4.8a3.0,3.0 0 1 0-5.1,0zM1396.0,837.5l2.5-4.8a3.0,3.0 0 1 0-5.1,0zM1404.0,837.6l2.5-4.8a3.0,3.0 0 1 0-5.1,0zM1412.0,837.9l2.5-4.8a3.0,3.0 0 1 0-5.1,0zM1420.0,838.2l2.5-4.8a3.0,3.0 0 1 0-5.1,0zM1428.0,838.4l2.5-4.8a3.0,3.0 0 1 0-5.1,0zM1436.0,837.6l2.5-4.8a3.0,3.0 0 1 0-5.1,0zM1444.0,836.3l2.5-4.8a3.0,3.0 0 1 0-5.1,0zM1452.0,833.3l2.5-4.8a3.0,3.0 0 1 0-5.1,0zM1460.0,829.6l2.5-4.8a3.0,3.0 0 1 0-5.1,0zM1468.0,825.3l2.5-4.8a3.0,3.0 0 1 0-5.1,0zM1476.0,819.2l2.5-4.8a3.0,3.0 0 1 0-5.1,0zM1484.0,812.6l2.5-4.8a3.0,3.0 0 1 0-5.1,0zM1380.0,839.4l2.5-4.8a3.0,3.0 0 1 0-5.1,0zM1388.0,840.1l2.5-4.8a3.0,3.0 0 1 0-5.1,0zM1396.0,840.6l2.5-4.8a3.0,3.0 0 1 0-5.1,0zM1404.0,840.9l2.5-4.8a3.0,3.0 0 1 0-5.1,0zM1412.0,841.4l2.5-4.8a3.0,3.0 0 1 0-5.1,0zM1420.0,841.9l2.5-4.8a3.0,3.0 0 1 0-5.1,0zM1428.0,842.3l2.5-4.8a3.0,3.0 0 1 0-5.1,0zM1436.0,841.9l2.5-4.8a3.0,3.0 0 1 0-5.1,0zM1444.0,841.2l2.5-4.8a3.0,3.0 0 1 0-5.1,0zM1452.0,839.1l2.5-4.8a3.0,3.0 0 1 0-5.1,0zM1460.0,836.2l2.5-4.8a3.0,3.0 0 1 0-5.1,0zM1468.0,832.8l2.5-4.8a3.0,3.0 0 1 0-5.1,0zM1476.0,828.0l2.5-4.8a3.0,3.0 0 1 0-5.1,0zM1484.0,822.8l2.5-4.8a3.0,3.0 0 1 0-5.1,0zM1380.0,841.9l2.5-4.8a3.0,3.0 0 1 0-5.1,0zM1388.0,842.9l2.5-4.8a3.0,3.0 0 1 0-5.1,0zM1396.0,843.7l2.5-4.8a3.0,3.0 0 1 0-5.1,0zM1404.0,844.2l2.5-4.8a3.0,3.0 0 1 0-5.1,0zM1412.0,844.9l2.5-4.8a3.0,3.0 0 1 0-5.1,0zM1420.0,845.5l2.5-4.8a3.0,3.0 0 1 0-5.1,0zM1428.0,846.2l2.5-4.8a3.0,3.0 0 1 0-5.1,0zM1436.0,846.2l2.5-4.8a3.0,3.0 0 1 0-5.1,0zM1444.0,846.0l2.5-4.8a3.0,3.0 0 1 0-5.1,0zM1452.0,844.8l2.5-4.8a3.0,3.0 0 1 0-5.1,0zM1460.0,842.8l2.5-4.8a3.0,3.0 0 1 0-5.1,0zM1468.0,840.4l2.5-4.8a3.0,3.0 0 1 0-5.1,0zM1476.0,836.8l2.5-4.8a3.0,3.0 0 1 0-5.1,0zM1484.0,833.0l2.5-4.8a3.0,3.0 0 1 0-5.1,0zM1380.0,844.4l2.5-4.8a3.0,3.0 0 1 0-5.1,0zM1388.0,845.7l2.5-4.8a3.0,3.0 0 1 0-5.1,0zM1396.0,846.8l2.5-4.8a3.0,3.0 0 1 0-5.1,0zM1404.0,847.5l2.5-4.8a3.0,3.0 0 1 0-5.1,0zM1412.0,848.3l2.5-4.8a3.0,3.0 0 1 0-5.1,0zM1420.0,849.2l2.5-4.8a3.0,3.0 0 1 0-5.1,0zM1428.0,850.1l2.5-4.8a3.0,3.0 0 1 0-5.1,0zM1436.0,850.6l2.5-4.8a3.0,3.0 0 1 0-5.1,0zM1444.0,850.9l2.5-4.8a3.0,3.0 0 1 0-5.1,0zM1452.0,850.5l2.5-4.8a3.0,3.0 0 1 0-5.1,0zM1460.0,849.4l2.5-4.8a3.0,3.0 0 1 0-5.1,0zM1468.0,847.9l2.5-4.8a3.0,3.0 0 1 0-5.1,0zM1476.0,845.7l2.5-4.8a3.0,3.0 0 1 0-5.1,0zM1484.0,843.2l2.5-4.8a3.0,3.0 0 1 0-5.1,0zM1380.0,846.9l2.5-4.8a3.0,3.0 0 1 0-5.1,0zM1388.0,848.6l2.5-4.8a3.0,3.0 0 1 0-5.1,0zM1396.0,849.9l2.5-4.8a3.0,3.0 0 1 0-5.1,0zM1404.0,850.8l2.5-4.8a3.0,3.0 0 1 0-5.1,0zM1412.0,851.8l2.5-4.8a3.0,3.0 0 1 0-5.1,0zM1420.0,852.9l2.5-4.8a3.0,3.0 0 1 0-5.1,0zM1428.0,854.0l2.5-4.8a3.0,3.0 0 1 0-5.1,0zM1436.0,854.9l2.5-4.8a3.0,3.0 0 1 0-5.1,0zM1444.0,855.7l2.5-4.8a3.0,3.0 0 1 0-5.1,0zM1452.0,856.2l2.5-4.8a3.0,3.0 0 1 0-5.1,0zM1460.0,856.1l2.5-4.8a3.0,3.0 0 1 0-5.1,0zM1468.0,855.4l2.5-4.8a3.0,3.0 0 1 0-5.1,0zM1476.0,854.5l2.5-4.8a3.0,3.0 0 1 0-5.1,0zM1484.0,853.4l2.5-4.8a3.0,3.0 0 1 0-5.1,0zM1380.0,849.4l2.5-4.8a3.0,3.0 0 1 0-5.1,0zM1388.0,851.4l2.5-4.8a3.0,3.0 0 1 0-5.1,0zM1396.0,852.9l2.5-4.8a3.0,3.0 0 1 0-5.1,0zM1404.0,854.1l2.5-4.8a3.0,3.0 0 1 0-5.1,0zM1412.0,855.3l2.5-4.8a3.0,3.0 0 1 0-5.1,0zM1420.0,856.6l2.5-4.8a3.0,3.0 0 1 0-5.1,0zM1428.0,857.9l2.5-4.8a3.0,3.0 0 1 0-5.1,0zM1436.0,859.3l2.5-4.8a3.0,3.0 0 1 0-5.1,0zM1444.0,860.6l2.5-4.8a3.0,3.0 0 1 0-5.1,0zM1452.0,861.9l2.5-4.8a3.0,3.0 0 1 0-5.1,0zM1460.0,862.7l2.5-4.8a3.0,3.0 0 1 0-5.1,0zM1468.0,863.0l2.5-4.8a3.0,3.0 0 1 0-5.1,0zM1476.0,863.3l2.5-4.8a3.0,3.0 0 1 0-5.1,0zM1484.0,863.6l2.5-4.8a3.0,3.0 0 1 0-5.1,0zM1503.0,865.0l2.8-5.3a3.3,3.3 0 1 0-5.6,0zM1512.8,863.9l2.8-5.3a3.3,3.3 0 1 0-5.6,0zM1522.6,862.8l2.8-5.3a3.3,3.3 0 1 0-5.6,0zM1532.4,861.7l2.8-5.3a3.3,3.3 0 1 0-5.6,0zM1542.2,860.6l2.8-5.3a3.3,3.3 0 1 0-5.6,0zM1552.0,859.3l2.8-5.3a3.3,3.3 0 1 0-5.6,0zM1561.8,858.0l2.8-5.3a3.3,3.3 0 1 0-5.6,0zM1571.6,856.7l2.8-5.3a3.3,3.3 0 1 0-5.6,0zM1581.4,855.3l2.8-5.3a3.3,3.3 0 1 0-5.6,0zM1591.2,853.8l2.8-5.3a3.3,3.3 0 1 0-5.6,0zM1601.0,852.2l2.8-5.3a3.3,3.3 0 1 0-5.6,0zM1610.8,850.6l2.8-5.3a3.3,3.3 0 1 0-5.6,0zM1620.6,879.7l2.8-5.3a3.3,3.3 0 1 0-5.6,0zM1630.4,922.9l2.8-5.3a3.3,3.3 0 1 0-5.6,0zM1640.2,938.8l2.8-5.3a3.3,3.3 0 1 0-5.6,0zM1507.9,879.4l2.8-5.3a3.3,3.3 0 1 0-5.6,0zM1517.7,877.8l2.8-5.3a3.3,3.3 0 1 0-5.6,0zM1527.5,876.0l2.8-5.3a3.3,3.3 0 1 0-5.6,0zM1537.3,873.9l2.8-5.3a3.3,3.3 0 1 0-5.6,0zM1547.1,872.0l2.8-5.3a3.3,3.3 0 1 0-5.6,0zM1556.9,870.4l2.8-5.3a3.3,3.3 0 1 0-5.6,0zM1566.7,868.7l2.8-5.3a3.3,3.3 0 1 0-5.6,0zM1576.5,867.1l2.8-5.3a3.3,3.3 0 1 0-5.6,0zM1586.3,865.3l2.8-5.3a3.3,3.3 0 1 0-5.6,0zM1596.1,863.4l2.8-5.3a3.3,3.3 0 1 0-5.6,0zM1605.9,861.4l2.8-5.3a3.3,3.3 0 1 0-5.6,0zM1615.7,869.5l2.8-5.3a3.3,3.3 0 1 0-5.6,0zM1635.3,932.9l2.8-5.3a3.3,3.3 0 1 0-5.6,0zM1503.0,895.3l2.8-5.3a3.3,3.3 0 1 0-5.6,0zM1512.8,893.4l2.8-5.3a3.3,3.3 0 1 0-5.6,0zM1522.6,891.0l2.8-5.3a3.3,3.3 0 1 0-5.6,0zM1532.4,888.3l2.8-5.3a3.3,3.3 0 1 0-5.6,0zM1542.2,885.1l2.8-5.3a3.3,3.3 0 1 0-5.6,0zM1552.0,883.0l2.8-5.3a3.3,3.3 0 1 0-5.6,0zM1561.8,881.1l2.8-5.3a3.3,3.3 0 1 0-5.6,0zM1571.6,879.2l2.8-5.3a3.3,3.3 0 1 0-5.6,0zM1581.4,877.2l2.8-5.3a3.3,3.3 0 1 0-5.6,0zM1591.2,875.0l2.8-5.3a3.3,3.3 0 1 0-5.6,0zM1601.0,872.6l2.8-5.3a3.3,3.3 0 1 0-5.6,0zM1620.6,893.8l2.8-5.3a3.3,3.3 0 1 0-5.6,0zM1507.9,909.3l2.8-5.3a3.3,3.3 0 1 0-5.6,0zM1517.7,906.7l2.8-5.3a3.3,3.3 0 1 0-5.6,0zM1527.5,903.6l2.8-5.3a3.3,3.3 0 1 0-5.6,0zM1537.3,899.5l2.8-5.3a3.3,3.3 0 1 0-5.6,0zM1547.1,895.9l2.8-5.3a3.3,3.3 0 1 0-5.6,0zM1556.9,893.7l2.8-5.3a3.3,3.3 0 1 0-5.6,0zM1566.7,891.6l2.8-5.3a3.3,3.3 0 1 0-5.6,0zM1576.5,889.3l2.8-5.3a3.3,3.3 0 1 0-5.6,0zM1586.3,886.8l2.8-5.3a3.3,3.3 0 1 0-5.6,0zM1596.1,884.2l2.8-5.3a3.3,3.3 0 1 0-5.6,0zM1605.9,881.4l2.8-5.3a3.3,3.3 0 1 0-5.6,0zM1615.7,887.0l2.8-5.3a3.3,3.3 0 1 0-5.6,0zM1503.0,925.6l2.8-5.3a3.3,3.3 0 1 0-5.6,0zM1512.8,923.0l2.8-5.3a3.3,3.3 0 1 0-5.6,0zM1522.6,919.3l2.8-5.3a3.3,3.3 0 1 0-5.6,0zM1532.4,915.0l2.8-5.3a3.3,3.3 0 1 0-5.6,0zM1542.2,909.7l2.8-5.3a3.3,3.3 0 1 0-5.6,0zM1552.0,906.7l2.8-5.3a3.3,3.3 0 1 0-5.6,0zM1561.8,904.2l2.8-5.3a3.3,3.3 0 1 0-5.6,0zM1571.6,901.7l2.8-5.3a3.3,3.3 0 1 0-5.6,0zM1581.4,899.0l2.8-5.3a3.3,3.3 0 1 0-5.6,0zM1591.2,896.1l2.8-5.3a3.3,3.3 0 1 0-5.6,0zM1601.0,893.1l2.8-5.3a3.3,3.3 0 1 0-5.6,0zM1620.6,907.8l2.8-5.3a3.3,3.3 0 1 0-5.6,0zM1507.9,939.3l2.8-5.3a3.3,3.3 0 1 0-5.6,0zM1517.7,935.6l2.8-5.3a3.3,3.3 0 1 0-5.6,0zM1527.5,931.2l2.8-5.3a3.3,3.3 0 1 0-5.6,0zM1537.3,925.1l2.8-5.3a3.3,3.3 0 1 0-5.6,0zM1547.1,919.9l2.8-5.3a3.3,3.3 0 1 0-5.6,0zM1556.9,917.1l2.8-5.3a3.3,3.3 0 1 0-5.6,0zM1566.7,914.4l2.8-5.3a3.3,3.3 0 1 0-5.6,0zM1576.5,911.5l2.8-5.3a3.3,3.3 0 1 0-5.6,0zM1586.3,908.3l2.8-5.3a3.3,3.3 0 1 0-5.6,0zM1596.1,905.1l2.8-5.3a3.3,3.3 0 1 0-5.6,0zM1605.9,901.5l2.8-5.3a3.3,3.3 0 1 0-5.6,0zM1625.5,934.2l2.8-5.3a3.3,3.3 0 1 0-5.6,0zM1635.3,941.3l2.8-5.3a3.3,3.3 0 1 0-5.6,0zM1503.0,955.9l2.8-5.3a3.3,3.3 0 1 0-5.6,0zM1512.8,952.5l2.8-5.3a3.3,3.3 0 1 0-5.6,0zM1522.6,947.5l2.8-5.3a3.3,3.3 0 1 0-5.6,0zM1532.4,941.6l2.8-5.3a3.3,3.3 0 1 0-5.6,0zM1542.2,934.3l2.8-5.3a3.3,3.3 0 1 0-5.6,0zM1552.0,930.3l2.8-5.3a3.3,3.3 0 1 0-5.6,0zM1561.8,927.4l2.8-5.3a3.3,3.3 0 1 0-5.6,0zM1571.6,924.3l2.8-5.3a3.3,3.3 0 1 0-5.6,0zM1581.4,920.9l2.8-5.3a3.3,3.3 0 1 0-5.6,0zM1591.2,917.3l2.8-5.3a3.3,3.3 0 1 0-5.6,0zM1601.0,913.5l2.8-5.3a3.3,3.3 0 1 0-5.6,0zM1610.8,909.5l2.8-5.3a3.3,3.3 0 1 0-5.6,0zM1620.6,921.9l2.8-5.3a3.3,3.3 0 1 0-5.6,0zM1507.9,969.2l2.8-5.3a3.3,3.3 0 1 0-5.6,0zM1517.7,964.5l2.8-5.3a3.3,3.3 0 1 0-5.6,0zM1527.5,958.7l2.8-5.3a3.3,3.3 0 1 0-5.6,0zM1537.3,950.7l2.8-5.3a3.3,3.3 0 1 0-5.6,0zM1547.1,943.8l2.8-5.3a3.3,3.3 0 1 0-5.6,0zM1556.9,940.5l2.8-5.3a3.3,3.3 0 1 0-5.6,0zM1566.7,937.3l2.8-5.3a3.3,3.3 0 1 0-5.6,0zM1576.5,933.7l2.8-5.3a3.3,3.3 0 1 0-5.6,0zM1586.3,929.9l2.8-5.3a3.3,3.3 0 1 0-5.6,0zM1596.1,925.9l2.8-5.3a3.3,3.3 0 1 0-5.6,0zM1605.9,921.5l2.8-5.3a3.3,3.3 0 1 0-5.6,0zM1625.5,942.4l2.8-5.3a3.3,3.3 0 1 0-5.6,0zM1503.0,986.2l2.8-5.3a3.3,3.3 0 1 0-5.6,0zM1512.8,982.0l2.8-5.3a3.3,3.3 0 1 0-5.6,0zM1522.6,975.8l2.8-5.3a3.3,3.3 0 1 0-5.6,0zM1532.4,968.3l2.8-5.3a3.3,3.3 0 1 0-5.6,0zM1542.2,958.8l2.8-5.3a3.3,3.3 0 1 0-5.6,0zM1552.0,954.0l2.8-5.3a3.3,3.3 0 1 0-5.6,0zM1561.8,950.5l2.8-5.3a3.3,3.3 0 1 0-5.6,0zM1571.6,946.8l2.8-5.3a3.3,3.3 0 1 0-5.6,0zM1581.4,942.7l2.8-5.3a3.3,3.3 0 1 0-5.6,0zM1591.2,938.5l2.8-5.3a3.3,3.3 0 1 0-5.6,0zM1601.0,933.9l2.8-5.3a3.3,3.3 0 1 0-5.6,0zM1610.8,929.1l2.8-5.3a3.3,3.3 0 1 0-5.6,0zM1640.2,947.9l2.8-5.3a3.3,3.3 0 1 0-5.6,0zM1507.9,999.1l2.8-5.3a3.3,3.3 0 1 0-5.6,0zM1517.7,993.4l2.8-5.3a3.3,3.3 0 1 0-5.6,0zM1527.5,986.3l2.8-5.3a3.3,3.3 0 1 0-5.6,0zM1537.3,976.4l2.8-5.3a3.3,3.3 0 1 0-5.6,0zM1547.1,967.8l2.8-5.3a3.3,3.3 0 1 0-5.6,0zM1556.9,963.9l2.8-5.3a3.3,3.3 0 1 0-5.6,0zM1566.7,960.1l2.8-5.3a3.3,3.3 0 1 0-5.6,0zM1576.5,955.9l2.8-5.3a3.3,3.3 0 1 0-5.6,0zM1586.3,951.4l2.8-5.3a3.3,3.3 0 1 0-5.6,0zM1596.1,946.8l2.8-5.3a3.3,3.3 0 1 0-5.6,0zM1605.9,941.5l2.8-5.3a3.3,3.3 0 1 0-5.6,0zM1615.7,939.6l2.8-5.3a3.3,3.3 0 1 0-5.6,0zM1625.5,950.5l2.8-5.3a3.3,3.3 0 1 0-5.6,0zM1503.0,1016.5l2.8-5.3a3.3,3.3 0 1 0-5.6,0zM1512.8,1011.5l2.8-5.3a3.3,3.3 0 1 0-5.6,0zM1522.6,1004.0l2.8-5.3a3.3,3.3 0 1 0-5.6,0zM1532.4,994.9l2.8-5.3a3.3,3.3 0 1 0-5.6,0zM1542.2,983.4l2.8-5.3a3.3,3.3 0 1 0-5.6,0zM1552.0,977.7l2.8-5.3a3.3,3.3 0 1 0-5.6,0zM1561.8,973.6l2.8-5.3a3.3,3.3 0 1 0-5.6,0zM1571.6,969.4l2.8-5.3a3.3,3.3 0 1 0-5.6,0zM1581.4,964.6l2.8-5.3a3.3,3.3 0 1 0-5.6,0zM1591.2,959.7l2.8-5.3a3.3,3.3 0 1 0-5.6,0zM1601.0,954.3l2.8-5.3a3.3,3.3 0 1 0-5.6,0zM1610.8,948.7l2.8-5.3a3.3,3.3 0 1 0-5.6,0zM1507.9,1029.0l2.8-5.3a3.3,3.3 0 1 0-5.6,0zM1517.7,1022.4l2.8-5.3a3.3,3.3 0 1 0-5.6,0zM1527.5,1013.9l2.8-5.3a3.3,3.3 0 1 0-5.6,0zM1537.3,1002.0l2.8-5.3a3.3,3.3 0 1 0-5.6,0zM1547.1,991.7l2.8-5.3a3.3,3.3 0 1 0-5.6,0zM1556.9,987.3l2.8-5.3a3.3,3.3 0 1 0-5.6,0zM1566.7,983.0l2.8-5.3a3.3,3.3 0 1 0-5.6,0zM1576.5,978.1l2.8-5.3a3.3,3.3 0 1 0-5.6,0zM1586.3,972.9l2.8-5.3a3.3,3.3 0 1 0-5.6,0zM1596.1,967.6l2.8-5.3a3.3,3.3 0 1 0-5.6,0zM1605.9,961.5l2.8-5.3a3.3,3.3 0 1 0-5.6,0zM1615.7,957.2l2.8-5.3a3.3,3.3 0 1 0-5.6,0zM1625.5,958.7l2.8-5.3a3.3,3.3 0 1 0-5.6,0zM1635.3,953.8l2.8-5.3a3.3,3.3 0 1 0-5.6,0zM1503.0,1046.8l2.8-5.3a3.3,3.3 0 1 0-5.6,0zM1512.8,1041.0l2.8-5.3a3.3,3.3 0 1 0-5.6,0zM1522.6,1032.2l2.8-5.3a3.3,3.3 0 1 0-5.6,0zM1532.4,1021.6l2.8-5.3a3.3,3.3 0 1 0-5.6,0zM1542.2,1007.9l2.8-5.3a3.3,3.3 0 1 0-5.6,0zM1552.0,1001.4l2.8-5.3a3.3,3.3 0 1 0-5.6,0zM1561.8,996.7l2.8-5.3a3.3,3.3 0 1 0-5.6,0zM1571.6,991.9l2.8-5.3a3.3,3.3 0 1 0-5.6,0zM1581.4,986.4l2.8-5.3a3.3,3.3 0 1 0-5.6,0zM1591.2,980.9l2.8-5.3a3.3,3.3 0 1 0-5.6,0zM1601.0,974.8l2.8-5.3a3.3,3.3 0 1 0-5.6,0zM1610.8,968.3l2.8-5.3a3.3,3.3 0 1 0-5.6,0zM1507.9,1058.9l2.8-5.3a3.3,3.3 0 1 0-5.6,0zM1517.7,1051.3l2.8-5.3a3.3,3.3 0 1 0-5.6,0zM1527.5,1041.5l2.8-5.3a3.3,3.3 0 1 0-5.6,0zM1537.3,1027.6l2.8-5.3a3.3,3.3 0 1 0-5.6,0zM1547.1,1015.7l2.8-5.3a3.3,3.3 0 1 0-5.6,0zM1556.9,1010.7l2.8-5.3a3.3,3.3 0 1 0-5.6,0zM1566.7,1005.8l2.8-5.3a3.3,3.3 0 1 0-5.6,0zM1576.5,1000.3l2.8-5.3a3.3,3.3 0 1 0-5.6,0zM1586.3,994.4l2.8-5.3a3.3,3.3 0 1 0-5.6,0zM1596.1,988.4l2.8-5.3a3.3,3.3 0 1 0-5.6,0zM1605.9,981.6l2.8-5.3a3.3,3.3 0 1 0-5.6,0zM1615.7,974.7l2.8-5.3a3.3,3.3 0 1 0-5.6,0zM1625.5,966.8l2.8-5.3a3.3,3.3 0 1 0-5.6,0zM1505.0,1051.6l2.5-4.8a3.0,3.0 0 1 0-5.1,0zM1513.0,1051.6l2.5-4.8a3.0,3.0 0 1 0-5.1,0zM1521.0,1050.6l2.5-4.8a3.0,3.0 0 1 0-5.1,0zM1529.0,1049.6l2.5-4.8a3.0,3.0 0 1 0-5.1,0zM1505.0,1064.6l2.5-4.8a3.0,3.0 0 1 0-5.1,0zM1513.0,1064.6l2.5-4.8a3.0,3.0 0 1 0-5.1,0zM1318.0,887.0l2.7-5.1a3.2,3.2 0 1 0-5.4,0zM1326.5,887.0l2.7-5.1a3.2,3.2 0 1 0-5.4,0zM1335.0,887.0l2.7-5.1a3.2,3.2 0 1 0-5.4,0zM1343.5,887.0l2.7-5.1a3.2,3.2 0 1 0-5.4,0zM1352.0,887.0l2.7-5.1a3.2,3.2 0 1 0-5.4,0zM1306.0,902.3l2.7-5.1a3.2,3.2 0 1 0-5.4,0zM1314.5,902.3l2.7-5.1a3.2,3.2 0 1 0-5.4,0zM1323.0,902.3l2.7-5.1a3.2,3.2 0 1 0-5.4,0zM1331.5,902.3l2.7-5.1a3.2,3.2 0 1 0-5.4,0zM1340.0,902.3l2.7-5.1a3.2,3.2 0 1 0-5.4,0zM1348.5,902.3l2.7-5.1a3.2,3.2 0 1 0-5.4,0zM1357.0,902.3l2.7-5.1a3.2,3.2 0 1 0-5.4,0zM1306.0,918.8l2.7-5.1a3.2,3.2 0 1 0-5.4,0zM1314.5,918.8l2.7-5.1a3.2,3.2 0 1 0-5.4,0zM1323.0,918.8l2.7-5.1a3.2,3.2 0 1 0-5.4,0zM1331.5,918.8l2.7-5.1a3.2,3.2 0 1 0-5.4,0zM1340.0,918.8l2.7-5.1a3.2,3.2 0 1 0-5.4,0zM1348.5,918.8l2.7-5.1a3.2,3.2 0 1 0-5.4,0zM1312.0,932.8l2.7-5.1a3.2,3.2 0 1 0-5.4,0zM1320.5,932.8l2.7-5.1a3.2,3.2 0 1 0-5.4,0zM1329.0,932.8l2.7-5.1a3.2,3.2 0 1 0-5.4,0zM1337.5,932.8l2.7-5.1a3.2,3.2 0 1 0-5.4,0zM1346.0,932.8l2.7-5.1a3.2,3.2 0 1 0-5.4,0zM1318.0,946.8l2.7-5.1a3.2,3.2 0 1 0-5.4,0zM1326.5,946.8l2.7-5.1a3.2,3.2 0 1 0-5.4,0zM1335.0,946.8l2.7-5.1a3.2,3.2 0 1 0-5.4,0zM1328.0,960.8l2.7-5.1a3.2,3.2 0 1 0-5.4,0zM1336.5,960.8l2.7-5.1a3.2,3.2 0 1 0-5.4,0zM1605.4,836.7l2.9-5.4a3.4,3.4 0 1 0-5.8,0zM1608.9,836.7l2.9-5.4a3.4,3.4 0 1 0-5.8,0zM1612.4,836.7l2.9-5.4a3.4,3.4 0 1 0-5.8,0zM1615.9,836.7l2.9-5.4a3.4,3.4 0 1 0-5.8,0zM1619.4,836.7l2.9-5.4a3.4,3.4 0 1 0-5.8,0zM1622.9,836.7l2.9-5.4a3.4,3.4 0 1 0-5.8,0zM1626.4,836.7l2.9-5.4a3.4,3.4 0 1 0-5.8,0zM1629.4,837.8l2.9-5.4a3.4,3.4 0 1 0-5.8,0zM1631.9,840.3l2.9-5.4a3.4,3.4 0 1 0-5.8,0zM1634.4,842.8l2.9-5.4a3.4,3.4 0 1 0-5.8,0zM1636.8,845.3l2.9-5.4a3.4,3.4 0 1 0-5.8,0zM1639.3,847.7l2.9-5.4a3.4,3.4 0 1 0-5.8,0zM1641.8,850.2l2.9-5.4a3.4,3.4 0 1 0-5.8,0zM1644.2,852.7l2.9-5.4a3.4,3.4 0 1 0-5.8,0zM1646.7,855.2l2.9-5.4a3.4,3.4 0 1 0-5.8,0zM1649.2,857.7l2.9-5.4a3.4,3.4 0 1 0-5.8,0zM1651.5,860.2l2.9-5.4a3.4,3.4 0 1 0-5.8,0zM1653.5,863.1l2.9-5.4a3.4,3.4 0 1 0-5.8,0zM1655.4,866.1l2.9-5.4a3.4,3.4 0 1 0-5.8,0zM1657.4,869.0l2.9-5.4a3.4,3.4 0 1 0-5.8,0zM1659.3,871.9l2.9-5.4a3.4,3.4 0 1 0-5.8,0zM1661.3,874.8l2.9-5.4a3.4,3.4 0 1 0-5.8,0zM1663.2,877.7l2.9-5.4a3.4,3.4 0 1 0-5.8,0zM1665.2,880.6l2.9-5.4a3.4,3.4 0 1 0-5.8,0zM1667.1,883.5l2.9-5.4a3.4,3.4 0 1 0-5.8,0zM1669.0,886.4l2.9-5.4a3.4,3.4 0 1 0-5.8,0zM1671.0,889.3l2.9-5.4a3.4,3.4 0 1 0-5.8,0zM1672.8,892.3l2.9-5.4a3.4,3.4 0 1 0-5.8,0zM1674.6,895.3l2.9-5.4a3.4,3.4 0 1 0-5.8,0zM1676.4,898.3l2.9-5.4a3.4,3.4 0 1 0-5.8,0zM1678.2,901.3l2.9-5.4a3.4,3.4 0 1 0-5.8,0zM1680.0,904.3l2.9-5.4a3.4,3.4 0 1 0-5.8,0zM1681.8,907.3l2.9-5.4a3.4,3.4 0 1 0-5.8,0zM1683.6,910.3l2.9-5.4a3.4,3.4 0 1 0-5.8,0zM1685.4,913.3l2.9-5.4a3.4,3.4 0 1 0-5.8,0zM1363.8,833.2l2.5-4.8a3.0,3.0 0 1 0-5.1,0zM1367.5,831.7l2.5-4.8a3.0,3.0 0 1 0-5.1,0zM1371.2,830.1l2.5-4.8a3.0,3.0 0 1 0-5.1,0zM1374.9,828.6l2.5-4.8a3.0,3.0 0 1 0-5.1,0zM1378.6,827.1l2.5-4.8a3.0,3.0 0 1 0-5.1,0zM1382.5,826.5l2.5-4.8a3.0,3.0 0 1 0-5.1,0zM1386.5,826.1l2.5-4.8a3.0,3.0 0 1 0-5.1,0zM1390.5,825.7l2.5-4.8a3.0,3.0 0 1 0-5.1,0zM1394.5,825.3l2.5-4.8a3.0,3.0 0 1 0-5.1,0zM1398.4,824.9l2.5-4.8a3.0,3.0 0 1 0-5.1,0zM1402.4,824.5l2.5-4.8a3.0,3.0 0 1 0-5.1,0zM1406.4,824.2l2.5-4.8a3.0,3.0 0 1 0-5.1,0zM1410.4,824.0l2.5-4.8a3.0,3.0 0 1 0-5.1,0zM1414.4,823.8l2.5-4.8a3.0,3.0 0 1 0-5.1,0zM1418.4,823.6l2.5-4.8a3.0,3.0 0 1 0-5.1,0zM1422.4,823.4l2.5-4.8a3.0,3.0 0 1 0-5.1,0zM1426.4,823.1l2.5-4.8a3.0,3.0 0 1 0-5.1,0zM1430.2,822.1l2.5-4.8a3.0,3.0 0 1 0-5.1,0zM1434.0,820.9l2.5-4.8a3.0,3.0 0 1 0-5.1,0zM1437.8,819.6l2.5-4.8a3.0,3.0 0 1 0-5.1,0zM1441.6,818.3l2.5-4.8a3.0,3.0 0 1 0-5.1,0zM1444.9,816.2l2.5-4.8a3.0,3.0 0 1 0-5.1,0zM1448.0,813.6l2.5-4.8a3.0,3.0 0 1 0-5.1,0zM1451.1,811.1l2.5-4.8a3.0,3.0 0 1 0-5.1,0zM1454.3,808.6l2.5-4.8a3.0,3.0 0 1 0-5.1,0zM1457.2,805.9l2.5-4.8a3.0,3.0 0 1 0-5.1,0zM1460.0,803.1l2.5-4.8a3.0,3.0 0 1 0-5.1,0zM1462.8,800.3l2.5-4.8a3.0,3.0 0 1 0-5.1,0zM1465.7,797.4l2.5-4.8a3.0,3.0 0 1 0-5.1,0zM1468.4,794.5l2.5-4.8a3.0,3.0 0 1 0-5.1,0zM1470.7,791.3l2.5-4.8a3.0,3.0 0 1 0-5.1,0zM1473.1,788.0l2.5-4.8a3.0,3.0 0 1 0-5.1,0zM1475.4,784.8l2.5-4.8a3.0,3.0 0 1 0-5.1,0zM1477.7,781.5l2.5-4.8a3.0,3.0 0 1 0-5.1,0zM1480.0,778.2l2.5-4.8a3.0,3.0 0 1 0-5.1,0zM1482.2,774.9l2.5-4.8a3.0,3.0 0 1 0-5.1,0zM1484.2,771.5l2.5-4.8a3.0,3.0 0 1 0-5.1,0zM1486.3,768.0l2.5-4.8a3.0,3.0 0 1 0-5.1,0zM1488.4,764.6l2.5-4.8a3.0,3.0 0 1 0-5.1,0zM1492.0,766.2l2.4-4.5a2.8,2.8 0 1 0-4.8,0zM1492.0,775.2l2.4-4.5a2.8,2.8 0 1 0-4.8,0zM1492.0,784.2l2.4-4.5a2.8,2.8 0 1 0-4.8,0zM1492.0,793.2l2.4-4.5a2.8,2.8 0 1 0-4.8,0zM1492.0,802.2l2.4-4.5a2.8,2.8 0 1 0-4.8,0zM1492.0,811.2l2.4-4.5a2.8,2.8 0 1 0-4.8,0zM1492.0,820.2l2.4-4.5a2.8,2.8 0 1 0-4.8,0zM1492.0,829.2l2.4-4.5a2.8,2.8 0 1 0-4.8,0zM1492.0,838.2l2.4-4.5a2.8,2.8 0 1 0-4.8,0zM1492.0,847.2l2.4-4.5a2.8,2.8 0 1 0-4.8,0zM1492.0,856.2l2.4-4.5a2.8,2.8 0 1 0-4.8,0zM1492.0,1054.2l2.4-4.5a2.8,2.8 0 1 0-4.8,0zM1492.0,1063.2l2.4-4.5a2.8,2.8 0 1 0-4.8,0zM1492.0,1072.2l2.4-4.5a2.8,2.8 0 1 0-4.8,0z" fill="#8a98fc"/>
<line x1="1494.5" y1="203" x2="1494.5" y2="352" stroke="#000" stroke-width="3.4" stroke-dasharray="3.4 11"/>
<line x1="1495" y1="715" x2="1495" y2="858" stroke="#000" stroke-width="3.4" stroke-dasharray="3.4 11"/>
<text x="1489" y="188" font-size="34" font-family="'Liberation Serif','Times New Roman',serif" text-anchor="start" >&#915;</text>
<text x="1489" y="699" font-size="34" font-family="'Liberation Serif','Times New Roman',serif" text-anchor="start" >&#915;</text>
<text x="1380" y="142" font-size="48" font-family="'Liberation Serif','Times New Roman',serif">+<tspan font-style="italic" font-size="52">s</tspan><tspan font-size="36" dy="14" font-style="italic">z</tspan></text>
<text x="1552" y="142" font-size="48" font-family="'Liberation Sans',Arial,sans-serif">-s<tspan font-size="36" dy="14" font-style="italic" font-family="'Liberation Serif','Times New Roman',serif">z</tspan></text>
<text x="1351" y="1038" font-size="48" font-family="'Liberation Serif','Times New Roman',serif">+<tspan font-style="italic" font-size="52">s</tspan><tspan font-size="36" dy="14" font-style="italic">z</tspan></text>
<text x="1578" y="1038" font-size="48" font-family="'Liberation Sans',Arial,sans-serif">-s<tspan font-size="36" dy="14" font-style="italic" font-family="'Liberation Serif','Times New Roman',serif">z</tspan></text>
<text x="1480" y="1131" font-size="36" font-family="'Liberation Serif','Times New Roman',serif" font-weight="bold" font-style="italic">kx</text>
<text transform="translate(1721,897) rotate(102)" font-size="32" font-family="'Liberation Serif','Times New Roman',serif" font-weight="bold" font-style="italic">ky</text></svg></body></html>
